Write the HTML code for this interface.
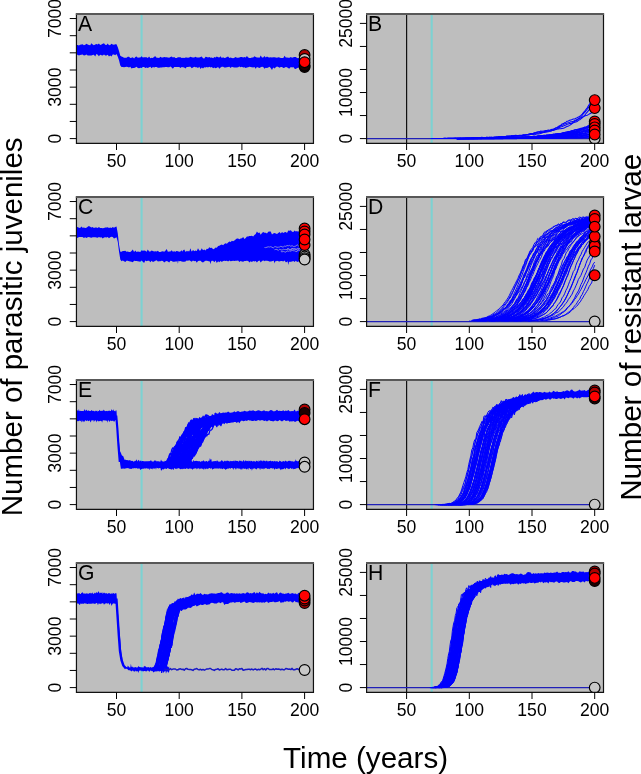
<!DOCTYPE html>
<html><head><meta charset="utf-8"><style>
html,body{margin:0;padding:0;background:#fff;}
svg{display:block;font-family:"Liberation Sans", sans-serif;will-change:transform;filter:blur(0.35px);}
</style></head><body>
<svg width="641" height="774" viewBox="0 0 641 774">
<rect width="641" height="774" fill="#fff"/>
<defs>
<clipPath id="cp00"><rect x="76.45" y="14.0" width="237.00" height="129.40"/></clipPath>
<clipPath id="cp01"><rect x="76.45" y="197.1" width="237.00" height="129.30"/></clipPath>
<clipPath id="cp02"><rect x="76.45" y="380.0" width="237.00" height="129.40"/></clipPath>
<clipPath id="cp03"><rect x="76.45" y="563.1" width="237.00" height="129.30"/></clipPath>
<clipPath id="cp10"><rect x="366.6" y="14.0" width="236.90" height="129.40"/></clipPath>
<clipPath id="cp11"><rect x="366.6" y="197.1" width="236.90" height="129.30"/></clipPath>
<clipPath id="cp12"><rect x="366.6" y="380.0" width="236.90" height="129.40"/></clipPath>
<clipPath id="cp13"><rect x="366.6" y="563.1" width="236.90" height="129.30"/></clipPath>
</defs>
<rect x="76.45" y="14.0" width="237.00" height="129.40" fill="#bebebe"/>
<g clip-path="url(#cp00)">
<line x1="141.58" y1="14.0" x2="141.58" y2="143.4" stroke="#7cd2d2" stroke-width="2.1"/>
<path d="M66.3 44l1.3 .8 1.2-.8 1.3-.3 1.3 1.6 1.2-.8 1.3 .4 1.2-.9 1.3 .9 1.2 .2 1.3 .4 1.2-.7 1.3-.3 1.2-.2 1.3 .9 1.3-.5 1.2-.9 1.3 .8 1.2 .3 1.3 .3 1.2-1.9 1.3 1.2 1.2 .7 1.3-.7 1.2-.4 1.3 .5 1.2-1 1.3 1.5 1.3-.7 1.2-.6 1.3-.6 1.2 1.5 1.3 .3 1.2-1.4 1.3 1.6 1.2-.1 1.3-1.3 1.2 .6 1.3 .3 1.2-.5 1.3 .1 1.3 3 1.2 3.7 1.3 4.8 1.2 .7 1.3 .6 1.2 .7 1.3-.1 1.2 .1 1.3-1 1.2 0 1.3 1.1 1.2-.1 1.3-.5 1.3 1.2 1.2-1.4 1.3-.7 1.2 1.3 1.3-.2 1.2 .1 1.3-1.4 1.2 1.4 1.3-.4 1.2 .1 1.3-.1 1.2 .9 1.3-1.5 1.3 1.6 1.2-.5 1.3 .2 1.2-1.1 1.3-.5 1.2 1.5 1.3 0 1.2 .1 1.3-1.1 1.2 .7 1.3 .1 1.3-.5 1.2 .2 1.3-.1 1.2 .2 1.3 .3 1.2-.6 1.3-.5 1.2 1 1.3-.7 1.2 1 1.3 .1 1.2-.8 1.3 .1 1.3 0 1.2 .7 1.3-.2 1.2 .1 1.3-.3 1.2 0 1.3 .2 1.2-.3 1.3-.8 1.2 .6 1.3 .3 1.2-.2 1.3-.6 1.3 .6 1.2 .1 1.3 0 1.2-.6 1.3-.4 1.2 1.7 1.3 .2 1.2-1.7 1.3 .3 1.2 .5 1.3-.4 1.3 .7 1.2-.4 1.3 .8 1.2-1.3 1.3 .6 1.2-1.1 1.3 .9 1.2 .3 1.3-1.3 1.2 1.7 1.3-.7 1.2 .8 1.3-.3 1.3-.9 1.2-.3 1.3 1.3 1.2-.5 1.3 .6 1.2 .2 1.3-.5 1.2-.8 1.3 .9 1.2-.1 1.3-.3 1.2-.5 1.3 0 1.3 .6 1.2-.6 1.3 .5 1.2-1.3 1.3 1.5 1.2 .4 1.3 .1 1.2-.6 1.3-.1 1.2-1.2 1.3 .9 1.2 .4 1.3-.1 1.3 .3 1.2-2.1 1.3 1.9 1.2-.1 1.3-1.5 1.2 1.7 1.3-1.1 1.2 .8 1.3 .3 1.2-.3 1.3 .3 1.2-.3 1.3 0 1.3 .3 1.2 .2 1.3-.5 1.2 .1 1.3 .6 1.2 .1 1.3 0 1.2-2.3 1.3 1.6 1.2 0 1.3 .4 1.3-.1 1.2-.6 1.3 .6 1.2-.5 1.3-.1 1.2 0 1.3 .8 1.2 .3 1.3-1 1.2 0 1.3-.5 1.2-.7 1.3 2.1 1.3-1 0 10-1.3 .5-1.3 .2-1.2-.3-1.3 0-1.2-.3-1.3 .6-1.2 .3-1.3 .8-1.2-.2-1.3-1.8-1.2 .5-1.3-.4-1.2 1.5-1.3-.2-1.3-1-1.2-.2-1.3 .7-1.2 .2-1.3-1.1-1.2 .1-1.3 .8-1.2-.7-1.3-.5-1.2 .6-1.3 1.3-1.3-.9-1.2 2.3-1.3-2-1.2-1.1-1.3 .7-1.2 .5-1.3-.2-1.2 1-1.3-1.9-1.2-.1-1.3 .4-1.2 .7-1.3-.4-1.3-.5-1.2 1.7-1.3-1.8-1.2 .5-1.3-.1-1.2-.4-1.3-.2-1.2 .6-1.3 .2-1.2 .5-1.3-.8-1.2 .3-1.3-.8-1.3 .6-1.2-.7-1.3 .7-1.2 .3-1.3 0-1.2-.1-1.3-.3-1.2-.4-1.3 1.3-1.2-1.4-1.3 .4-1.2 .1-1.3 .3-1.3-.1-1.2-.6-1.3-.1-1.2 .7-1.3 1.3-1.2-1.7-1.3 .8-1.2 .5-1.3-.8-1.2 .8-1.3-1.3-1.2 .4-1.3-.6-1.3 .8-1.2-.6-1.3 .4-1.2-.1-1.3 1.2-1.2-1.1-1.3 1.7-1.2-2.3-1.3 1.2-1.2-.7-1.3-.1-1.3-.4-1.2 .6-1.3 .8-1.2-1.4-1.3 0-1.2 .1-1.3 0-1.2 1.5-1.3-1-1.2-.2-1.3-.1-1.2 .8-1.3-.9-1.3 .1-1.2-.1-1.3 .1-1.2-.2-1.3 1.8-1.2-1.1-1.3-1.1-1.2 .8-1.3-.1-1.2-.3-1.3 .1-1.2 .2-1.3 0-1.3 .4-1.2-.1-1.3 .2-1.2 0-1.3-.8-1.2 0-1.3 .5-1.2-.3-1.3 1.2-1.2-1.5-1.3 .4-1.3 .9-1.2-.7-1.3 .6-1.2-.9-1.3 0-1.2 1-1.3-.4-1.2 .6-1.3-.4-1.2-1.1-1.3 .7-1.2 .5-1.3-.1-1.3 .7-1.2-1.8-1.3 .6-1.2-.3-1.3-.4-1.2 .4-1.3 .1-1.2-.3-1.3 .1-1.2-1.6-1.3-5.1-1.2-3.6-1.3-2.6-1.3 1.1-1.2-.8-1.3 .2-1.2 1.9-1.3-1.1-1.2 1-1.3-1.6-1.2 .6-1.3 .2-1.2-1.1-1.3 1-1.2-.3-1.3-.4-1.3 1.5-1.2-1.6-1.3-.7-1.2 2.6-1.3-1.9-1.2 .2-1.3 .5-1.2 0-1.3 0-1.2 .2-1.3-1.2-1.2 .8-1.3 .4-1.3-1.1-1.2 .3-1.3 .1-1.2 .5-1.3-.6-1.2 .1-1.3-.4-1.2 .8-1.3-.4-1.2-.1-1.3 .8-1.3-1.3-1.2 2-1.3-1.4z" fill="#0000ff"/>
<circle cx="304.60" cy="55.00" r="5.35" fill="#b00000" stroke="#000" stroke-width="1.15"/>
<circle cx="304.60" cy="59.00" r="5.35" fill="#c8c8c8" stroke="#000" stroke-width="1.15"/>
<circle cx="304.60" cy="67.00" r="5.35" fill="#200000" stroke="#000" stroke-width="1.15"/>
<circle cx="304.60" cy="65.50" r="5.35" fill="#200000" stroke="#000" stroke-width="1.15"/>
<circle cx="304.60" cy="62.20" r="5.35" fill="#ff0000" stroke="#000" stroke-width="1.15"/>
</g>
<path d="M76.45 13.40V143.40H313.45V13.40" fill="none" stroke="#111" stroke-width="1.2"/>
<line x1="75.85" y1="14.00" x2="314.05" y2="14.00" stroke="#585858" stroke-width="2"/>
<line x1="116.50" y1="143.4" x2="116.50" y2="150.00" stroke="#000" stroke-width="1"/>
<text x="116.50" y="166.60" font-size="17.6" text-anchor="middle">50</text>
<line x1="179.20" y1="143.4" x2="179.20" y2="150.00" stroke="#000" stroke-width="1"/>
<text x="179.20" y="166.60" font-size="17.6" text-anchor="middle">100</text>
<line x1="241.90" y1="143.4" x2="241.90" y2="150.00" stroke="#000" stroke-width="1"/>
<text x="241.90" y="166.60" font-size="17.6" text-anchor="middle">150</text>
<line x1="304.60" y1="143.4" x2="304.60" y2="150.00" stroke="#000" stroke-width="1"/>
<text x="304.60" y="166.60" font-size="17.6" text-anchor="middle">200</text>
<line x1="69.75" y1="138.60" x2="76.45" y2="138.60" stroke="#000" stroke-width="1"/>
<text transform="translate(61.00,138.60) rotate(-90)" font-size="17.6" text-anchor="middle">0</text>
<line x1="69.75" y1="121.45" x2="76.45" y2="121.45" stroke="#000" stroke-width="1"/>
<line x1="69.75" y1="104.30" x2="76.45" y2="104.30" stroke="#000" stroke-width="1"/>
<line x1="69.75" y1="87.15" x2="76.45" y2="87.15" stroke="#000" stroke-width="1"/>
<text transform="translate(61.00,87.15) rotate(-90)" font-size="17.6" text-anchor="middle">3000</text>
<line x1="69.75" y1="70.00" x2="76.45" y2="70.00" stroke="#000" stroke-width="1"/>
<line x1="69.75" y1="52.84" x2="76.45" y2="52.84" stroke="#000" stroke-width="1"/>
<line x1="69.75" y1="35.69" x2="76.45" y2="35.69" stroke="#000" stroke-width="1"/>
<line x1="69.75" y1="18.54" x2="76.45" y2="18.54" stroke="#000" stroke-width="1"/>
<text transform="translate(61.00,18.54) rotate(-90)" font-size="17.6" text-anchor="middle">7000</text>
<text x="77.95" y="31.00" font-size="21.2">A</text>
<rect x="366.6" y="14.0" width="236.90" height="129.40" fill="#bebebe"/>
<g clip-path="url(#cp10)">
<line x1="406.60" y1="14.0" x2="406.60" y2="143.4" stroke="#111" stroke-width="1.2"/>
<line x1="431.68" y1="14.0" x2="431.68" y2="143.4" stroke="#7cd2d2" stroke-width="2.1"/>
<path d="M356.4 138.6l239.6 0" fill="none" stroke="#2020b8" stroke-width="1.4" stroke-linejoin="round"/>
<path d="M431.7 138.4l1.2 0 1.3 0 1.2 0 1.3 0 1.3 0 1.2 0 1.3 0 1.2 0 1.3 0 1.2-.1 1.3 0 1.2 .1 1.3-.1 1.2-.1 1.3 .1 1.2 0 1.3-.1 1.3 0 1.2-.1 1.3 .1 1.2 0 1.3-.1 1.2 0 1.3-.1 1.2 0 1.3 .2 1.2-.2 1.3 0 1.2 0 1.3 0 1.3 .1 1.2-.3 1.3 .1 1.2 0 1.3-.2 1.2 0 1.3 .1 1.2-.1 1.3-.1 1.2-.3 1.3 .2 1.2 0 1.3-.1 1.3-.1 1.2 .3 1.3-.3 1.2-.1 1.3 .1 1.2-.1 1.3-.1 1.2 0 1.3 .1 1.2-.2 1.3-.3 1.2 .1 1.3 0 1.3-.3 1.2 .1 1.3-.2 1.2-.4 1.3 .1 1.2 .1 1.3-.2 1.2-.3 1.3 0 1.2-.3 1.3-.2 1.3 .3 1.2-.1 1.3-.1 1.2-.1 1.3-.1 1.2-.2 1.3 0 1.2-.1 1.3-.4 1.2-.1 1.3-.6 1.2-.2 1.3 0 1.3-.2 1.2-.6 1.3-.3 1.2-.5 1.3-.1 1.2-.1 1.3-.6 1.2 .1 1.3-.2 1.2-.2 1.3-.4 1.2 .1 1.3-.5 1.3 .2 1.2-.4 1.3-.6 1.2 0 1.3-.6 1.2-.8 1.3-.2 1.2-1.2 1.3-.6 1.2-.6 1.3-1.3 1.3-.3 1.2-.8 1.3-.7 1.2-.8 1.3-.3 1.2-.7 1.3-.4 1.2-.3 1.3-.5 1.2 0 1.3-.9 1.2-.5 1.3-.6 1.3-.8 1.2-.9 1.3-1.2 1.2-1.5 1.3-1.6 1.2-1.6 1.3-1.7 1.2-1.9 1.3-2 1.2-2.1 1.3-1.1 1.2-1.8 1.3-1.6" fill="none" stroke="#0000ff" stroke-width="1.05" stroke-linejoin="round"/>
<path d="M431.7 138.4l1.2 0 1.3 0 1.2 0 1.3 0 1.3 0 1.2 0 1.3 0 1.2 0 1.3 0 1.2-.1 1.3 0 1.2 0 1.3 0 1.2-.1 1.3 .1 1.2-.1 1.3 0 1.3 0 1.2 0 1.3 0 1.2-.1 1.3 .1 1.2-.1 1.3 .1 1.2-.1 1.3 0 1.2 0 1.3 0 1.2 0 1.3 0 1.3-.1 1.2 0 1.3 0 1.2-.1 1.3-.1 1.2 0 1.3 .1 1.2-.2 1.3-.1 1.2 0 1.3 0 1.2 0 1.3-.2 1.3-.1 1.2 .2 1.3-.2 1.2 .1 1.3 0 1.2 .1 1.3 0 1.2-.2 1.3-.2 1.2-.2 1.3 0 1.2 0 1.3-.4 1.3 .2 1.2-.2 1.3 0 1.2-.2 1.3-.1 1.2-.2 1.3 0 1.2-.3 1.3 .2 1.2 .2 1.3-.3 1.3 0 1.2-.3 1.3 .3 1.2-.4 1.3 .1 1.2-.3 1.3-.3 1.2 .1 1.3-.4 1.2-.2 1.3-.2 1.2-.4 1.3-.3 1.3-.1 1.2-.4 1.3-.2 1.2-.4 1.3-.3 1.2-.1 1.3-.1 1.2-.1 1.3 .1 1.2-.6 1.3 .1 1.2-.5 1.3-.1 1.3-.2 1.2-.6 1.3-.3 1.2-.2 1.3-.5 1.2-.6 1.3-.8 1.2-.2 1.3-1 1.2-.8 1.3-.3 1.3-.7 1.2-.7 1.3-.3 1.2-.6 1.3-.3 1.2-.4 1.3-.6 1.2 0 1.3-.5 1.2-.6 1.3-.5 1.2-.5 1.3-1 1.3-.9 1.2-1 1.3-1.4 1.2-1.6 1.3-1.3 1.2-1.5 1.3-1.7 1.2-1.5 1.3-1.7 1.2-1.4 1.3-1.3 1.2-1.4 1.3-.8" fill="none" stroke="#0000ff" stroke-width="1.05" stroke-linejoin="round"/>
<path d="M431.7 138.5l1.2 0 1.3 0 1.2-.1 1.3 .1 1.3-.1 1.2 0 1.3 0 1.2 0 1.3 0 1.2 0 1.3 0 1.2 0 1.3-.1 1.2 0 1.3 0 1.2 0 1.3 0 1.3 0 1.2 0 1.3 0 1.2-.1 1.3 0 1.2 0 1.3 0 1.2 0 1.3 0 1.2-.1 1.3 0 1.2 0 1.3 0 1.3-.1 1.2 .1 1.3-.1 1.2 0 1.3-.1 1.2 0 1.3-.1 1.2 0 1.3-.2 1.2-.1 1.3 0 1.2 .2 1.3-.2 1.3 .1 1.2 .1 1.3-.2 1.2 .2 1.3 0 1.2-.2 1.3 .2 1.2-.3 1.3-.2 1.2 .1 1.3-.2 1.2-.2 1.3-.1 1.3 .4 1.2-.5 1.3 0 1.2-.2 1.3 0 1.2-.2 1.3-.1 1.2-.2 1.3-.1 1.2 0 1.3 .1 1.3 .3 1.2-.2 1.3 0 1.2-.3 1.3-.1 1.2-.3 1.3 0 1.2-.5 1.3 .1 1.2 .1 1.3-.4 1.2-.2 1.3-.4 1.3-.5 1.2-.1 1.3-.2 1.2 0 1.3-.1 1.2-.6 1.3-.1 1.2-.1 1.3-.2 1.2-.2 1.3 0 1.2-.1 1.3-.2 1.3-.4 1.2-.1 1.3-.6 1.2 0 1.3-.7 1.2-.4 1.3-.6 1.2-.7 1.3-.6 1.2-.8 1.3-.1 1.3-.8 1.2-.5 1.3-.3 1.2-.8 1.3-.3 1.2-.4 1.3-.1 1.2-.5 1.3-.3 1.2-.5 1.3-.3 1.2-.4 1.3-1.2 1.3-.5 1.2-1 1.3-1 1.2-1.5 1.3-1 1.2-1.6 1.3-1.5 1.2-1.5 1.3-1.7 1.2-1.2 1.3-1.6 1.2-1.1 1.3-1" fill="none" stroke="#0000ff" stroke-width="1.05" stroke-linejoin="round"/>
<path d="M431.7 138.5l1.2 0 1.3 0 1.2 0 1.3-.1 1.3 0 1.2 0 1.3 0 1.2 0 1.3 0 1.2 0 1.3 0 1.2 0 1.3 0 1.2 0 1.3 0 1.2 0 1.3 0 1.3-.2 1.2 .1 1.3 0 1.2 0 1.3 0 1.2-.1 1.3 0 1.2 0 1.3-.1 1.2 0 1.3 0 1.2 0 1.3 0 1.3-.1 1.2 .1 1.3-.2 1.2 .1 1.3-.1 1.2 .1 1.3 0 1.2 0 1.3-.1 1.2 0 1.3-.1 1.2-.1 1.3 .1 1.3 0 1.2-.2 1.3 0 1.2-.1 1.3 .1 1.2-.2 1.3-.1 1.2-.1 1.3-.2 1.2 .1 1.3 0 1.2 0 1.3 0 1.3 0 1.2-.1 1.3 0 1.2 0 1.3-.1 1.2-.1 1.3 0 1.2-.5 1.3 .4 1.2-.5 1.3 .1 1.3-.2 1.2 0 1.3-.4 1.2-.3 1.3 .2 1.2-.3 1.3-.1 1.2-.1 1.3 0 1.2-.1 1.3-.2 1.2-.3 1.3 .1 1.3 0 1.2 .1 1.3-.4 1.2-.2 1.3 0 1.2-.4 1.3-.3 1.2-.3 1.3-.6 1.2 0 1.3-.4 1.2-.5 1.3-.5 1.3-.2 1.2-.1 1.3-.6 1.2-.4 1.3 0 1.2-.5 1.3-.3 1.2 .1 1.3-.3 1.2-.1 1.3-.3 1.3-.2 1.2-.5 1.3-.6 1.2-.5 1.3-.5 1.2-.7 1.3-.9 1.2-.9 1.3-1.5 1.2-.6 1.3-.8 1.2-.7 1.3-1.1 1.3-.3 1.2-.8 1.3-.7 1.2-.4 1.3-.6 1.2-.5 1.3-.3 1.2-.7 1.3-.8 1.2-.6 1.3-.9 1.2-1.4 1.3-1" fill="none" stroke="#0000ff" stroke-width="1.05" stroke-linejoin="round"/>
<path d="M456.8 138.5l1.2 0 1.3-.1 1.2 0 1.3 0 1.2 0 1.3 0 1.2 0 1.3 0 1.2-.1 1.3 .1 1.3-.1 1.2 0 1.3 0 1.2 0 1.3 0 1.2 0 1.3-.1 1.2 .1 1.3-.1 1.2 0 1.3 0 1.2 0 1.3 0 1.3 0 1.2-.1 1.3 0 1.2 0 1.3 0 1.2-.1 1.3 0 1.2 0 1.3 0 1.2-.1 1.3 0 1.2-.1 1.3-.1 1.3 .2 1.2-.2 1.3 .1 1.2-.1 1.3 0 1.2-.1 1.3 0 1.2-.1 1.3-.1 1.2 0 1.3 0 1.3 0 1.2 0 1.3-.2 1.2-.1 1.3-.3 1.2 .3 1.3 0 1.2-.3 1.3 .1 1.2 .1 1.3-.3 1.2 .1 1.3-.2 1.3-.4 1.2 .1 1.3-.1 1.2 0 1.3-.3 1.2-.1 1.3-.2 1.2 0 1.3-.2 1.2 0 1.3-.1 1.2-.2 1.3-.2 1.3-.1 1.2-.1 1.3 0 1.2-.7 1.3 .2 1.2-.1 1.3 0 1.2-.5 1.3 0 1.2-.2 1.3-.4 1.3-.5 1.2 0 1.3-.5 1.2 0 1.3-.6 1.2 .1 1.3-.6 1.2-.5 1.3-.2 1.2-.5 1.3-.1 1.2-.1 1.3-.6 1.3-.1 1.2-.6 1.3-.1 1.2-.1 1.3-1 1.2 0 1.3-.5 1.2-1 1.3-.5 1.2-.6 1.3-.4 1.2-1 1.3-.7" fill="none" stroke="#0000ff" stroke-width="1.05" stroke-linejoin="round"/>
<path d="M456.8 138.5l1.2 0 1.3-.1 1.2 .1 1.3-.1 1.2 0 1.3 0 1.2 0 1.3 0 1.2 0 1.3-.1 1.3 .1 1.2-.1 1.3 0 1.2 0 1.3 0 1.2 0 1.3 0 1.2 0 1.3 0 1.2-.1 1.3 0 1.2 0 1.3 0 1.3-.1 1.2 .1 1.3-.1 1.2 0 1.3 0 1.2-.1 1.3 0 1.2 0 1.3 0 1.2-.1 1.3-.1 1.2 0 1.3 .1 1.3-.2 1.2 .1 1.3 0 1.2-.1 1.3-.1 1.2 .2 1.3-.1 1.2-.2 1.3 .1 1.2 0 1.3-.3 1.3 .3 1.2-.4 1.3 0 1.2-.2 1.3 .1 1.2-.2 1.3 .1 1.2 .1 1.3-.2 1.2-.1 1.3 .2 1.2-.4 1.3 .2 1.3-.3 1.2 0 1.3-.1 1.2-.1 1.3-.2 1.2-.2 1.3-.1 1.2 0 1.3-.2 1.2-.3 1.3-.1 1.2-.1 1.3-.1 1.3-.1 1.2-.1 1.3-.2 1.2-.1 1.3-.3 1.2-.4 1.3 .3 1.2-.4 1.3-.1 1.2-.2 1.3 0 1.3-.5 1.2 0 1.3-.4 1.2-.5 1.3-.3 1.2 0 1.3-.4 1.2-.3 1.3-.1 1.2-.6 1.3-.3 1.2-.4 1.3-.2 1.3-.4 1.2-.4 1.3 .1 1.2-.9 1.3-.1 1.2-.3 1.3-.5 1.2-.7 1.3-.4 1.2-.6 1.3-.8 1.2-.5 1.3-.8" fill="none" stroke="#0000ff" stroke-width="1.05" stroke-linejoin="round"/>
<path d="M456.8 138.5l1.2 0 1.3 0 1.2-.1 1.3 .1 1.2-.1 1.3 0 1.2 0 1.3 0 1.2 0 1.3 0 1.3 0 1.2 0 1.3-.1 1.2 0 1.3 0 1.2-.1 1.3 .1 1.2 0 1.3-.1 1.2 0 1.3 .1 1.2-.1 1.3-.1 1.3 .2 1.2-.1 1.3-.1 1.2 .1 1.3-.1 1.2 0 1.3-.1 1.2-.1 1.3 .1 1.2-.1 1.3 .1 1.2-.2 1.3 0 1.3 0 1.2 0 1.3 0 1.2 0 1.3 .1 1.2-.2 1.3 0 1.2 0 1.3-.1 1.2-.1 1.3 0 1.3-.1 1.2-.1 1.3 0 1.2-.2 1.3 .1 1.2-.3 1.3 .4 1.2-.1 1.3-.2 1.2-.2 1.3-.1 1.2 .2 1.3-.3 1.3 0 1.2-.2 1.3 .2 1.2-.4 1.3 .1 1.2-.4 1.3 .1 1.2 .1 1.3-.3 1.2-.1 1.3 0 1.2-.3 1.3 .1 1.3-.7 1.2 .2 1.3-.1 1.2-.5 1.3-.2 1.2 .2 1.3-.5 1.2-.1 1.3 0 1.2-.3 1.3 0 1.3-.4 1.2 0 1.3-.1 1.2-.3 1.3-.6 1.2 .2 1.3-.3 1.2-.5 1.3 0 1.2-.8 1.3 .2 1.2-.8 1.3-.1 1.3-.7 1.2-.6 1.3-.2 1.2-.4 1.3-.4 1.2-.3 1.3-.7 1.2-.2 1.3-.4 1.2-.5 1.3-.5 1.2-.5 1.3-.2" fill="none" stroke="#0000ff" stroke-width="1.05" stroke-linejoin="round"/>
<path d="M456.8 138.5l1.2 0 1.3 0 1.2-.1 1.3 .1 1.2-.1 1.3 0 1.2 0 1.3 0 1.2 0 1.3 0 1.3 0 1.2 0 1.3 0 1.2-.1 1.3 0 1.2 .1 1.3-.1 1.2 0 1.3 0 1.2 0 1.3-.1 1.2 .1 1.3 0 1.3-.1 1.2-.1 1.3 .1 1.2-.1 1.3 0 1.2 .1 1.3 0 1.2-.1 1.3-.1 1.2 0 1.3-.2 1.2 .1 1.3 .1 1.3-.1 1.2-.2 1.3 0 1.2 .1 1.3-.1 1.2 0 1.3 0 1.2-.1 1.3-.1 1.2 .2 1.3-.2 1.3-.1 1.2-.1 1.3 .1 1.2-.1 1.3 .1 1.2-.2 1.3 .1 1.2-.3 1.3-.1 1.2-.2 1.3 0 1.2 .2 1.3 .2 1.3-.7 1.2 0 1.3 .1 1.2 0 1.3-.3 1.2 .1 1.3-.4 1.2 .1 1.3 .1 1.2 0 1.3-.3 1.2-.2 1.3 0 1.3-.1 1.2-.2 1.3-.4 1.2 0 1.3-.1 1.2-.4 1.3-.3 1.2 .1 1.3-.2 1.2-.1 1.3-.3 1.3-.3 1.2-.1 1.3-.3 1.2-.2 1.3-.1 1.2-.2 1.3 0 1.2-.6 1.3-.1 1.2-.3 1.3-.1 1.2-.5 1.3-.5 1.3-.2 1.2-.6 1.3-.5 1.2-.1 1.3-.6 1.2-.3 1.3-.5 1.2-.5 1.3-.5 1.2-.6 1.3-.2 1.2-.5 1.3-.3" fill="none" stroke="#0000ff" stroke-width="1.05" stroke-linejoin="round"/>
<path d="M456.8 138.5l1.2 0 1.3 0 1.2 0 1.3 0 1.2 0 1.3 0 1.2-.1 1.3 0 1.2 0 1.3 0 1.3 0 1.2 0 1.3-.1 1.2 .1 1.3 0 1.2-.1 1.3 0 1.2 0 1.3 0 1.2 0 1.3 0 1.2-.1 1.3 0 1.3 0 1.2 0 1.3 0 1.2 0 1.3 0 1.2-.1 1.3 0 1.2 0 1.3 0 1.2 0 1.3-.1 1.2 0 1.3 0 1.3-.1 1.2 0 1.3 0 1.2 0 1.3-.2 1.2 .1 1.3-.1 1.2 0 1.3 .1 1.2-.1 1.3-.2 1.3 0 1.2 0 1.3-.2 1.2 .2 1.3-.2 1.2 0 1.3 0 1.2 .1 1.3-.3 1.2-.1 1.3 .2 1.2-.4 1.3-.1 1.3-.2 1.2 .3 1.3-.2 1.2 0 1.3-.1 1.2-.1 1.3-.2 1.2-.1 1.3 .1 1.2-.1 1.3 .1 1.2-.5 1.3-.1 1.3-.2 1.2 .2 1.3-.6 1.2 .1 1.3 0 1.2-.4 1.3-.1 1.2-.6 1.3 .1 1.2-.3 1.3 .1 1.3-.2 1.2-.3 1.3 .1 1.2-.2 1.3-.3 1.2-.2 1.3-.4 1.2-.1 1.3 .1 1.2-.7 1.3-.2 1.2-.5 1.3-.2 1.3-.4 1.2-.5 1.3-.7 1.2-.2 1.3-.1 1.2-.6 1.3-.3 1.2-.6 1.3-.5 1.2-.1 1.3-.4 1.2-.5 1.3-.4" fill="none" stroke="#0000ff" stroke-width="1.05" stroke-linejoin="round"/>
<path d="M456.8 138.5l1.2 0 1.3 0 1.2-.1 1.3 .1 1.2 0 1.3-.1 1.2 .1 1.3-.1 1.2 0 1.3 0 1.3 0 1.2 0 1.3 0 1.2 0 1.3 0 1.2-.1 1.3 0 1.2 0 1.3 0 1.2 0 1.3 0 1.2 0 1.3 0 1.3 0 1.2-.1 1.3 0 1.2 0 1.3 0 1.2 0 1.3 0 1.2 0 1.3-.1 1.2 0 1.3-.1 1.2 0 1.3-.1 1.3 0 1.2 0 1.3 .1 1.2-.1 1.3 .1 1.2 0 1.3-.3 1.2 .1 1.3-.1 1.2 0 1.3-.1 1.3 0 1.2 .1 1.3-.1 1.2-.1 1.3-.1 1.2 0 1.3-.1 1.2 0 1.3-.1 1.2 0 1.3-.3 1.2 .2 1.3 0 1.3-.2 1.2-.3 1.3 .3 1.2-.3 1.3-.5 1.2 .4 1.3 0 1.2-.1 1.3 .1 1.2-.2 1.3-.2 1.2-.4 1.3 0 1.3 0 1.2 0 1.3-.4 1.2-.1 1.3 0 1.2-.6 1.3-.1 1.2 0 1.3 0 1.2-.3 1.3-.4 1.3 .2 1.2-.4 1.3 .1 1.2-.2 1.3-.2 1.2-.1 1.3-.4 1.2 0 1.3-.2 1.2-.4 1.3-.1 1.2-.6 1.3-.2 1.3-.4 1.2-.6 1.3-.3 1.2-.4 1.3-.4 1.2-.3 1.3-.3 1.2-.6 1.3-.3 1.2-.6 1.3-.1 1.2-.3 1.3-.4" fill="none" stroke="#0000ff" stroke-width="1.05" stroke-linejoin="round"/>
<path d="M456.8 138.5l1.2 0 1.3 0 1.2 0 1.3 0 1.2 0 1.3-.1 1.2 .1 1.3-.1 1.2 0 1.3 0 1.3 0 1.2 0 1.3 0 1.2 0 1.3 0 1.2 0 1.3 0 1.2-.1 1.3 .1 1.2-.1 1.3 0 1.2 .1 1.3-.2 1.3 0 1.2 0 1.3 0 1.2 0 1.3 .1 1.2-.1 1.3 0 1.2 0 1.3-.1 1.2 0 1.3 .1 1.2-.1 1.3 0 1.3 0 1.2-.2 1.3 0 1.2 .1 1.3-.1 1.2-.1 1.3 0 1.2 0 1.3-.1 1.2 .1 1.3-.1 1.3-.1 1.2-.1 1.3-.1 1.2 .1 1.3-.2 1.2 .1 1.3-.1 1.2-.1 1.3 .2 1.2-.2 1.3-.1 1.2 0 1.3 0 1.3 .3 1.2-.7 1.3 .2 1.2-.1 1.3 0 1.2-.3 1.3-.4 1.2 .5 1.3-.5 1.2 .1 1.3-.3 1.2-.1 1.3 0 1.3 .1 1.2-.1 1.3-.3 1.2 .1 1.3-.3 1.2 0 1.3-.1 1.2-.1 1.3-.3 1.2-.1 1.3-.1 1.3-.2 1.2-.4 1.3 .2 1.2-.6 1.3 0 1.2-.4 1.3-.1 1.2-.7 1.3 .4 1.2-.6 1.3-.4 1.2-.1 1.3 .1 1.3-.5 1.2-.5 1.3-.1 1.2 0 1.3-.7 1.2-.1 1.3-.4 1.2 0 1.3-.8 1.2-.2 1.3-.8 1.2-.5 1.3-.3" fill="none" stroke="#0000ff" stroke-width="1.05" stroke-linejoin="round"/>
<path d="M456.8 138.5l1.2 0 1.3 0 1.2 0 1.3 0 1.2 0 1.3 0 1.2 0 1.3 0 1.2 0 1.3-.1 1.3 0 1.2 0 1.3 0 1.2 0 1.3 0 1.2 0 1.3 0 1.2 0 1.3-.1 1.2 .1 1.3-.1 1.2 0 1.3 0 1.3 0 1.2 0 1.3 0 1.2-.1 1.3 0 1.2 0 1.3 0 1.2 .1 1.3-.2 1.2 .1 1.3-.1 1.2 0 1.3 0 1.3 0 1.2-.1 1.3-.1 1.2 .1 1.3-.1 1.2 0 1.3-.1 1.2 0 1.3 0 1.2-.1 1.3 0 1.3 0 1.2 0 1.3-.1 1.2 .1 1.3-.1 1.2-.1 1.3 0 1.2-.1 1.3 .1 1.2-.1 1.3-.3 1.2 0 1.3 .2 1.3-.2 1.2-.1 1.3 0 1.2 0 1.3-.4 1.2 .2 1.3-.3 1.2 .1 1.3 0 1.2-.4 1.3 .2 1.2-.2 1.3-.1 1.3 0 1.2-.3 1.3-.1 1.2 .1 1.3 0 1.2-.4 1.3-.3 1.2 .4 1.3-.3 1.2-.3 1.3-.4 1.3-.1 1.2-.1 1.3-.4 1.2 .2 1.3-.4 1.2-.1 1.3-.4 1.2-.2 1.3-.1 1.2-.1 1.3-.2 1.2-.2 1.3-.2 1.3-.2 1.2-.1 1.3-.6 1.2-.4 1.3-.2 1.2-.2 1.3-.7 1.2-.3 1.3-.6 1.2-.3 1.3-.5 1.2-.6 1.3-.4" fill="none" stroke="#0000ff" stroke-width="1.05" stroke-linejoin="round"/>
<path d="M456.8 138.5l1.2 0 1.3 0 1.2 0 1.3 0 1.2 0 1.3 0 1.2 0 1.3 0 1.2 0 1.3 0 1.3-.1 1.2 .1 1.3-.1 1.2 0 1.3 0 1.2 0 1.3 0 1.2 0 1.3 0 1.2-.1 1.3 0 1.2 0 1.3 0 1.3 0 1.2 0 1.3 0 1.2 0 1.3 0 1.2-.1 1.3 .1 1.2 0 1.3-.1 1.2 0 1.3-.1 1.2 0 1.3 0 1.3 0 1.2-.1 1.3 0 1.2 0 1.3 0 1.2-.2 1.3 .1 1.2 .1 1.3-.2 1.2 0 1.3-.1 1.3 .1 1.2-.1 1.3-.1 1.2 .1 1.3 .1 1.2-.2 1.3-.1 1.2 .1 1.3-.1 1.2 .1 1.3-.4 1.2-.1 1.3 .1 1.3 0 1.2-.1 1.3 0 1.2-.4 1.3 .1 1.2 0 1.3 .1 1.2-.2 1.3-.2 1.2-.1 1.3 .2 1.2-.1 1.3 .2 1.3-.5 1.2 .2 1.3-.5 1.2 0 1.3-.2 1.2-.1 1.3-.2 1.2-.1 1.3-.1 1.2-.2 1.3 0 1.3-.3 1.2-.2 1.3 .1 1.2-.4 1.3-.2 1.2-.1 1.3-.2 1.2-.1 1.3-.3 1.2 .1 1.3-.1 1.2-.3 1.3-.5 1.3-.4 1.2-.1 1.3-.2 1.2-.2 1.3-.5 1.2-.4 1.3-.1 1.2-.7 1.3-.2 1.2-.4 1.3-.8 1.2-.2 1.3-.5" fill="none" stroke="#0000ff" stroke-width="1.05" stroke-linejoin="round"/>
<path d="M456.8 138.5l1.2 0 1.3 0 1.2 0 1.3 0 1.2 0 1.3 0 1.2 0 1.3 0 1.2 0 1.3 0 1.3 0 1.2-.1 1.3 0 1.2 0 1.3 .1 1.2-.1 1.3 0 1.2 0 1.3 0 1.2 0 1.3-.1 1.2 .1 1.3 0 1.3-.1 1.2 .1 1.3-.1 1.2 0 1.3 0 1.2 0 1.3-.1 1.2 0 1.3 0 1.2 0 1.3 0 1.2 0 1.3 0 1.3-.1 1.2 .1 1.3 0 1.2-.2 1.3 0 1.2-.1 1.3 0 1.2 .1 1.3-.1 1.2 0 1.3 0 1.3 0 1.2-.1 1.3 0 1.2 0 1.3-.1 1.2 0 1.3 0 1.2-.2 1.3 0 1.2-.1 1.3 .1 1.2-.1 1.3-.2 1.3 .2 1.2-.3 1.3 .2 1.2-.2 1.3-.1 1.2-.1 1.3 0 1.2 0 1.3-.2 1.2 .1 1.3-.4 1.2 .1 1.3-.1 1.3-.3 1.2 .2 1.3-.4 1.2-.3 1.3 .2 1.2-.1 1.3 .1 1.2-.4 1.3 .2 1.2-.1 1.3-.1 1.3-.1 1.2-.3 1.3-.2 1.2 0 1.3-.1 1.2-.3 1.3-.2 1.2-.4 1.3 .1 1.2-.3 1.3-.5 1.2 0 1.3-.2 1.3-.4 1.2-.2 1.3-.3 1.2-.6 1.3-.1 1.2-.1 1.3-.2 1.2-.2 1.3-.8 1.2 0 1.3-.1 1.2-.2 1.3-.3" fill="none" stroke="#0000ff" stroke-width="1.05" stroke-linejoin="round"/>
<path d="M456.8 138.5l1.2 0 1.3 0 1.2 0 1.3 0 1.2 0 1.3 0 1.2 0 1.3 0 1.2 0 1.3 0 1.3 0 1.2 0 1.3 0 1.2 0 1.3-.1 1.2 0 1.3 0 1.2 0 1.3 0 1.2 0 1.3 0 1.2 0 1.3 0 1.3 0 1.2 0 1.3-.1 1.2 .1 1.3 0 1.2-.1 1.3 0 1.2 0 1.3-.1 1.2 0 1.3 0 1.2 0 1.3-.1 1.3 0 1.2 0 1.3 .1 1.2-.1 1.3 .1 1.2-.2 1.3 0 1.2 0 1.3-.1 1.2 .1 1.3-.1 1.3 0 1.2 0 1.3-.1 1.2 .1 1.3-.1 1.2-.2 1.3 .1 1.2-.2 1.3 .1 1.2-.2 1.3 0 1.2 .2 1.3-.3 1.3 0 1.2 0 1.3-.1 1.2 .2 1.3-.4 1.2 0 1.3 .2 1.2-.4 1.3 .1 1.2 .1 1.3-.2 1.2-.2 1.3-.1 1.3-.1 1.2-.1 1.3 0 1.2 .1 1.3-.2 1.2-.3 1.3-.2 1.2 .1 1.3-.4 1.2 .1 1.3-.1 1.3-.2 1.2-.1 1.3 .1 1.2-.4 1.3-.1 1.2-.1 1.3 0 1.2-.4 1.3 .1 1.2-.4 1.3-.2 1.2-.3 1.3-.3 1.3-.3 1.2 .1 1.3-.4 1.2-.4 1.3-.1 1.2-.5 1.3 0 1.2-.3 1.3-.4 1.2 0 1.3-.6 1.2 0 1.3-.5" fill="none" stroke="#0000ff" stroke-width="1.05" stroke-linejoin="round"/>
<path d="M456.8 138.6l1.2-.1 1.3 0 1.2 0 1.3 0 1.2 0 1.3 0 1.2 0 1.3 0 1.2 0 1.3 0 1.3 0 1.2 0 1.3 0 1.2 0 1.3-.1 1.2 .1 1.3 0 1.2-.1 1.3 0 1.2 0 1.3 0 1.2 0 1.3 0 1.3-.1 1.2 .1 1.3 0 1.2-.1 1.3 0 1.2 0 1.3 0 1.2 0 1.3 0 1.2 0 1.3-.1 1.2-.1 1.3 .1 1.3 0 1.2-.1 1.3 0 1.2 0 1.3 0 1.2 0 1.3 0 1.2-.1 1.3 0 1.2 0 1.3 0 1.3 0 1.2 0 1.3 0 1.2-.1 1.3 0 1.2-.2 1.3 .1 1.2-.2 1.3 0 1.2 .1 1.3-.1 1.2 0 1.3-.2 1.3 .2 1.2-.2 1.3-.1 1.2 0 1.3 0 1.2 0 1.3-.1 1.2-.3 1.3 .1 1.2 .1 1.3-.1 1.2-.2 1.3 .1 1.3-.2 1.2 0 1.3-.4 1.2 0 1.3 .2 1.2-.3 1.3 0 1.2 .1 1.3-.5 1.2 0 1.3-.3 1.3-.1 1.2-.1 1.3-.3 1.2-.2 1.3 .4 1.2-.3 1.3 0 1.2-.3 1.3-.1 1.2 0 1.3-.2 1.2-.4 1.3 .1 1.3-.5 1.2-.1 1.3 .1 1.2-.6 1.3-.1 1.2-.5 1.3-.2 1.2-.4 1.3-.3 1.2-.5 1.3-.3 1.2-.1 1.3-.6" fill="none" stroke="#0000ff" stroke-width="1.05" stroke-linejoin="round"/>
<path d="M456.8 138.6l1.2-.1 1.3 0 1.2 0 1.3 0 1.2 0 1.3 0 1.2 0 1.3 0 1.2 0 1.3 0 1.3 0 1.2 0 1.3 0 1.2 0 1.3 0 1.2 0 1.3 0 1.2-.1 1.3 .1 1.2-.1 1.3 0 1.2 0 1.3 0 1.3 0 1.2 0 1.3 0 1.2-.1 1.3 .1 1.2-.1 1.3 0 1.2 0 1.3 0 1.2 0 1.3 0 1.2 0 1.3 0 1.3-.1 1.2 0 1.3 .1 1.2-.1 1.3 0 1.2 0 1.3-.1 1.2-.1 1.3 .1 1.2 0 1.3-.1 1.3 0 1.2 0 1.3 0 1.2-.1 1.3 0 1.2 0 1.3-.1 1.2 0 1.3 0 1.2-.1 1.3-.2 1.2 .2 1.3-.3 1.3 .3 1.2-.1 1.3-.1 1.2-.2 1.3-.1 1.2 .1 1.3-.1 1.2-.1 1.3 0 1.2 .1 1.3-.1 1.2-.3 1.3-.2 1.3 .3 1.2-.2 1.3 .1 1.2 .1 1.3-.1 1.2-.3 1.3 .1 1.2-.1 1.3-.3 1.2-.1 1.3 0 1.3-.3 1.2-.2 1.3-.2 1.2 0 1.3-.2 1.2 0 1.3-.2 1.2 .1 1.3-.2 1.2-.5 1.3 .3 1.2-.4 1.3 .1 1.3-.3 1.2-.2 1.3-.1 1.2-.4 1.3-.1 1.2-.2 1.3-.4 1.2-.2 1.3-.5 1.2-.1 1.3-.6 1.2-.1 1.3-.3" fill="none" stroke="#0000ff" stroke-width="1.05" stroke-linejoin="round"/>
<path d="M456.8 138.6l1.2 0 1.3 0 1.2 0 1.3-.1 1.2 .1 1.3-.1 1.2 0 1.3 0 1.2 0 1.3 0 1.3 0 1.2 0 1.3 0 1.2 0 1.3 0 1.2 0 1.3 0 1.2-.1 1.3 .1 1.2 0 1.3-.1 1.2 .1 1.3 0 1.3-.1 1.2 0 1.3 0 1.2 0 1.3 0 1.2 0 1.3-.1 1.2 0 1.3 .1 1.2-.1 1.3 0 1.2 0 1.3 0 1.3 0 1.2-.1 1.3 .1 1.2-.1 1.3 0 1.2 0 1.3 0 1.2 .1 1.3-.1 1.2 0 1.3-.1 1.3 0 1.2-.1 1.3 0 1.2 0 1.3-.1 1.2 .1 1.3 0 1.2-.1 1.3-.1 1.2-.1 1.3 .1 1.2 0 1.3-.1 1.3-.1 1.2 .1 1.3-.2 1.2 .1 1.3-.2 1.2 0 1.3 .1 1.2-.2 1.3 .1 1.2 0 1.3-.3 1.2 .2 1.3-.3 1.3 .1 1.2-.1 1.3-.2 1.2-.1 1.3-.3 1.2 .1 1.3-.1 1.2 .3 1.3-.2 1.2-.4 1.3 .2 1.3-.1 1.2-.2 1.3 0 1.2 0 1.3-.3 1.2-.1 1.3 0 1.2-.3 1.3 0 1.2-.2 1.3-.3 1.2-.2 1.3 0 1.3-.2 1.2-.2 1.3-.4 1.2 0 1.3-.3 1.2-.1 1.3-.1 1.2-.5 1.3-.1 1.2-.2 1.3-.3 1.2 .2 1.3-.3" fill="none" stroke="#0000ff" stroke-width="1.05" stroke-linejoin="round"/>
<path d="M456.8 138.6l1.2 0 1.3 0 1.2 0 1.3 0 1.2 0 1.3 0 1.2-.1 1.3 0 1.2 0 1.3 0 1.3 0 1.2 0 1.3 0 1.2 0 1.3 0 1.2 0 1.3 0 1.2 0 1.3 0 1.2 0 1.3 0 1.2 0 1.3-.1 1.3 .1 1.2-.1 1.3 0 1.2 0 1.3 0 1.2 0 1.3 0 1.2 0 1.3 0 1.2 0 1.3 0 1.2 0 1.3-.1 1.3 0 1.2 0 1.3 0 1.2 0 1.3-.1 1.2 0 1.3 0 1.2 0 1.3 0 1.2-.1 1.3 0 1.3 0 1.2 .1 1.3-.1 1.2-.1 1.3 .1 1.2-.1 1.3 0 1.2 0 1.3-.1 1.2 .1 1.3-.2 1.2 .1 1.3-.1 1.3-.1 1.2-.1 1.3 .3 1.2-.1 1.3-.2 1.2 .1 1.3-.1 1.2-.1 1.3-.1 1.2 0 1.3 .1 1.2-.2 1.3-.3 1.3 .4 1.2-.2 1.3-.3 1.2 0 1.3-.1 1.2 .1 1.3 0 1.2-.1 1.3-.2 1.2-.1 1.3 .2 1.3-.3 1.2 .3 1.3-.6 1.2 .1 1.3-.2 1.2-.2 1.3 .1 1.2-.3 1.3-.3 1.2 0 1.3 0 1.2-.4 1.3 .2 1.3-.2 1.2-.3 1.3 .1 1.2-.1 1.3-.3 1.2-.2 1.3 .1 1.2-.2 1.3-.6 1.2-.1 1.3-.2 1.2-.3 1.3-.5" fill="none" stroke="#0000ff" stroke-width="1.05" stroke-linejoin="round"/>
<path d="M456.8 138.6l1.2 0 1.3 0 1.2 0 1.3 0 1.2 0 1.3 0 1.2 0 1.3 0 1.2 0 1.3 0 1.3-.1 1.2 0 1.3 0 1.2 0 1.3 0 1.2 0 1.3 0 1.2 0 1.3 0 1.2 0 1.3 0 1.2 0 1.3 0 1.3 0 1.2 0 1.3-.1 1.2 0 1.3 0 1.2 .1 1.3-.1 1.2 0 1.3 0 1.2 0 1.3 0 1.2 0 1.3 0 1.3-.1 1.2 0 1.3 0 1.2 .1 1.3-.1 1.2 0 1.3 0 1.2 0 1.3 0 1.2-.1 1.3 0 1.3-.1 1.2 .1 1.3-.1 1.2 .1 1.3-.1 1.2 0 1.3-.1 1.2 .1 1.3-.2 1.2 .1 1.3 0 1.2-.1 1.3 0 1.3 .1 1.2 0 1.3-.2 1.2 0 1.3 .1 1.2-.2 1.3 0 1.2-.2 1.3 .1 1.2-.1 1.3-.1 1.2 0 1.3-.2 1.3 0 1.2 0 1.3 .1 1.2-.2 1.3-.1 1.2 .2 1.3-.1 1.2-.2 1.3-.1 1.2 .1 1.3-.1 1.3-.2 1.2 .1 1.3-.2 1.2 .1 1.3-.4 1.2 .1 1.3-.2 1.2-.3 1.3 .2 1.2-.2 1.3-.4 1.2 .3 1.3-.5 1.3-.1 1.2 0 1.3 0 1.2-.2 1.3-.2 1.2 .1 1.3-.3 1.2 0 1.3 .1 1.2-.6 1.3-.6 1.2 .1 1.3-.4" fill="none" stroke="#0000ff" stroke-width="1.05" stroke-linejoin="round"/>
<path d="M456.8 138.6l1.2 0 1.3 0 1.2 0 1.3 0 1.2 0 1.3 0 1.2 0 1.3 0 1.2 0 1.3 0 1.3 0 1.2 0 1.3 0 1.2 0 1.3-.1 1.2 0 1.3 0 1.2 0 1.3 0 1.2 0 1.3 0 1.2 0 1.3 0 1.3 0 1.2 0 1.3 0 1.2 0 1.3 0 1.2 0 1.3 0 1.2-.1 1.3 0 1.2 0 1.3 .1 1.2-.1 1.3 0 1.3 0 1.2 0 1.3 0 1.2-.1 1.3 0 1.2 .1 1.3-.1 1.2 0 1.3 0 1.2 0 1.3 0 1.3 0 1.2 0 1.3 0 1.2-.1 1.3 0 1.2 0 1.3-.1 1.2 .1 1.3 0 1.2-.1 1.3-.1 1.2 .1 1.3-.1 1.3-.1 1.2-.1 1.3 .2 1.2-.1 1.3 0 1.2-.2 1.3 0 1.2 .1 1.3 0 1.2-.1 1.3 0 1.2 0 1.3-.1 1.3-.1 1.2-.1 1.3 .1 1.2-.1 1.3 .1 1.2-.1 1.3-.3 1.2 .3 1.3-.5 1.2 .2 1.3 0 1.3-.1 1.2-.5 1.3 .4 1.2-.1 1.3 0 1.2-.6 1.3 .1 1.2 .1 1.3-.2 1.2 .2 1.3-.4 1.2 .2 1.3-.2 1.3-.4 1.2-.1 1.3 0 1.2-.1 1.3 0 1.2-.4 1.3 0 1.2-.5 1.3-.4 1.2 .2 1.3-.1 1.2-.3 1.3-.2" fill="none" stroke="#0000ff" stroke-width="1.05" stroke-linejoin="round"/>
<path d="M456.8 138.6l1.2 0 1.3 0 1.2 0 1.3 0 1.2 0 1.3 0 1.2 0 1.3 0 1.2 0 1.3 0 1.3 0 1.2 0 1.3 0 1.2 0 1.3 0 1.2 0 1.3 0 1.2-.1 1.3 0 1.2 0 1.3 0 1.2 0 1.3 0 1.3 0 1.2 0 1.3 0 1.2 0 1.3 0 1.2 0 1.3 0 1.2 0 1.3 0 1.2-.1 1.3 .1 1.2 0 1.3 0 1.3-.1 1.2 0 1.3 0 1.2 0 1.3 0 1.2 0 1.3 0 1.2 0 1.3-.1 1.2 .1 1.3 0 1.3-.1 1.2 0 1.3 0 1.2 0 1.3 0 1.2 0 1.3 0 1.2-.1 1.3-.1 1.2 .1 1.3-.1 1.2 0 1.3 0 1.3-.1 1.2 .1 1.3 0 1.2-.1 1.3 0 1.2 0 1.3 0 1.2-.2 1.3 .1 1.2 0 1.3 0 1.2-.1 1.3 0 1.3-.1 1.2 0 1.3 0 1.2-.1 1.3 0 1.2-.1 1.3 0 1.2-.2 1.3 .1 1.2 0 1.3-.2 1.3 .1 1.2-.1 1.3-.3 1.2 .2 1.3 0 1.2-.3 1.3-.2 1.2 .2 1.3-.2 1.2 .3 1.3-.4 1.2-.1 1.3-.2 1.3 0 1.2-.3 1.3-.1 1.2 0 1.3-.3 1.2 .2 1.3-.5 1.2 .1 1.3-.2 1.2-.2 1.3 .3 1.2-.7 1.3 .4" fill="none" stroke="#0000ff" stroke-width="1.05" stroke-linejoin="round"/>
<path d="M456.8 138.6l1.2 0 1.3 0 1.2 0 1.3 0 1.2 0 1.3 0 1.2 0 1.3 0 1.2 0 1.3 0 1.3 0 1.2 0 1.3 0 1.2 0 1.3 0 1.2 0 1.3 0 1.2 0 1.3 0 1.2 0 1.3-.1 1.2 0 1.3 0 1.3 0 1.2 .1 1.3-.1 1.2 0 1.3 0 1.2 0 1.3 0 1.2 0 1.3 0 1.2 0 1.3 0 1.2 0 1.3 0 1.3 0 1.2 0 1.3-.1 1.2 .1 1.3 0 1.2 0 1.3-.1 1.2 0 1.3 0 1.2 0 1.3 0 1.3 0 1.2 0 1.3-.1 1.2 .1 1.3-.1 1.2 0 1.3 0 1.2 0 1.3 0 1.2-.1 1.3 .1 1.2-.1 1.3 0 1.3 0 1.2-.1 1.3 .1 1.2-.1 1.3 0 1.2 0 1.3 0 1.2-.1 1.3 0 1.2 0 1.3-.1 1.2 .1 1.3-.1 1.3 0 1.2-.1 1.3-.1 1.2 0 1.3 0 1.2 0 1.3-.1 1.2 0 1.3-.1 1.2 .1 1.3-.1 1.3-.1 1.2 .1 1.3-.1 1.2-.1 1.3 0 1.2 .2 1.3-.2 1.2-.1 1.3-.2 1.2 0 1.3 .2 1.2-.3 1.3 0 1.3-.1 1.2-.2 1.3 0 1.2-.3 1.3 0 1.2-.3 1.3 .4 1.2-.5 1.3-.1 1.2 .1 1.3-.4 1.2 0 1.3-.2" fill="none" stroke="#0000ff" stroke-width="1.05" stroke-linejoin="round"/>
<path d="M456.8 138.6l1.2 0 1.3 0 1.2 0 1.3 0 1.2 0 1.3 0 1.2 0 1.3 0 1.2 0 1.3 0 1.3 0 1.2 0 1.3 0 1.2 0 1.3 0 1.2 0 1.3 0 1.2 0 1.3 0 1.2 0 1.3 0 1.2 0 1.3 0 1.3 0 1.2 0 1.3 0 1.2 0 1.3 0 1.2 0 1.3 0 1.2-.1 1.3 0 1.2 0 1.3 0 1.2 0 1.3 0 1.3 0 1.2 0 1.3 0 1.2 0 1.3 0 1.2 0 1.3 0 1.2 0 1.3 0 1.2 0 1.3-.1 1.3 0 1.2 .1 1.3-.1 1.2 0 1.3 0 1.2 0 1.3-.1 1.2 .1 1.3 0 1.2 0 1.3-.1 1.2 0 1.3-.1 1.3 .1 1.2 0 1.3 0 1.2-.1 1.3 0 1.2 0 1.3 0 1.2 0 1.3 0 1.2 0 1.3 0 1.2 0 1.3-.2 1.3 0 1.2 0 1.3-.1 1.2 .1 1.3 0 1.2-.1 1.3 0 1.2 0 1.3-.1 1.2-.1 1.3 .1 1.3-.1 1.2 .1 1.3-.1 1.2 0 1.3-.2 1.2-.1 1.3 .1 1.2-.3 1.3 .2 1.2 0 1.3-.1 1.2-.1 1.3 0 1.3-.2 1.2 .1 1.3 .1 1.2-.3 1.3 0 1.2-.2 1.3-.1 1.2-.1 1.3-.1 1.2 .1 1.3-.5 1.2 .2 1.3 0" fill="none" stroke="#0000ff" stroke-width="1.05" stroke-linejoin="round"/>
<path d="M456.8 138.6l1.2 0 1.3 0 1.2 0 1.3 0 1.2 0 1.3 0 1.2 0 1.3 0 1.2 0 1.3 0 1.3 0 1.2 0 1.3 0 1.2 0 1.3 0 1.2 0 1.3 0 1.2 0 1.3 0 1.2 0 1.3 0 1.2 0 1.3 0 1.3 0 1.2 0 1.3 0 1.2 0 1.3 0 1.2 0 1.3 0 1.2 0 1.3 0 1.2 0 1.3 0 1.2 0 1.3 0 1.3 0 1.2-.1 1.3 0 1.2 0 1.3 0 1.2 0 1.3 0 1.2 0 1.3 0 1.2 0 1.3 0 1.3 0 1.2 0 1.3 0 1.2 0 1.3 0 1.2-.1 1.3 .1 1.2 0 1.3 0 1.2 0 1.3-.1 1.2 0 1.3 0 1.3 0 1.2-.1 1.3 0 1.2 0 1.3 0 1.2 0 1.3 0 1.2 0 1.3 0 1.2-.1 1.3 .1 1.2-.1 1.3 0 1.3-.1 1.2 .2 1.3-.1 1.2 0 1.3-.1 1.2 0 1.3-.1 1.2 .1 1.3-.1 1.2 .1 1.3-.2 1.3 0 1.2 0 1.3 .1 1.2-.2 1.3 0 1.2 0 1.3 0 1.2 0 1.3-.1 1.2 0 1.3 0 1.2-.1 1.3 0 1.3-.2 1.2 0 1.3 0 1.2-.1 1.3 .1 1.2-.1 1.3-.1 1.2 0 1.3-.5 1.2 .3 1.3-.1 1.2-.1 1.3-.3" fill="none" stroke="#0000ff" stroke-width="1.05" stroke-linejoin="round"/>
<path d="M456.8 138.6l1.2 0 1.3 0 1.2 0 1.3 0 1.2 0 1.3 0 1.2 0 1.3 0 1.2 0 1.3 0 1.3 0 1.2 0 1.3 0 1.2 0 1.3 0 1.2 0 1.3 0 1.2 0 1.3 0 1.2 0 1.3 0 1.2 0 1.3 0 1.3 0 1.2 0 1.3 0 1.2 0 1.3 0 1.2 0 1.3 0 1.2 0 1.3 0 1.2 0 1.3 0 1.2 0 1.3 0 1.3 0 1.2 0 1.3 0 1.2 0 1.3 0 1.2 0 1.3 0 1.2 0 1.3 0 1.2 0 1.3 0 1.3 0 1.2-.1 1.3 0 1.2 .1 1.3-.1 1.2 0 1.3 0 1.2 0 1.3 0 1.2 0 1.3 0 1.2 0 1.3 0 1.3 0 1.2 0 1.3 0 1.2-.1 1.3 .1 1.2 0 1.3-.1 1.2 0 1.3 .1 1.2-.1 1.3 0 1.2 0 1.3 0 1.3 0 1.2-.1 1.3 .1 1.2-.1 1.3 0 1.2 0 1.3 0 1.2-.1 1.3 0 1.2 .1 1.3-.1 1.3 .1 1.2 0 1.3-.1 1.2 0 1.3-.1 1.2 0 1.3 0 1.2 0 1.3-.1 1.2 0 1.3 0 1.2 0 1.3 0 1.3-.1 1.2 0 1.3 0 1.2-.1 1.3 0 1.2-.2 1.3 .2 1.2 0 1.3-.1 1.2 0 1.3-.1 1.2 .1 1.3-.2" fill="none" stroke="#0000ff" stroke-width="1.05" stroke-linejoin="round"/>
<circle cx="594.70" cy="138.60" r="5.35" fill="#c8c8c8" stroke="#000" stroke-width="1.15"/>
<circle cx="594.70" cy="121.50" r="5.35" fill="#ff0000" stroke="#000" stroke-width="1.15"/>
<circle cx="594.70" cy="124.00" r="5.35" fill="#ff0000" stroke="#000" stroke-width="1.15"/>
<circle cx="594.70" cy="127.30" r="5.35" fill="#ff0000" stroke="#000" stroke-width="1.15"/>
<circle cx="594.70" cy="130.50" r="5.35" fill="#ff0000" stroke="#000" stroke-width="1.15"/>
<circle cx="594.70" cy="134.50" r="5.35" fill="#ff0000" stroke="#000" stroke-width="1.15"/>
<circle cx="594.70" cy="108.10" r="5.35" fill="#ff0000" stroke="#000" stroke-width="1.15"/>
<circle cx="594.70" cy="100.10" r="5.35" fill="#ff0000" stroke="#000" stroke-width="1.15"/>
</g>
<path d="M366.6 13.40V143.40H603.5V13.40" fill="none" stroke="#111" stroke-width="1.2"/>
<line x1="366.00" y1="14.00" x2="604.10" y2="14.00" stroke="#585858" stroke-width="2"/>
<line x1="406.60" y1="143.4" x2="406.60" y2="150.00" stroke="#000" stroke-width="1"/>
<text x="406.60" y="166.60" font-size="17.6" text-anchor="middle">50</text>
<line x1="469.30" y1="143.4" x2="469.30" y2="150.00" stroke="#000" stroke-width="1"/>
<text x="469.30" y="166.60" font-size="17.6" text-anchor="middle">100</text>
<line x1="532.00" y1="143.4" x2="532.00" y2="150.00" stroke="#000" stroke-width="1"/>
<text x="532.00" y="166.60" font-size="17.6" text-anchor="middle">150</text>
<line x1="594.70" y1="143.4" x2="594.70" y2="150.00" stroke="#000" stroke-width="1"/>
<text x="594.70" y="166.60" font-size="17.6" text-anchor="middle">200</text>
<line x1="359.90" y1="138.60" x2="366.6" y2="138.60" stroke="#000" stroke-width="1"/>
<text transform="translate(351.80,138.60) rotate(-90)" font-size="17.6" text-anchor="middle">0</text>
<line x1="359.90" y1="115.56" x2="366.6" y2="115.56" stroke="#000" stroke-width="1"/>
<line x1="359.90" y1="92.52" x2="366.6" y2="92.52" stroke="#000" stroke-width="1"/>
<text transform="translate(351.80,92.52) rotate(-90)" font-size="17.6" text-anchor="middle">10000</text>
<line x1="359.90" y1="69.48" x2="366.6" y2="69.48" stroke="#000" stroke-width="1"/>
<line x1="359.90" y1="46.44" x2="366.6" y2="46.44" stroke="#000" stroke-width="1"/>
<line x1="359.90" y1="23.40" x2="366.6" y2="23.40" stroke="#000" stroke-width="1"/>
<text transform="translate(351.80,23.40) rotate(-90)" font-size="17.6" text-anchor="middle">25000</text>
<text x="368.10" y="31.00" font-size="21.2">B</text>
<rect x="76.45" y="197.1" width="237.00" height="129.30" fill="#bebebe"/>
<g clip-path="url(#cp01)">
<line x1="141.58" y1="197.1" x2="141.58" y2="326.4" stroke="#7cd2d2" stroke-width="2.1"/>
<path d="M66.3 227.1l1.3-.1 1.2 .3 1.3 .4 1.3 .3 1.2-3 1.3 1.7 1.2 .7 1.3 .1 1.2-.4 1.3 .6 1.2 .4 1.3-1.7 1.2 1.3 1.3-.3 1.3 .5 1.2-.1 1.3-1 1.2-.9 1.3 .9 1.2 .6 1.3-.5 1.2 1.2 1.3-.5 1.2-.1 1.3 .5 1.2-1 1.3 1.1 1.3-.2 1.2 .3 1.3-.2 1.2-.6 1.3 .2 1.2-.4 1.3 .7 1.2-.5 1.3 .6 1.2-.9 1.3 .6 1.2-.7 1.3-.5 1.3 7 1.2 10.9 1.3 7.4 1.2-.1 1.3-.6 1.2-.2 1.3-.1 1.2 1 1.3-.3 1.2 .6 1.3-.2 1.2-1 1.3-1.4 1.3 2.4 1.2-1.4 1.3 1.4 1.2-.3 1.3 .2 1.2 .1 1.3-1.6 1.2 .4 1.3-.2 1.2 .3 1.3 1 1.2-2.3 1.3 2.1 1.3 0 1.2-1 1.3 .5 1.2 .4 1.3-.2 1.2 .3 1.3-.9 1.2 1.4 1.3-.2 1.2-.4 1.3-.2 1.3 .4 1.2-1 1.3-1.6 1.2 2.6 1.3-.2 1.2 0 1.3-1.2 1.2 1.5 1.3-.5 1.2 .4 1.3-.8 1.2 .3 1.3 .5 1.3-.1 1.2 .8 1.3-1.9 1.2-.9 1.3 2.1 1.2 .3 1.3-1.2 1.2 1 1.3-.7 1.2 .3 1.3-.2 1.2 .4 1.3 .5 1.3 0 1.2 .4 1.3-.4 1.2 0 1.3-.3 1.2 0 1.3-.4 1.2-.1 1.3 .8 1.2-.4 1.3-.8 1.3 1.1 1.2-.4 1.3-.5 1.2 .8 1.3-.4 1.2-.3 1.3-.2 1.2-.2 1.3 .1 1.2 1.4 1.3-.6 1.2-1.1 1.3 1.3 1.3-.3 1.2 .4 1.3-.8 1.2 .4 1.3 .6 1.2-.3 1.3 .1 1.2 .5 1.3-.5 1.2-1.6 1.3 1.5 1.2 0 1.3-.3 1.3 0 1.2-.2 1.3 .5 1.2 .2 1.3 .1 1.2-1 1.3 .5 1.2-2.8 1.3 3.4 1.2-.2 1.3-.6 1.2 0 1.3 .1 1.3-.2 1.2 .8 1.3-.7 1.2 0 1.3-.2 1.2 .1 1.3-.6 1.2 1.2 1.3-.7 1.2-.4 1.3 .7 1.2 0 1.3-.5 1.3 1 1.2-1.6 1.3 1.4 1.2 .3 1.3-.3 1.2-.5 1.3-.6 1.2 .8 1.3 .3 1.2-.1 1.3-.4 1.3-.2 1.2 1 1.3-.5 1.2 .5 1.3-.2 1.2-.6 1.3-.1 1.2 .8 1.3-.4 1.2-.9 1.3 1 1.2 .4 1.3-.4 1.3 .3 0 9.3-1.3 .1-1.3-.3-1.2-.3-1.3 .3-1.2 .5-1.3-.1-1.2 .4-1.3-1.3-1.2 1.3-1.3-1.1-1.2 .7-1.3 .1-1.2 .3-1.3-1.5-1.3 1.4-1.2 .4-1.3-1.8-1.2 1-1.3-.6-1.2 .1-1.3 .6-1.2-.4-1.3-.4-1.2 .6-1.3-.6-1.3-.1-1.2 .5-1.3 .3-1.2-.1-1.3-.3-1.2-.4-1.3 0-1.2 0-1.3-.3-1.2 .7-1.3 1.5-1.2-2-1.3 .4-1.3 1.6-1.2-1.5-1.3 .4-1.2-.6-1.3 1-1.2-.7-1.3 1.2-1.2-1.3-1.3-.4-1.2 .4-1.3 0-1.2 .7-1.3-.3-1.3-.6-1.2 1.2-1.3-1.7-1.2 .4-1.3 0-1.2 .2-1.3-.2-1.2 .1-1.3 .4-1.2-.9-1.3 1.1-1.2-.7-1.3 .2-1.3-.3-1.2 .3-1.3 .9-1.2-1.1-1.3 1.5-1.2-1.1-1.3 1.8-1.2-2.4-1.3 1.6-1.2-1.5-1.3 .1-1.2 .5-1.3 .1-1.3-.5-1.2-.2-1.3 .1-1.2 .7-1.3 1-1.2-.6-1.3-1.2-1.2 .1-1.3 .2-1.2 1.7-1.3-2-1.3 .6-1.2-.7-1.3 1.1-1.2-.8-1.3-.6-1.2 .5-1.3-.3-1.2 1.1-1.3 .1-1.2 .1-1.3-.4-1.2-.3-1.3 .1-1.3-.8-1.2 1.1-1.3-.1-1.2 .4-1.3-.1-1.2-.7-1.3-.2-1.2 1.7-1.3-1.1-1.2-.4-1.3 .6-1.2 .8-1.3-1.3-1.3-.4-1.2 .6-1.3 0-1.2 .2-1.3-1.2-1.2 .5-1.3 .8-1.2 .3-1.3-1.1-1.2 1.4-1.3-1.5-1.3 .1-1.2 .5-1.3-.7-1.2 2.5-1.3-1.4-1.2-1.1-1.3 1.1-1.2-.1-1.3-.4-1.2-.2-1.3-.1-1.2-.2-1.3 1.5-1.3-.5-1.2-.2-1.3-.3-1.2-.4-1.3-.1-1.2 1.3-1.3-.8-1.2-.6-1.3 .7-1.2-1.8-1.3-8.1-1.2-9.4-1.3-4.7-1.3 .7-1.2 .5-1.3-1.5-1.2-.2-1.3 .4-1.2 1.1-1.3-1.4-1.2 .7-1.3-.3-1.2 .2-1.3 .9-1.2-1.2-1.3 .3-1.3-.6-1.2 .9-1.3-.4-1.2-.2-1.3 0-1.2 0-1.3 .6-1.2-.4-1.3-.5-1.2 .3-1.3 .8-1.2-.7-1.3 .7-1.3-1-1.2-.1-1.3 .1-1.2-.1-1.3 1.1-1.2-1.1-1.3 .7-1.2 .3-1.3-.4-1.2-.5-1.3 1.3-1.3-.4-1.2 .2-1.3-1.2z" fill="#0000ff"/>
<path d="M174.2 254l1.2-.3 1.3-2.9 1.2 2.1 1.3 .6 1.3-1.9 1.2-1.4 1.3 2.6 1.2-.9 1.3 .5 1.2-1.7 1.3 2.2 1.2-1.1 1.3-3.6 1.2 4.1 1.3-2.5 1.2 1.4 1.3-.6 1.3 .3 1.2-2.7 1.3 2.2 1.2 0 1.3-2.2 1.2 2 1.3-.6 1.2 1 1.3-1.9 1.2 .2 1.3-1.6 1.3 .8 1.2-.3 1.3 1.4 1.2-.5 1.3-1.2 1.2 .2 1.3-1.8 1.2-.1 1.3-.9 1.2-.3 1.3 .7 1.2-1.2 1.3-.9 1.3 .6 1.2-1.3 1.3-.9 1.2 .4 1.3-1.2 1.2 .5 1.3-.7 1.2-1.1 1.3-.9 1.2-.2 1.3 .8 1.2-.8 1.3-.1 1.3-1.2 1.2 1.8 1.3-1 1.2-1.5 1.3 .1 1.2-.4 1.3-.2 1.2-.1 1.3 .6 1.2-1.5 1.3-.9 1.2-2.6 1.3 1.7 1.3-.5 1.2 2.2 1.3-1.8 1.2-1 1.3 .8 1.2 0 1.3 .7 1.2-1.7 1.3-.3 1.2 .1 1.3 2.8 1.2-1 1.3-.3 1.3 .3 1.2 .7 1.3-1 1.2-1 1.3 1.4 1.2-1.5 1.3 1.1 1.2-.8 1.3-.4 1.2 1.2 1.3-2.7 1.3 .4 1.2-.6 1.3 1.5 1.2 .3 1.3-1.5 1.2 1 1.3-.4 1.2 1 1.3-2 1.2 0 1.3 .1 1.2 .8 1.3-1.8 1.3-.9 0 30.2-1.3-.5-1.3-1-1.2 1.2-1.3-.2-1.2 2.3-1.3-2.6-1.2 .3-1.3 .5-1.2 .2-1.3-.7-1.2 .2-1.3 1.1-1.2-.3-1.3 5.9-1.3-6.9-1.2 1.2-1.3-.7-1.2 1.4-1.3-1.4-1.2 .5-1.3-.5-1.2 1.9-1.3-3.5-1.2 2.1-1.3 4.5-1.3-5.1-1.2 2.1-1.3-2.3-1.2 3.2-1.3-3.7-1.2 1.8-1.3-1.9-1.2 4-1.3-2.6-1.2-.2-1.3-.7-1.2 .1-1.3 2.8-1.3-2.8-1.2-.9-1.3 1.3-1.2 .4-1.3 .3-1.2 .3-1.3 .4-1.2-2.2-1.3 1.4-1.2 .1-1.3-1-1.2 0-1.3 .4-1.3-1.5-1.2 1.9-1.3 .8-1.2-1.7-1.3 .7-1.2 0-1.3 .5-1.2-1-1.3-.2-1.2-.1-1.3-.4-1.2 1.1-1.3-1.7-1.3 2.1-1.2 1.5-1.3-2.7-1.2 3.4-1.3-2.5-1.2-.5-1.3 1.6-1.2-.1-1.3-2.2-1.2 3.4-1.3-2-1.2 5.1-1.3-5.5-1.3-.3-1.2 1.1-1.3-1.7-1.2-.2-1.3 .6-1.2 .3-1.3 .4-1.2 0-1.3-1.5-1.2 1.9-1.3 1.8-1.3-2.4-1.2 0-1.3 1.7-1.2-1.8-1.3-1.6-1.2 1.7-1.3-.6-1.2 .7-1.3 1.6-1.2-1.3-1.3-.1-1.2-1-1.3-.8-1.3 6.6-1.2-6.3-1.3 2.1-1.2-1.7z" fill="#0000ff"/>
<path d="M264.5 247.5l1.2 .1 1.3-.4 1.2-.4 1.3 .2 1.2-.3 1.3 .5 1.2 .8 1.3-1.2 1.3-.1 1.2 .6 1.3-.1 1.2-.2 1.3-.7 1.2 .5 1.3 .4 1.2-1.3 1.3 .5 1.2-.9 1.3 .3 1.3-.4 1.2 .9 1.3-.7 1.2 .9 1.3-.1 1.2-.3 1.3-1.4 1.2 1.1 1.3 .3 1.2 0 1.3-1" fill="none" stroke="#9a9ad8" stroke-width="0.8" stroke-linejoin="round"/>
<path d="M274.5 249.7l1.3-.3 1.2 0 1.3 1.1 1.2-1.2 1.3 .4 1.2 .5 1.3-.9 1.2 .2 1.3 .1 1.2-.1 1.3-.8 1.3 .7 1.2 .8 1.3-1.8 1.2 1.4 1.3-.5 1.2-.5 1.3 1.5 1.2-.8 1.3-1.2 1.2 .7 1.3 .2" fill="none" stroke="#9a9ad8" stroke-width="0.8" stroke-linejoin="round"/>
<path d="M280.8 251.4l1.2 .5 1.3-.5 1.2 .4 1.3 .4 1.2-1.4 1.3 .5 1.3-.4 1.2 .3 1.3-.9 1.2 .4 1.3 .1 1.2 .6 1.3 .1 1.2-1.5 1.3 .3 1.2 .8 1.3-1.6" fill="none" stroke="#9a9ad8" stroke-width="0.8" stroke-linejoin="round"/>
<path d="M287 248.7l1.3 .2 1.3 .8 1.2-.4 1.3-.7 1.2-.1 1.3 0 1.2 1.1 1.3-1.3 1.2 .1 1.3 .3 1.2-.3 1.3-.1" fill="none" stroke="#9a9ad8" stroke-width="0.8" stroke-linejoin="round"/>
<circle cx="304.60" cy="254.50" r="5.35" fill="#c8c8c8" stroke="#000" stroke-width="1.15"/>
<circle cx="304.60" cy="256.50" r="5.35" fill="#c8c8c8" stroke="#000" stroke-width="1.15"/>
<circle cx="304.60" cy="258.20" r="5.35" fill="#c8c8c8" stroke="#000" stroke-width="1.15"/>
<circle cx="304.60" cy="259.50" r="5.35" fill="#c8c8c8" stroke="#000" stroke-width="1.15"/>
<circle cx="304.60" cy="228.50" r="5.35" fill="#ff0000" stroke="#000" stroke-width="1.15"/>
<circle cx="304.60" cy="231.50" r="5.35" fill="#ff0000" stroke="#000" stroke-width="1.15"/>
<circle cx="304.60" cy="234.50" r="5.35" fill="#ff0000" stroke="#000" stroke-width="1.15"/>
<circle cx="304.60" cy="245.00" r="5.35" fill="#ff0000" stroke="#000" stroke-width="1.15"/>
<circle cx="304.60" cy="239.50" r="5.35" fill="#ff0000" stroke="#000" stroke-width="1.15"/>
</g>
<path d="M76.45 196.50V326.40H313.45V196.50" fill="none" stroke="#111" stroke-width="1.2"/>
<line x1="75.85" y1="197.10" x2="314.05" y2="197.10" stroke="#585858" stroke-width="2"/>
<line x1="116.50" y1="326.4" x2="116.50" y2="333.00" stroke="#000" stroke-width="1"/>
<text x="116.50" y="349.60" font-size="17.6" text-anchor="middle">50</text>
<line x1="179.20" y1="326.4" x2="179.20" y2="333.00" stroke="#000" stroke-width="1"/>
<text x="179.20" y="349.60" font-size="17.6" text-anchor="middle">100</text>
<line x1="241.90" y1="326.4" x2="241.90" y2="333.00" stroke="#000" stroke-width="1"/>
<text x="241.90" y="349.60" font-size="17.6" text-anchor="middle">150</text>
<line x1="304.60" y1="326.4" x2="304.60" y2="333.00" stroke="#000" stroke-width="1"/>
<text x="304.60" y="349.60" font-size="17.6" text-anchor="middle">200</text>
<line x1="69.75" y1="321.60" x2="76.45" y2="321.60" stroke="#000" stroke-width="1"/>
<text transform="translate(61.00,321.60) rotate(-90)" font-size="17.6" text-anchor="middle">0</text>
<line x1="69.75" y1="304.45" x2="76.45" y2="304.45" stroke="#000" stroke-width="1"/>
<line x1="69.75" y1="287.30" x2="76.45" y2="287.30" stroke="#000" stroke-width="1"/>
<line x1="69.75" y1="270.15" x2="76.45" y2="270.15" stroke="#000" stroke-width="1"/>
<text transform="translate(61.00,270.15) rotate(-90)" font-size="17.6" text-anchor="middle">3000</text>
<line x1="69.75" y1="253.00" x2="76.45" y2="253.00" stroke="#000" stroke-width="1"/>
<line x1="69.75" y1="235.85" x2="76.45" y2="235.85" stroke="#000" stroke-width="1"/>
<line x1="69.75" y1="218.69" x2="76.45" y2="218.69" stroke="#000" stroke-width="1"/>
<line x1="69.75" y1="201.54" x2="76.45" y2="201.54" stroke="#000" stroke-width="1"/>
<text transform="translate(61.00,201.54) rotate(-90)" font-size="17.6" text-anchor="middle">7000</text>
<text x="77.95" y="214.10" font-size="21.2">C</text>
<rect x="366.6" y="197.1" width="236.90" height="129.30" fill="#bebebe"/>
<g clip-path="url(#cp11)">
<line x1="406.60" y1="197.1" x2="406.60" y2="326.4" stroke="#111" stroke-width="1.2"/>
<line x1="431.68" y1="197.1" x2="431.68" y2="326.4" stroke="#7cd2d2" stroke-width="2.1"/>
<path d="M356.4 321.6l239.6 0" fill="none" stroke="#2020b8" stroke-width="1.4" stroke-linejoin="round"/>
<path d="M474.3 320.9l1.3-.1 1.2 .2 1.3-.3 1.3-.2 1.2 0 1.3-.1 1.2-.3 1.3-.5 1.2-.1 1.3-.3 1.2-.3 1.3-.5 1.2-.3 1.3-.6 1.2-.2 1.3-.7 1.3-.9 1.2-.7 1.3-.6 1.2-.7 1.3-1 1.2-1.2 1.3-2 1.2-.7 1.3-1.5 1.2-1.5 1.3-2 1.2-1.7 1.3-2.2 1.3-1.1 1.2-3.1 1.3-2.9 1.2-2.7 1.3-2.9 1.2-2.8 1.3-3.4 1.2-3.1 1.3-2.8 1.2-3.4 1.3-3.6 1.2-2.8 1.3-3.7 1.3-3.6 1.2-3.1 1.3-2.1 1.2-2.1 1.3-2 1.2-1.8 1.3-2.9 1.2-2 1.3-.8 1.2-1.4 1.3-2.4 1.3-1 1.2-.6 1.3-1.9 1.2-1.3 1.3-2.3 1.2 1 1.3-1.3 1.2-1.2 1.3-1.2 1.2-1.2 1.3 0 1.2-.7 1.3 .1 1.3-2 1.2 1 1.3-1.4 1.2 .2 1.3-1.8 1.2 .4 1.3 .1 1.2-1.1 1.3-1.3 1.2 .3 1.3 .2 1.2-1.5 1.3-.3 1.3 .8 1.2-1.1 1.3 .8 1.2-1.4 1.3-.6 1.2 .4 1.3 1.3 1.2-1.7 1.3 .3 1.2 0 1.3-.9 1.2 1.2 1.3-.8 1.3 .1 1.2-1.5 1.3-.2 1.2-.8" fill="none" stroke="#0000ff" stroke-width="1.0" stroke-linejoin="round"/>
<path d="M503.6 321.1l1.3 0 1.2-.3 1.3-.1 1.2-.1 1.3 0 1.2-.4 1.3 0 1.2-.4 1.3-.2 1.3-.1 1.2-.5 1.3-.4 1.2-.2 1.3-.5 1.2-.5 1.3-.5 1.2-.5 1.3-.9 1.2-.5 1.3-1 1.2-.7 1.3-1.1 1.3-1.2 1.2-1.6 1.3-1.4 1.2-1.7 1.3-.8 1.2-2.8 1.3-1.8 1.2-1.9 1.3-3.3 1.2-2.4 1.3-2.5 1.3-3.1 1.2-3.1 1.3-2.8 1.2-2.4 1.3-3.5 1.2-3.6 1.3-3.4 1.2-4 1.3-2 1.2-3.1 1.3-3.5 1.2-1.9 1.3-2.6 1.3-2.5 1.2-2.3 1.3-1.8 1.2-2 1.3-.9 1.2-1.6 1.3-1.5 1.2-1.7 1.3-1.4 1.2 .3 1.3-3.4 1.2 .7 1.3-1.4 1.3-1.1 1.2-1.2 1.3-.6 1.2-1.4 1.3-.8 1.2 .1 1.3-1.6 1.2 1 1.3-.4 1.2-3.3 1.3 .7 1.2 .6 1.3-.4 1.3-.5" fill="none" stroke="#0000ff" stroke-width="1.0" stroke-linejoin="round"/>
<path d="M489.2 320.4l1.3 0 1.2-.4 1.3 0 1.2-.6 1.3 0 1.3-.4 1.2 .1 1.3-.2 1.2-.6 1.3-.7 1.2-.2 1.3-.5 1.2-.4 1.3-.4 1.2-.7 1.3-1.4 1.2 0 1.3-1.2 1.3-.9 1.2-.6 1.3-1.5 1.2-1.5 1.3-1.3 1.2-1 1.3-1.3 1.2-1.4 1.3-2.3 1.2-2 1.3-1.3 1.3-2.8 1.2-1.6 1.3-2.8 1.2-2.5 1.3-2.8 1.2-2.4 1.3-3.1 1.2-2.9 1.3-2.6 1.2-3.2 1.3-2.4 1.2-3 1.3-2.9 1.3-2.6 1.2-2.5 1.3-1.3 1.2-3.1 1.3-2.4 1.2-1.8 1.3-1.4 1.2-2.2 1.3-1.6 1.2-1.7 1.3-1.2 1.2-1.3 1.3-1.2 1.3-2.5 1.2-.8 1.3-2 1.2 .9 1.3-.7 1.2-.9 1.3-1.5 1.2-.2 1.3-1.5 1.2-.8 1.3-1.6 1.2-.2 1.3-.5 1.3 .3 1.2-.1 1.3-1.8 1.2 0 1.3-.5 1.2-1.1 1.3-1 1.2 .2 1.3-.9 1.2 .4 1.3-.3 1.3-.3 1.2-.3 1.3 .1 1.2-1.2 1.3 .9 1.2-1.8" fill="none" stroke="#0000ff" stroke-width="1.0" stroke-linejoin="round"/>
<path d="M524.5 320.9l1.2-.1 1.3 .1 1.3-.3 1.2 .1 1.3-.2 1.2-.2 1.3-.2 1.2-.1 1.3-.3 1.2-.5 1.3-.1 1.2-.3 1.3-.4 1.2-.5 1.3-.5 1.3-.5 1.2-.8 1.3-.8 1.2-.3 1.3-1.2 1.2-.8 1.3-1.4 1.2-.8 1.3-1.6 1.2-.5 1.3-2.6 1.2-1.7 1.3-1.4 1.3-2 1.2-3.2 1.3-1.6 1.2-2.4 1.3-3.4 1.2-2.2 1.3-3.4 1.2-3.3 1.3-3 1.2-3.3 1.3-3.8 1.3-1.6 1.2-4.6 1.3-3.3 1.2-2.1 1.3-3.2 1.2-1.9 1.3-3.3 1.2-1.9 1.3-2.2 1.2-2 1.3-2 1.2-1.6 1.3-.6 1.3-2.8 1.2-1.3 1.3-1.2 1.2-.7" fill="none" stroke="#0000ff" stroke-width="1.0" stroke-linejoin="round"/>
<path d="M504 320.3l1.3 0 1.2-.2 1.3-.2 1.2-.1 1.3-.6 1.3 .1 1.2-.3 1.3-.5 1.2-.2 1.3-.1 1.2-.7 1.3-.3 1.2-.6 1.3-.7 1.2-.7 1.3-.6 1.2-.4 1.3-.9 1.3-1.2 1.2-.6 1.3-1.4 1.2-1.3 1.3-1 1.2-1.8 1.3-1.7 1.2-.8 1.3-2.7 1.2-1.2 1.3-2.7 1.2-1.6 1.3-2.4 1.3-2.4 1.2-3.2 1.3-1.8 1.2-2.7 1.3-3.1 1.2-2.5 1.3-2.4 1.2-3.7 1.3-2.5 1.2-3.6 1.3-2 1.3-2.5 1.2-1.6 1.3-3.1 1.2-2.5 1.3-1.6 1.2-3.3 1.3-.7 1.2-2.7 1.3-1.7 1.2-.6 1.3-1.9 1.2-.8 1.3-2.9 1.3-.2 1.2-1.7 1.3-.9 1.2-2 1.3 .7 1.2-1.4 1.3-1.5 1.2-1.1 1.3-.5 1.2 .7 1.3-1.6 1.2-.8 1.3-.1 1.3-.9 1.2-.4 1.3-.2 1.2-.8 1.3-.1" fill="none" stroke="#0000ff" stroke-width="1.0" stroke-linejoin="round"/>
<path d="M489.1 319.7l1.3-.1 1.2-.2 1.3-.3 1.2-.2 1.3-.1 1.2-.6 1.3-.4 1.3-.1 1.2-.3 1.3-.7 1.2-.4 1.3-.7 1.2-.5 1.3-.4 1.2-.7 1.3-.9 1.2-.9 1.3-1.2 1.3-.6 1.2-1 1.3-1 1.2-.9 1.3-1.7 1.2-1.3 1.3-2.1 1.2-.9 1.3-1.8 1.2-1.6 1.3-2.1 1.2-2.1 1.3-1.7 1.3-3 1.2-1.7 1.3-2.2 1.2-3.2 1.3-2.6 1.2-1.9 1.3-2.6 1.2-2.4 1.3-2.6 1.2-3.2 1.3-1.9 1.2-2 1.3-3 1.3-2.1 1.2-2.4 1.3-1 1.2-1.2 1.3-3.5 1.2-.6 1.3-1.5 1.2-2.2 1.3-1.4 1.2-1.7 1.3-1.1 1.2-.7 1.3-.9 1.3-1.4 1.2-.6 1.3-1.4 1.2-1.7 1.3 .6 1.2-1 1.3-1.9 1.2 .7 1.3-1.4 1.2-.9 1.3 .4 1.3-3.2 1.2-.1 1.3 .8 1.2-1.1 1.3-.9 1.2 1 1.3-1.1 1.2-1.5 1.3 0 1.2 .5 1.3 .2 1.2-2.6 1.3 1 1.3-.7 1.2-1.1 1.3 .7 1.2-1.2" fill="none" stroke="#0000ff" stroke-width="1.0" stroke-linejoin="round"/>
<path d="M492.3 320.5l1.3-.1 1.2-.2 1.3-.2 1.2-.1 1.3-.5 1.2-.2 1.3-.1 1.3-.5 1.2-.3 1.3-.1 1.2-.4 1.3-.8 1.2-.5 1.3-.3 1.2-.7 1.3-.9 1.2-.5 1.3-.8 1.2-1 1.3-.3 1.3-1.4 1.2-1.3 1.3-1.3 1.2-.8 1.3-2 1.2-2.1 1.3-1.5 1.2-1.9 1.3-2.2 1.2-1.8 1.3-2.3 1.2-2.4 1.3-2.6 1.3-2.1 1.2-3.6 1.3-1.8 1.2-3.1 1.3-2.7 1.2-4.1 1.3-1.1 1.2-4.4 1.3-2.3 1.2-1.9 1.3-3 1.3-2.3 1.2-3.1 1.3-1.1 1.2-1.7 1.3-1.6 1.2-2.2 1.3-1.4 1.2-1.4 1.3-2.1 1.2-1.4 1.3 .2 1.2-2.8 1.3 .1 1.3-1.8 1.2-.2 1.3-2.2 1.2-.2 1.3-1 1.2-1.1 1.3-.4 1.2-1.4 1.3-.3 1.2-.8 1.3 .1 1.2-1.1 1.3-1.4 1.3 .1 1.2-.3 1.3-.9 1.2 .9 1.3-1 1.2-.1 1.3-1.4 1.2-.1 1.3 .5 1.2-1.8 1.3 .8 1.2-.5" fill="none" stroke="#0000ff" stroke-width="1.0" stroke-linejoin="round"/>
<path d="M510.6 319.7l1.3-.1 1.2-.4 1.3-.2 1.2 .1 1.3-.6 1.2-.5 1.3 .1 1.2-.6 1.3-.9 1.3 .1 1.2-.3 1.3-.6 1.2-.3 1.3-1 1.2-.6 1.3-1.1 1.2-.6 1.3-.6 1.2-1.2 1.3-1.1 1.3-1.7 1.2-.8 1.3-1.6 1.2-.9 1.3-1.9 1.2-1.3 1.3-2.1 1.2-.9 1.3-3 1.2-1.5 1.3-1.3 1.2-3 1.3-2.8 1.3-1.8 1.2-2.2 1.3-2.6 1.2-3.8 1.3-1.6 1.2-3.7 1.3-.8 1.2-3.4 1.3-2.8 1.2-1.8 1.3-2.4 1.2-3 1.3-.6 1.3-2.9 1.2-2.7 1.3-.1 1.2-1.6 1.3-1.7 1.2-1.9 1.3-2.3 1.2-.3 1.3-.8 1.2-1.8 1.3-.7 1.2-2.5 1.3 0 1.3-1 1.2-2.4 1.3-1 1.2-.3 1.3-.3 1.2-.6 1.3-1.1 1.2-.6 1.3-.7" fill="none" stroke="#0000ff" stroke-width="1.0" stroke-linejoin="round"/>
<path d="M485.2 320.4l1.3-.2 1.2-.2 1.3-.2 1.2-.1 1.3-.4 1.2 .1 1.3-.6 1.2-.2 1.3-.5 1.2-.4 1.3-.3 1.2-.5 1.3-.6 1.3-.7 1.2-.4 1.3-.7 1.2-.7 1.3-.7 1.2-1.2 1.3-1.4 1.2-.7 1.3-1.6 1.2-1.2 1.3-.8 1.2-1.6 1.3-2 1.3-1.8 1.2-1.7 1.3-2.5 1.2-1.4 1.3-2.5 1.2-1.6 1.3-3.5 1.2-1.8 1.3-3.3 1.2-2 1.3-3.7 1.2-2 1.3-3.4 1.3-3.1 1.2-2.5 1.3-2.4 1.2-2.7 1.3-1.8 1.2-2.7 1.3-4 1.2-.9 1.3-2.8 1.2-1 1.3-1.2 1.3-2.8 1.2-1.4 1.3-.8 1.2-1.6 1.3-.2 1.2-2 1.3-1 1.2-.4 1.3-2.4 1.2-.6 1.3-1.5 1.2-.2 1.3-.3 1.3-.6 1.2-1.6 1.3-1.1 1.2-.7 1.3-1 1.2 .3 1.3 .2 1.2-2.8 1.3-.4 1.2 1.8 1.3-2.4 1.2 .8 1.3-1.4 1.3 .9 1.2-.4 1.3-.7 1.2 .1 1.3-.8 1.2 0 1.3 .6 1.2-.8 1.3-1.3 1.2-.3 1.3 .1 1.2-.2" fill="none" stroke="#0000ff" stroke-width="1.0" stroke-linejoin="round"/>
<path d="M481.8 321.1l1.2-.1 1.3-.1 1.2-.1 1.3-.1 1.2-.3 1.3 .1 1.2-.3 1.3-.2 1.2-.2 1.3-.2 1.3-.3 1.2-.4 1.3-.4 1.2-.7 1.3-.2 1.2-.6 1.3-.6 1.2-.2 1.3-1.5 1.2-.5 1.3-.7 1.2-1.1 1.3-1.1 1.3-1.9 1.2-1.4 1.3-1.1 1.2-2 1.3-1.3 1.2-2.5 1.3-2.3 1.2-2.3 1.3-2.8 1.2-2.6 1.3-3.1 1.2-2.8 1.3-3.3 1.3-3 1.2-4.1 1.3-3.4 1.2-2.5 1.3-3.4 1.2-3.8 1.3-2.6 1.2-3.2 1.3-1 1.2-4.4 1.3-.5 1.3-3.5 1.2-1.3 1.3-2.2 1.2-1.8 1.3-.8 1.2-1.6 1.3-2 1.2-1.6 1.3 .5 1.2-1.5 1.3-1.8 1.2-1.2 1.3-.6 1.3-.9 1.2-.1 1.3-2.1 1.2-.1 1.3-1.2 1.2 .7 1.3-.3 1.2-1.7 1.3-.1 1.2 .1 1.3-1.5 1.2-.9 1.3 .9 1.3-.8 1.2-.8 1.3 .7 1.2-1 1.3-1.6 1.2 1 1.3-.5 1.2 1 1.3-1.4 1.2-.4 1.3 .2 1.2-.3 1.3-1.3 1.3 .8 1.2-.4 1.3 .9 1.2 .5 1.3-2.4" fill="none" stroke="#0000ff" stroke-width="1.0" stroke-linejoin="round"/>
<path d="M490.7 320.3l1.2-.1 1.3-.1 1.2 0 1.3-.5 1.2-.3 1.3-.3 1.3 .2 1.2-.3 1.3-.8 1.2-.4 1.3-.1 1.2-.3 1.3-.5 1.2-.7 1.3-.5 1.2-.7 1.3-1 1.3-.3 1.2-1.3 1.3-1.2 1.2-.9 1.3-1.5 1.2-.9 1.3-1 1.2-2.2 1.3-.9 1.2-1.4 1.3-2.4 1.2-2.5 1.3-2 1.3-2 1.2-2.7 1.3-2.5 1.2-2.1 1.3-2.6 1.2-2.4 1.3-3.5 1.2-1.5 1.3-3.2 1.2-3 1.3-3.5 1.2-1.6 1.3-3.5 1.3-1.4 1.2-2.7 1.3-3.2 1.2-1.8 1.3-.7 1.2-2.3 1.3-2.4 1.2-1.4 1.3-1.5 1.2-2 1.3-1.1 1.2-1.5 1.3-1.1 1.3-.6 1.2-1.9 1.3 0 1.2-1.4 1.3-.5 1.2-.7 1.3-.6 1.2-1.2 1.3-.6 1.2-1.3 1.3-.1 1.3-1.5 1.2-.2 1.3 0 1.2-1 1.3-.2 1.2-1.3 1.3 1 1.2-1.6 1.3 .2 1.2-.6 1.3 .2 1.2-1.1 1.3-.7 1.3-.9 1.2 .7 1.3-.8" fill="none" stroke="#0000ff" stroke-width="1.0" stroke-linejoin="round"/>
<path d="M513.6 320.7l1.3 0 1.2 .1 1.3 0 1.3-.3 1.2-.1 1.3-.1 1.2-.2 1.3-.1 1.2-.4 1.3-.5 1.2-.2 1.3-.3 1.2-.5 1.3-.4 1.3-.5 1.2-.6 1.3-.4 1.2-.9 1.3-1 1.2-.8 1.3-.8 1.2-.6 1.3-1.6 1.2-1.1 1.3-1.7 1.2-2.3 1.3-1.1 1.3-2.2 1.2-2.3 1.3-2.1 1.2-1.5 1.3-3.7 1.2-2.4 1.3-2.1 1.2-3.2 1.3-4.1 1.2-2.5 1.3-3.5 1.2-3.2 1.3-2.9 1.3-3.9 1.2-3 1.3-2 1.2-4.5 1.3-1.8 1.2-2 1.3-3.2 1.2-1.7 1.3-2.4 1.2-1 1.3-2.2 1.2-.8 1.3-1.3 1.3-2 1.2-1.5 1.3-.8 1.2-1.3 1.3-1.8 1.2 .4 1.3-1.5 1.2-.5 1.3-2.1 1.2 .6 1.3 0 1.3-1.6" fill="none" stroke="#0000ff" stroke-width="1.0" stroke-linejoin="round"/>
<path d="M511.8 320.1l1.3-.2 1.2-.2 1.3-.1 1.3-.4 1.2-.2 1.3-.4 1.2-.2 1.3-.2 1.2-.6 1.3-.2 1.2-.7 1.3-.4 1.2-.6 1.3-.3 1.2-1.1 1.3-.3 1.3-1.3 1.2-.6 1.3-.7 1.2-1.1 1.3-1.5 1.2-1.3 1.3-.7 1.2-2 1.3-.9 1.2-2 1.3-1.5 1.2-1.1 1.3-2.1 1.3-2.3 1.2-2.9 1.3-1.6 1.2-2.4 1.3-2.5 1.2-1.9 1.3-3.8 1.2-1.8 1.3-2.7 1.2-3.1 1.3-1.5 1.2-4 1.3-2 1.3-2.3 1.2-3.5 1.3-1.8 1.2-1.9 1.3-1 1.2-1.8 1.3-2 1.2-1.8 1.3-3 1.2-.1 1.3-1.9 1.3-.4 1.2-1.1 1.3-.7 1.2-2.1 1.3-1 1.2-2.1 1.3-.3 1.2-1.7 1.3 .4 1.2-2.1 1.3-.2 1.2-1.1 1.3-.5 1.3-.1" fill="none" stroke="#0000ff" stroke-width="1.0" stroke-linejoin="round"/>
<path d="M501.4 320.3l1.3 .2 1.3-.4 1.2 0 1.3 0 1.2-.8 1.3-.1 1.2-.1 1.3-.1 1.2-.6 1.3-.2 1.2-.6 1.3-.3 1.3-.8 1.2-.1 1.3-1.4 1.2-.5 1.3 .1 1.2-1.2 1.3-1.1 1.2-.3 1.3-1.3 1.2-1.2 1.3-1.6 1.2-1.1 1.3-1.6 1.3-2.2 1.2-1.1 1.3-2.1 1.2-1.5 1.3-2.1 1.2-2.9 1.3-2.4 1.2-2.1 1.3-2.4 1.2-3.1 1.3-2.6 1.2-2.5 1.3-3 1.3-2.6 1.2-3.3 1.3-3.4 1.2-3.2 1.3-1.3 1.2-3.1 1.3-2.3 1.2-2.2 1.3-2.8 1.2-1.3 1.3-3.1 1.2-.5 1.3-1.9 1.3 0 1.2-2.3 1.3-1.7 1.2-1.1 1.3-.9 1.2-2 1.3-.8 1.2-1.1 1.3 .8 1.2-2.4 1.3-2.1 1.3 .9 1.2 .4 1.3-2.9 1.2 2 1.3-2.8 1.2 0 1.3-1.5 1.2-.4 1.3-1.1 1.2-.4 1.3-1.1 1.2 1.6 1.3-1.9" fill="none" stroke="#0000ff" stroke-width="1.0" stroke-linejoin="round"/>
<path d="M491.4 320.8l1.2 0 1.3-.1 1.2-.2 1.3-.1 1.3-.1 1.2-.3 1.3-.3 1.2-.2 1.3-.1 1.2-.1 1.3-.3 1.2-.5 1.3-.4 1.2-.6 1.3-.3 1.2-.7 1.3-.6 1.3-.9 1.2-.8 1.3-.4 1.2-1.7 1.3-.9 1.2-1.3 1.3-1 1.2-1.2 1.3-2.2 1.2-2.5 1.3-.9 1.2-2 1.3-3 1.3-1.9 1.2-2.5 1.3-3.5 1.2-1.6 1.3-3.1 1.2-3.1 1.3-3.7 1.2-3.1 1.3-3.2 1.2-2.7 1.3-4 1.2-1.8 1.3-3.4 1.3-4.1 1.2-.5 1.3-3.2 1.2-2.6 1.3-1.8 1.2-3 1.3-.7 1.2-3.2 1.3-.8 1.2-.1 1.3-1.4 1.3-2.3 1.2-1.6 1.3 .1 1.2-1.7 1.3-.8 1.2-.7 1.3-1.9 1.2 .3 1.3-2.6 1.2 1.5 1.3-2.6 1.2 0 1.3-.6 1.3 .3 1.2-.5 1.3-.8 1.2-.3 1.3-.5 1.2-.8 1.3-1.6 1.2-.6 1.3-.4 1.2 1.1 1.3-.4 1.2-.3 1.3 0 1.3-.6 1.2-.7 1.3-.6" fill="none" stroke="#0000ff" stroke-width="1.0" stroke-linejoin="round"/>
<path d="M490.9 320.6l1.2-.5 1.3 0 1.2-.1 1.3 0 1.2-.5 1.3-.1 1.2-.2 1.3-.7 1.2-.2 1.3-.2 1.3-.5 1.2 0 1.3-.7 1.2-.7 1.3-.8 1.2-.3 1.3-.8 1.2-1 1.3-.9 1.2-1.2 1.3-.7 1.3-.9 1.2-1.2 1.3-1.5 1.2-1.4 1.3-2 1.2-1.7 1.3-1.2 1.2-2.2 1.3-2.5 1.2-1.7 1.3-2.2 1.2-2.4 1.3-2.8 1.3-2.8 1.2-2.3 1.3-2.2 1.2-3.4 1.3-3.2 1.2-2.4 1.3-3.6 1.2-1.9 1.3-2.8 1.2-1.7 1.3-2.8 1.2-1.6 1.3-1.3 1.3-3.3 1.2-2.2 1.3-1 1.2-1.9 1.3-1.3 1.2-1.9 1.3-.7 1.2-1.5 1.3-2.5 1.2 0 1.3-.7 1.2-.5 1.3-2 1.3-1 1.2 .3 1.3-1.9 1.2-.3 1.3-.4 1.2-.5 1.3-1.1 1.2-1.3 1.3 .7 1.2-1.4 1.3-.6 1.3 1.1 1.2-1.1 1.3-1.7 1.2 0 1.3-.3 1.2-.7 1.3-1 1.2 1.4 1.3-.4 1.2-.6 1.3-.7 1.2 .1" fill="none" stroke="#0000ff" stroke-width="1.0" stroke-linejoin="round"/>
<path d="M483.2 320.1l1.3-.2 1.2-.1 1.3-.2 1.2-.5 1.3-.2 1.2 .1 1.3-.7 1.2-.2 1.3-.5 1.3-.1 1.2-.7 1.3-.5 1.2-.8 1.3-.4 1.2-.4 1.3-.8 1.2-1.3 1.3-.2 1.2-1.4 1.3-1.2 1.3-.8 1.2-1.5 1.3-1.3 1.2-1.4 1.3-1.4 1.2-1.8 1.3-2.2 1.2-1.1 1.3-2.4 1.2-1.4 1.3-2.5 1.2-2.3 1.3-2.6 1.3-2 1.2-3.3 1.3-2.9 1.2-2.2 1.3-4.1 1.2-1.8 1.3-2.5 1.2-3.1 1.3-1.8 1.2-2.8 1.3-2.7 1.2-2.5 1.3-1.4 1.3-3 1.2-1.8 1.3-1.2 1.2-1.8 1.3-.8 1.2-2.9 1.3-2.4 1.2 .1 1.3-1 1.2-2.1 1.3-.1 1.2-1 1.3-2.5 1.3-.9 1.2-1.5 1.3 .3 1.2-.8 1.3-.9 1.2-1.9 1.3-.4 1.2-1.1 1.3-.8 1.2-.4 1.3-.7 1.3 .3 1.2-.1 1.3-.4 1.2-.9 1.3-.8 1.2 0 1.3-.1 1.2-.9 1.3-.1 1.2-.6 1.3-.5 1.2 .1 1.3-1.1 1.3 1.2 1.2-2 1.3 1.1 1.2-1.5 1.3 1.7 1.2-.6" fill="none" stroke="#0000ff" stroke-width="1.0" stroke-linejoin="round"/>
<path d="M519.5 320.8l1.2 0 1.3 0 1.2 .1 1.3-.6 1.3 .2 1.2-.4 1.3-.1 1.2-.1 1.3-.3 1.2-.3 1.3-.4 1.2-.3 1.3-.4 1.2-.3 1.3-.9 1.2-.4 1.3-.8 1.3-.6 1.2-.8 1.3-.5 1.2-.7 1.3-1.2 1.2-1.8 1.3-1 1.2-1.8 1.3-1.1 1.2-1.5 1.3-2.1 1.2-1.9 1.3-2.5 1.3-3 1.2-2.5 1.3-1.9 1.2-2.6 1.3-2.6 1.2-3.6 1.3-3 1.2-3.1 1.3-2.8 1.2-3.8 1.3-3.7 1.3-1.9 1.2-3.2 1.3-2.7 1.2-3.4 1.3-1.7 1.2-3.2 1.3-2.2 1.2-.9 1.3-1.9 1.2-1.1 1.3-1.1 1.2-2.3 1.3-.3 1.3-2.7 1.2-.3 1.3-2.4 1.2-.2 1.3-1.2 1.2-.8" fill="none" stroke="#0000ff" stroke-width="1.0" stroke-linejoin="round"/>
<path d="M491.6 321.1l1.3-.2 1.2 0 1.3-.1 1.2-.2 1.3-.1 1.2-.3 1.3 0 1.2-.3 1.3-.1 1.3-.5 1.2 .1 1.3-.7 1.2 0 1.3-.7 1.2-.3 1.3-.7 1.2-.4 1.3-.8 1.2-.5 1.3-1 1.2-.9 1.3-.9 1.3-1.7 1.2-.8 1.3-1.8 1.2-2 1.3-1.2 1.2-2.1 1.3-1.5 1.2-2.9 1.3-2.2 1.2-2.6 1.3-3.5 1.2-2 1.3-3.7 1.3-2.1 1.2-3.2 1.3-4.1 1.2-4.1 1.3-2.6 1.2-3.4 1.3-2.9 1.2-3.6 1.3-3.3 1.2-2 1.3-2.9 1.2-.9 1.3-3.5 1.3-1.9 1.2-1.6 1.3-2.4 1.2-1.1 1.3-1.3 1.2-1.6 1.3-1.2 1.2-.3 1.3-1.6 1.2-2.1 1.3-.4 1.3-.2 1.2-1.7 1.3-.4 1.2-.8 1.3-.4 1.2-1.1 1.3-.5 1.2-1.1 1.3 .2 1.2-1.3 1.3 1.2 1.2-1.6 1.3-.5 1.3 .2 1.2-.9 1.3-.3 1.2-.4 1.3-.7 1.2-.5 1.3-.1 1.2 .9 1.3-1.4 1.2-.1 1.3-.3" fill="none" stroke="#0000ff" stroke-width="1.0" stroke-linejoin="round"/>
<path d="M472.5 320.8l1.3 0 1.2-.1 1.3-.2 1.2-.1 1.3-.4 1.2 .1 1.3-.3 1.2-.4 1.3 .1 1.2-.4 1.3-.3 1.3-.7 1.2-.3 1.3-.5 1.2-.3 1.3-.5 1.2-1.3 1.3-.3 1.2-.9 1.3-.6 1.2-1.3 1.3-1.4 1.2-1 1.3-1.5 1.3-1.5 1.2-1.4 1.3-1.9 1.2-1.7 1.3-2.6 1.2-1 1.3-2.7 1.2-2.7 1.3-3.4 1.2-3.2 1.3-2.4 1.2-2.8 1.3-2 1.3-3.6 1.2-4.1 1.3-2.4 1.2-3.2 1.3-3.7 1.2-2.2 1.3-3.2 1.2-3 1.3-2.7 1.2-1.7 1.3-1.5 1.3-3.2 1.2-2 1.3-.5 1.2-3.5 1.3 1.2 1.2-2.7 1.3-.6 1.2-.6 1.3-3.1 1.2-.9 1.3 1.1 1.2-2.5 1.3-.8 1.3-.6 1.2-.3 1.3-.5 1.2-1.5 1.3-.9 1.2-.4 1.3-.4 1.2 .1 1.3-1.3 1.2 .6 1.3-2.1 1.2 .4 1.3 .4 1.3-.7 1.2-1 1.3-1.1 1.2-.2 1.3 .1 1.2 0 1.3-.7 1.2-1 1.3 .2 1.2 .6 1.3 0 1.2-1.7 1.3 .5 1.3-1.1 1.2 .6 1.3 2.5 1.2-2.4 1.3-.4 1.2-.3 1.3-.6 1.2-.5 1.3 1 1.2-.2 1.3 1" fill="none" stroke="#0000ff" stroke-width="1.0" stroke-linejoin="round"/>
<path d="M487.9 320.5l1.3-.6 1.2 .2 1.3-.5 1.2 .1 1.3-.1 1.2-.5 1.3-.2 1.2-.5 1.3-.2 1.2-.2 1.3-.7 1.3-.4 1.2-.5 1.3-.4 1.2-1.2 1.3-.3 1.2-.9 1.3-.6 1.2-.8 1.3-1.1 1.2-.8 1.3-1.8 1.3-1.1 1.2-1.6 1.3-1.2 1.2-1.5 1.3-1.8 1.2-2.2 1.3-1.5 1.2-2.2 1.3-1.8 1.2-2.6 1.3-1.8 1.2-2.9 1.3-3.4 1.3-1.9 1.2-3.2 1.3-1.7 1.2-2.6 1.3-3.4 1.2-2.5 1.3-3.5 1.2-3 1.3-1.5 1.2-2.1 1.3-2.8 1.2-1.1 1.3-1.8 1.3-1.6 1.2-1.2 1.3-2 1.2-2.2 1.3-1.1 1.2-1.1 1.3-2.2 1.2 .2 1.3-1.4 1.2-1.7 1.3-1.3 1.2 1.7 1.3-2.7 1.3-.7 1.2-.3 1.3-1.3 1.2-1.2 1.3-.4 1.2-1.6 1.3 .4 1.2-2 1.3 .7 1.2-.4 1.3-1.9 1.3 1.7 1.2-2.3 1.3 .9 1.2-1.3 1.3 .1 1.2-1 1.3 1.7 1.2-1.3 1.3 .2 1.2-.9 1.3-.3 1.2-.6 1.3-.5 1.3 .3" fill="none" stroke="#0000ff" stroke-width="1.0" stroke-linejoin="round"/>
<path d="M489 320.3l1.3 0 1.3-.4 1.2 0 1.3-.1 1.2-.3 1.3-.2 1.2-.3 1.3-.5 1.2-.3 1.3-.3 1.2-.4 1.3-.4 1.3-.3 1.2-1 1.3-.8 1.2-.1 1.3-1 1.2-.8 1.3-.3 1.2-1.2 1.3-1.3 1.2-1.1 1.3-1.5 1.2-1.1 1.3-2 1.3-1.7 1.2-1.7 1.3-1.2 1.2-2 1.3-2.9 1.2-1.6 1.3-2.8 1.2-2 1.3-3.2 1.2-2.1 1.3-3.2 1.2-3 1.3-2.7 1.3-2.9 1.2-3.3 1.3-3.2 1.2-1.3 1.3-3.6 1.2-3.3 1.3-2.6 1.2-2.5 1.3-.9 1.2-.9 1.3-3.6 1.2-1 1.3-2.5 1.3 .1 1.2-1.9 1.3-1.4 1.2-.7 1.3-1 1.2-1.5 1.3-2.1 1.2-1.5 1.3-.8 1.2-1.3 1.3 1.3 1.3-2.1 1.2-.5 1.3-.7 1.2 .4 1.3-2.2 1.2 .4 1.3-1.1 1.2-.8 1.3-1.7 1.2 1.3 1.3-1.5 1.2-.3 1.3 0 1.3-.4 1.2 .2 1.3-1.5 1.2 .2 1.3-.2 1.2-.5 1.3 .1 1.2-.8 1.3 .7 1.2-1.5" fill="none" stroke="#0000ff" stroke-width="1.0" stroke-linejoin="round"/>
<path d="M495.5 320.6l1.2-.3 1.3-.2 1.2-.1 1.3-.2 1.2-.2 1.3-.2 1.2-.6 1.3 .2 1.3-.4 1.2-.6 1.3-.1 1.2-.6 1.3-.3 1.2-1 1.3-.1 1.2-.9 1.3-1.2 1.2-.2 1.3-1.1 1.3-1.2 1.2-.8 1.3-1.6 1.2-.6 1.3-1.6 1.2-1.5 1.3-1.1 1.2-2.1 1.3-2.1 1.2-2.1 1.3-1.8 1.2-1.7 1.3-3 1.3-2.6 1.2-1.7 1.3-3 1.2-2.8 1.3-1.8 1.2-4.3 1.3-2.2 1.2-3.8 1.3-2.1 1.2-2.3 1.3-2.3 1.2-3.6 1.3-1.2 1.3-2.2 1.2-2.5 1.3-.6 1.2-3.1 1.3-2.3 1.2-.8 1.3-2.9 1.2 .6 1.3-1.7 1.2-2.1 1.3-.6 1.2-1.2 1.3-.2 1.3-2.5 1.2-1.4 1.3-1.3 1.2 .2 1.3-1.6 1.2 .1 1.3-.3 1.2-1.2 1.3-1 1.2 .7 1.3-1.4 1.3-.3 1.2 0 1.3-1.9 1.2-.2 1.3 1.7 1.2-2.1 1.3-.9 1.2 .1 1.3-.6 1.2-.7 1.3 .2" fill="none" stroke="#0000ff" stroke-width="1.0" stroke-linejoin="round"/>
<path d="M499.6 320.9l1.2-.3 1.3-.1 1.2 .1 1.3-.3 1.2 .1 1.3-.3 1.3-.4 1.2 0 1.3-.5 1.2-.1 1.3-.2 1.2-.2 1.3-.8 1.2-.3 1.3-.6 1.2-.5 1.3-1.3 1.2-.3 1.3-.6 1.3-.9 1.2-1.3 1.3-.7 1.2-1.1 1.3-1.6 1.2-1.6 1.3-1.6 1.2-1.6 1.3-1.6 1.2-1.9 1.3-2.9 1.2-2.5 1.3-2.4 1.3-2 1.2-3.1 1.3-2.9 1.2-2.9 1.3-3.1 1.2-3.4 1.3-3.7 1.2-3 1.3-2.9 1.2-2.8 1.3-3.3 1.3-2.7 1.2-1.6 1.3-3.3 1.2-1.9 1.3-2.3 1.2-2.3 1.3-2.2 1.2-1.1 1.3-1.8 1.2-.5 1.3-2.5 1.2-.9 1.3-.5 1.3-1.6 1.2-.7 1.3-.8 1.2-2.4 1.3-.2 1.2-1.1 1.3 .7 1.2-1.7 1.3-.3 1.2 .1 1.3-1.8 1.2-.3 1.3-.4 1.3-.9 1.2 .5 1.3-.7 1.2-.3 1.3-1.1 1.2-.6 1.3-.3" fill="none" stroke="#0000ff" stroke-width="1.0" stroke-linejoin="round"/>
<path d="M516.1 320.3l1.3-.1 1.2-.3 1.3-.3 1.2-.1 1.3-.2 1.2-.3 1.3 0 1.3-.8 1.2-.1 1.3-.4 1.2-.5 1.3-.6 1.2-.6 1.3-.5 1.2-.4 1.3-.6 1.2-1.2 1.3-.6 1.2-.9 1.3-.9 1.3-1.3 1.2-1.1 1.3-1.2 1.2-2 1.3-1.2 1.2-2.1 1.3-1.9 1.2-1.5 1.3-2.2 1.2-1.4 1.3-2 1.2-2.8 1.3-2.3 1.3-2.6 1.2-2.6 1.3-2.5 1.2-2.6 1.3-3.1 1.2-3 1.3-2.7 1.2-2.1 1.3-3.3 1.2-1.6 1.3-3.2 1.2-1.5 1.3-3.5 1.3-1.8 1.2-1.3 1.3-1.8 1.2-2.1 1.3-.4 1.2-2.6 1.3-1.3 1.2-1.9 1.3 0 1.2-1.7 1.3-1.4 1.3-2.3 1.2 .1 1.3-1.4 1.2-.4 1.3-.6 1.2-1.8" fill="none" stroke="#0000ff" stroke-width="1.0" stroke-linejoin="round"/>
<path d="M520.1 321l1.2-.2 1.3-.2 1.2-.1 1.3-.2 1.2 .1 1.3-.2 1.3-.4 1.2-.1 1.3-.4 1.2-.6 1.3 .4 1.2-.4 1.3-.8 1.2-.3 1.3-.4 1.2-.7 1.3-.7 1.2-.6 1.3-.8 1.3-.9 1.2-.8 1.3-1.2 1.2-1.4 1.3-1.1 1.2-1.9 1.3-.8 1.2-2.6 1.3-1.4 1.2-2 1.3-2.2 1.3-2.4 1.2-2.2 1.3-3.5 1.2-2.4 1.3-2.9 1.2-3.3 1.3-3.3 1.2-2.4 1.3-4.2 1.2-3.2 1.3-3.1 1.2-3.1 1.3-2.7 1.3-2.9 1.2-2.3 1.3-2.5 1.2-2.1 1.3-1.6 1.2-3.1 1.3-.5 1.2-2.8 1.3-1 1.2-1.8 1.3-1.6 1.2-2.3 1.3 .9 1.3-2.5 1.2-1.1 1.3 .1 1.2-1.5" fill="none" stroke="#0000ff" stroke-width="1.0" stroke-linejoin="round"/>
<path d="M492.5 320.4l1.2-.2 1.3-.1 1.2-.5 1.3 0 1.3-.3 1.2-.3 1.3-.2 1.2-.6 1.3 0 1.2-.3 1.3-.9 1.2-.2 1.3-.3 1.2-.8 1.3-.9 1.2-.7 1.3-.4 1.3-.7 1.2-1.6 1.3-.7 1.2-1.4 1.3-1.1 1.2-1.2 1.3-1.5 1.2-1.8 1.3-.8 1.2-2.5 1.3-1.9 1.2-1.6 1.3-2.6 1.3-2.4 1.2-2 1.3-3.2 1.2-2 1.3-2.6 1.2-2.9 1.3-3.2 1.2-2.9 1.3-3.7 1.2-2.3 1.3-2.7 1.2-2.5 1.3-3 1.3-2.8 1.2-2.6 1.3-1.8 1.2-2.1 1.3-1.4 1.2-2.6 1.3-2 1.2-1.5 1.3-1.8 1.2-1.4 1.3-2.6 1.3-.9 1.2-1.1 1.3-.2 1.2-1.5 1.3-.9 1.2-.4 1.3-2.2 1.2 .4 1.3-1.3 1.2-1.5 1.3 .6 1.2-2.5 1.3-.5 1.3-.1 1.2-.2 1.3-1 1.2-1.7 1.3 .6 1.2-.3 1.3 1.1 1.2-1.1 1.3-1.2 1.2-1.2 1.3 .5 1.2-1.3 1.3 .6 1.3-.3 1.2-.7" fill="none" stroke="#0000ff" stroke-width="1.0" stroke-linejoin="round"/>
<path d="M518 320.4l1.3 .1 1.2-.3 1.3-.2 1.2-.3 1.3-.1 1.2-.2 1.3-.2 1.3-.2 1.2-.5 1.3-.6 1.2 .1 1.3-.6 1.2-.5 1.3-.5 1.2-1.1 1.3-.5 1.2-.8 1.3-.4 1.2-1.4 1.3-.8 1.3-.7 1.2-1.4 1.3-1.5 1.2-.8 1.3-2.4 1.2-1.1 1.3-2 1.2-1.7 1.3-2.2 1.2-2.4 1.3-1.9 1.2-2.9 1.3-1.8 1.3-3 1.2-2.2 1.3-3.3 1.2-3 1.3-2.5 1.2-2.5 1.3-4.5 1.2-1.9 1.3-2.5 1.2-3.7 1.3-2.2 1.2-1.6 1.3-3 1.3-2.1 1.2-.7 1.3-3.3 1.2-1.7 1.3-2.5 1.2-.9 1.3-1.6 1.2 .3 1.3-1.6 1.2-2.6 1.3 .7 1.3-1.8 1.2-1.6 1.3-.4 1.2-1.1 1.3-1.6" fill="none" stroke="#0000ff" stroke-width="1.0" stroke-linejoin="round"/>
<path d="M516.7 320.4l1.3-.2 1.2-.2 1.3 .1 1.2-.5 1.3 .1 1.2-.5 1.3-.2 1.3-.4 1.2-.2 1.3-.5 1.2-.6 1.3-.1 1.2-.5 1.3-.4 1.2-.7 1.3-1 1.2-.6 1.3-1.2 1.3-.6 1.2-.5 1.3-1 1.2-1.3 1.3-1.3 1.2-1.3 1.3-1.5 1.2-2.3 1.3-1.4 1.2-1.2 1.3-1.9 1.2-2.4 1.3-2.4 1.3-2.3 1.2-2.5 1.3-2.7 1.2-3 1.3-1.8 1.2-3 1.3-2.7 1.2-1.9 1.3-3.4 1.2-3.4 1.3-2 1.2-3.6 1.3-1.1 1.3-2.7 1.2-2.4 1.3-1.6 1.2-1.4 1.3-2.9 1.2-2 1.3 .1 1.2-2.6 1.3-.6 1.2-2.6 1.3-.7 1.2-1.7 1.3-.4 1.3-1.6 1.2-1.2 1.3 .3 1.2-1.6 1.3-2.2 1.2 .2" fill="none" stroke="#0000ff" stroke-width="1.0" stroke-linejoin="round"/>
<path d="M488.7 320.8l1.3-.1 1.3 0 1.2-.3 1.3-.2 1.2-.1 1.3 0 1.2-.5 1.3 .1 1.2-.3 1.3-.4 1.2-.3 1.3-.5 1.2-.3 1.3-.6 1.3-.3 1.2-.4 1.3-1 1.2-.4 1.3-1.5 1.2-.6 1.3-1 1.2-.5 1.3-1.7 1.2-1 1.3-2.2 1.2-1 1.3-1.6 1.3-2.1 1.2-2.8 1.3-1.3 1.2-2.1 1.3-2.2 1.2-3 1.3-3.5 1.2-2.3 1.3-2.5 1.2-3.7 1.3-2.5 1.3-3.7 1.2-2.9 1.3-2.8 1.2-3.6 1.3-1 1.2-4 1.3-2.4 1.2-2.9 1.3-1.8 1.2-2.2 1.3-2.5 1.2-1.9 1.3-.6 1.3-1.8 1.2-2.9 1.3-1.1 1.2-.2 1.3-1.1 1.2-.7 1.3-2.1 1.2 .1 1.3-1.5 1.2-.9 1.3-.6 1.2-.1 1.3-1 1.3-.5 1.2-1.5 1.3-.4 1.2-1.1 1.3-.2 1.2-.4 1.3-.5 1.2 .3 1.3-.6 1.2-.2 1.3-.7 1.2 .2 1.3-.9 1.3 .2 1.2-.6 1.3-.2 1.2-.7 1.3-1 1.2-.4 1.3 1.9 1.2-1.2" fill="none" stroke="#0000ff" stroke-width="1.0" stroke-linejoin="round"/>
<path d="M490.9 320.4l1.2 .2 1.3-.6 1.3 0 1.2-.2 1.3-.4 1.2-.2 1.3-.2 1.2-.3 1.3-.3 1.2-.2 1.3-.7 1.2-.2 1.3-.3 1.2-.7 1.3-1 1.3-1 1.2 0 1.3-.9 1.2-1.2 1.3-.5 1.2-1.5 1.3-1.1 1.2-1.6 1.3-1 1.2-1.7 1.3-1.7 1.3-1.3 1.2-2.1 1.3-2.6 1.2-1.4 1.3-2.3 1.2-3 1.3-2.3 1.2-2.5 1.3-2.8 1.2-2.6 1.3-2.7 1.2-3.4 1.3-1.8 1.3-4.2 1.2-2.9 1.3-1.5 1.2-2.5 1.3-3.6 1.2-2.5 1.3-2.7 1.2-1 1.3-2.5 1.2-2.4 1.3-1.1 1.2-1.2 1.3-1.9 1.3-.6 1.2-2 1.3-1.7 1.2-1.5 1.3-.8 1.2-.7 1.3-1.3 1.2-.8 1.3-1.4 1.2-.6 1.3-.5 1.2-1.6 1.3-1.4 1.3 1.1 1.2-1.3 1.3-1.3 1.2-.2 1.3-.8 1.2-1.4 1.3 .4 1.2-1.2 1.3 .6 1.2-.7 1.3 .4 1.3-1.1 1.2-.1 1.3-.8 1.2-.3 1.3-1 1.2 1.2 1.3-.7" fill="none" stroke="#0000ff" stroke-width="1.0" stroke-linejoin="round"/>
<path d="M477.1 320.7l1.3-.1 1.2 0 1.3 0 1.2-.4 1.3-.3 1.2-.1 1.3 .1 1.2-.6 1.3 0 1.2-.5 1.3-.2 1.3-.5 1.2-.7 1.3-.3 1.2-.1 1.3-1 1.2-.5 1.3-.9 1.2-.8 1.3-.8 1.2-1 1.3-.7 1.2-1.8 1.3-1.4 1.3-1.6 1.2-1.7 1.3-1.9 1.2-1.2 1.3-2.8 1.2-1.1 1.3-2.5 1.2-2.8 1.3-2.9 1.2-2.3 1.3-2.8 1.3-2.5 1.2-3.8 1.3-2.9 1.2-3 1.3-3.2 1.2-3.2 1.3-3.5 1.2-2.7 1.3-2.2 1.2-2.2 1.3-1.7 1.2-1.4 1.3-2.4 1.3-2.6 1.2-.9 1.3-2.8 1.2-1.8 1.3 .2 1.2-3.3 1.3-1 1.2-1.1 1.3-.1 1.2-2.2 1.3-.2 1.2-1.7 1.3-1.3 1.3 0 1.2-.8 1.3-1.5 1.2-.5 1.3-.6 1.2 .4 1.3-.8 1.2-.7 1.3-.4 1.2-1.1 1.3 .2 1.2-1.1 1.3-.9 1.3 0 1.2 .2 1.3-.4 1.2 .3 1.3-2 1.2 .6 1.3 .1 1.2-1.1 1.3 .5 1.2-.7 1.3-.6 1.3 1.2 1.2-1.8 1.3 1.3 1.2-1.1 1.3-.5 1.2-.1 1.3 0 1.2-.3 1.3 .6" fill="none" stroke="#0000ff" stroke-width="1.0" stroke-linejoin="round"/>
<path d="M492 320.3l1.3-.1 1.2-.5 1.3-.4 1.2 0 1.3-.2 1.3-.2 1.2-.4 1.3-.2 1.2-.4 1.3-.6 1.2 .1 1.3-1 1.2-.3 1.3-.4 1.2-1 1.3-.6 1.3-.4 1.2-1.3 1.3-.6 1.2-1.1 1.3-1.1 1.2-1.1 1.3-1.5 1.2-1.4 1.3-1.1 1.2-1.8 1.3-1.6 1.2-2.4 1.3-1.5 1.3-1.6 1.2-2.3 1.3-2.4 1.2-2.6 1.3-2.5 1.2-2.1 1.3-2.1 1.2-3.2 1.3-2.2 1.2-3.4 1.3-2 1.2-3.7 1.3-2 1.3-3 1.2-1.5 1.3-2.2 1.2-2.9 1.3-1.9 1.2-1.7 1.3-2.3 1.2-1.4 1.3-1.6 1.2-.6 1.3-1 1.2-2.4 1.3-1.2 1.3-.9 1.2-1.5 1.3-1 1.2-.3 1.3-1.3 1.2-1.1 1.3-1.2 1.2 .4 1.3-2 1.2-.3 1.3-1.4 1.3-.3 1.2-.3 1.3-.8 1.2 0 1.3-.8 1.2-1.4 1.3-1.1 1.2 1.6 1.3-1.4 1.2 .9 1.3-1.3 1.2-.9 1.3 .5 1.3-.8 1.2-.2 1.3-.8" fill="none" stroke="#0000ff" stroke-width="1.0" stroke-linejoin="round"/>
<path d="M499.5 319.9l1.3 .1 1.2-.5 1.3-.1 1.2-.5 1.3-.3 1.2 .3 1.3-.5 1.2-.4 1.3-.8 1.2-.1 1.3-.5 1.3-.6 1.2-.5 1.3-.9 1.2-.5 1.3-1 1.2-.6 1.3-.8 1.2-1.2 1.3-1 1.2-1.2 1.3-1.1 1.2-1.1 1.3-1.6 1.3-1.5 1.2-2.2 1.3-1.4 1.2-1.5 1.3-2.5 1.2-2 1.3-2.4 1.2-1.4 1.3-3.1 1.2-2.5 1.3-2 1.2-2.4 1.3-3 1.3-2.4 1.2-3.1 1.3-2.9 1.2-2.9 1.3-2.6 1.2-2.5 1.3-1.9 1.2-2.5 1.3-2 1.2-1.8 1.3-2.3 1.2-2.5 1.3-1.4 1.3-1.9 1.2-1.9 1.3-.4 1.2-2.1 1.3-1.4 1.2-1.1 1.3-.1 1.2-1.8 1.3-.3 1.2-1.6 1.3-1.2 1.3-.3 1.2-.8 1.3-1.1 1.2-1.5 1.3-.4 1.2-1.1 1.3-.1 1.2-.4 1.3 .3 1.2-.6 1.3-1 1.2-.4 1.3-.9 1.3 1.1 1.2-1.2" fill="none" stroke="#0000ff" stroke-width="1.0" stroke-linejoin="round"/>
<path d="M496.4 320.9l1.2 0 1.3-.2 1.2-.1 1.3-.3 1.2 .1 1.3-.3 1.2-.1 1.3-.4 1.2-.5 1.3 0 1.2-.2 1.3-.7 1.3-.4 1.2-.4 1.3-.5 1.2-.9 1.3 0 1.2-.9 1.3-1.1 1.2-1.2 1.3-.6 1.2-.7 1.3-1.5 1.2-1.3 1.3-2.1 1.3-1.3 1.2-2.4 1.3-.9 1.2-2.5 1.3-3.2 1.2-2.4 1.3-1.8 1.2-2.9 1.3-3.1 1.2-2.7 1.3-2.5 1.3-4 1.2-4.3 1.3-2.7 1.2-3.9 1.3-3.1 1.2-2.6 1.3-3.3 1.2-3.3 1.3-2.1 1.2-2.9 1.3-1.6 1.2-2.6 1.3-1.6 1.3-2.3 1.2-1.2 1.3-2.1 1.2-1.5 1.3-1.8 1.2-.9 1.3-2.4 1.2 1.5 1.3-3.1 1.2-.5 1.3-1.4 1.2-.9 1.3-.3 1.3-1.3 1.2-.7 1.3-1.3 1.2-.4 1.3-.8 1.2 1.3 1.3-2.5 1.2-.4 1.3 .3 1.2 .4 1.3-2.4 1.2-.4 1.3 .7 1.3-.2 1.2-1.5 1.3-.6 1.2 .3" fill="none" stroke="#0000ff" stroke-width="1.0" stroke-linejoin="round"/>
<path d="M489.6 319.8l1.2-.3 1.3-.2 1.2-.1 1.3-.4 1.2-.2 1.3-.5 1.2-.3 1.3-.2 1.2-.6 1.3-.5 1.2-.3 1.3-.6 1.3-.7 1.2-.8 1.3-.3 1.2-.5 1.3-1.6 1.2-1.1 1.3-.8 1.2-1.1 1.3-1.3 1.2-1.2 1.3-.8 1.2-1.4 1.3-1.4 1.3-1.8 1.2-2.2 1.3-1.3 1.2-2.5 1.3-2 1.2-2.5 1.3-1.3 1.2-2.4 1.3-3 1.2-2.5 1.3-2.4 1.3-2.5 1.2-2.3 1.3-3 1.2-2.6 1.3-3.5 1.2-2 1.3-3.1 1.2-.5 1.3-2.4 1.2-2.5 1.3-1.8 1.2-1.4 1.3-2.3 1.3-3.1 1.2-.9 1.3-2.8 1.2-.6 1.3-1.6 1.2-.6 1.3-1 1.2-2 1.3-.7 1.2-.8 1.3-1.3 1.2-.9 1.3-2.3 1.3 .3 1.2-.1 1.3-1.1 1.2-1.8 1.3 .1 1.2-.4 1.3-1.4 1.2 .4 1.3-1.4 1.2-.3 1.3-.4 1.2 1 1.3-2.1 1.3-.6 1.2 .4 1.3-1.1 1.2 0 1.3-1.9 1.2 1.3 1.3-.5 1.2-1.1 1.3 1.3" fill="none" stroke="#0000ff" stroke-width="1.0" stroke-linejoin="round"/>
<path d="M499.3 319.9l1.3-.2 1.3-.1 1.2-.3 1.3 0 1.2-.2 1.3-.5 1.2-.4 1.3-.2 1.2-.5 1.3-.2 1.2-.5 1.3-.6 1.2-.4 1.3-.5 1.3-.5 1.2-1.2 1.3-.5 1.2-1.1 1.3-1.1 1.2-.5 1.3-1.3 1.2-1.3 1.3-1.3 1.2-1.5 1.3-1.8 1.2-.8 1.3-2 1.3-2 1.2-1.7 1.3-2 1.2-2.7 1.3-2 1.2-2.7 1.3-2.1 1.2-2.9 1.3-1.4 1.2-3.9 1.3-2.3 1.2-2.8 1.3-3.1 1.3-2.1 1.2-3.1 1.3-2.6 1.2-2.2 1.3-2.6 1.2-1.1 1.3-2.3 1.2-1.7 1.3-3.1 1.2-.8 1.3-2.2 1.3-1.1 1.2-.8 1.3-1.9 1.2-1.6 1.3-.5 1.2-1.2 1.3-.6 1.2-3.2 1.3 .3 1.2-1.4 1.3-1.1 1.2-.3 1.3-1.5 1.3-1.4 1.2 .1 1.3-.3 1.2 .6 1.3-2.2 1.2-.8 1.3-1 1.2 .4 1.3-.4 1.2-.2 1.3-1.4 1.2 0 1.3-1.4" fill="none" stroke="#0000ff" stroke-width="1.0" stroke-linejoin="round"/>
<path d="M477.1 320.8l1.2 .3 1.3-.2 1.3-.1 1.2-.1 1.3-.3 1.2 .1 1.3-.5 1.2 .2 1.3-.5 1.2-.5 1.3 .1 1.2-.2 1.3-.7 1.3-.2 1.2-.7 1.3-.6 1.2-1 1.3 .1 1.2-1.1 1.3-.7 1.2-1.3 1.3-1 1.2-.7 1.3-1.7 1.2-1.4 1.3-1.8 1.3-1.4 1.2-1.7 1.3-2.4 1.2-2.2 1.3-2.7 1.2-1.7 1.3-3.4 1.2-2.7 1.3-2.3 1.2-3.9 1.3-3.8 1.2-3.1 1.3-3.1 1.3-2.4 1.2-4.1 1.3-3.4 1.2-2.4 1.3-2.5 1.2-3.7 1.3-1.3 1.2-2.6 1.3-2.3 1.2-3.6 1.3-.4 1.2-1 1.3-2.5 1.3 0 1.2-2.7 1.3-1.9 1.2-.3 1.3-1.3 1.2-.7 1.3-1.6 1.2 0 1.3-1.9 1.2-.4 1.3-1.6 1.3-.4 1.2-.1 1.3-1.1 1.2-.5 1.3-.4 1.2-.2 1.3-.2 1.2-.4 1.3-.3 1.2-.9 1.3-.8 1.2-1.1 1.3 .5 1.3-.6 1.2-1 1.3 1.9 1.2-2.5 1.3 1.2 1.2-.1 1.3-.8 1.2 1.6 1.3-1.8 1.2-.7 1.3 1.4 1.2-1.8 1.3-.6 1.3 .2 1.2 0 1.3 .3 1.2 .1 1.3-1.3" fill="none" stroke="#0000ff" stroke-width="1.0" stroke-linejoin="round"/>
<path d="M478.4 319.8l1.2-.1 1.3-.1 1.2-.1 1.3-.5 1.2-.4 1.3-.3 1.3 0 1.2-.4 1.3-.9 1.2-.4 1.3-.4 1.2-.6 1.3-.2 1.2-.6 1.3-.4 1.2-1 1.3-.9 1.2-.7 1.3-1.5 1.3-1.2 1.2-.7 1.3-1 1.2-2.1 1.3-.7 1.2-1.5 1.3-2.1 1.2-1.5 1.3-2 1.2-1.9 1.3-1.8 1.3-2.7 1.2-1.6 1.3-2.4 1.2-2.4 1.3-3.7 1.2-2.6 1.3-1.5 1.2-3.3 1.3-2.7 1.2-2.8 1.3-3 1.2-2 1.3-2.7 1.3-2.3 1.2-1.6 1.3-3 1.2-.8 1.3-3.7 1.2 .8 1.3-3.9 1.2-.5 1.3-1.4 1.2-2 1.3-.9 1.2-1.8 1.3-2.2 1.3 0 1.2-.6 1.3-2.1 1.2-1.7 1.3-.3 1.2-.3 1.3-.9 1.2-.3 1.3-1.1 1.2-.8 1.3-2.2 1.2 2 1.3-2 1.3-.1 1.2-1.3 1.3-.4 1.2-.4 1.3 .5 1.2-.5 1.3-1 1.2 .5 1.3-1.9 1.2 .2 1.3-1 1.3 .8 1.2-1.1 1.3 .3 1.2 .2 1.3-2.7 1.2 2.4 1.3-1.4 1.2-.6 1.3-1.3 1.2 .9 1.3-1.5 1.2 1.3 1.3-.3" fill="none" stroke="#0000ff" stroke-width="1.0" stroke-linejoin="round"/>
<path d="M484.1 321l1.3-.1 1.2 0 1.3-.4 1.2 0 1.3-.4 1.2-.2 1.3-.1 1.2-.2 1.3-.4 1.2-.2 1.3-.2 1.2-.5 1.3-.4 1.3-.6 1.2-.1 1.3-.5 1.2-.9 1.3-.8 1.2-.5 1.3-1.2 1.2-1.2 1.3-1.3 1.2-1.1 1.3-.6 1.2-2.3 1.3-.6 1.3-2.6 1.2-2.1 1.3-1.6 1.2-2.8 1.3-2.2 1.2-3.1 1.3-2.8 1.2-2.7 1.3-2.6 1.2-3.5 1.3-3.8 1.2-2.2 1.3-3.7 1.3-3.4 1.2-3.4 1.3-4 1.2-1 1.3-3.9 1.2-2 1.3-2 1.2-2.4 1.3-2.7 1.2-2.1 1.3-1.7 1.3-1.4 1.2-1.8 1.3-2.1 1.2-.9 1.3-1.4 1.2-1 1.3-1.5 1.2-.3 1.3-1.8 1.2-.5 1.3-1.4 1.2-1.2 1.3-1 1.3-.3 1.2-.2 1.3-.2 1.2-1.5 1.3-.8 1.2-.6 1.3 .7 1.2-1.3 1.3-.8 1.2 .3 1.3-1.7 1.2 .5 1.3-.4 1.3-.4 1.2-1 1.3 1.1 1.2 .1 1.3-2.2 1.2 .7 1.3 .1 1.2 .8 1.3-2 1.2-.5 1.3 .4 1.2 1.1 1.3-1.4" fill="none" stroke="#0000ff" stroke-width="1.0" stroke-linejoin="round"/>
<path d="M496.8 320.1l1.2-.1 1.3 .2 1.2-.2 1.3-.5 1.2 0 1.3-.3 1.2-.2 1.3-.5 1.2-.3 1.3-.4 1.3-.3 1.2-.5 1.3-.2 1.2-.7 1.3-1.1 1.2-.3 1.3-.5 1.2-1.1 1.3-.7 1.2-1.3 1.3-.9 1.2-1.6 1.3-.8 1.3-2 1.2-.8 1.3-2.5 1.2-1.9 1.3-1.1 1.2-2.2 1.3-2 1.2-2.2 1.3-2.5 1.2-2.8 1.3-2.2 1.2-2.6 1.3-2.7 1.3-2.2 1.2-4.1 1.3-2.5 1.2-2.7 1.3-3.4 1.2-3.1 1.3-2.3 1.2-1.6 1.3-3.1 1.2-1.7 1.3-2.8 1.3-1.4 1.2-2.5 1.3-1.8 1.2-1.1 1.3-1.6 1.2-.7 1.3-3.2 1.2 0 1.3-.6 1.2-1.3 1.3-2.2 1.2-1.2 1.3-.8 1.3-.5 1.2-.9 1.3-.7 1.2-.6 1.3-1.8 1.2-.7 1.3-.8 1.2-.7 1.3 .2 1.2-.3 1.3 .9 1.2-1.7 1.3-.8 1.3 .4 1.2-1.8 1.3 .3 1.2 0 1.3-.5 1.2-.6" fill="none" stroke="#0000ff" stroke-width="1.0" stroke-linejoin="round"/>
<path d="M471.6 320.4l1.3-.2 1.2 0 1.3-.3 1.2-.1 1.3-.5 1.2 .1 1.3-.5 1.2-.5 1.3-.3 1.2-.2 1.3-.2 1.3-.5 1.2-.8 1.3-.4 1.2-.6 1.3-1 1.2-.6 1.3-1.1 1.2-.7 1.3-1.4 1.2-.6 1.3-1.2 1.2-1.3 1.3-1.4 1.3-.9 1.2-2.1 1.3-1.6 1.2-1.7 1.3-1.9 1.2-2.2 1.3-2.7 1.2-2.5 1.3-2.4 1.2-2.4 1.3-2.5 1.3-2.7 1.2-2.3 1.3-3.4 1.2-2 1.3-3.3 1.2-3.5 1.3-2.1 1.2-4.5 1.3-.3 1.2-2.8 1.3-2.2 1.2-3.2 1.3 .3 1.3-3.3 1.2-1.7 1.3-.9 1.2-2.3 1.3-1.9 1.2-.5 1.3-2.2 1.2-.2 1.3-1.5 1.2-.5 1.3-2.4 1.2 .5 1.3-1.5 1.3 .1 1.2-2.4 1.3 .8 1.2-1.4 1.3-.7 1.2-1.6 1.3 .2 1.2-.5 1.3-1.5 1.2-.7 1.3-.2 1.2 .9 1.3-1.3 1.3 .1 1.2-.8 1.3-.5 1.2-.3 1.3-.7 1.2 .7 1.3-1 1.2-.2 1.3-1.3 1.2 .8 1.3-.9 1.3-.1 1.2 .8 1.3-1.6 1.2 .4 1.3 .3 1.2 .2 1.3-1.3 1.2 .4 1.3-.2 1.2-1 1.3-.8 1.2 0 1.3 1.5 1.3-.4" fill="none" stroke="#0000ff" stroke-width="1.0" stroke-linejoin="round"/>
<path d="M488.7 320.6l1.2-.1 1.3-.1 1.3 .1 1.2-.5 1.3-.1 1.2-.3 1.3-.2 1.2-.3 1.3-.2 1.2-.4 1.3-.2 1.2-.4 1.3-.7 1.3 0 1.2-1.1 1.3-.3 1.2-.4 1.3-1.3 1.2-.4 1.3-.9 1.2-1.3 1.3-1.6 1.2-.4 1.3-1.7 1.2-1.7 1.3-1 1.3-2.3 1.2-1.3 1.3-2.5 1.2-1.8 1.3-2.8 1.2-2.2 1.3-2.7 1.2-2.5 1.3-2.4 1.2-3 1.3-2.7 1.2-2.5 1.3-3.6 1.3-3.8 1.2-2.2 1.3-2.7 1.2-2.1 1.3-2.6 1.2-2.4 1.3-2.8 1.2-1.7 1.3-3.1 1.2-.3 1.3-2.3 1.2-1.5 1.3-2.1 1.3-1.2 1.2-1.8 1.3-.5 1.2-2.3 1.3 .2 1.2-1.3 1.3-.1 1.2-2.1 1.3-.9 1.2-.7 1.3-.9 1.3-.8 1.2-1.3 1.3-.6 1.2-.3 1.3-.4 1.2-1.1 1.3-.5 1.2 0 1.3 .2 1.2-1 1.3 .1 1.2-.2 1.3-.5 1.3-1.1 1.2-.3 1.3-1.3 1.2 .5 1.3 .4 1.2-1.2 1.3 1.3 1.2-.2 1.3-1.4" fill="none" stroke="#0000ff" stroke-width="1.0" stroke-linejoin="round"/>
<path d="M506 320.9l1.2 0 1.3 0 1.2-.2 1.3-.2 1.3 .2 1.2-.3 1.3-.2 1.2-.2 1.3-.3 1.2-.3 1.3-.3 1.2-.5 1.3 .1 1.2-.8 1.3-.7 1.2-.4 1.3-.7 1.3 0 1.2-1.1 1.3-.6 1.2-1 1.3-1.2 1.2-1.2 1.3-1.7 1.2-1.3 1.3-1.7 1.2-1.6 1.3-2.1 1.2-1.5 1.3-2.4 1.3-2.7 1.2-3.2 1.3-1.9 1.2-2.8 1.3-3.4 1.2-3.7 1.3-2.6 1.2-3.1 1.3-4.8 1.2-2.2 1.3-4.6 1.3-2.2 1.2-2.2 1.3-3.7 1.2-2.4 1.3-2.9 1.2-2.1 1.3-.9 1.2-2.5 1.3-2.8 1.2-1.8 1.3-1.4 1.2-.2 1.3-2.6 1.3-.7 1.2-2.1 1.3-1.7 1.2 .5 1.3-1.8 1.2-1.4 1.3-.8 1.2-.8 1.3-.7 1.2-1.3 1.3 1.1 1.2-1.2 1.3-.2 1.3-1.3 1.2-.1 1.3-.6 1.2 .1" fill="none" stroke="#0000ff" stroke-width="1.0" stroke-linejoin="round"/>
<path d="M482.6 320.5l1.3-.1 1.2-.1 1.3-.2 1.2-.1 1.3-.3 1.2 .1 1.3-.4 1.2-.6 1.3-.2 1.2-.4 1.3-.1 1.3-.3 1.2-.8 1.3-.3 1.2-.7 1.3-.4 1.2-.6 1.3-1.1 1.2-.7 1.3-1.2 1.2-1.1 1.3-1.4 1.2-.9 1.3-1.5 1.3-1.6 1.2-1.6 1.3-1.8 1.2-2.2 1.3-1.8 1.2-1.7 1.3-2.8 1.2-1.8 1.3-3.6 1.2-2.8 1.3-2.2 1.2-2.6 1.3-3.6 1.3-2.5 1.2-2.9 1.3-3 1.2-3.6 1.3-2.9 1.2-3.5 1.3-1.8 1.2-2.3 1.3-1.7 1.2-3.6 1.3-1.8 1.3-2 1.2-.8 1.3-3.6 1.2-.8 1.3 .3 1.2-2.2 1.3-2.4 1.2-.5 1.3-.6 1.2-1.3 1.3-1.5 1.2-1.3 1.3 .1 1.3-1.4 1.2-.3 1.3-1 1.2-1.3 1.3 .5 1.2-1.8 1.3 0 1.2-1.3 1.3-.2 1.2-.6 1.3-.7 1.2 .1 1.3 .2 1.3 0 1.2-.7 1.3-1.3 1.2 .6 1.3-.9 1.2 .5 1.3-2.2 1.2 1.5 1.3-1.6 1.2 .8 1.3-1.2 1.2 .6 1.3-1 1.3-1.2 1.2 .4 1.3 .3" fill="none" stroke="#0000ff" stroke-width="1.0" stroke-linejoin="round"/>
<path d="M476.4 320.5l1.3-.1 1.2-.1 1.3-.1 1.2-.3 1.3-.3 1.2 0 1.3-.3 1.2-.1 1.3-.6 1.3-.1 1.2-.7 1.3-.2 1.2-.5 1.3-.5 1.2-.8 1.3-.5 1.2-.9 1.3-.6 1.2-.7 1.3-.5 1.2-1.7 1.3-1 1.3-1.4 1.2-1.1 1.3-1.7 1.2-1.4 1.3-2 1.2-1.2 1.3-2.3 1.2-3.2 1.3-1.6 1.2-2.5 1.3-3.4 1.2-2.2 1.3-2.6 1.3-2.9 1.2-2.6 1.3-3.8 1.2-1.9 1.3-3 1.2-3.2 1.3-3.1 1.2-2.6 1.3-2.7 1.2-1.6 1.3-2.6 1.2-1.3 1.3-3.3 1.3-.9 1.2-2.9 1.3-1.4 1.2-2.1 1.3-.6 1.2-1.7 1.3-.9 1.2-.7 1.3-2.1 1.2-.8 1.3-.7 1.3-1.5 1.2-1.2 1.3-.3 1.2-.7 1.3-.6 1.2-.7 1.3-1.6 1.2 .1 1.3-.1 1.2-1.7 1.3 0 1.2-1.1 1.3 0 1.3 .5 1.2-1.4 1.3-1.1 1.2 .4 1.3-.4 1.2 .2 1.3-1.9 1.2 0 1.3 .2 1.2-1.2 1.3 1.5 1.2-2.3 1.3 .5 1.3-.6 1.2 .3 1.3 .7 1.2-.3 1.3 0 1.2-.3 1.3-1.9 1.2 1.4 1.3-1.6 1.2 .8" fill="none" stroke="#0000ff" stroke-width="1.0" stroke-linejoin="round"/>
<path d="M505 320l1.3-.4 1.2 .1 1.3-.3 1.2-.2 1.3-.3 1.3-.3 1.2-.5 1.3 0 1.2-.9 1.3-.2 1.2-.6 1.3-.5 1.2-.5 1.3-.8 1.2-.4 1.3-.8 1.3-.9 1.2-.8 1.3-1.4 1.2-1.2 1.3-.9 1.2-1.1 1.3-.6 1.2-2.1 1.3-1.2 1.2-1.7 1.3-1.3 1.2-2.4 1.3-1.8 1.3-2.3 1.2-2.4 1.3-2.3 1.2-2.2 1.3-1.6 1.2-2.9 1.3-2.7 1.2-2.6 1.3-2.8 1.2-2.5 1.3-2.7 1.2-2.2 1.3-2.4 1.3-3.7 1.2-1.4 1.3-1.6 1.2-3.3 1.3-1.6 1.2-1.7 1.3-1.2 1.2-2 1.3-2.1 1.2-1.1 1.3-1.1 1.2-1.7 1.3-.5 1.3-2.1 1.2-2 1.3-.9 1.2-.7 1.3-1 1.2-.5 1.3-1 1.2-.1 1.3-1.3 1.2-.4 1.3-2 1.3-.5 1.2 0 1.3-1 1.2-.2 1.3-.8 1.2-1.1" fill="none" stroke="#0000ff" stroke-width="1.0" stroke-linejoin="round"/>
<path d="M483.9 320.1l1.2 0 1.3-.1 1.2-.1 1.3-.3 1.3-.5 1.2 .1 1.3-.4 1.2-.2 1.3-.4 1.2-.3 1.3-.5 1.2-.5 1.3-.7 1.2-.3 1.3-.8 1.2-1 1.3-.7 1.3-.8 1.2-.8 1.3-.9 1.2-1.6 1.3-.8 1.2-1.5 1.3-1.7 1.2-1 1.3-2.2 1.2-1.9 1.3-1.3 1.2-2 1.3-2.7 1.3-1.7 1.2-2.4 1.3-3.1 1.2-1.6 1.3-3.6 1.2-2.7 1.3-4 1.2-1.5 1.3-3.5 1.2-2.5 1.3-4 1.3-1.3 1.2-2.5 1.3-2.3 1.2-4.9 1.3-.4 1.2-2.2 1.3-3.9 1.2-.6 1.3-1.5 1.2-.8 1.3-2.9 1.2-.9 1.3-1.6 1.3-1.1 1.2-1.7 1.3-.4 1.2-1.1 1.3-2.4 1.2 .5 1.3-2.1 1.2-.6 1.3 0 1.2-1.4 1.3-.5 1.2-.6 1.3-.7 1.3-1.4 1.2-.8 1.3 .4 1.2-.5 1.3-.8 1.2-.8 1.3 .2 1.2-1 1.3-1.2 1.2 .6 1.3-.2 1.2-.2 1.3-1.4 1.3-.2 1.2 .4 1.3-.8 1.2-.1 1.3 .4 1.2-.6 1.3 .7 1.2-1.2 1.3 .7" fill="none" stroke="#0000ff" stroke-width="1.0" stroke-linejoin="round"/>
<path d="M478 320l1.3-.2 1.2 0 1.3-.5 1.2-.2 1.3-.2 1.2-.3 1.3-.6 1.3-.1 1.2-.5 1.3-.3 1.2-.5 1.3-.6 1.2-.3 1.3-.8 1.2-.8 1.3-.7 1.2-.6 1.3-.9 1.2-.9 1.3-1.4 1.3-1.1 1.2-.7 1.3-1.9 1.2-1 1.3-1.7 1.2-2.1 1.3-2.1 1.2-1.2 1.3-2.4 1.2-2.2 1.3-2.5 1.3-1.3 1.2-2.8 1.3-2.5 1.2-2.4 1.3-2.7 1.2-2.8 1.3-2.5 1.2-3.1 1.3-3.9 1.2-1.2 1.3-2.7 1.2-2.7 1.3-1.6 1.3-3.8 1.2-3 1.3 .3 1.2-2.5 1.3-3 1.2-1.1 1.3-1.1 1.2-2.5 1.3-.5 1.2-.5 1.3-1.8 1.2-2 1.3-1 1.3-1.9 1.2-.4 1.3-1.3 1.2-1.4 1.3-1.1 1.2 1.1 1.3-1.9 1.2-1.4 1.3-.4 1.2 .5 1.3-.6 1.2-2 1.3-.1 1.3-.1 1.2-1.3 1.3-1 1.2-.4 1.3 .2 1.2-1 1.3-.7 1.2 .3 1.3 .3 1.2-.5 1.3-.9 1.3 1 1.2-1.9 1.3 .1 1.2-1.1 1.3 1.1 1.2-.8 1.3-1.2 1.2 .3 1.3 1.5 1.2-.9 1.3-.6 1.2 .3 1.3-1.7" fill="none" stroke="#0000ff" stroke-width="1.0" stroke-linejoin="round"/>
<path d="M488.6 320.9l1.2-.1 1.3 0 1.2 0 1.3-.2 1.2 .1 1.3-.6 1.2-.1 1.3-.2 1.2-.4 1.3-.2 1.2-.2 1.3-.5 1.3-.2 1.2-.3 1.3-.9 1.2-.8 1.3-.2 1.2-.9 1.3-.6 1.2-1 1.3-.8 1.2-.9 1.3-1.2 1.2-1.6 1.3-1.7 1.3-1.9 1.2-1.7 1.3-1.5 1.2-1.7 1.3-2.5 1.2-2.3 1.3-2.8 1.2-2.7 1.3-2.9 1.2-2 1.3-4 1.3-2.1 1.2-3.8 1.3-2.6 1.2-3.4 1.3-3 1.2-2.8 1.3-3.8 1.2-2.8 1.3-2.3 1.2-2.5 1.3-1.5 1.2-2.5 1.3-1.8 1.3-1.6 1.2-2.2 1.3-.7 1.2-3.1 1.3-.2 1.2-1.1 1.3-1.9 1.2-1.1 1.3-.1 1.2-1.7 1.3-1.8 1.2-.5 1.3 .6 1.3-1.9 1.2 .6 1.3-.6 1.2-1.6 1.3-.1 1.2-1.4 1.3-.3 1.2-.7 1.3 .4 1.2-1.6 1.3 .3 1.2-.3 1.3-.1 1.3-2 1.2-.1 1.3 .3 1.2 .1 1.3-.1 1.2-.2 1.3 .9 1.2-1.1 1.3-.3 1.2-.8" fill="none" stroke="#0000ff" stroke-width="1.0" stroke-linejoin="round"/>
<path d="M516.7 321.1l1.3-.2 1.2 0 1.3 0 1.2-.4 1.3-.3 1.2 .2 1.3-.2 1.2-.4 1.3-.2 1.2 .1 1.3-.7 1.3-.5 1.2-.3 1.3-.2 1.2-.7 1.3-.5 1.2-.5 1.3-.9 1.2-.6 1.3-.9 1.2-1.2 1.3-.8 1.2-1.5 1.3-.9 1.3-1.9 1.2-1.4 1.3-2.2 1.2-1.6 1.3-2.3 1.2-1.4 1.3-2.9 1.2-2.4 1.3-3.5 1.2-2.7 1.3-2.7 1.3-3.6 1.2-2.2 1.3-4 1.2-3.1 1.3-3.3 1.2-3.6 1.3-2.7 1.2-3.7 1.3-2.3 1.2-2.1 1.3-3 1.2-2.3 1.3-2.4 1.3-1.8 1.2-1.5 1.3-2.2 1.2-2.5 1.3-.4 1.2-1.6 1.3-.9 1.2-1.5 1.3-.2 1.2-2.7 1.3-.8 1.2 0 1.3-1.9 1.3 0 1.2-.9" fill="none" stroke="#0000ff" stroke-width="1.0" stroke-linejoin="round"/>
<path d="M493.7 321l1.2-.2 1.3-.3 1.3 .1 1.2-.4 1.3 0 1.2-.2 1.3-.3 1.2-.4 1.3 0 1.2-.3 1.3-.5 1.2-.4 1.3-.1 1.3-.6 1.2-.6 1.3-.6 1.2-.5 1.3-.8 1.2-.8 1.3-1.2 1.2-.7 1.3-1.2 1.2-1 1.3-1.1 1.2-1.4 1.3-1.7 1.3-1.8 1.2-2 1.3-1.8 1.2-2.3 1.3-2.3 1.2-2.5 1.3-2.3 1.2-2.7 1.3-2 1.2-3.4 1.3-3.3 1.2-2.6 1.3-3.6 1.3-2.4 1.2-3.1 1.3-1.9 1.2-4.6 1.3-2.1 1.2-2.5 1.3-2 1.2-1.9 1.3-2.9 1.2-1.7 1.3-1.3 1.2-1.2 1.3-2.7 1.3-1.7 1.2 .2 1.3-1.4 1.2-1.1 1.3-2.2 1.2-.6 1.3-.7 1.2-.8 1.3-1.2 1.2-.7 1.3-.2 1.3-1.5 1.2-.8 1.3-.5 1.2-.7 1.3-.2 1.2-.7 1.3-.6 1.2 .6 1.3-1.1 1.2-.8 1.3 .6 1.2-1.5 1.3 0 1.3-.4 1.2-.6 1.3-.2 1.2 0 1.3-1.2" fill="none" stroke="#0000ff" stroke-width="1.0" stroke-linejoin="round"/>
<path d="M489.1 320.9l1.3-.1 1.2 .1 1.3-.3 1.3-.2 1.2-.2 1.3-.1 1.2-.2 1.3-.3 1.2 0 1.3-.7 1.2 0 1.3-.4 1.2-.7 1.3-.2 1.2-.5 1.3-.8 1.3-.1 1.2-1 1.3-1 1.2-.9 1.3-1.1 1.2-.8 1.3-1.3 1.2-1.7 1.3-1.3 1.2-1.6 1.3-1.6 1.2-1.9 1.3-2.1 1.3-1.8 1.2-2.2 1.3-2.8 1.2-3.5 1.3-2 1.2-2.6 1.3-3.3 1.2-2.9 1.3-3.2 1.2-3.9 1.3-3.8 1.3-1.7 1.2-3.5 1.3-2.4 1.2-3.1 1.3-2.4 1.2-1.6 1.3-3.5 1.2-1.5 1.3-2.5 1.2-1.2 1.3-1.4 1.2-1.5 1.3-1.7 1.3-2.2 1.2-.4 1.3-.9 1.2-1 1.3-.4 1.2-1.9 1.3-1.8 1.2-.6 1.3-.5 1.2-.2 1.3-1.9 1.2 .5 1.3-.8 1.3-1.5 1.2 .3 1.3-1.3 1.2-.1 1.3-.6 1.2-.2 1.3-1.2 1.2 .6 1.3-2 1.2 .7 1.3-.4 1.2 .9 1.3-.9 1.3-.9 1.2-.5 1.3 .3 1.2-.6 1.3 1.5 1.2-3.2" fill="none" stroke="#0000ff" stroke-width="1.0" stroke-linejoin="round"/>
<path d="M501.9 320.7l1.2-.3 1.3 .1 1.3-.4 1.2 0 1.3-.3 1.2-.1 1.3-.4 1.2-.7 1.3 0 1.2-.5 1.3 0 1.2-.5 1.3-.5 1.2-.5 1.3-.6 1.3-.8 1.2-.2 1.3-1.2 1.2-.9 1.3-1.3 1.2-.8 1.3-1.1 1.2-1.3 1.3-1.4 1.2-1.4 1.3-2 1.2-1.4 1.3-2.4 1.3-1.8 1.2-2.1 1.3-1.8 1.2-2.5 1.3-2.7 1.2-3.1 1.3-2.5 1.2-2.3 1.3-2.8 1.2-4.1 1.3-2.5 1.3-2.8 1.2-2.9 1.3-3 1.2-2.4 1.3-3.5 1.2-1 1.3-3.6 1.2-1.5 1.3-1.8 1.2-1.5 1.3-1.9 1.2-1.7 1.3-1.3 1.3-2.3 1.2-.9 1.3-.8 1.2-2.5 1.3-1.5 1.2-.9 1.3 .4 1.2-1.1 1.3-1.8 1.2-.5 1.3-.7 1.2-.4 1.3-2.4 1.3 .1 1.2-.5 1.3-.2 1.2-.7 1.3-.8 1.2-.2 1.3-2.1 1.2 2.8 1.3-1.7 1.2-.4" fill="none" stroke="#0000ff" stroke-width="1.0" stroke-linejoin="round"/>
<path d="M472.8 320.7l1.2-.2 1.3-.3 1.3-.3 1.2-.1 1.3-.2 1.2-.1 1.3-.6 1.2-.1 1.3-.3 1.2-.4 1.3-.2 1.2-.8 1.3-.5 1.2-.4 1.3-.4 1.3-.9 1.2-.8 1.3-.5 1.2-1 1.3-1.1 1.2-1 1.3-1.2 1.2-1.1 1.3-1.5 1.2-1.7 1.3-1.6 1.3-1.7 1.2-1.6 1.3-2 1.2-2.5 1.3-2 1.2-2.2 1.3-2.2 1.2-2.9 1.3-2 1.2-3.5 1.3-2.5 1.2-3.3 1.3-3.2 1.3-2.5 1.2-2.7 1.3-2.8 1.2-2.7 1.3-2.7 1.2-2.6 1.3-1.9 1.2-1.7 1.3-1.7 1.2-4.1 1.3 .3 1.2-1.4 1.3-1.4 1.3-1.9 1.2-1.3 1.3-1.9 1.2-1 1.3-.8 1.2-2 1.3-.8 1.2-.4 1.3-1.8 1.2 0 1.3-1.7 1.2 .2 1.3-.8 1.3-1 1.2-.9 1.3-.4 1.2-1.5 1.3 .5 1.2-.2 1.3 .1 1.2-1.4 1.3-.3 1.2 .5 1.3-.1 1.3-1.7 1.2 .5 1.3-.2 1.2-.7 1.3-1.2 1.2-.3 1.3 .7 1.2 .8 1.3-1.8 1.2 .8 1.3 0 1.2-2.1 1.3 .2 1.3 1.1 1.2-.5 1.3-.4 1.2-.5 1.3 .2 1.2-.9 1.3 1.8 1.2-2.3 1.3-.6" fill="none" stroke="#0000ff" stroke-width="1.0" stroke-linejoin="round"/>
<path d="M497 320.9l1.3-.1 1.2-.2 1.3 0 1.2-.3 1.3-.1 1.2-.2 1.3-.1 1.3 0 1.2-.5 1.3-.2 1.2 0 1.3-.8 1.2-.5 1.3-.2 1.2-.8 1.3-.3 1.2-.5 1.3-1.1 1.2-.7 1.3-.4 1.3-1.6 1.2-1 1.3-1 1.2-1.5 1.3-1.6 1.2-.9 1.3-2.4 1.2-1.6 1.3-2.3 1.2-2.2 1.3-2.7 1.3-1.8 1.2-3.1 1.3-2.2 1.2-3.8 1.3-2.8 1.2-2.8 1.3-3.4 1.2-3.6 1.3-3 1.2-3.8 1.3-2.4 1.2-4.2 1.3-1.3 1.3-2 1.2-2.6 1.3-2.3 1.2-2.7 1.3-1.5 1.2-2.3 1.3-1.5 1.2-1.6 1.3-3.3 1.2 1 1.3-1.5 1.2-1 1.3-2.2 1.3-.1 1.2-1.1 1.3-2.5 1.2-.6 1.3 .3 1.2-1.2 1.3-.4 1.2-1 1.3 .6 1.2-2.6 1.3-.2 1.2-.3 1.3-.8 1.3 0 1.2-.1 1.3-1.2 1.2 .6 1.3 .2 1.2-.5 1.3 .3 1.2-.9" fill="none" stroke="#0000ff" stroke-width="1.0" stroke-linejoin="round"/>
<path d="M493.2 321l1.3 0 1.2-.3 1.3-.3 1.2-.1 1.3 0 1.2-.1 1.3-.3 1.3-.1 1.2-.5 1.3-.2 1.2-.1 1.3-.5 1.2-.4 1.3-.3 1.2-.5 1.3-.9 1.2-.5 1.3-1 1.2-.5 1.3-.8 1.3-1.5 1.2-.3 1.3-1.1 1.2-1.7 1.3-1.3 1.2-1.5 1.3-2.2 1.2-1.5 1.3-2.2 1.2-2.8 1.3-2.2 1.3-2.4 1.2-2.1 1.3-3.2 1.2-2.5 1.3-3.6 1.2-3.5 1.3-1.8 1.2-2.9 1.3-4.3 1.2-3.5 1.3-2.4 1.2-4 1.3-2.2 1.3-3.2 1.2-1.4 1.3-2.4 1.2-2.4 1.3-2.1 1.2-2.2 1.3-1.4 1.2-.4 1.3-2.4 1.2-.5 1.3-2.4 1.2-.8 1.3-1.3 1.3-1 1.2-.4 1.3-2.5 1.2 .7 1.3-.8 1.2-1.2 1.3-.6 1.2-.9 1.3-.1 1.2-.9 1.3-1.1 1.2 0 1.3 0 1.3-.8 1.2-.7 1.3-.3 1.2-.8 1.3-.3 1.2-1.3 1.3 .7 1.2 .4 1.3-1.1 1.2-.6 1.3 .8" fill="none" stroke="#0000ff" stroke-width="1.0" stroke-linejoin="round"/>
<path d="M528.1 321l1.3 0 1.3-.2 1.2-.2 1.3 .1 1.2-.3 1.3-.3 1.2 0 1.3-.1 1.2-.6 1.3 .1 1.2-.5 1.3-.1 1.2-.5 1.3-.6 1.3-.3 1.2-.5 1.3-.9 1.2-.6 1.3-.9 1.2-.6 1.3-1.4 1.2-.9 1.3-1.6 1.2-.7 1.3-2.1 1.3-1.4 1.2-1.3 1.3-2.1 1.2-2.1 1.3-2.4 1.2-2.2 1.3-3 1.2-2 1.3-2.7 1.2-3 1.3-3.4 1.2-2.6 1.3-3.6 1.3-3.1 1.2-3.6 1.3-3.4 1.2-3.5 1.3-3.9 1.2-1.1 1.3-3 1.2-1.3 1.3-4.3 1.2-.7 1.3-2.9 1.2-1.3 1.3-2.2 1.3-.9 1.2-1.7 1.3-.9" fill="none" stroke="#0000ff" stroke-width="1.0" stroke-linejoin="round"/>
<path d="M513.8 320.8l1.3-.2 1.2-.3 1.3 0 1.2-.3 1.3-.1 1.2-.3 1.3-.3 1.3-.6 1.2 .2 1.3-.6 1.2-.1 1.3-.3 1.2-.9 1.3-.2 1.2-.7 1.3-.6 1.2-1 1.3-.6 1.2-.8 1.3-.7 1.3-.9 1.2-1.5 1.3-1.4 1.2-.8 1.3-2.1 1.2-1.6 1.3-1.7 1.2-1.8 1.3-1.9 1.2-2.6 1.3-2.1 1.2-1.8 1.3-2.6 1.3-3.1 1.2-2.8 1.3-3.1 1.2-2.4 1.3-3.7 1.2-2.7 1.3-3.4 1.2-3 1.3-2.6 1.2-2.7 1.3-2.9 1.3-2.2 1.2-2.2 1.3-2.4 1.2-2.1 1.3-1.6 1.2-1.4 1.3-1.4 1.2-2.1 1.3-1.7 1.2-1.3 1.3-.2 1.2-1.8 1.3-2.2 1.3-.5 1.2-1.3 1.3-.9 1.2-1.6 1.3 .1 1.2-1.6 1.3-.3 1.2 .5" fill="none" stroke="#0000ff" stroke-width="1.0" stroke-linejoin="round"/>
<path d="M501.7 320.9l1.2-.1 1.3-.2 1.3 0 1.2-.1 1.3-.2 1.2 0 1.3-.2 1.2-.3 1.3 0 1.2-.4 1.3-.3 1.2-.1 1.3-.5 1.2-.7 1.3-.4 1.3-.6 1.2-.9 1.3 0 1.2-.9 1.3-1.4 1.2-.6 1.3-1.6 1.2-.6 1.3-1.5 1.2-1.6 1.3-1.2 1.2-2.1 1.3-2 1.3-1.7 1.2-2.6 1.3-2.1 1.2-2.8 1.3-2.5 1.2-2.9 1.3-3 1.2-3.8 1.3-2.1 1.2-4.2 1.3-2.5 1.3-4.5 1.2-3.2 1.3-3.1 1.2-2.3 1.3-3.6 1.2-2.2 1.3-3.5 1.2-1.7 1.3-1.8 1.2-2.2 1.3-2.8 1.2-.4 1.3-2.4 1.3 .1 1.2-2.6 1.3 .1 1.2-2.1 1.3-1.3 1.2-1.6 1.3-.8 1.2-.6 1.3-2.2 1.2 .9 1.3-2 1.2-.2 1.3-2.2 1.3 1.3 1.2-.4 1.3-.9 1.2-.5 1.3-.9 1.2-.1 1.3 .2 1.2-1.4 1.3 .2 1.2-.3" fill="none" stroke="#0000ff" stroke-width="1.0" stroke-linejoin="round"/>
<path d="M491.9 320.3l1.2-.2 1.3 .2 1.2-.6 1.3 .1 1.3-.3 1.2-.7 1.3 0 1.2-.2 1.3-.3 1.2-.7 1.3-.2 1.2-.8 1.3-.5 1.2-.4 1.3-.5 1.2-.5 1.3-1 1.3-.7 1.2-1.4 1.3-1 1.2-.9 1.3-.7 1.2-2.1 1.3-1.4 1.2-1.1 1.3-1.3 1.2-2.6 1.3-1.4 1.2-2.4 1.3-1.2 1.3-2.4 1.2-2.5 1.3-2.6 1.2-2.6 1.3-2.4 1.2-3.1 1.3-2.8 1.2-2.9 1.3-2.4 1.2-3.2 1.3-2.1 1.2-4.1 1.3-1.2 1.3-2.5 1.2-1.9 1.3-3 1.2-2.7 1.3-1.6 1.2-.8 1.3-2.5 1.2-1.7 1.3-1.6 1.2-1.2 1.3-1.5 1.3-2 1.2-.7 1.3-.3 1.2-.8 1.3-1.9 1.2-1.2 1.3 .1 1.2-1.7 1.3-1.4 1.2-.2 1.3-.2 1.2-.2 1.3-1.9 1.3 0 1.2-1.1 1.3 .3 1.2-1 1.3-.5 1.2-1.3 1.3 0 1.2-.5 1.3-2.3 1.2 2.3 1.3-.9 1.2-.5 1.3-.4 1.3-.1 1.2-.1" fill="none" stroke="#0000ff" stroke-width="1.0" stroke-linejoin="round"/>
<path d="M500.9 321l1.2-.1 1.3-.2 1.2 0 1.3-.2 1.2 0 1.3 0 1.2-.3 1.3-.3 1.3-.3 1.2-.3 1.3-.1 1.2-.5 1.3-.4 1.2-.7 1.3-.2 1.2-.5 1.3-.6 1.2-.4 1.3-1.2 1.2-.9 1.3-.5 1.3-1.4 1.2-1 1.3-1.2 1.2-1.4 1.3-1.8 1.2-1.2 1.3-1.7 1.2-2.8 1.3-1.9 1.2-2 1.3-2.8 1.3-3 1.2-2.6 1.3-2.4 1.2-3.8 1.3-2.6 1.2-3.2 1.3-3.7 1.2-2.8 1.3-3.1 1.2-2.9 1.3-2.9 1.2-3.9 1.3-1.4 1.3-2.5 1.2-2 1.3-3 1.2-1 1.3-2.1 1.2-2.5 1.3-.2 1.2-2.6 1.3-1.5 1.2-.5 1.3-1.7 1.2-.6 1.3-1.3 1.3-.7 1.2-.6 1.3-1.3 1.2-.2 1.3-.8 1.2-1.7 1.3 .4 1.2-.8 1.3-.8 1.2 0 1.3-.2 1.2-1 1.3-1.8 1.3 .8 1.2-.8 1.3-.4 1.2 0" fill="none" stroke="#0000ff" stroke-width="1.0" stroke-linejoin="round"/>
<path d="M511.3 320.4l1.2-.2 1.3 0 1.2-.2 1.3-.1 1.2-.3 1.3-.4 1.2-.2 1.3-.7 1.3-.2 1.2 0 1.3-.6 1.2-.1 1.3-.5 1.2-1.1 1.3-.4 1.2-.1 1.3-1.5 1.2-.6 1.3-1 1.2-1 1.3-1.1 1.3-1.2 1.2-1 1.3-1.8 1.2-1.2 1.3-2 1.2-1.3 1.3-2 1.2-2.3 1.3-1.8 1.2-2.6 1.3-2.4 1.2-1.7 1.3-3.7 1.3-1.7 1.2-2.7 1.3-3.3 1.2-2.1 1.3-3 1.2-3.9 1.3-2 1.2-2.7 1.3-3.2 1.2-1.8 1.3-2.2 1.3-3 1.2-2.7 1.3-.8 1.2-2.4 1.3-2.3 1.2-.9 1.3-2.6 1.2-.4 1.3-.3 1.2-3.8 1.3 .7 1.2-2 1.3-.8 1.3-1.3 1.2-.1 1.3-1.2 1.2-1.3 1.3-1.2 1.2-.2 1.3 .2 1.2-2.1 1.3 .3" fill="none" stroke="#0000ff" stroke-width="1.0" stroke-linejoin="round"/>
<path d="M505 320.9l1.2-.2 1.3 .2 1.2-.2 1.3-.4 1.2-.2 1.3-.2 1.2-.3 1.3 0 1.2-.4 1.3-.3 1.3-.3 1.2-.3 1.3-.3 1.2-.7 1.3-.5 1.2-.6 1.3-.3 1.2-1.5 1.3-.7 1.2-.5 1.3-1.1 1.2-.9 1.3-1.2 1.3-1.1 1.2-2.2 1.3-1.3 1.2-2 1.3-1.5 1.2-2.3 1.3-2 1.2-2.9 1.3-2.2 1.2-2.8 1.3-2.7 1.2-3 1.3-3.3 1.3-2.2 1.2-3.5 1.3-2.8 1.2-4.2 1.3-3.6 1.2-2.4 1.3-2.6 1.2-2.2 1.3-2.4 1.2-2.3 1.3-2 1.3-2.5 1.2-2.3 1.3-2.3 1.2-.8 1.3-2.3 1.2-1.6 1.3-.6 1.2-1.6 1.3-.8 1.2-2 1.3 0 1.2-1.5 1.3-1.2 1.3-1.3 1.2-1 1.3-.9 1.2 .9 1.3-2.4 1.2 .6 1.3-1.1 1.2-.8 1.3-.5 1.2-.3 1.3 .2 1.2-.7" fill="none" stroke="#0000ff" stroke-width="1.0" stroke-linejoin="round"/>
<path d="M494.4 319.7l1.3 .3 1.3-.6 1.2-.3 1.3 .2 1.2-.7 1.3 .1 1.2-.3 1.3-.5 1.2-.3 1.3-.8 1.2-.4 1.3-.4 1.2-.5 1.3-.7 1.3-.5 1.2-1 1.3-1.2 1.2-.3 1.3-1.1 1.2-.8 1.3-.8 1.2-1.8 1.3-1.1 1.2-1.9 1.3-1 1.3-1.8 1.2-1.8 1.3-1.6 1.2-2.6 1.3-1.5 1.2-2.2 1.3-1.8 1.2-3.7 1.3-1.7 1.2-1.6 1.3-3.7 1.2-2.6 1.3-1.7 1.3-2.4 1.2-3.8 1.3-3.1 1.2-2.5 1.3-2.3 1.2-2.6 1.3-2.2 1.2-1.6 1.3-2.1 1.2-1.7 1.3-2 1.2-2.4 1.3-.6 1.3-1.8 1.2-1.9 1.3-1.2 1.2-1 1.3-1.3 1.2-1.3 1.3-.6 1.2-.9 1.3-1.8 1.2-.8 1.3-1.5 1.2-.3 1.3-.4 1.3-.5 1.2-1.2 1.3-.8 1.2-1 1.3-.1 1.2-1.4 1.3 .2 1.2-.6 1.3-1 1.2 .2 1.3-.7 1.3 0 1.2-1 1.3 .2 1.2 .3 1.3-1.2" fill="none" stroke="#0000ff" stroke-width="1.0" stroke-linejoin="round"/>
<path d="M504.7 320.1l1.3-.4 1.2 0 1.3-.3 1.2-.1 1.3-.5 1.2-.1 1.3-.2 1.2-.3 1.3-.7 1.3-.2 1.2 0 1.3-.8 1.2-.7 1.3-1.1 1.2-.3 1.3-.5 1.2-.9 1.3-.8 1.2-.8 1.3-1.3 1.3-.9 1.2-1.9 1.3-.2 1.2-2.2 1.3-1.6 1.2-1.1 1.3-2 1.2-1.7 1.3-2.6 1.2-1.8 1.3-2 1.2-3 1.3-2.1 1.3-2.6 1.2-2.6 1.3-2.8 1.2-3 1.3-2.1 1.2-2.8 1.3-2.5 1.2-3.3 1.3-2.9 1.2-3 1.3-1.6 1.2-2.5 1.3-1 1.3-1.9 1.2-2.3 1.3-3.2 1.2-2 1.3-1 1.2-1.9 1.3-.2 1.2-2.2 1.3-1.6 1.2-1 1.3-.5 1.2-2.3 1.3-.3 1.3-2 1.2-.3 1.3-1.2 1.2-.2 1.3-.9 1.2-.2 1.3-1 1.2-1.4 1.3-1.1 1.2-.3 1.3-.4 1.3-.4 1.2-.9" fill="none" stroke="#0000ff" stroke-width="1.0" stroke-linejoin="round"/>
<path d="M513.6 320.8l1.2-.2 1.3-.1 1.2-.1 1.3-.2 1.2-.3 1.3-.1 1.2-.4 1.3 0 1.2-.2 1.3-.5 1.2-.2 1.3-.5 1.3-.5 1.2 0 1.3-.8 1.2-.7 1.3-.8 1.2-.6 1.3-1 1.2-.8 1.3-1.3 1.2-.9 1.3-1.4 1.2-1.6 1.3-.7 1.3-1.9 1.2-2.2 1.3-2.2 1.2-1.8 1.3-2.3 1.2-2.3 1.3-2.8 1.2-2.4 1.3-2.5 1.2-2.8 1.3-3.9 1.3-2.3 1.2-3.6 1.3-3.3 1.2-2.9 1.3-3.3 1.2-2.3 1.3-2.9 1.2-3.1 1.3-2.8 1.2-1.1 1.3-2.1 1.2-2.9 1.3-2.2 1.3-1.2 1.2-1.5 1.3-2.7 1.2-.2 1.3-2.5 1.2-.6 1.3-2.1 1.2-.9 1.3-1.3 1.2-.8 1.3-.3 1.2-2.1 1.3-.5 1.3-.2 1.2-1.4 1.3 .8" fill="none" stroke="#0000ff" stroke-width="1.0" stroke-linejoin="round"/>
<path d="M483.4 320.8l1.3 .1 1.2-.1 1.3-.2 1.2-.4 1.3 0 1.2-.2 1.3-.1 1.2-.2 1.3-.2 1.2-.2 1.3-.7 1.3-.1 1.2-.8 1.3-.2 1.2-.7 1.3-.7 1.2-.2 1.3-.9 1.2-.6 1.3-1.4 1.2-.9 1.3-.8 1.2-1.4 1.3-1.1 1.3-1.6 1.2-1.5 1.3-2 1.2-1.1 1.3-2.5 1.2-2.4 1.3-1.7 1.2-2.5 1.3-2.7 1.2-2.7 1.3-3 1.2-2.9 1.3-3.9 1.3-2.8 1.2-3 1.3-2.5 1.2-2.6 1.3-3.6 1.2-2.8 1.3-1.9 1.2-3.2 1.3-1.8 1.2-2.3 1.3-2.9 1.3-1 1.2-1.9 1.3-2.4 1.2-1.4 1.3-1.6 1.2 .1 1.3-.8 1.2-2 1.3-.6 1.2-2.7 1.3 .6 1.2-.6 1.3-1 1.3-2.3 1.2 .4 1.3-1.4 1.2 0 1.3-1.6 1.2-.2 1.3-.9 1.2 .1 1.3-.9 1.2 .3 1.3-.6 1.2-.7 1.3-.7 1.3-.5 1.2-.2 1.3 .2 1.2-.7 1.3-.2 1.2-.5 1.3-.3 1.2-.6 1.3-1 1.2 1.3 1.3-.2 1.2-1.2 1.3 1.6 1.3-2.1 1.2 1.2" fill="none" stroke="#0000ff" stroke-width="1.0" stroke-linejoin="round"/>
<path d="M527.9 321.1l1.3-.1 1.3-.2 1.2-.2 1.3-.2 1.2 0 1.3 0 1.2-.2 1.3-.4 1.2-.1 1.3-.3 1.2-.1 1.3-.7 1.2-.2 1.3-.5 1.3-.6 1.2-.6 1.3-.3 1.2-.8 1.3-.9 1.2-.8 1.3-.8 1.2-1.2 1.3-.9 1.2-1.7 1.3-1.6 1.2-1.4 1.3-2 1.3-1.8 1.2-1.5 1.3-2.1 1.2-2.7 1.3-2.7 1.2-3.1 1.3-2.9 1.2-2.5 1.3-3.2 1.2-3.5 1.3-3.2 1.2-2.5 1.3-3.6 1.3-3.7 1.2-3 1.3-2.5 1.2-3.2 1.3-2.6 1.2-3.4 1.3-2.4 1.2-2.2 1.3-2.2 1.2-.6 1.3-1.5 1.3-2.3 1.2-.7 1.3-1.4" fill="none" stroke="#0000ff" stroke-width="1.0" stroke-linejoin="round"/>
<path d="M479.6 321.2l1.2-.1 1.3-.3 1.2 .2 1.3-.3 1.3-.3 1.2-.1 1.3-.3 1.2-.1 1.3-.3 1.2 .1 1.3-.4 1.2-.6 1.3-.1 1.2-.8 1.3-.1 1.3-.5 1.2-.7 1.3-.9 1.2-.5 1.3-.9 1.2-.9 1.3-.7 1.2-1.1 1.3-1.3 1.2-2 1.3-1.6 1.2-1.5 1.3-1.8 1.3-2.8 1.2-1.8 1.3-1.6 1.2-3.6 1.3-2.6 1.2-2.8 1.3-2.6 1.2-3.3 1.3-3.4 1.2-3.9 1.3-2.4 1.2-3.7 1.3-3.6 1.3-2.9 1.2-2.6 1.3-3.9 1.2-2.7 1.3-2.2 1.2-2.2 1.3-3.3 1.2-.6 1.3-.9 1.2-2.5 1.3-.8 1.2-3.7 1.3 .2 1.3-.4 1.2-1.1 1.3-2.3 1.2-1.3 1.3-.2 1.2-1.9 1.3-.3 1.2-1.6 1.3 .3 1.2-.7 1.3 .3 1.3-1.4 1.2-1.2 1.3-.1 1.2-1.3 1.3 .3 1.2-.6 1.3 0 1.2-.1 1.3-2.2 1.2 1.1 1.3-.1 1.2-1.5 1.3 1.6 1.3-1.9 1.2 1.8 1.3-1.4 1.2-.1 1.3-.6 1.2 .2 1.3-1.5 1.2 0 1.3-1 1.2 1.5 1.3-1 1.2 .8 1.3-.3 1.3-1.3" fill="none" stroke="#0000ff" stroke-width="1.0" stroke-linejoin="round"/>
<path d="M509.9 321l1.3 0 1.3-.2 1.2-.1 1.3 0 1.2-.4 1.3-.2 1.2-.1 1.3 0 1.2-.4 1.3 0 1.2-1 1.3 0 1.2-.4 1.3-.3 1.3-.3 1.2-.8 1.3-.8 1.2-.3 1.3-.7 1.2-1.7 1.3-.3 1.2-1.1 1.3-1.5 1.2-1.2 1.3-1.3 1.2-1.7 1.3-1.8 1.3-2.2 1.2-1.6 1.3-2.6 1.2-2.1 1.3-2.9 1.2-2.4 1.3-2.7 1.2-3.2 1.3-2.9 1.2-4.1 1.3-2.5 1.2-3.5 1.3-3.8 1.3-3.1 1.2-4.5 1.3-1.5 1.2-3.1 1.3-3.6 1.2-.9 1.3-2.9 1.2-1.7 1.3-2.2 1.2-1.5 1.3-1.9 1.3-1.8 1.2-1.1 1.3-1.2 1.2-3.1 1.3 .2 1.2-1.5 1.3-1.4 1.2 .5 1.3-1.2 1.2-2 1.3-.9 1.2 .4 1.3-1.6 1.3-.5 1.2-1.6 1.3 .5 1.2 .3" fill="none" stroke="#0000ff" stroke-width="1.0" stroke-linejoin="round"/>
<path d="M513.8 321l1.2-.2 1.3-.1 1.2-.2 1.3-.1 1.2-.5 1.3-.1 1.2-.4 1.3 .3 1.3-.5 1.2-.4 1.3-.4 1.2-.5 1.3-.7 1.2 .3 1.3-.9 1.2-.6 1.3-.9 1.2-.5 1.3-.8 1.3-1 1.2-.8 1.3-1.5 1.2-.9 1.3-1.2 1.2-1.6 1.3-1.6 1.2-1.9 1.3-2.2 1.2-1.5 1.3-2.5 1.2-2.5 1.3-1.8 1.3-3.5 1.2-2.3 1.3-2.3 1.2-2.9 1.3-3.5 1.2-2.9 1.3-2.9 1.2-3.4 1.3-3.4 1.2-2.3 1.3-2.9 1.2-2.7 1.3-1.9 1.3-2.8 1.2-2.5 1.3-1.7 1.2-1 1.3-3.2 1.2-1.4 1.3-1.9 1.2-.8 1.3-2.3 1.2-.3 1.3-1 1.2-2 1.3-1.1 1.3-1.4 1.2 0 1.3-1.6 1.2-.5 1.3-.7 1.2-.9 1.3 .3" fill="none" stroke="#0000ff" stroke-width="1.0" stroke-linejoin="round"/>
<path d="M504.1 320.3l1.2 0 1.3-.4 1.3-.1 1.2-.1 1.3 0 1.2-.3 1.3-.5 1.2-.2 1.3-.5 1.2-.3 1.3-.6 1.2-.6 1.3-.3 1.2-.3 1.3-.7 1.3-1.2 1.2-.4 1.3-1 1.2-.7 1.3-1.3 1.2-.6 1.3-1.5 1.2-1.2 1.3-1.3 1.2-2.3 1.3-1.2 1.2-1.3 1.3-2.4 1.3-1.7 1.2-2.4 1.3-2.6 1.2-2.1 1.3-2.3 1.2-2.5 1.3-2.7 1.2-3.9 1.3-2 1.2-4 1.3-2.4 1.2-3 1.3-2.6 1.3-2.9 1.2-2.2 1.3-3.5 1.2-1.7 1.3-2.5 1.2-2.3 1.3-2.7 1.2-1 1.3-1.9 1.2-1.4 1.3-2.1 1.3-1.6 1.2-1 1.3-1.3 1.2-1.1 1.3-.5 1.2-2.6 1.3 .5 1.2-4 1.3 1.4 1.2-1.9 1.3 .9 1.2-2.6 1.3 .5 1.3-2 1.2-.7 1.3 .5 1.2-.5 1.3-1.6 1.2 1.4 1.3-2.2 1.2 .7" fill="none" stroke="#0000ff" stroke-width="1.0" stroke-linejoin="round"/>
<path d="M515.2 320.9l1.3-.2 1.2 .1 1.3-.4 1.2 .1 1.3-.2 1.2-.3 1.3 0 1.2-.3 1.3-.3 1.3-.1 1.2-.4 1.3-.3 1.2-.2 1.3-.7 1.2-.4 1.3-.7 1.2-.5 1.3-.7 1.2-1 1.3-1.1 1.3-.9 1.2-1 1.3-.8 1.2-1.5 1.3-1.5 1.2-1.4 1.3-1.6 1.2-1.6 1.3-2.7 1.2-1.8 1.3-2.2 1.2-3.1 1.3-2.2 1.3-3.2 1.2-2.6 1.3-2.8 1.2-3.9 1.3-2.9 1.2-3.2 1.3-2.8 1.2-3.5 1.3-2.5 1.2-3.5 1.3-2.5 1.2-1.9 1.3-2.5 1.3-2.3 1.2-2.1 1.3-1.4 1.2-1.6 1.3-2.6 1.2-1.8 1.3-1.6 1.2 .2 1.3-2.7 1.2-1.5 1.3-.2 1.2-.5 1.3-2.3 1.3-.3 1.2-1.6 1.3-.4 1.2 .7 1.3-1.6" fill="none" stroke="#0000ff" stroke-width="1.0" stroke-linejoin="round"/>
<path d="M516.8 320.1l1.2-.3 1.3-.3 1.2-.2 1.3 .2 1.2-.7 1.3 0 1.2-.6 1.3 0 1.2-.5 1.3-.6 1.2 0 1.3-1.1 1.3-.4 1.2-.7 1.3-.7 1.2-.7 1.3-.9 1.2-.7 1.3-.6 1.2-1.8 1.3-1 1.2-1.2 1.3-1.2 1.2-1 1.3-1.6 1.3-1.6 1.2-1.9 1.3-1.1 1.2-3.1 1.3-2.1 1.2-1.8 1.3-2.1 1.2-2.6 1.3-2.7 1.2-2.7 1.3-2.2 1.3-2.8 1.2-2.6 1.3-3 1.2-1.6 1.3-3.1 1.2-1.9 1.3-3.6 1.2-2.1 1.3-2.4 1.2-1.9 1.3-2.2 1.2-1.8 1.3-2.8 1.3-.8 1.2-1.1 1.3-3 1.2-.6 1.3-.8 1.2-.9 1.3-2 1.2-.9 1.3-.3 1.2-1.3 1.3-2 1.2-1.1 1.3 .1 1.3-1.3" fill="none" stroke="#0000ff" stroke-width="1.0" stroke-linejoin="round"/>
<path d="M513.8 320.1l1.3-.2 1.2-.2 1.3-.2 1.2-.4 1.3 .2 1.3-.3 1.2-.3 1.3-.6 1.2-.3 1.3-.4 1.2-.4 1.3-.9 1.2-.2 1.3-.9 1.2-.5 1.3-.8 1.2-.3 1.3-1.1 1.3-1.1 1.2-.7 1.3-1.4 1.2-1.4 1.3-1.2 1.2-1.4 1.3-1.4 1.2-1.4 1.3-2 1.2-1.9 1.3-1.5 1.2-2.3 1.3-2 1.3-2.5 1.2-3 1.3-2.4 1.2-2.7 1.3-1.5 1.2-2.9 1.3-3.1 1.2-3 1.3-2.1 1.2-3 1.3-2.3 1.3-3.1 1.2-2.5 1.3-.9 1.2-3.4 1.3-1.5 1.2-1.2 1.3-3.5 1.2-.3 1.3-2 1.2-1.6 1.3-1.3 1.2-2.1 1.3-1.9 1.3 1.1 1.2-2.4 1.3-.4 1.2-.9 1.3-1.5 1.2-.8 1.3-.7 1.2-.4 1.3-1.4 1.2-.3" fill="none" stroke="#0000ff" stroke-width="1.0" stroke-linejoin="round"/>
<path d="M533.3 320.5l1.2-.1 1.3-.2 1.2 0 1.3-.3 1.2-.3 1.3 0 1.2-.5 1.3-.2 1.2-.3 1.3-.5 1.2-.6 1.3-.2 1.3-.6 1.2-.6 1.3-.5 1.2-.7 1.3-.8 1.2-1.1 1.3-.5 1.2-.6 1.3-1.2 1.2-1.1 1.3-1.6 1.3-1.1 1.2-2 1.3-1.5 1.2-1.5 1.3-2.5 1.2-1.5 1.3-2 1.2-1.8 1.3-3.2 1.2-2.1 1.3-3 1.2-2.7 1.3-3.6 1.3-2.1 1.2-2 1.3-3.2 1.2-3.1 1.3-1.8 1.2-3.7 1.3-3.5 1.2-2 1.3-2.2 1.2-1.4 1.3-3.4 1.2-1.3 1.3-1.6" fill="none" stroke="#0000ff" stroke-width="1.0" stroke-linejoin="round"/>
<path d="M537 320.7l1.3 .1 1.2-.4 1.3 .1 1.2 .1 1.3-.3 1.2-.2 1.3-.2 1.2 0 1.3-.5 1.3-.2 1.2-.5 1.3-.4 1.2-.5 1.3-.3 1.2-.6 1.3-.3 1.2-.7 1.3-.9 1.2-.8 1.3-1.4 1.3-.5 1.2-.9 1.3-1.1 1.2-2.3 1.3-1.3 1.2-.9 1.3-2.1 1.2-1.6 1.3-2.1 1.2-1.9 1.3-3.1 1.2-2 1.3-2.1 1.3-3 1.2-3.3 1.3-2.4 1.2-3.2 1.3-3.6 1.2-2.5 1.3-3.2 1.2-3.5 1.3-2.5 1.2-3.8 1.3-1.7 1.2-3 1.3-2.7" fill="none" stroke="#0000ff" stroke-width="1.0" stroke-linejoin="round"/>
<path d="M540.8 319.8l1.2-.2 1.3-.2 1.2-.3 1.3 0 1.2 0 1.3-.5 1.3-.4 1.2-.4 1.3-.5 1.2-.5 1.3-.6 1.2-.1 1.3-.9 1.2-.7 1.3-.7 1.2-.6 1.3-.9 1.3-.8 1.2-.9 1.3-.8 1.2-1.8 1.3-.8 1.2-1.6 1.3-1.3 1.2-1 1.3-1.9 1.2-2 1.3-1.5 1.2-2.1 1.3-1.7 1.3-2.6 1.2-1.9 1.3-2.6 1.2-2.3 1.3-2.5 1.2-2.7 1.3-2.3 1.2-2.2 1.3-3.4 1.2-2.6 1.3-2.2 1.2-3 1.3-1.7" fill="none" stroke="#0000ff" stroke-width="1.0" stroke-linejoin="round"/>
<path d="M543.3 320.6l1.2-.1 1.3 0 1.2-.1 1.3-.4 1.3-.1 1.2-.2 1.3-.2 1.2-.1 1.3-.3 1.2-.4 1.3-.3 1.2-.4 1.3-.6 1.2-.6 1.3-.6 1.3-.3 1.2-.7 1.3-.8 1.2-1.1 1.3-1 1.2-.9 1.3-.9 1.2-1.4 1.3-1.5 1.2-1.7 1.3-1.3 1.2-1.8 1.3-2.3 1.3-1.2 1.2-3.1 1.3-1.7 1.2-2.9 1.3-2.5 1.2-3 1.3-2.8 1.2-2.4 1.3-3.4 1.2-3.2 1.3-2.6 1.2-3.2 1.3-3.3" fill="none" stroke="#0000ff" stroke-width="1.0" stroke-linejoin="round"/>
<path d="M547.7 320l1.2-.2 1.3-.1 1.2-.5 1.3-.3 1.2 0 1.3-.2 1.3-.4 1.2-.5 1.3-.4 1.2-.2 1.3-.7 1.2-.7 1.3-.2 1.2-.7 1.3-.6 1.2-.6 1.3-.8 1.2-1 1.3-1.2 1.3-1.5 1.2-.5 1.3-1.4 1.2-.9 1.3-1.4 1.2-1.8 1.3-1.4 1.2-2.1 1.3-1.9 1.2-2.2 1.3-1.9 1.2-2 1.3-2 1.3-3 1.2-1.9 1.3-1.9 1.2-4.1 1.3-2.2 1.2-2.6" fill="none" stroke="#0000ff" stroke-width="1.0" stroke-linejoin="round"/>
<path d="M469.3 320.9l1.3 .3 1.2-.5 1.3-.6 1.2-.4 1.3 .1 1.2-.1 1.3-.1 1.2-.7 1.3 .8 1.2-1.2 1.3 .3 1.2-.4 1.3-.8 1.3 .1 1.2-.4 1.3-.5 1.2 0 1.3-1 1.2 .7 1.3-1.1 1.2-1.4 1.3-1.2 1.2 .8 1.3-1.2 1.2-.8 1.3-1.3 1.3-1.1 1.2-1.2 1.3 .7 1.2-1.5 1.3-2 1.2-.4 1.3-2.8 1.2-.4 1.3-1.5 1.2-2.3 1.3-1.5 1.3-2 1.2-1.4 1.3-1.4 1.2-2.2 1.3-2.3 1.2-1.8 1.3-3.4 1.2-.7 1.3-3.1 1.2-2.9 1.3-2 1.2-2.4 1.3-2.1 1.3-2.3 1.2-3.3 1.3-.7 1.2-1.9 1.3-3.1 1.2-.9 1.3-1.9 1.2-1.9 1.3-1.4 1.2-2.8 1.3-.6 1.2-2.2 1.3 0 1.3-2.6 1.2-1.4 1.3-.3 1.2-1.3 1.3-1.4 1.2-1 1.3-.8 1.2-.5 1.3-1.9 1.2-.8 1.3-.8 1.3-.6 1.2-.7 1.3-1.3 1.2 0 1.3-1.3 1.2-.3 1.3-.6 1.2-.6 1.3 .2 1.2-.5 1.3-.7 1.2-.3 1.3-1.2 1.3 .2 1.2-1 1.3-.3 1.2-.3 1.3-1.1 1.2 0 1.3-.2 1.2-.1 1.3-.5 1.2-.6 1.3-.4 1.2 .2 1.3-.7" fill="none" stroke="#0000ff" stroke-width="1.0" stroke-linejoin="round"/>
<circle cx="594.70" cy="321.50" r="5.35" fill="#c8c8c8" stroke="#000" stroke-width="1.15"/>
<circle cx="594.70" cy="275.30" r="5.35" fill="#ff0000" stroke="#000" stroke-width="1.15"/>
<circle cx="594.70" cy="243.50" r="5.35" fill="#ff0000" stroke="#000" stroke-width="1.15"/>
<circle cx="594.70" cy="248.50" r="5.35" fill="#ff0000" stroke="#000" stroke-width="1.15"/>
<circle cx="594.70" cy="245.80" r="5.35" fill="#ff0000" stroke="#000" stroke-width="1.15"/>
<circle cx="594.70" cy="251.50" r="5.35" fill="#ff0000" stroke="#000" stroke-width="1.15"/>
<circle cx="594.70" cy="236.50" r="5.35" fill="#ff0000" stroke="#000" stroke-width="1.15"/>
<circle cx="594.70" cy="215.50" r="5.35" fill="#ff0000" stroke="#000" stroke-width="1.15"/>
<circle cx="594.70" cy="219.00" r="5.35" fill="#ff0000" stroke="#000" stroke-width="1.15"/>
<circle cx="594.70" cy="226.70" r="5.35" fill="#ff0000" stroke="#000" stroke-width="1.15"/>
</g>
<path d="M366.6 196.50V326.40H603.5V196.50" fill="none" stroke="#111" stroke-width="1.2"/>
<line x1="366.00" y1="197.10" x2="604.10" y2="197.10" stroke="#585858" stroke-width="2"/>
<line x1="406.60" y1="326.4" x2="406.60" y2="333.00" stroke="#000" stroke-width="1"/>
<text x="406.60" y="349.60" font-size="17.6" text-anchor="middle">50</text>
<line x1="469.30" y1="326.4" x2="469.30" y2="333.00" stroke="#000" stroke-width="1"/>
<text x="469.30" y="349.60" font-size="17.6" text-anchor="middle">100</text>
<line x1="532.00" y1="326.4" x2="532.00" y2="333.00" stroke="#000" stroke-width="1"/>
<text x="532.00" y="349.60" font-size="17.6" text-anchor="middle">150</text>
<line x1="594.70" y1="326.4" x2="594.70" y2="333.00" stroke="#000" stroke-width="1"/>
<text x="594.70" y="349.60" font-size="17.6" text-anchor="middle">200</text>
<line x1="359.90" y1="321.60" x2="366.6" y2="321.60" stroke="#000" stroke-width="1"/>
<text transform="translate(351.80,321.60) rotate(-90)" font-size="17.6" text-anchor="middle">0</text>
<line x1="359.90" y1="298.56" x2="366.6" y2="298.56" stroke="#000" stroke-width="1"/>
<line x1="359.90" y1="275.52" x2="366.6" y2="275.52" stroke="#000" stroke-width="1"/>
<text transform="translate(351.80,275.52) rotate(-90)" font-size="17.6" text-anchor="middle">10000</text>
<line x1="359.90" y1="252.48" x2="366.6" y2="252.48" stroke="#000" stroke-width="1"/>
<line x1="359.90" y1="229.44" x2="366.6" y2="229.44" stroke="#000" stroke-width="1"/>
<line x1="359.90" y1="206.40" x2="366.6" y2="206.40" stroke="#000" stroke-width="1"/>
<text transform="translate(351.80,206.40) rotate(-90)" font-size="17.6" text-anchor="middle">25000</text>
<text x="368.10" y="214.10" font-size="21.2">D</text>
<rect x="76.45" y="380.0" width="237.00" height="129.40" fill="#bebebe"/>
<g clip-path="url(#cp02)">
<line x1="141.58" y1="380.0" x2="141.58" y2="509.4" stroke="#7cd2d2" stroke-width="2.1"/>
<path d="M66.3 411l.7 0 .6-.1 .6-.3 .6 .8 .7-1.2 .6 1.4 .6-.4 .7-1 .6 1.2 .6-.8 .6 0 .7-.3 .6 .7 .6-.4 .6 .5 .7-.1 .6-.2 .6-.6 .7 .7 .6-2 .6 2.4 .6-.5 .7 .3 .6-.2 .6 0 .6 .1 .7-.2 .6 .5 .6-2.4 .7 1.6 .6 .3 .6-1.3 .6 1 .7 .5 .6-.6 .6 .2 .6 .4 .7 .1 .6 0 .6-1.1 .6 .4 .7 .5 .6-.1 .6 .3 .7 .4 .6-1.1 .6 .9 .6-.3 .7-.6 .6 1.3 .6-.7 .6 0 .7-1.3 .6 1.1 .6 .1 .7-.1 .6 .2 .6-.2 .6-1.2 .7 1.3 .6-.7 .6 1 .6-.3 .7 .1 .6-.3 .6 .6 .6-.4 .7-.4 .6 .3 .6 .3 .7-.2 .6-1.8 .6 1.5 .6-.1 .7-1.3 .6 2.1 .6-.5 .6 .6 .7-1.2 .6 .2 .6 10.5 .7 9.8 .6 8.8 .6 2.3 .6 6.3 .7 4 .6 .7 .6 1.6 .6 1.3 .7 .1 .6 .6 .6 1.9 .7 1.6 .6-.5 .6 .5 .6 .1 .7 .2 .6-.1 .6 .4 .6-.2 .7-.1 .6-.3 .6 1.3 .6-.5 .7 .4 .6-.4 .6 1.3 .7-1.3 .6 .9 .6-.8 .6 0 .7-1.6 .6 1.5 .6 .8 .6-1.7 .7 .4 .6 1.4 .6-.7 .7-.7 .6 1.2 .6-.3 .6 0 .7-.2 .6 .8 .6-.6 .6 0 .7 .7 .6-.9 .6 .4 .6-.1 .7 0 .6-.3 .6 .3 .7-.4 .6-.8 .6 1.2 .6 .1 .7 .4 .6-.1 .6-.6 .6-.8 .7 .6 .6-.3 .6 1 .7-.5 .6 .4 .6-.2 .6 .1 .7 .5 .6-.4 .6-1.8 .6 1.1 .7 .5 .6 .4 .6-.2 .7 .3 .6-.9 .6 .5 .6 0 .7-.4 .6-.2 .6 .7 .6-.7 .7 0 .6 .7 .6-.1 .6 .2 .7 .1 .6-1 .6 .3 .7-.5 .6 .4 .6 .6 .6-.1 .7-.3 .6 .6 .6-.8 .6 0 .7-.6 .6 .1 .6-.1 .7 1.5 .6-.2 .6 0 .6-.4 .7-.9 .6 1.4 .6-.4 .6 .1 .7-.1 .6-1.2 .6 1 .7 .1 .6 .7 .6-.7 .6 .3 .7 .3 .6-.9 .6-.4 .6 .8 .7 .6 .6-.2 .6-1.9 .6 1.5 .7-.3 .6 .1 .6-.3 .7 .4 .6-.2 .6 .3 .6 0 .7-.2 .6 .4 .6 .5 .6-.9 .7 .4 .6-.2 .6-.5 .7-.4 .6 1.1 .6-.2 .6 .3 .7-.5 .6-.1 .6 .9 .6-.3 .7-1 .6 .6 .6-3.2 .7 2.1 .6-1.3 .6 3.1 .6-.4 .7-.2 .6 0 .6 .1 .6-.2 .7-.2 .6 .5 .6-1 .6 .2 .7 .8 .6 .1 .6 .5 .7-.9 .6 .6 .6-1.3 .6-.1 .7 .4 .6 .7 .6 .4 .6-.9 .7-.5 .6 .8 .6 0 .7-.7 .6 .3 .6-.1 .6 .4 .7 .7 .6-1.2 .6 .6 .6-.3 .7 .3 .6-.3 .6 .3 .6-.6 .7 .9 .6-1.6 .6 1.2 .7-.4 .6 .4 .6-.1 .6-.2 .7 1.1 .6-1.7 .6 .9 .6-.3 .7-.1 .6 .9 .6-.2 .7-.6 .6-1 .6 1.6 .6-.2 .7-.9 .6 .5 .6 .4 .6-.1 .7-.5 .6 1 .6-.7 .7-.3 .6 .8 .6-.5 .6-.2 .7 1 .6-1 .6 .8 .6-.4 .7 .7 .6-.3 .6-.8 .6 0 .7 .8 .6-1.2 .6 1.6 .7-1.3 .6 .7 .6-1.2 .6 1 .7-.8 .6 1.2 .6-.4 .6-.9 .7 .9 .6-.3 .6 .6 .7-.7 .6-.1 .6 .8 .6-.2 .7 0 .6-.2 .6-.1 .6-.4 .7 1 .6-.4 .6 0 .6 .5 .7-.4 .6-.4 .6 .9 .7-.6 .6 .3 .6-.7 .6 .7 .7 .6 .6-.2 .6-1.2 .6 .7 .7-.4 .6 1 .6-.4 .7-.1 .6-.3 .6 .2 .6 .4 .7-1.1 .6 .5 .6 .2 .6 .1 .7 .2 .6-.7 .6-.2 .7 0 .6 .6 .6-.5 .6 .6 .7-.3 .6 .4 .6 0 .6 .2 .7-.5 .6-.3 .6-1.7 .6 1.9 .7-.2 .6 .5 .6-.6 .7 .6 .6-1.5 .6-.2 .6 1.6 .7 .2 .6-1.6 .6 1.4 .6 .3 .7-.1 .6-.8 .6-1.7 .7 1.1 0 8.7-.7-.4-.6 .4-.6-.4-.7-.3-.6 .6-.6 .4-.6-.9-.7 .6-.6 .4-.6-.6-.6-.2-.7-.4-.6 .3-.6-.5-.7 .6-.6 .1-.6 .4-.6 0-.7-.1-.6 .7-.6-1.5-.6 1.3-.7-.5-.6-.8-.6 .2-.6 .8-.7-.5-.6 .8-.6-.8-.7-.2-.6-.5-.6 .9-.6 .8-.7-1.8-.6 1.6-.6-.6-.6 .9-.7-.9-.6 .7-.6 .9-.7-1.4-.6-.6-.6 .8-.6-1-.7 .6-.6 .3-.6 .1-.6-.5-.7 .2-.6 1.2-.6-1.7-.7 .2-.6 0-.6 .1-.6-.6-.7 .3-.6-.1-.6 1.1-.6-.7-.7 .4-.6-.1-.6-.3-.6-.3-.7-.2-.6 .5-.6-.2-.7 1-.6-1.1-.6 .5-.6 .3-.7-.7-.6-.1-.6 1.9-.6-1.7-.7-.5-.6 .4-.6-.5-.7 1.1-.6 .4-.6-.4-.6-.6-.7-.2-.6 .5-.6-.1-.6 .2-.7 1.9-.6-2.3-.6 .9-.6-.2-.7-1-.6 0-.6 1.8-.7-1.6-.6 1.5-.6-.8-.6-.3-.7-.3-.6 .5-.6-.3-.6 0-.7-.2-.6 1.8-.6-1.7-.7 1.2-.6-1.4-.6 .7-.6-.9-.7 1.2-.6-1-.6-.6-.6 1.5-.7 .4-.6-1.5-.6 0-.7 1.8-.6-1.7-.6 .2-.6-.4-.7-.1-.6 .9-.6-.2-.6-.6-.7 .8-.6-.4-.6 0-.6 .8-.7-.1-.6 1.2-.6-1.5-.7 .1-.6-.6-.6 .5-.6 .4-.7-.6-.6 .1-.6-.2-.6 .4-.7-.8-.6 .6-.6-.3-.7 0-.6 0-.6 0-.6 .2-.7 0-.6 0-.6 .3-.6-.1-.7 .9-.6-1-.6-.9-.6 1.1-.7-.9-.6 0-.6 .7-.7-.5-.6 1-.6-.5-.6-.2-.7 .9-.6-1.4-.6 1.2-.6 .6-.7-1.3-.6 .4-.6-.3-.7 0-.6 0-.6 .9-.6-1.1-.7 0-.6-.3-.6 .9-.6-.7-.7 1.1-.6-1.5-.6 .3-.7 .5-.6 0-.6 0-.6 1.2-.7-1.5-.6 .6-.6-.6-.6 .1-.7-.1-.6 .8-.6-.8-.6 .4-.7-.3-.6-.6-.6 .4-.7-.3-.6 0-.6 .9-.6-.2-.7-.6-.6 .7-.6 .2-.6 .3-.7-.4-.6-.6-.6-.2-.7 .7-.6-.6-.6 1-.6-1-.7 .8-.6-.4-.6-.6-.6 .5-.7 .7-.6-.9-.6 1.4-.7-.5-.6-.2-.6-.1-.6-.1-.7-.3-.6-.2-.6-.4-.6 .7-.7 .6-.6-1.1-.6 .7-.6-.1-.7 .9-.6-.2-.6-.4-.7 1.6-.6-.2-.6-2.5-.6 .1-.7 .2-.6 .3-.6-.3-.6-.2-.7-.3-.6 2.1-.6-1.7-.7 .4-.6 .3-.6-.3-.6-.3-.7 1.4-.6-.8-.6-.1-.6-.5-.7 2-.6-2-.6 .7-.7-.8-.6 1.1-.6-1.3-.6 .7-.7-.1-.6 .2-.6-.8-.6 1-.7-.4-.6 .4-.6 .1-.6 .6-.7 .3-.6-1.1-.6-.6-.7 .6-.6-.7-.6 1.1-.6-1.2-.7-.1-.6 .6-.6-.3-.6-.1-.7 .4-.6 0-.6-.3-.7 .7-.6 0-.6-.2-.6-.3-.7 .5-.6-.8-.6 0-.6 .2-.7-.4-.6 1-.6-.8-.6 1-.7-.9-.6 .5-.6-.1-.7 .1-.6 0-.6 0-.6-3.7-.7-5.4-.6-6.6-.6-8.9-.6-9.6-.7-8.4-.6-5.6-.6-.5-.7 .3-.6 .9-.6 .9-.6-1.3-.7 .2-.6-.4-.6 .6-.6-.8-.7 .3-.6 1.4-.6-1-.7-1-.6 2.6-.6-2.2-.6 .3-.7 .1-.6-.8-.6 .7-.6-.8-.7 .4-.6 .2-.6 2.2-.6-1.9-.7 0-.6-.2-.6 .6-.7-.4-.6 .6-.6-.5-.6-.7-.7 2.3-.6-2.2-.6-.2-.6 .6-.7 1.3-.6-2-.6 .4-.7-.2-.6 .2-.6 1.9-.6-.9-.7-1.3-.6 .9-.6 .2-.6-.7-.7-.1-.6 .8-.6-.8-.6-.3-.7 1.4-.6 .7-.6-1.3-.7 .7-.6-1.7-.6 2.5-.6-1.4-.7-.3-.6-.4-.6 .8-.6-.2-.7 .3-.6-.4-.6-.2-.7 .5-.6 0-.6-.6-.6 .1-.7 3.5-.6-3.7-.6 .4-.6 .4-.7-.8-.6 .7-.6-.7-.7 0-.6 1-.6-1.6-.6 1.7-.7-1z" fill="#0000ff"/>
<path d="M161.6 466.7l1-.9 1-1 1 .3 1-3.1 1 .6 1-3.2 1-.7 1-4.6 1 1 1-5 1-2.2 1 1.1 1-2.6 1 0 1 1.6 1-6.6 1-1.4 1-.4 1-1.2 1-2.7 1-1.7 1-.2 1-2 1-4.1 1.1 0 1-1.4 1-3.3 1 .5 1-1.9 1 1.9 1-1.3 1-.4 1-1.1 1 .3 1-2.5 1 .8 1 1.6 1-3.2 1 3.4 1-3.2 1 2.8 1-2.1 1 1.8 1-.9 1-2.1 1 3.2 1 .2 1-2 1-.3 1 0 1-1 1 2.4 1-2 1 .5 1-1 1.1 .2" fill="none" stroke="#0000ff" stroke-width="1.25" stroke-linejoin="round"/>
<path d="M161.8 466.3l1-1.5 1-1.1 1-.2 1.1-1.9 1-.6 1-2.2 1-1.5 1-3.3 1-.7 1 2.3 1-5.4 1-2.3 1 .6 1 0 1-6.3 1 .4 1-2.4 1-3.5 1 2.3 1-2.8 1-1.5 1-3 1 .3 1-3.2 1-.9 1-3.1 1-1.8 1 2.6 1-3.2 1 .6 1-.6 1-.8 1-.4 1 1.2 1.1-1.4 1 0 1 0 1 1.2 1-.8 1-.5 1-1.3 1-1.1 1 2.7 1-.1 1-1.5 1 .7 1 .2 1 0 1 0 1-1.7 1 2.3 1-3.4 1 2.4 1-.5 1 .4 1 1.2" fill="none" stroke="#0000ff" stroke-width="1.25" stroke-linejoin="round"/>
<path d="M163.9 466.1l1-2.9 1 1.6 1 .6 1.1-5.6 1-2.4 1 2.1 1-2 1-2.2 1-1.3 1-3.1 1-2.8 1 .3 1-3 1-2.9 1 1.7 1-2.7 1-1 1-4.1 1-1.2 1-2.3 1-1.6 1 0 1-3.3 1 .2 1-1.7 1 1 1-7.1 1 2 1-1.9 1-.1 1-2 1 1 1 1.3 1-1.2 1.1 0 1-.6 1 1.6 1-1.5 1-2.8 1 1.7 1-1.6 1-1.7 1 3.2 1 2.2 1-1.7 1-1.5 1 .2 1 2.4 1-1.2 1-.2 1-.2 1 .1 1 .8" fill="none" stroke="#0000ff" stroke-width="1.25" stroke-linejoin="round"/>
<path d="M163.7 465.6l1-1.9 1 2.9 1-4.6 1 .3 1-1.4 1-3.7 1 3.2 1-2.1 1.1-4.7 1 .3 1-2.4 1-6.5 1 2.9 1-2.2 1-1.5 1-3.6 1-.4 1-1.6 1 .5 1-3.1 1-2.2 1 .7 1-5 1-1.3 1-3.9 1 3.8 1-2.6 1-1.6 1-1.2 1-1 1-.1 1-.9 1-.2 1 .1 1 1.5 1-1.4 1-.9 1-.9 1-.2 1.1 2.5 1-1.5 1-.6 1-.7 1-1 1 1.1 1 1 1-1.6 1 .1 1-.1 1 .3 1-2.1 1 1.6 1-.9 1 2.1" fill="none" stroke="#0000ff" stroke-width="1.25" stroke-linejoin="round"/>
<path d="M163.3 467.2l1-2.9 1-.5 1 .5 1-1.9 1-3.2 1 .7 1 .8 1-5.3 1-1.6 1-3.1 1 .4 1-4.2 1-1.5 1 2 1-5.2 1 1.4 1-1.1 1-3.8 1-1.3 1 .5 1-5.1 1-2.4 1-2.9 1 .6 1 .6 1-2.5 1-4.6 1.1-1.5 1 .3 1 .6 1-.9 1 .2 1-.2 1-1 1 0 1 .1 1-.6 1 .5 1 1.5 1-1.7 1-.8 1-2.3 1 2.3 1-2.9 1 .5 1 2.6 1-.3 1-1.1 1-2 1 1.5 1-.4 1 1.5 1 1.9 1-2.6" fill="none" stroke="#0000ff" stroke-width="1.25" stroke-linejoin="round"/>
<path d="M163.6 464.5l1-1.5 1 2 1-2.8 1 2.1 1-1.6 1-1.5 1-4.1 1 0 1.1-2.7 1-2 1-1.6 1-3.2 1-1.9 1 1.9 1-3.2 1-1 1-.5 1-6 1-.2 1-.1 1-1.3 1-2.8 1 .6 1-2.9 1-3.9 1-1.1 1 1.3 1-2 1-3.4 1 3.7 1-1.1 1 .7 1-2.2 1-.1 1-1.1 1 4.2 1-3.3 1 2 1-2.8 1.1 .8 1-2.2 1 1.4 1 1.6 1-2.8 1 2.7 1-.9 1-1.7 1 .5 1 0 1 .5 1-.7 1-.3 1 .5 1-.9" fill="none" stroke="#0000ff" stroke-width="1.25" stroke-linejoin="round"/>
<path d="M163.7 462.4l1 2.4 1-1 1-1.3 1 1.6 1-3.7 1 1.8 1-5.1 1 .3 1-2.5 1-2.3 1 .6 1-2.8 1-.3 1-2.6 1-3.2 1 0 1-1.4 1-.1 1-4.5 1-.2 1-4.2 1 2.3 1-4.3 1-2.6 1.1 1.3 1 .4 1-5.7 1-.7 1 .2 1-1.1 1 1.2 1-1.9 1-.4 1 1.1 1-2.1 1 1 1-2 1-.7 1-1.1 1 4.2 1-2.9 1 .4 1-.6 1 0 1-.4 1 2 1-3.7 1-.8 1 .5 1-.6 1 2.4 1-.1 1-2.3 1-.6" fill="none" stroke="#0000ff" stroke-width="1.25" stroke-linejoin="round"/>
<path d="M164.6 465.6l1-2.5 1 3.4 1-4.2 1-.2 1-3.5 1-.7 1 2.2 1.1-2.5 1-3.6 1-2.4 1-3.3 1 .7 1-1 1-1.8 1-1.7 1-3.3 1 0 1-1.6 1 .4 1-.7 1-4.8 1-2.7 1-.5 1-2.4 1-1.8 1-.5 1-3.1 1 1.1 1-1.6 1 0 1-.8 1-1 1-.6 1 .6 1-.7 1 .7 1-.5 1-1.9 1.1 1.5 1-1.8 1 .6 1 .3 1-2.3 1 2.4 1-.1 1-.5 1-.4 1-.1 1-.8 1 .8 1-.5 1 .7 1-1.6" fill="none" stroke="#0000ff" stroke-width="1.25" stroke-linejoin="round"/>
<path d="M165.4 464.6l1-.5 1 1.6 1-4.3 1 1.9 1-1.9 1-1.5 1-1.4 1-3.3 1-1 1-.2 1-2 1-2 1-4.4 1 1.6 1-.7 1-1.9 1-2.9 1-4.6 1 2.4 1-3.4 1-5.5 1 3 1-4.6 1-1.2 1-.6 1 1.5 1.1-4.1 1-.5 1 1.1 1-.7 1-2.5 1-.5 1-1.6 1 .3 1 1 1-.3 1-.6 1 .8 1-2.4 1 .6 1 .7 1-.3 1 .3 1-.9 1-1.1 1 .7 1-1.8 1-.9 1 2.5 1-.8 1 .3 1-2.5" fill="none" stroke="#0000ff" stroke-width="1.25" stroke-linejoin="round"/>
<path d="M165.4 461.2l1 3.1 1 1.9 1-1.5 1-3 1-.5 1-.3 1-7.1 1 2.7 1-.5 1-1.3 1 .1 1-2.5 1-2.9 1-1.6 1-.8 1-3.7 1-.8 1-.1 1 .1 1-4.9 1-1.4 1-1.1 1 .3 1-3.7 1 .9 1-5.4 1-.2 1-1.4 1 .7 1.1-.1 1-3.5 1 .4 1 1.2 1-1.5 1-1.3 1 2.8 1-.9 1-.3 1-1.4 1 1.6 1-1.7 1 1.4 1-2.5 1-.1 1 1.1 1-1.2 1 1.5 1-.6 1-1.6 1 1.1 1-.6 1 1.5" fill="none" stroke="#0000ff" stroke-width="1.25" stroke-linejoin="round"/>
<path d="M165.6 468.4l1-.4 1-3.1 1-.5 1 .5 1-4.3 1-3.1 1 .1 1-1.2 1-3.7 1-3.1 1-1.4 1 1.6 1-4 1-.8 1-1.2 1-1.2 1-3.3 1-.4 1-4 1-.9 1-2.8 1 1.7 1-3.6 1-2.8 1-1.1 1-1.4 1-.2 1-5.2 1 1 1.1 .6 1 3.4 1-2.1 1-1.4 1 .9 1 1.5 1-2.8 1-.3 1 1.8 1-.9 1 .1 1-1.4 1 2.8 1-.3 1-1.4 1 .1 1-3.3 1 3.1 1-1 1 .7 1 .2 1-1.2 1-1.7" fill="none" stroke="#0000ff" stroke-width="1.25" stroke-linejoin="round"/>
<path d="M166.6 463.8l1 .5 1-3.2 1 4.9 1-3.2 1-.3 1-.2 1-4.8 1-4.7 1-.2 1-2.3 1-.6 1-.8 1-5.1 1 2 1-4.8 1 1.1 1-2.4 1-2.1 1-1.4 1-2.5 1-1.8 1-3.5 1 .9 1 1.3 1-1.4 1-2.7 1-2.6 1-3.8 1 2.3 1-2.1 1.1-.3 1-.5 1 .2 1-.9 1 .2 1-1.4 1 .7 1 3 1-3 1-.3 1 .8 1 0 1-2.3 1 1 1 1.2 1-.9 1-.2 1 1.6 1-2.8 1 .9 1-.8" fill="none" stroke="#0000ff" stroke-width="1.25" stroke-linejoin="round"/>
<path d="M167.6 464l1 1.9 1-.1 1 .4 1-6.3 1 2.1 1-3.3 1-2.3 1 .2 1.1-4 1-3.6 1 1 1-3.6 1-.4 1-.1 1-1.9 1 .3 1-4.7 1-3.9 1-.5 1-2 1-2.2 1 .9 1-3.4 1-3.8 1 2.6 1-3 1-.8 1-2 1 .1 1-.9 1 1.2 1-1.2 1-.3 1-.1 1-2.5 1 1.4 1-.2 1 .4 1-2 1.1 3.4 1-1.9 1-1.7 1-.7 1 1.6 1 .1 1-.8 1 .9 1-1 1 1.4 1-1.6" fill="none" stroke="#0000ff" stroke-width="1.25" stroke-linejoin="round"/>
<path d="M167 463.2l1 .9 1-.6 1 1.8 1-4.6 1-.5 1.1-.9 1-3.1 1-1.6 1-.9 1-4.3 1-.6 1 0 1-.8 1-2.3 1-4.2 1 .4 1 .3 1-2.1 1-2.7 1-3 1 .8 1-3.6 1-2.6 1-1.1 1 2 1-3.5 1-.1 1-4.1 1 1.5 1-2.1 1 .3 1 2.9 1-2.3 1-1.7 1 .4 1 .3 1.1 .9 1-2.2 1-1.6 1 1.6 1 .2 1 0 1 1.4 1-1.3 1 .5 1-2.4 1 2.3 1 1.4 1-1.7 1-.7" fill="none" stroke="#0000ff" stroke-width="1.25" stroke-linejoin="round"/>
<path d="M167.5 464.6l1 .9 1 .5 1-2.6 1-.3 1-2.4 1-.9 1-2 1-3.2 1.1 .2 1-.1 1-4.6 1-.4 1-.2 1-4.4 1 .4 1-3.7 1 1.9 1 .3 1-2.1 1-5.2 1-.1 1-2.6 1-1.6 1 .8 1-6.1 1 2.2 1-3.2 1 .9 1-2.8 1-1.5 1 .6 1 .1 1-1.3 1 .1 1-1.6 1-2.3 1 3.3 1-.5 1-1 1.1-.4 1 .9 1-2 1-.5 1 .4 1 1.4 1-3.3 1 3 1-2.4 1-.7 1 2.7" fill="none" stroke="#0000ff" stroke-width="1.25" stroke-linejoin="round"/>
<path d="M167.7 466.3l1 .4 1-2.6 1 .6 1-.9 1-3.7 1.1 .1 1-2.1 1-2.4 1-1.5 1-.7 1-1.6 1-2.6 1-1.3 1 .8 1-3 1-.6 1-1.1 1-2.6 1 1.1 1-6.5 1 1 1-3.4 1 2 1-1.8 1-7.4 1 .1 1 1.1 1-1.2 1-1.1 1-1.5 1 .1 1-.2 1-1.3 1 .9 1-4.3 1 3.1 1.1-2.4 1 2.1 1-1.7 1-1.1 1 1.3 1-1.8 1-.2 1-1 1 1.6 1 .5 1 .4 1-1.5 1 1.2 1-1.3" fill="none" stroke="#0000ff" stroke-width="1.25" stroke-linejoin="round"/>
<path d="M168.1 464.3l1 .1 1 .1 1-.3 1-3 1 1.7 1-3.8 1-.1 1-3.6 1 .3 1-1.4 1-2.9 1 2.3 1-4.2 1 .7 1.1-2.9 1-4.2 1-1.1 1-.3 1-2.2 1-1.6 1-2.1 1-3.9 1 1 1-4.7 1 2.6 1-3.2 1-1.4 1-.7 1 .2 1-2.3 1-.7 1 .6 1-1.5 1 1.1 1 2.8 1-3.4 1 1.9 1-2.6 1 1.8 1-.9 1 .2 1 .6 1 1.3 1-2 1-.2 1.1-1.5 1 1.8 1-1.1 1 1.2" fill="none" stroke="#0000ff" stroke-width="1.25" stroke-linejoin="round"/>
<path d="M168.5 464.3l1 1.9 1-2 1-1.4 1-.5 1-3.2 1 1 1 2.2 1-3.5 1-5.1 1-1.1 1-.8 1 .8 1-4.5 1-1.3 1.1 1 1-1.6 1-3.5 1-2.7 1-2.3 1-.1 1-4 1 3.3 1-3.7 1 .3 1 .8 1-2.5 1-5.1 1 1.8 1-.6 1-2.7 1-.7 1 .6 1-2.2 1 3.3 1-4.9 1 1.2 1 .7 1-.2 1 .2 1-.1 1-.8 1 1.4 1-4.1 1 2.4 1-1.1 1.1 .9 1 0 1-1.5 1 .1" fill="none" stroke="#0000ff" stroke-width="1.25" stroke-linejoin="round"/>
<path d="M169.4 468.1l1 .4 1-6 1 2.1 1 2.1 1-4.2 1-2.4 1-2.1 1-2.1 1-1 1-2.1 1 .6 1-3.4 1-1.6 1-2.8 1 .2 1-2.9 1.1-.4 1 .4 1-2.7 1-1.3 1-1.8 1-2 1-1.8 1-1.8 1 .3 1-4.5 1 2.5 1-3.5 1-1.7 1-.4 1-.8 1 .4 1-1.6 1 1.8 1-2.8 1-2.2 1 1.4 1-1.9 1 2 1 1 1-.8 1-2.7 1 .4 1 2.8 1-2 1-.6 1 1.1 1 1.4" fill="none" stroke="#0000ff" stroke-width="1.25" stroke-linejoin="round"/>
<path d="M170.1 465.8l1-2 1-.7 1 1 1-3.1 1-.1 1-1.3 1 2.1 1-6.7 1-.5 1-1.7 1-.7 1-.6 1-4.1 1-2.2 1-3 1-.5 1 .7 1-2.5 1-3.3 1-.7 1-.9 1.1-.9 1-3.4 1-1 1-4.1 1-.4 1 2.9 1-7.6 1 2.4 1 .2 1-1.2 1-.9 1 .4 1-.3 1-.4 1-2.5 1 1.7 1-1.1 1 .1 1 .6 1 .3 1 .1 1-1.9 1 1.5 1 .1 1-.2 1 .1" fill="none" stroke="#0000ff" stroke-width="1.25" stroke-linejoin="round"/>
<path d="M169.5 462.6l1 2.5 1.1-1.1 1-.5 1-3.8 1-.2 1-.2 1-.1 1-1.5 1-3.3 1-1.9 1-2.6 1 .2 1-2.7 1-.3 1 .1 1-4.5 1-4.1 1-.6 1-2.7 1-1.2 1 2.3 1-3.4 1-4.4 1 1.9 1-.7 1-4.1 1-2.1 1-1 1 .6 1 .3 1 .6 1-.1 1.1-.1 1 .1 1-1 1-2.7 1 1.6 1 .5 1-.9 1 1.5 1-1.6 1-.7 1 2.8 1-1 1-.6 1 .8 1 .1 1-.9" fill="none" stroke="#0000ff" stroke-width="1.25" stroke-linejoin="round"/>
<path d="M168.5 463.2l1 1.9 1 1.6 1-3.4 1-2.6 1 3.6 1-5.6 1-2.8 1 .8 1-1.3 1-3.5 1 .8 1-3.7 1-2.4 1 .1 1-.7 1-3.9 1-.1 1-2.4 1 3 1-7.3 1 1.8 1-4 1-1.7 1-.2 1-1.3 1-1 1-3 1.1-3 1-.2 1 .8 1-.3 1 .6 1-1.5 1 .4 1 .2 1-1.9 1-2.2 1 .1 1-.5 1 3.4 1-3.2 1 2.3 1-.9 1 1.2 1-1 1-1.5 1-.3 1 .3 1-.1" fill="none" stroke="#0000ff" stroke-width="1.25" stroke-linejoin="round"/>
<path d="M170 462.1l1 3.1 1-1.9 1 1 1.1-.4 1-3 1-.3 1-5.4 1 2.7 1-4.4 1 .3 1-2.3 1-6.1 1 1.2 1-.1 1 .4 1-3.7 1-1.8 1-4.3 1 2.8 1-1 1-4.6 1-2 1-3.9 1 2.4 1 1.3 1-4.7 1-.7 1-2.7 1-2.6 1 2.5 1-3.5 1 .9 1 .3 1 .5 1.1-.9 1-.2 1-1.6 1-.9 1 1.4 1-1.1 1-.9 1-.1 1 .8 1-1.8 1 .5 1-.5 1 2.1" fill="none" stroke="#0000ff" stroke-width="1.25" stroke-linejoin="round"/>
<path d="M171 463.7l1 2.6 1-1.8 1-1 1 1.7 1-4.8 1-2.9 1-1.8 1 1 1-1.7 1-4.4 1-1 1 .7 1-1.6 1-3.6 1 .3 1-1.8 1.1-5.5 1 .7 1-.5 1-3.3 1-4.2 1 1.4 1 0 1-.3 1-7.7 1 6.2 1-7.6 1 1.8 1-.4 1-.6 1-1.2 1-1.8 1 1.9 1-1.8 1-2.4 1 6.3 1-2.7 1 1.2 1-3.4 1 2.7 1 0 1-.1 1-2 1-1.6 1 1.2 1-2.5" fill="none" stroke="#0000ff" stroke-width="1.25" stroke-linejoin="round"/>
<path d="M170 464.5l1 .1 1 3.3 1.1-1.7 1-3.6 1 .5 1-4.7 1-.8 1 .5 1-5 1 0 1-3.2 1 .7 1 .8 1-5.4 1 0 1-3.4 1-2 1-1.8 1 2.8 1-.2 1-4.5 1-3.5 1 .7 1-3.2 1 .4 1-2.3 1-1.5 1-.9 1-2.2 1-.1 1-1.9 1 1.3 1-1.4 1.1 1.3 1-1.2 1 1 1 .2 1-2.4 1 .6 1-.4 1 1.9 1 1 1-1.1 1-1.6 1 2 1-3.6 1 3.5" fill="none" stroke="#0000ff" stroke-width="1.25" stroke-linejoin="round"/>
<path d="M171.1 467.3l1-4.2 1 2 1-1.4 1-1.1 1-4.1 1-.3 1 .2 1-2.1 1-.1 1-3.5 1 2 1-6.7 1-.1 1-5.2 1-.7 1 2.4 1-5.4 1 .7 1-2.7 1-3.3 1-.6 1-1.9 1-1.7 1 .4 1-1.8 1-3.6 1.1-2.1 1 .4 1-.9 1 1.3 1 1.9 1-2.3 1-1.1 1-.2 1-.9 1-.1 1-.2 1 .7 1-.1 1 1.4 1-1.4 1 .2 1-1.3 1 3.4 1-1.4 1 1.5" fill="none" stroke="#0000ff" stroke-width="1.25" stroke-linejoin="round"/>
<path d="M172.3 465.9l1 3.2 1.1-6.3 1 3.2 1-.6 1-3.6 1-.9 1-.7 1-4.7 1 .2 1-3.6 1-1.3 1-1.5 1-.8 1-1.2 1-1.1 1-4.6 1 3.9 1-2.9 1-2.3 1-3.4 1-1.1 1-.6 1-1.7 1-5 1 2.5 1 2 1-9.2 1 3.2 1-1.8 1-1 1 1.4 1-3.5 1.1 1.3 1 1.3 1-2.3 1-.6 1 .4 1-.9 1 2.2 1-3.3 1 2 1-2.8 1 2.2 1-1.1 1-3.2" fill="none" stroke="#0000ff" stroke-width="1.25" stroke-linejoin="round"/>
<path d="M172.2 467.3l1-4.3 1 .1 1 3.4 1-3.6 1 .9 1-3.5 1-3.5 1-.2 1 .6 1-2 1-3.1 1-1.4 1.1-1.9 1-2.3 1 2.5 1-4.7 1-3.5 1-.5 1 .5 1-1.7 1-2.9 1-2.4 1-.4 1-4.3 1-.8 1 2 1-3.6 1 0 1 .2 1-1.3 1-1.3 1 2.1 1-2.2 1-1.7 1 .9 1-.8 1-1.9 1 .8 1-.6 1-2.5 1 2 1-.4 1-.5 1.1-1.7 1 1.4" fill="none" stroke="#0000ff" stroke-width="1.25" stroke-linejoin="round"/>
<path d="M172.6 465.8l1-3 1 1.6 1 1.8 1-4.7 1-1.2 1 1.1 1-4 1-1.4 1-.7 1-.2 1-7 1 .7 1-2 1-1.7 1-1.3 1-1.6 1 .3 1-3.6 1 0 1-1.1 1-3.5 1-.1 1 .9 1-3.7 1-3.1 1-.6 1-2.9 1 .5 1 .2 1.1-2.4 1 .5 1 1.4 1-2.2 1 .6 1-1.7 1 .1 1 .2 1 3 1-3.2 1-.3 1-.2 1 .4 1 .8 1-.6 1 2.1" fill="none" stroke="#0000ff" stroke-width="1.25" stroke-linejoin="round"/>
<path d="M173.1 465.8l1-3.3 1 2.1 1-.6 1-1.8 1-4.5 1 3.4 1-3.6 1-1.6 1-1.3 1-1.5 1-.6 1-4.3 1-1 1 .3 1-1.8 1-2.5 1-1.9 1-2 1-.4 1 .4 1.1-5.2 1 2.6 1-2.6 1-3.7 1 .5 1-5.1 1-1.9 1-.7 1 .9 1-.3 1-.7 1 .3 1-3 1 2.8 1-2.7 1 .6 1 0 1-1.2 1-.5 1 .2 1 1 1 .5 1-.2 1-2.1" fill="none" stroke="#0000ff" stroke-width="1.25" stroke-linejoin="round"/>
<path d="M172.8 461.5l1 5.3 1-2.8 1-1.2 1 .3 1-.4 1-2.7 1-.5 1-3 1.1 .1 1-1.6 1-3.8 1 .8 1-3.7 1-1.8 1-3.3 1-.7 1 0 1-5 1 1.5 1-2.2 1-1.7 1-5.6 1 1.7 1-.4 1-3.8 1-.2 1-5.5 1 3.4 1-2.4 1 1.5 1-3.6 1 2.7 1-1.4 1 1 1-2.4 1 .2 1 3.2 1-3.9 1-.1 1 .4 1.1-1.1 1 2.5 1 .5 1-3.1 1-1.3" fill="none" stroke="#0000ff" stroke-width="1.25" stroke-linejoin="round"/>
<path d="M174.4 466.7l1-3.3 1 1.1 1-2.7 1-1.6 1 2.3 1-4.3 1 3.1 1-5.1 1.1-2.8 1 .6 1-.1 1-3.8 1-4.4 1 .8 1-.1 1-4.7 1-2.2 1 1.2 1-3.1 1-3.7 1-.5 1-2.3 1 0 1-1.9 1 0 1-2.3 1-5.2 1 1.6 1 .2 1-.7 1 .6 1-2 1-.6 1 2.2 1-2.5 1-1.4 1 3.7 1-2.1 1 .4 1-1.4 1.1 .1 1 .1 1 .9" fill="none" stroke="#0000ff" stroke-width="1.25" stroke-linejoin="round"/>
<path d="M174.3 462.9l1 .2 1 2.8 1-2 1-3.9 1 3.8 1-5.9 1 .1 1-1.8 1 .3 1-4.7 1 .6 1-4.5 1 1.3 1-4.8 1-1.1 1 1.9 1-4.3 1-2.1 1 1.7 1.1-4.7 1-3.6 1 .8 1-4.7 1 2 1-1.5 1-4.5 1-1.7 1-.2 1-.9 1-1.5 1 1.5 1-3.5 1 1.6 1-.3 1-.1 1 .5 1-2.1 1 1.9 1-1.1 1-.8 1-1 1 0 1 1.7" fill="none" stroke="#0000ff" stroke-width="1.25" stroke-linejoin="round"/>
<path d="M173.8 466.5l1 .8 1-3 1-2 1 1.7 1-2.8 1-.3 1-3.5 1 .2 1-2.3 1.1-2 1-2.1 1-2 1-2 1-1.8 1-.6 1-4.2 1 1.8 1-4.7 1-.1 1-3.5 1-2 1 1.9 1-5.4 1-3.3 1-.8 1-1 1 2.3 1-4.7 1 .3 1-2.6 1 1.4 1 .2 1 1.1 1-3.1 1 1.3 1-.5 1-1.7 1 1 1-.4 1-2.6 1 3.4 1.1-.2 1-1.3 1-1.2" fill="none" stroke="#0000ff" stroke-width="1.25" stroke-linejoin="round"/>
<path d="M175.7 467.1l1-3.1 1 2.1 1-2.5 1-1.2 1-1.6 1-1.5 1 .1 1-3.2 1-2.1 1.1-1.9 1-.7 1-3.7 1-1.1 1-1 1-2.5 1-1 1-2.6 1 2.5 1-2.8 1-3.1 1-2.5 1 1.9 1-4.6 1-2.3 1-1 1-1.6 1 .1 1-3.8 1 2.2 1-3.7 1 1.8 1-2.2 1 3.3 1-2.7 1 .2 1 1.1 1 .3 1-2.9 1 .8 1-1.3 1.1 1.8 1-.4" fill="none" stroke="#0000ff" stroke-width="1.25" stroke-linejoin="round"/>
<path d="M174.9 463.6l1 2 1 1.6 1.1-6.2 1 1.4 1-2.1 1-.1 1-3.9 1-.3 1-3.1 1 1.2 1-2.6 1-2.1 1-.8 1-2.7 1-3.8 1 1.8 1-2.2 1-2.4 1 .2 1-1.3 1-5.3 1-1.2 1 2.1 1-1.8 1-5 1-2.3 1-.6 1-1.3 1-1.5 1 1.7 1-1.8 1-.1 1 2.4 1-2.1 1.1 .6 1 .7 1 .1 1-1.5 1 .3 1-1.2 1 3 1-1.4" fill="none" stroke="#0000ff" stroke-width="1.25" stroke-linejoin="round"/>
<path d="M174.8 465.6l1 2.1 1-.7 1-3.8 1-.7 1.1-3.4 1 .9 1-1.7 1 2.5 1-5.7 1-5.1 1 .6 1-.3 1-3.9 1-1 1-.8 1-.5 1-2.4 1-2.8 1 1 1-3.7 1-1.5 1-3 1-.7 1 .8 1-5.2 1 1 1-.2 1-3.3 1 .4 1-1.9 1 2.6 1-.6 1-1.3 1-2.6 1 .6 1.1 2.2 1 .7 1-1.9 1 .9 1-2.4 1 .4 1 0 1 .4" fill="none" stroke="#0000ff" stroke-width="1.25" stroke-linejoin="round"/>
<path d="M174.9 463l1-.4 1 2.8 1-2.4 1.1-4.2 1 3.6 1-2.6 1-2.5 1 2.5 1-4.7 1-3 1-.3 1-3.4 1-1.2 1 .2 1-3.2 1-1.4 1 1.7 1-2.9 1-1.7 1-2.1 1-1.6 1-.1 1-3.9 1 1.4 1-6 1-.4 1-3.3 1 .2 1 .5 1 .6 1-3 1 .4 1-.9 1-.8 1-.9 1.1 1.1 1-2.4 1 1.9 1-.4 1-1.1 1-.6 1-.7" fill="none" stroke="#0000ff" stroke-width="1.25" stroke-linejoin="round"/>
<path d="M177.4 465.8l1-1.6 1-1.3 1 2.9 1.1-.4 1-5.7 1-.4 1 .6 1-2.6 1 1.1 1-5.6 1 .2 1-4.4 1 3.8 1-6.1 1-4 1 1.8 1-1.6 1 1.7 1-5.2 1-1 1-.6 1 .1 1-4.2 1 .3 1-2.4 1-2.7 1-.9 1-1.5 1-1.7 1 2.1 1-3.5 1 2.6 1-.6 1-1.6 1-1.1 1.1 .3 1 .6 1 0 1-.8 1 .6" fill="none" stroke="#0000ff" stroke-width="1.25" stroke-linejoin="round"/>
<path d="M176.3 466l1-1 1-.9 1 1.8 1-2.4 1-7.2 1 2.9 1-4 1 2.3 1 .6 1-6.5 1-.8 1-2.3 1-.8 1-1.2 1-.8 1-5.4 1 2.4 1-5.8 1 .2 1-.3 1-2.5 1.1-4.3 1-1.4 1-1.2 1-1 1 .2 1-5.5 1 1.3 1-.5 1-.4 1-.4 1 1 1-1.5 1 .2 1-.5 1 1.2 1-4.6 1 3.7 1-2.1 1-.1 1-1" fill="none" stroke="#0000ff" stroke-width="1.25" stroke-linejoin="round"/>
<path d="M175.8 465.6l1-3.2 1 4.7 1-2.7 1-2.4 1-2.4 1-1.8 1.1-2.2 1-.8 1-.8 1-2.1 1-3.7 1 .1 1-2.8 1-.1 1 1 1-3.8 1-3.3 1-3.9 1-1.4 1-2.2 1 2.1 1-4.1 1-.4 1-2.8 1-.6 1 .5 1-5 1-1 1-.9 1 1.8 1-2.5 1-.4 1-.5 1-.2 1 2.1 1 2.3 1-4.4 1.1 2.2 1-1 1-1.7 1 .9 1-.1" fill="none" stroke="#0000ff" stroke-width="1.25" stroke-linejoin="round"/>
<path d="M176.9 465.4l1-.1 1-1.4 1 .5 1-.3 1.1-2.5 1-1.1 1-1 1-5.8 1 4.1 1-.2 1-3.6 1-1.5 1-5.4 1 .6 1-2.7 1-1.2 1 1 1-4.4 1-.4 1-4.4 1 1.3 1-1.1 1-2.8 1-1.4 1 2.7 1-6.4 1-1.1 1-1 1 1.9 1 .4 1-2.8 1-1.8 1-.3 1 1.3 1-2.8 1.1 2.3 1-.4 1-2.1 1 .4 1-.3 1 .7" fill="none" stroke="#0000ff" stroke-width="1.25" stroke-linejoin="round"/>
<path d="M177.1 463.6l1 1.4 1-.5 1-2 1-2.4 1-.4 1 2.3 1-.7 1-3.6 1-.7 1-4.3 1-.9 1-1 1-3.8 1-1.4 1 .1 1-2.3 1-2.8 1 .8 1-2.7 1 .5 1-3.2 1-2.1 1.1-.8 1-2 1-2.3 1-1.1 1 .4 1-1.6 1-.2 1-4.1 1 1.1 1-.5 1 .3 1-1.1 1-.5 1 1.2 1-1 1-1.9 1 2.7 1-.7" fill="none" stroke="#0000ff" stroke-width="1.25" stroke-linejoin="round"/>
<path d="M177.7 466.6l1-2.1 1.1-1 1 0 1-2 1 0 1-1.5 1-1.7 1-2.4 1-6.5 1 4.4 1-4.7 1 1.9 1-.2 1-2.9 1-2.7 1-1.2 1-1.5 1-2.2 1-1.7 1-2.1 1 1.9 1-3.5 1 0 1-3.4 1-1 1-1.8 1-.4 1-.9 1-1.6 1-1.5 1-.6 1 2.6 1.1-2.7 1-.4 1 1.8 1-.7 1-1 1-1.3 1 3 1-2.6" fill="none" stroke="#0000ff" stroke-width="1.25" stroke-linejoin="round"/>
<path d="M178.8 462.7l1 2.8 1-.1 1-1.7 1-3.1 1-1.9 1 .2 1-3.5 1 2.2 1-1.2 1 1 1.1-4.8 1-4 1-2.2 1-5.8 1 2.9 1-1 1 .1 1-2.3 1-1.7 1-2.2 1-1 1-.4 1-5.6 1-.7 1-3.1 1 3.3 1-2.1 1-2.4 1-3.1 1 1.3 1-.8 1 .1 1-.5 1 .6 1-1.4 1 1.3 1-.9 1-.8 1 0" fill="none" stroke="#0000ff" stroke-width="1.25" stroke-linejoin="round"/>
<path d="M178.6 465.3l1-1.1 1-1.8 1 3.1 1-4.6 1 1.3 1-2 1-4.9 1-.4 1-.9 1-2.1 1-2.2 1 1.4 1-3.2 1-.6 1-3 1-.5 1-3.3 1-.5 1-.7 1-2.4 1-2.5 1-2.6 1 .4 1-1.2 1-2.6 1-2.3 1.1 .6 1 1.6 1-4.8 1 .4 1-.3 1-3.9 1 3 1-1.3 1 2.3 1-2.2 1-.9 1 .5 1 .2" fill="none" stroke="#0000ff" stroke-width="1.25" stroke-linejoin="round"/>
<path d="M178.9 464.4l1 1.6 1 2 1-2.8 1-2.1 1 0 1-1.7 1-.4 1-2.5 1-3.4 1-.9 1-1.7 1-1.3 1-1.8 1-3.1 1-3.7 1 .8 1-3.8 1 1.8 1-1.6 1-4.3 1 2.3 1-1.3 1-2.7 1 1 1-1.1 1-6.4 1 2.2 1-2.4 1.1-.7 1 .3 1-2.3 1-.2 1-.5 1-.2 1 .5 1-1.8 1 .3 1 1.7 1-1" fill="none" stroke="#0000ff" stroke-width="1.25" stroke-linejoin="round"/>
<path d="M179.8 463.9l1 1 1-1 1 1.6 1-3.2 1-1.5 1-1.6 1-.6 1-3.6 1 .9 1.1-2.8 1-2.2 1-2 1-1 1-.9 1-1.9 1-2.7 1-1 1-2.9 1 0 1-3.8 1-5 1 3.8 1-3.7 1-3.7 1-.2 1-2.7 1 3.2 1-4.2 1-3 1 2.5 1-1.3 1 2.7 1-3.7 1-1.5 1 2.7 1-.6 1-.1 1-2.2" fill="none" stroke="#0000ff" stroke-width="1.25" stroke-linejoin="round"/>
<path d="M180.2 466.7l1-2.8 1 4.7 1-3.8 1-2.5 1 .6 1-2.4 1-3.3 1 .6 1-3.5 1-3.7 1 4.6 1.1-5.4 1-2 1-.1 1-4.7 1-1.2 1-.3 1-1.6 1-.6 1 .1 1-4.2 1 0 1-1.4 1-4.2 1 .6 1-3.4 1 1.8 1-2.4 1-1.1 1-1.9 1 1.5 1-1.3 1 1.5 1-1.2 1-1 1 1.9 1-.4" fill="none" stroke="#0000ff" stroke-width="1.25" stroke-linejoin="round"/>
<path d="M179.9 464.3l1 .7 1-1.4 1.1-.3 1-1.2 1 1.1 1-1.7 1-4.5 1 1.3 1-4.4 1-1 1-1 1-2.7 1 1.6 1-5.2 1-4.1 1 2.2 1-4.5 1-1.6 1-6.1 1 4.6 1-2 1-1.8 1-1.4 1-.6 1-4.4 1-.1 1-4.3 1-1 1 1.6 1-.8 1-2.1 1 2 1-.7 1.1-.8 1 1.5 1-1 1-1.4 1 .5" fill="none" stroke="#0000ff" stroke-width="1.25" stroke-linejoin="round"/>
<path d="M181.8 465.8l1 0 1-3 1 .7 1-.8 1-.5 1-3.9 1-2.4 1 1.8 1-1.4 1-2.9 1-3.2 1-.1 1-2.1 1-.6 1-5 1 .5 1-2.2 1-3.2 1.1 .4 1-1.9 1-2.4 1-.4 1-4.5 1 .6 1-.9 1-1.8 1-.3 1-5.1 1-.4 1 1.8 1 0 1 1.8 1-2.1 1-2 1 1.8 1-2.2 1-.9" fill="none" stroke="#0000ff" stroke-width="1.25" stroke-linejoin="round"/>
<path d="M182.7 465.7l1 2 1-2.4 1 .7 1-5 1-2.1 1 3 1-1.5 1-3.1 1-2 1-1.7 1-2.9 1 1.9 1-3 1-1.9 1-1.8 1-.6 1-2.4 1-1.3 1-4.7 1.1 1.1 1 1.1 1-5.9 1-.9 1 0 1-1.4 1-2 1-5.1 1 1.9 1-2.7 1 .1 1 1.3 1-1.3 1 1 1 2.6 1-3.1 1-.3 1-2.2" fill="none" stroke="#0000ff" stroke-width="1.25" stroke-linejoin="round"/>
<path d="M181 463.1l1 .6 1 .8 1-2.1 1-2.2 1-1.4 1 1.3 1-2.3 1-.1 1-1.6 1-3.9 1.1 0 1-5.1 1 4.2 1-3.4 1-4 1-3.2 1 .8 1-5.3 1 0 1 .8 1-2.8 1-2.5 1 .6 1-4.8 1 .5 1-2.8 1-2.1 1 .5 1-2.4 1 3.1 1-3.4 1 2.8 1-4 1 1.8 1-2.5 1-.4 1 1.6" fill="none" stroke="#0000ff" stroke-width="1.25" stroke-linejoin="round"/>
<path d="M182.2 463.5l1 1.5 1 .4 1-.3 1-5.3 1 4.1 1-3.2 1-3 1-2.4 1-2.6 1-1 1 1.5 1.1-2.9 1-2.8 1-.6 1 1.8 1-4.6 1-2 1 1.6 1-3 1-2.2 1-2.5 1-3 1-.9 1-.4 1-1 1-.6 1-1.1 1-1.9 1-.7 1-2 1-1.8 1 1.5 1-.9 1 0 1 .1 1-1.5 1-.2" fill="none" stroke="#0000ff" stroke-width="1.25" stroke-linejoin="round"/>
<path d="M182.1 465.6l1-1.2 1-1.2 1 .9 1 1.4 1-5.6 1 1.3 1-1.2 1-1.5 1-5.3 1 2.9 1-4.7 1-2.3 1-1.6 1-.4 1-2.6 1-2 1 .6 1.1-4.9 1-2.2 1 1.3 1-1.8 1-1.1 1-5.1 1 1.9 1-2.6 1 .5 1-6.4 1 .8 1-1.1 1-1.8 1 .8 1 2 1-2.1 1-.5 1 1.8 1-.1 1-.1" fill="none" stroke="#0000ff" stroke-width="1.25" stroke-linejoin="round"/>
<path d="M182 463.8l1-.2 1 2.5 1 .4 1-5.8 1-3.9 1 .3 1.1-1 1-.2 1-.4 1-2.9 1-2.5 1-.4 1-3.4 1-.3 1-2.6 1 3.6 1-4.7 1-4.3 1-1.9 1-.8 1-3.6 1-.2 1-1.7 1 1 1-3.7 1-2.1 1-2.5 1-1.2 1 1.4 1-.4 1 1.5 1-2.3 1 1.9 1-1.1 1-.5 1-2.5 1 .7" fill="none" stroke="#0000ff" stroke-width="1.25" stroke-linejoin="round"/>
<path d="M183.4 466l1-1.9 1 .1 1-1.2 1 1.1 1-2.6 1-2.5 1-1.8 1-.2 1-2 1-3.5 1 2.4 1-4 1-2.1 1 .6 1-2.4 1-3.5 1-.7 1-4.2 1-1 1-4.3 1 3.9 1-6.7 1 2.5 1-4 1-1.9 1-.3 1-.8 1-1 1.1 .8 1-1.9 1 .5 1-2 1 1.4 1-.8 1-.9 1 .3 1-.1" fill="none" stroke="#0000ff" stroke-width="1.25" stroke-linejoin="round"/>
<path d="M183.4 463.6l1 2.4 1-3.9 1 .9 1 2 1-8.4 1 1.6 1 .6 1-5.4 1 5.1 1-10 1 4.8 1-1.5 1-2.7 1-3.6 1-.8 1-3.7 1 1 1-4.8 1-.3 1 .3 1-5.1 1.1-.4 1-.9 1-4 1 2.4 1-2.9 1-4.6 1 .8 1-1.3 1-.1 1 .5 1-1.2 1 1.8 1-2.2 1 1.8 1-1.5 1 .9" fill="none" stroke="#0000ff" stroke-width="1.25" stroke-linejoin="round"/>
<path d="M183.3 465.7l1 .6 1 1.9 1-2.1 1-3.2 1-2.3 1-.6 1-2.3 1 .8 1-2.5 1-4.5 1-1.4 1 1.6 1-3.4 1-2.6 1 .6 1-4.2 1-1.6 1-2 1.1-4 1 2.8 1-5 1-.6 1-1.9 1 .7 1-2.9 1-1.4 1-4.3 1 1 1-2.2 1 1.7 1-.3 1-.9 1 2.1 1-2.1 1-.2 1-.9 1-.7" fill="none" stroke="#0000ff" stroke-width="1.25" stroke-linejoin="round"/>
<path d="M184.6 466.5l1-.9 1 .7 1-1.5 1-4.2 1-1.5 1 3.3 1-4.1 1-4.3 1 1.2 1-2.8 1-4 1-2.4 1-.5 1 1.3 1.1-2.2 1-2 1-.8 1-1.1 1-6 1 1.2 1-2.5 1-2.3 1-.5 1-.9 1-1.8 1-3.5 1 .1 1 2.5 1-5 1-1.2 1 2 1 .1 1-.5 1-2.1 1 2.2 1-2.3 1-.7" fill="none" stroke="#0000ff" stroke-width="1.25" stroke-linejoin="round"/>
<path d="M184 465.8l1-1 1 1.5 1-2.2 1-.2 1-5.3 1-2 1 2.1 1-5.1 1 0 1-1.4 1-2.3 1-1.7 1 1.2 1-8 1 3.7 1 .5 1-5.4 1-1.9 1-.5 1 0 1.1-6.6 1 .4 1-2.2 1-.4 1-2.3 1-.9 1-3.3 1-.8 1-1.2 1 0 1 .6 1-.1 1-1.3 1 3.3 1-2.1 1-1.5 1 2.9" fill="none" stroke="#0000ff" stroke-width="1.25" stroke-linejoin="round"/>
<path d="M184.3 465.2l1-.1 1-1.2 1 .2 1 1.6 1-8.4 1 2.1 1-1 1-4 1-2.2 1 4 1-5.8 1 2.2 1-4.1 1-2.5 1-1.1 1-1.4 1-.9 1-2.9 1-2.1 1-1.7 1 .2 1-2.5 1-4.6 1-1 1-.1 1-3.1 1.1-1.2 1-2.4 1 .6 1 .3 1 .3 1-1.6 1 2.1 1-2.9 1 3.6 1-3 1-.9" fill="none" stroke="#0000ff" stroke-width="1.25" stroke-linejoin="round"/>
<path d="M184.8 465.1l1 2.8 1-5.3 1 4.5 1-5 1-.1 1-6.8 1 2.6 1-2.4 1 0 1-2.7 1-3.6 1 1.6 1-2.1 1-1.9 1-1.1 1-1.6 1-3.5 1-3.9 1-1.7 1.1 2.6 1-2.7 1-2.7 1-2.5 1-.9 1-1.6 1-2.2 1-2.2 1 3 1-3.7 1-1.3 1-1.1 1 .4 1 1.4 1-.2 1-1.4 1 .1 1-.7" fill="none" stroke="#0000ff" stroke-width="1.25" stroke-linejoin="round"/>
<path d="M184.8 468.8l1-5.2 1 1 1 .9 1-3.2 1-3.3 1-.8 1 .2 1-1.1 1-2.3 1 .2 1-1.5 1-2.7 1-2 1-2.1 1-.3 1-.9 1-3 1-1 1-2.8 1-3.3 1-.9 1 1.3 1-2 1.1 .3 1-4 1-.1 1-.7 1-2 1-2.8 1 .1 1 .1 1-1.7 1 1.5 1 .4 1-2.1 1 2.7 1-3" fill="none" stroke="#0000ff" stroke-width="1.25" stroke-linejoin="round"/>
<path d="M214.3 413.4l1.3-.8 1.2 .8 1.3 .4 1.2-1.7 1.3 1.1 1.2-.2 1.3-.6 1.2 .3 1.3-.2 1.3-.1 1.2-1 1.3 1.2 1.2 .1 1.3-.2 1.2-.3 1.3-1 1.2 1.1 1.3-.7 1.2-.5 1.3 .6 1.2 .4 1.3-.5 1.3-.2 1.2-.7 1.3 .6 1.2 .2 1.3-.2 1.2-.7 1.3 .2 1.2-.1 1.3-.5 1.2 .7 1.3 .3 1.2-.4 1.3-.6 1.3 .3 1.2 .5 1.3 .2 1.2-.6 1.3 0 1.2 .6 1.3-.1 1.2 .5 1.3-.8 1.2-.7 1.3 .1 1.2 1.1 1.3-.1 1.3-.5 1.2-1 1.3 1.3 1.2-.2 1.3 .2 1.2-.1 1.3-.7 1.2 1.1 1.3-.7 1.2 .3 1.3-1 1.3 1.4 1.2 0 1.3-.3 1.2 .3 1.3-1.7 1.2 1.8 1.3-.3 1.2-.6 1.3 .5 1.2 .5 1.3 .1 1.2-.6 1.3 .6 1.3-.9 0 10.2-1.3-.8-1.3 1.4-1.2-.2-1.3 .7-1.2-.3-1.3-.7-1.2-.2-1.3 .9-1.2 0-1.3-.8-1.2 .6-1.3-.3-1.2 .6-1.3-1.2-1.3 .2-1.2 .3-1.3-1.1-1.2 .6-1.3 .8-1.2-.7-1.3-.8-1.2 1.1-1.3 .3-1.2-.9-1.3 .3-1.3 .8-1.2-.4-1.3 0-1.2-.9-1.3 .4-1.2 .9-1.3-1.1-1.2 .6-1.3-.5-1.2-.4-1.3 .3-1.2 .1-1.3-.6-1.3 .8-1.2 .3-1.3-.5-1.2 .4-1.3 .2-1.2-.5-1.3-.1-1.2-.4-1.3 .8-1.2-.5-1.3 .5-1.2 .4-1.3-.7-1.3 .7-1.2 1.9-1.3-1.4-1.2 1.1-1.3-1-1.2 .1-1.3 .5-1.2 0-1.3 .2-1.2 .3-1.3 0-1.2 .7-1.3-1-1.3 1.5-1.2-1-1.3 .7-1.2 1.1-1.3-1.1-1.2-.2-1.3-.3-1.2 .8-1.3 .8z" fill="#0000ff"/>
<path d="M116.2 415.5l1.1 12.5 1.2 18 1.3 16" fill="none" stroke="#0000ff" stroke-width="2.2" stroke-linejoin="round"/>
<circle cx="304.60" cy="462.50" r="5.35" fill="#c8c8c8" stroke="#000" stroke-width="1.15"/>
<circle cx="304.60" cy="466.80" r="5.35" fill="#c8c8c8" stroke="#000" stroke-width="1.15"/>
<circle cx="304.60" cy="409.50" r="5.35" fill="#b00000" stroke="#000" stroke-width="1.15"/>
<circle cx="304.60" cy="413.00" r="5.35" fill="#200000" stroke="#000" stroke-width="1.15"/>
<circle cx="304.60" cy="419.20" r="5.35" fill="#ff0000" stroke="#000" stroke-width="1.15"/>
</g>
<path d="M76.45 379.40V509.40H313.45V379.40" fill="none" stroke="#111" stroke-width="1.2"/>
<line x1="75.85" y1="380.00" x2="314.05" y2="380.00" stroke="#585858" stroke-width="2"/>
<line x1="116.50" y1="509.4" x2="116.50" y2="516.00" stroke="#000" stroke-width="1"/>
<text x="116.50" y="532.60" font-size="17.6" text-anchor="middle">50</text>
<line x1="179.20" y1="509.4" x2="179.20" y2="516.00" stroke="#000" stroke-width="1"/>
<text x="179.20" y="532.60" font-size="17.6" text-anchor="middle">100</text>
<line x1="241.90" y1="509.4" x2="241.90" y2="516.00" stroke="#000" stroke-width="1"/>
<text x="241.90" y="532.60" font-size="17.6" text-anchor="middle">150</text>
<line x1="304.60" y1="509.4" x2="304.60" y2="516.00" stroke="#000" stroke-width="1"/>
<text x="304.60" y="532.60" font-size="17.6" text-anchor="middle">200</text>
<line x1="69.75" y1="504.60" x2="76.45" y2="504.60" stroke="#000" stroke-width="1"/>
<text transform="translate(61.00,504.60) rotate(-90)" font-size="17.6" text-anchor="middle">0</text>
<line x1="69.75" y1="487.45" x2="76.45" y2="487.45" stroke="#000" stroke-width="1"/>
<line x1="69.75" y1="470.30" x2="76.45" y2="470.30" stroke="#000" stroke-width="1"/>
<line x1="69.75" y1="453.15" x2="76.45" y2="453.15" stroke="#000" stroke-width="1"/>
<text transform="translate(61.00,453.15) rotate(-90)" font-size="17.6" text-anchor="middle">3000</text>
<line x1="69.75" y1="436.00" x2="76.45" y2="436.00" stroke="#000" stroke-width="1"/>
<line x1="69.75" y1="418.85" x2="76.45" y2="418.85" stroke="#000" stroke-width="1"/>
<line x1="69.75" y1="401.69" x2="76.45" y2="401.69" stroke="#000" stroke-width="1"/>
<line x1="69.75" y1="384.54" x2="76.45" y2="384.54" stroke="#000" stroke-width="1"/>
<text transform="translate(61.00,384.54) rotate(-90)" font-size="17.6" text-anchor="middle">7000</text>
<text x="77.95" y="397.00" font-size="21.2">E</text>
<rect x="366.6" y="380.0" width="236.90" height="129.40" fill="#bebebe"/>
<g clip-path="url(#cp12)">
<line x1="406.60" y1="380.0" x2="406.60" y2="509.4" stroke="#111" stroke-width="1.2"/>
<line x1="431.68" y1="380.0" x2="431.68" y2="509.4" stroke="#7cd2d2" stroke-width="2.1"/>
<path d="M356.4 504.6l239.6 0" fill="none" stroke="#2020b8" stroke-width="1.4" stroke-linejoin="round"/>
<path d="M434.7 504.6l1 0 1 0 1 0 1 0 1 0 1 0 1-.1 1-.1 1 .1 1-.2 1 0 1-.2 1-.1 1.1-.2 1-.5 1 .4 1-1.1 1-.2 1-.8 1-.7 1-.5 1-2 1-.9 1-1.3 1-2.1 1-2 1-3 1-3.3 1-3 1-3 1-2.9 1-4.4 1-2.9 1-5.4 1-4.2 1-4.2 1-6 1-1.9 1-5.5 1-2.8 1-.5 1-6.7 1-1.4 1-2.3 1-2.5 1.1-2.3 1-2.5 1 1.1 1-6.2 1-.4 1 1.5 1-2.4 1-2.7 1-1.3 1-.3 1 2.6 1-3.5 1-2.7 1 .8 1-1.8 1 1.9 1-2.1 1 .6 1-1.9 1 1.8 1-2.6 1-.6 1-2.1 1 .3 1 .6 1-1.4 1 3.3 1-3.4 1-1.3 1 1.9 1-2.2 1.1 .9 1-.9 1-1.1 1 2.5 1-1.9 1 1.1 1-2.1 1-1.5 1 0 1 .8 1 .2 1 .2 1 .4 1-2.4 1 1.8 1-2 1 .5 1 4.1 1-1.8 1-2.2 1 2.7 1-.6 1-.7 1 .6 1-2.3 1 .1 1-1 1 1.8 1-2.5 1 .9" fill="none" stroke="#0000ff" stroke-width="1.0" stroke-linejoin="round"/>
<path d="M436.1 504.6l1 0 1 .1 1-.1 1 0 1 0 1-.1 1.1 0 1 0 1-.1 1-.1 1 0 1-.2 1-.1 1-.3 1-.2 1-.2 1-.5 1-.2 1-1 1-.8 1-.2 1-1.2 1-1.8 1-1.3 1-2.1 1-2.5 1-1.9 1-3 1-2.6 1-5.2 1-2.1 1-4.3 1-4.7 1-4.1 1-4.3 1-5 1-3.6 1-2.9 1.1-6 1-2.4 1-5.3 1-1.2 1-1.8 1-3 1-2.2 1-3.4 1-.1 1-3.4 1 .4 1-2.3 1-2.1 1 .9 1-3.4 1 .6 1-2.1 1-1.1 1 .3 1-1.5 1-1.3 1-.9 1-.3 1-.8 1-1.1 1-1.4 1-2.5 1 2.6 1-.7 1 1.4 1-1.4 1.1 .5 1 .4 1-2.7 1-1.3 1 1.8 1-2.1 1 .1 1 1.9 1-1.4 1 .5 1-3.4 1 1.5 1 1.2 1-3.3 1 1.7 1 .1 1-3.6 1 4.8 1-3.1 1 .6 1 2.2 1-4.6 1 2.7 1-1.2 1 .5 1-1.3 1 2.8 1-3.3 1 1.8 1 .1 1-.9 1.1-.3 1-.1 1 1.6 1-.8 1-.7" fill="none" stroke="#0000ff" stroke-width="1.0" stroke-linejoin="round"/>
<path d="M435.6 504.6l1 0 1 0 1 0 1 0 1 .1 1-.1 1-.1 1-.1 1 .1 1-.1 1-.1 1-.1 1-.2 1-.2 1-.1 1-.3 1-.6 1-.7 1-.1 1-1.1 1-1.1 1-.5 1-1.6 1-2.5 1-1.8 1-1.6 1-3 1-2.2 1-1.6 1.1-3.1 1-5.5 1-3.4 1-4 1-4.9 1-5.4 1-2.2 1-5.3 1-3.5 1-3.5 1-5 1-.8 1-4.6 1-2.6 1-3.3 1-1 1-1.8 1-3.7 1-.5 1-2.8 1-2.5 1-.3 1-.2 1-1.3 1-.4 1-3.1 1-.6 1-.4 1-.2 1-1.6 1-1.8 1.1-1.4 1 2.7 1-.7 1-2.7 1 2.1 1-2.4 1 .1 1 .6 1-2.6 1-.8 1-1.6 1 2.2 1-.1 1 .2 1-.7 1-.9 1 1 1-3 1 1.6 1-.1 1-1 1 2.1 1-1.8 1 .9 1-.7 1-1.6 1 2.6 1-1.3 1-1.5 1-.3 1-1.3 1.1 1 1-.3 1 .5 1-.9 1 1.2 1-1 1-2 1 1.3 1-.6 1-.6 1 1.3 1 1.4 1-2.7 1-1.2 1 2.3" fill="none" stroke="#0000ff" stroke-width="1.0" stroke-linejoin="round"/>
<path d="M438.5 504.6l1 0 1 0 1 0 1 0 1 0 1 0 1.1-.1 1 0 1-.1 1 0 1-.2 1 0 1-.3 1 0 1-.3 1-.4 1-.5 1-.6 1-.4 1-.6 1-1.1 1-1 1-1 1-2.1 1-1.7 1-1.9 1-2.6 1-2.9 1-3.2 1-2.3 1-4.9 1-4.2 1-3.4 1-3.3 1-4.4 1-5.5 1-3.4 1-4.4 1.1-4.2 1-3 1-3.3 1-3.5 1-1 1-4.8 1-.4 1-1.3 1-1.9 1-3.9 1-2.1 1-3.2 1 .4 1 1.7 1-5.9 1-1.1 1 1.8 1-1.2 1-3.9 1 1.3 1-.3 1-3 1 2.4 1-3.5 1 2.5 1-1.8 1-1.6 1-1.7 1 1.1 1-.1 1-.5 1.1-1 1 .1 1 1 1-2.5 1 .5 1 .6 1-.9 1 .8 1 .6 1-2.7 1 .5 1-4.2 1 3.1 1 1.1 1-2.5 1 2.9 1-4.3 1 4 1-2.5 1-.8 1 .5 1 .2 1-1.1 1-.6 1 1 1 1.7 1-.8 1 1.2 1-2.7 1 .3 1-.1 1.1 .6 1 .3 1 1.6" fill="none" stroke="#0000ff" stroke-width="1.0" stroke-linejoin="round"/>
<path d="M437.5 504.6l1 .1 1-.1 1 0 1 0 1 0 1 0 1 0 1-.1 1-.1 1 0 1-.1 1 0 1-.3 1-.1 1-.6 1 .1 1-.8 1-.2 1-.1 1.1-1.4 1-1.3 1-.2 1-2 1-1.5 1-1.9 1-1.7 1-2.5 1-3.2 1-2.5 1-4.6 1-2.7 1-4.8 1-3.1 1-5.3 1-4.1 1-2.6 1-6.5 1-4.2 1-2.1 1-4.4 1-3.5 1-2.7 1-.3 1-5.9 1-1.5 1-1.7 1-3.2 1-.7 1-1.1 1-3.1 1.1 1 1-4 1 0 1-.5 1 2.4 1-6.9 1 1.5 1 1.9 1-4.5 1 1.3 1-1.8 1-2.6 1 1.6 1-2.1 1 .6 1-2.4 1 2.3 1-4.4 1 2.4 1 1.4 1-1.4 1-1.4 1-.2 1-.6 1 3.7 1-3.8 1-.2 1-1.2 1 .1 1 1.1 1-1.8 1.1-.4 1 .1 1 0 1 .5 1-1 1 .2 1-.9 1 2.4 1-1.6 1-.6 1 .6 1-.5 1-2.1 1 1.7 1 2.2 1-1.6 1 .8 1-2.5 1-1.1 1 .9 1 2.6 1-3.1 1 .2" fill="none" stroke="#0000ff" stroke-width="1.0" stroke-linejoin="round"/>
<path d="M438.1 504.6l1 0 1 0 1 0 1 0 1 0 1-.1 1 0 1.1 0 1-.1 1 0 1-.2 1 0 1-.1 1-.2 1-.2 1-.3 1-.4 1-.8 1-.3 1-1.1 1-.1 1-1.7 1-1.2 1-2.3 1-1 1-2.1 1-3.7 1-2.4 1-3.1 1-3.5 1-2.4 1-3.3 1-6.4 1-2.6 1-5.3 1-2.9 1-7.6 1-2.3 1.1-2.2 1-5.5 1-1.3 1-4.8 1-1 1-3.1 1-3.4 1-2.5 1-1.3 1-.3 1-2.9 1-2.3 1 3.2 1-7 1 .4 1-.2 1-2.9 1 .3 1-1.4 1-2.1 1 1.5 1-2.6 1-.3 1 1.8 1-3.5 1 1.6 1 .2 1-.8 1-1.1 1-1.3 1-1.9 1 1.5 1.1 0 1-1.5 1-1 1 2 1-2.7 1 1.6 1-1.4 1-1.8 1 3.9 1-1.5 1-.3 1-2.7 1 1.4 1 .3 1-1.5 1 2.9 1-4.8 1 3.3 1-3.5 1 .3 1 .2 1 2.3 1-1.8 1-.1 1-.4 1-.9 1 .7 1-.2 1 .7 1-.1 1-2.7 1.1 2.2 1 2.3" fill="none" stroke="#0000ff" stroke-width="1.0" stroke-linejoin="round"/>
<path d="M437.5 504.6l1 0 1 0 1 0 1 0 1 0 1-.1 1 0 1-.1 1 .1 1-.1 1-.2 1 0 1-.2 1-.1 1.1-.4 1-.3 1-.4 1-.2 1-1.3 1-.2 1-1 1-1.3 1-1.3 1-1.2 1-1.9 1-1.8 1-3.5 1-3.5 1-2.5 1-3.2 1-3.9 1-2.7 1-3.3 1-5.6 1-6.1 1-1.9 1-5.7 1-3.4 1-3.1 1-4 1-3.7 1-2.6 1-2.3 1-2.7 1-.7 1.1-7.7 1 .5 1-1.6 1 0 1-2.2 1-.7 1-3.9 1 .2 1-.1 1-1.8 1-1.4 1-.1 1 .8 1-5.3 1 3.8 1-2.3 1-2.1 1 1.3 1-1.3 1 .9 1-3 1 1.7 1-2.8 1 1.1 1 .1 1-1.4 1 .6 1-1.9 1 1.8 1-2.3 1-.6 1.1 .5 1-.2 1-1.2 1 1.8 1-1.4 1 .7 1-2.9 1 .1 1 1.1 1-1.1 1 1 1 .7 1 .5 1 .4 1-1.1 1-2 1 1.5 1-1.5 1 1.3 1-2.2 1 3 1-1.3 1-1 1-1.5 1 2.1 1-1.1 1 .9 1-1.3" fill="none" stroke="#0000ff" stroke-width="1.0" stroke-linejoin="round"/>
<path d="M437.8 504.6l1 .1 1-.1 1 0 1 0 1 0 1-.1 1 .1 1-.1 1.1 0 1-.2 1 0 1-.3 1 .1 1-.3 1-.4 1 .1 1-.7 1-.6 1-.7 1-.3 1-1.2 1-1.2 1-1.7 1-1.5 1-1.4 1-2.3 1-3.5 1-2.3 1-2.5 1-1.9 1-5.9 1-5 1-1.9 1-5.2 1-5 1-2.7 1-4.9 1-4.8 1-4.2 1.1-2.4 1-3 1-5 1 .1 1-4.9 1 .6 1-3.3 1-2.5 1-1.2 1-2.7 1-.9 1 .6 1-3.9 1 .4 1-3.1 1 0 1 .2 1-3.5 1 1.1 1-3.8 1 .4 1 .2 1 1 1-.8 1-2.6 1 .4 1-.1 1-2.6 1 2 1 .7 1-.5 1.1-2.7 1-.1 1-1 1 .2 1 0 1 .9 1-1.1 1-1.5 1 2 1-.2 1-2.1 1 .2 1 0 1-2.1 1 2 1 .6 1 1.4 1-2.4 1-.7 1 0 1 .8 1 .1 1-2.2 1 1.2 1 .5 1-3.5 1 4.2 1-2.1 1 1.3 1-1.3 1-.3 1 .1 1.1 .4" fill="none" stroke="#0000ff" stroke-width="1.0" stroke-linejoin="round"/>
<path d="M439.1 504.6l1 0 1 0 1 0 1 0 1 0 1 0 1-.1 1 0 1 0 1-.2 1 0 1-.1 1.1-.1 1-.4 1 .2 1-.6 1-.7 1-.3 1-.4 1-.9 1-.7 1-.7 1-1.7 1-1.2 1-2.4 1-2.7 1-1.5 1-3.9 1-2.2 1-3.6 1-4.6 1-3.9 1-3.7 1-3.8 1-3.5 1-5.3 1-2.6 1-4.9 1-5.3 1-3.5 1-2.6 1-3.6 1-2.3 1.1-1.6 1-2.9 1-1.3 1-3.8 1-2 1-2.3 1-2 1 .2 1-.7 1-1.5 1-.9 1 1.4 1-4.7 1 .1 1-1.1 1-1.3 1 2.1 1-2.4 1 .9 1-3.5 1 3.1 1 0 1-4.4 1 .6 1-.6 1 .4 1-2.7 1 1.8 1 0 1-2 1-2.4 1.1 1.6 1 .1 1 1.2 1-2 1-.9 1 2 1-.6 1 .3 1-1.1 1 1.1 1-.9 1-3.1 1 2.4 1 .6 1-1.1 1 1.7 1-2.6 1 1.3 1-2.6 1 1.5 1-.8 1-.7 1-.5 1 1.9 1 .1 1-1.4 1-.9 1 .4" fill="none" stroke="#0000ff" stroke-width="1.0" stroke-linejoin="round"/>
<path d="M439.5 504.6l1 .1 1-.1 1 0 1 0 1 0 1 0 1-.1 1-.1 1 .1 1-.1 1-.1 1-.2 1-.1 1-.2 1-.1 1-.8 1 .1 1-.7 1.1-.6 1-.8 1-.9 1-.9 1-1.5 1-2.2 1-1.3 1-2.2 1-2.3 1-3 1-3.1 1-2.8 1-5 1-1.7 1-6.1 1-4.6 1-2.8 1-4 1-4 1-3.8 1-4.8 1-3.9 1-2.9 1-3.4 1-3.4 1-.2 1-2.1 1-4.1 1-2.2 1-2.1 1-3 1.1-.3 1-1.2 1-.8 1-2.3 1-2.2 1 2 1 .4 1-5.6 1 1.6 1 .4 1-3.2 1-1 1 1.2 1-1 1-1 1 2.3 1-.7 1-1.5 1-1.4 1-.7 1 1.1 1-1.8 1 1.8 1-.6 1-2.7 1 1.4 1 .8 1-1.5 1-2.3 1 .6 1-.3 1 .4 1.1-.3 1-.7 1 1.3 1 .5 1-2.7 1-1.3 1 2.2 1-.6 1 .4 1-1.5 1 1.1 1-1.7 1 2.5 1 .6 1-3.4 1-2.3 1 2.6 1-.1 1 .8 1-.3 1 .6" fill="none" stroke="#0000ff" stroke-width="1.0" stroke-linejoin="round"/>
<path d="M441.2 504.6l1 0 1 0 1 0 1 0 1 0 1-.1 1 0 1 0 1 0 1 0 1-.2 1-.2 1 0 1-.3 1 .1 1-.9 1 .1 1-.6 1-.6 1-.9 1-1.1 1-1.2 1-1.6 1-.3 1-2.3 1-2.2 1-2.6 1.1-4 1-2.3 1-3.2 1-3 1-5.4 1-3.2 1-4.6 1-4 1-5 1-3.2 1-4.3 1-5.7 1-.5 1-2.3 1-6.1 1-.7 1-4.8 1-1.8 1 .4 1-3.7 1-.2 1-3.1 1-.6 1-2.8 1 .6 1-.8 1-2.4 1-2.5 1-.7 1-1.6 1 1 1.1-.8 1-2.2 1 1.3 1-2.5 1 2.3 1-1.8 1 .5 1-3.4 1-.8 1-1.5 1 2.6 1-2.6 1 2.7 1-1.8 1 .4 1-2.9 1 .6 1 .7 1 .4 1-2.9 1 1.9 1-1.8 1 1.9 1-1.5 1-.3 1 .7 1 .8 1-2 1 1.7 1-3 1 1.5 1.1-1.9 1 1.5 1-1.5 1 1 1 .7 1-2.2 1-1.1 1 1.9 1 .8 1-.4 1-1.6" fill="none" stroke="#0000ff" stroke-width="1.0" stroke-linejoin="round"/>
<path d="M440.4 504.6l1 0 1 0 1 0 1 0 1 0 1 0 1.1 0 1-.1 1 0 1-.1 1-.2 1 0 1-.3 1-.1 1-.5 1 .2 1-.3 1-.7 1-.9 1-.7 1-.6 1-1.1 1-1.8 1-.9 1-2.1 1-2.2 1-2.9 1-2.6 1-3.5 1-2.9 1-4.3 1-2.6 1-4.9 1-4.1 1-4.2 1-4.2 1-5.8 1.1-1.6 1-4.9 1-4.2 1-3.7 1-2.7 1-2.7 1-1.9 1-3.2 1-1.1 1-1.9 1-2.7 1 1.6 1-4.1 1-.9 1-1.6 1-1.5 1-.1 1-.2 1-2.7 1-1.8 1 .9 1-4.1 1 2.1 1-1.1 1 0 1-2.9 1 .8 1-1.3 1 .1 1 .9 1-1.4 1-1 1.1 1.8 1-1.8 1-2.9 1 .9 1 1.5 1-.3 1-.6 1-.2 1-1.7 1 .7 1-1.6 1 .2 1-.3 1-.1 1 .4 1 0 1-.9 1 2.2 1-2.1 1 2.4 1-.9 1-2.9 1 2.5 1-3 1 3.5 1-1.5 1-1.8 1-1.6 1 2.1 1-1.3 1 3 1.1-3" fill="none" stroke="#0000ff" stroke-width="1.0" stroke-linejoin="round"/>
<path d="M440.1 504.6l1 0 1 0 1 0 1 0 1 0 1 0 1-.1 1 0 1-.1 1 0 1-.1 1 0 1-.5 1-.1 1-.2 1-.1 1-.7 1-.2 1-.9 1.1-1 1-.5 1-1.5 1-.8 1-1.5 1-1.7 1-3.1 1-1.3 1-3.1 1-4.6 1-1.1 1-3.9 1-5.8 1-3.1 1-5.5 1-3.3 1-4.1 1-3.8 1-5.4 1-3 1-4.5 1-2 1-2.7 1-3.3 1-1.4 1-2.7 1-2.6 1-1 1-4.5 1-.3 1-3.5 1.1 .6 1-1.8 1 .3 1-2.6 1-1.2 1-.3 1-1 1 0 1-2.5 1-1.5 1-.8 1 2.7 1-3.5 1 .4 1-1.3 1 1.9 1-2.3 1 1.8 1-2.8 1 .8 1 .2 1-.1 1-3 1 .7 1 0 1-2.5 1 3 1-.7 1-.1 1-2.6 1 1.7 1.1 .1 1 .6 1-2.2 1 1.3 1 1.5 1-3.2 1-.1 1-.1 1-1.6 1 1.3 1 2.4 1-3.4 1 .9 1 1.6 1-.9 1-.5 1-.8 1 .2 1 0 1 .8" fill="none" stroke="#0000ff" stroke-width="1.0" stroke-linejoin="round"/>
<path d="M440.7 504.7l1-.1 1 0 1 0 1 0 1 0 1 0 1-.1 1 0 1-.1 1 0 1 0 1-.1 1-.3 1-.2 1-.3 1-.3 1-.3 1-.3 1-.7 1-.6 1-.8 1-1.9 1-.9 1-1.9 1-2.3 1-2 1.1-2.3 1-1.7 1-3.9 1-3.6 1-3.6 1-4.4 1-3.5 1-4.4 1-5.6 1-3.4 1-.7 1-6.5 1-4.5 1-2.8 1-4.9 1-1.9 1-2 1-5.1 1-1.4 1-1.8 1-1.8 1-2.1 1-.7 1-.7 1-2.1 1-.5 1-1.2 1-3 1 0 1-1.7 1 .3 1-2 1.1-.6 1 1.5 1-2.9 1-2.3 1 1.4 1-.4 1-1.5 1 .2 1 .7 1-2.3 1-.1 1-1 1 .9 1-.9 1-1.4 1 .7 1 2.1 1-4.6 1 .1 1 1.8 1-2.3 1 3.9 1-4.5 1 0 1 .8 1 1.7 1-.5 1-.4 1-.6 1 1.1 1-4 1.1 2.5 1 1.3 1-3.3 1 1.6 1 1.1 1-.1 1-1.9 1 2.5 1-1.8 1 .6 1-2.8 1 .3" fill="none" stroke="#0000ff" stroke-width="1.0" stroke-linejoin="round"/>
<path d="M440.6 504.7l1-.1 1 0 1 0 1 0 1-.1 1 .1 1-.1 1 .1 1-.3 1 0 1 .1 1-.2 1-.3 1-.1 1-.4 1 .1 1-.7 1-.2 1-.7 1-1.1 1-.8 1-.9 1-1.4 1-1.2 1-2 1-2.4 1-2.3 1-3.5 1.1-3.1 1-2.7 1-3.9 1-4.9 1-3.4 1-4.7 1-4.2 1-2.7 1-6.1 1-3.9 1-2.7 1-4 1-3.1 1-4.7 1-1.3 1-2.9 1-2.8 1-1.8 1-1.7 1-.5 1-.5 1-3.5 1 .2 1-2.9 1-3 1 .7 1 .4 1-.8 1-3.6 1 2.8 1-4.2 1.1-.8 1-.4 1 1.7 1-1.8 1 0 1-4.3 1 2.1 1-.5 1 .5 1-1.9 1 1.7 1-2.7 1-1.2 1-.7 1 3.2 1-.9 1-2.2 1 2.1 1-1.8 1-.2 1-1.9 1 .9 1 .6 1-.1 1-1.2 1 1.8 1 .4 1-3 1 1.4 1-2.6 1 2.3 1.1-1.9 1 .9 1 .3 1-.6 1 1.5 1-2.4 1 .3 1 .9 1-.6 1 .3 1-.7" fill="none" stroke="#0000ff" stroke-width="1.0" stroke-linejoin="round"/>
<path d="M441 504.6l1 0 1 0 1 0 1 0 1 0 1 0 1-.1 1-.1 1 .1 1-.1 1 .1 1-.4 1 0 1-.2 1-.3 1-.2 1-.5 1-.5 1-.6 1-1.3 1-.6 1-1.2 1-.6 1-1.9 1-1.8 1-2.2 1-2.8 1-1.9 1-4.1 1.1-4.1 1-2.5 1-3.5 1-4.8 1-4 1-3.8 1-3.8 1-5 1-3 1-5.1 1-1.8 1-6.6 1-.7 1-3.4 1-2.7 1-3.8 1 .4 1-3.3 1-2.7 1-1.3 1-1 1-1.1 1-2.4 1-1.2 1 .4 1-1.6 1 1.4 1-3.6 1 .5 1 .4 1-3 1.1 .7 1-1.4 1-.9 1 1.2 1-3.6 1 0 1-1.9 1 1.5 1 .9 1-1.9 1 .9 1-2.2 1 1.9 1-1.8 1-.8 1 2.3 1-2.3 1 .5 1-.8 1 .5 1-1 1-1.8 1 1.6 1 0 1-.2 1-1 1 2.4 1-3.3 1 .9 1-.1 1-1.7 1.1-.2 1 2.1 1-.1 1-.8 1-2.2 1 1.5 1 .6 1 .4 1 .6" fill="none" stroke="#0000ff" stroke-width="1.0" stroke-linejoin="round"/>
<path d="M442.1 504.7l1 0 1-.1 1 0 1 0 1 0 1 0 1-.1 1 0 1.1 0 1-.1 1-.1 1-.2 1 .1 1-.4 1 0 1-.6 1-.2 1-.4 1-1.1 1-.7 1-.6 1-.9 1-1.3 1-1.8 1-1.7 1-3 1-2.2 1-1.9 1-4.2 1-3.2 1-4.7 1-2.9 1-5.1 1-2.8 1-3.4 1-5.2 1-4.3 1-4.6 1-3 1.1-5.1 1-2.6 1-.4 1-6.3 1-1.8 1-3.1 1 .6 1-3.5 1-2.9 1-1.7 1 1.1 1-1.8 1-1.2 1-2.1 1-.1 1-.5 1-1.7 1-3.5 1-1.3 1-.2 1 1.3 1-2.7 1-.2 1 .7 1-1.6 1-1.1 1 2.2 1-1 1-.1 1-.3 1 .2 1.1-2.1 1-.6 1-2.2 1 1.5 1-.8 1 1.7 1-.7 1 .7 1-.7 1-.1 1-1 1-.7 1-.9 1 .3 1-1.4 1 1.5 1-.7 1-2.6 1-1 1 2.3 1 .2 1 .1 1 1.8 1-2.5 1-.9 1 2 1 .6 1 .7 1-3.3" fill="none" stroke="#0000ff" stroke-width="1.0" stroke-linejoin="round"/>
<path d="M442.1 504.6l1 .1 1-.1 1 0 1 0 1 0 1 0 1-.1 1 0 1-.1 1 0 1-.1 1 0 1-.2 1-.3 1-.5 1-.2 1-.3 1-.5 1-.8 1-.6 1-.8 1-1.4 1-1.2 1-1.6 1-2.1 1-2.2 1-2.2 1-2.6 1-3.9 1.1-4 1-3.1 1-3 1-5.6 1-2.4 1-5.4 1-3.7 1-5 1-2.9 1-4.3 1-3.2 1-5.5 1-.4 1-5.2 1-1.2 1-1.4 1-2.9 1-1.2 1-2.1 1-1.8 1-2.5 1 .6 1-1.1 1-3.1 1-1.5 1 .2 1-2 1 .1 1 0 1-1 1 .2 1.1-1.8 1-2.4 1-.4 1 1 1 1.1 1-3.1 1-1.2 1 2.3 1-2.2 1 .5 1 .1 1-2.8 1 .4 1-.6 1 1 1-.1 1-1.7 1 1 1-3 1 2.3 1-.2 1-.7 1-1.9 1 1.4 1-1.3 1 2.8 1-2.2 1-.1 1 0 1 .6 1-.7 1.1 .4 1-1.8 1 2.3 1-2 1 1.4 1-.8 1 .9 1-1.4" fill="none" stroke="#0000ff" stroke-width="1.0" stroke-linejoin="round"/>
<path d="M441.7 504.6l1 0 1 .1 1-.1 1 0 1 0 1-.1 1 0 1 0 1-.1 1 0 1 0 1.1-.1 1-.3 1 .1 1-.5 1-.4 1-.5 1-.5 1-.3 1-1.6 1-.3 1-1.5 1-1 1-1.5 1-2.4 1-2.1 1-1.5 1-3.7 1-2.8 1-3.6 1-3 1-3.7 1-4.2 1-4.5 1-4.2 1-5.7 1-2.1 1-5.7 1-4.2 1-3 1-3.7 1-1.9 1.1-2.4 1-2 1-3.7 1-2.6 1-1.6 1-2.8 1-1.2 1 1.5 1-4.4 1-1 1 0 1-1.5 1-.4 1-2.8 1-1.2 1 1.9 1-3 1-.1 1-.3 1-3 1 1.3 1-1.1 1 .8 1-1.5 1-2.7 1 3.1 1-4.4 1 2.1 1-.7 1-.3 1 .4 1.1 .8 1-2.4 1 0 1 1.3 1-.5 1 0 1-.7 1-.9 1-.6 1-.1 1 1.4 1 .5 1 .5 1-3.8 1 .8 1 .1 1-.3 1-1.3 1 3.8 1-.9 1-2.1 1-.5 1 .4 1-1.5 1 .9 1 1.3" fill="none" stroke="#0000ff" stroke-width="1.0" stroke-linejoin="round"/>
<path d="M444 504.6l1 .1 1-.1 1 0 1 0 1 0 1 0 1 0 1-.1 1-.1 1-.1 1 .1 1-.2 1-.3 1 .1 1-.4 1-.3 1-.6 1 0 1-.9 1-.5 1-1.5 1-.7 1-1.5 1-1.7 1-2.1 1-2.2 1-2.7 1-2.6 1.1-2.8 1-3.1 1-5 1-3.6 1-3.9 1-5 1-3.3 1-4.3 1-4.1 1-3.6 1-3.3 1-3.6 1-3.8 1-2.7 1-4.1 1-2.7 1-.7 1-2.2 1-.2 1-4.4 1-2.5 1-.1 1-2.2 1-1.8 1 1.4 1-.5 1-2.8 1-2.1 1 .1 1-1.1 1-2.4 1.1 1.9 1-1.3 1 .5 1-2.8 1 .1 1-.7 1-2.4 1 4.6 1-5.9 1 .7 1 .5 1-1.8 1 2 1-1.4 1 .3 1-.1 1-.5 1-.2 1-.6 1 .4 1 .3 1-1.6 1-.4 1-.1 1 .6 1-1 1-.2 1-1.5 1 4 1-4 1 3.4 1.1-1.2 1 .2 1-1.1 1 .2 1-.4 1 .3 1 .2" fill="none" stroke="#0000ff" stroke-width="1.0" stroke-linejoin="round"/>
<path d="M444.3 504.6l1 0 1 .1 1-.1 1 0 1 0 1 0 1-.1 1-.1 1 .1 1-.2 1 .1 1-.2 1.1-.2 1-.1 1-.3 1-.4 1-.4 1-.4 1-.8 1-.5 1-.8 1-1.1 1-1.2 1-1.6 1-2 1-1.9 1-3 1-2.7 1-2.5 1-3.1 1-5 1-4.7 1-1.6 1-4.9 1-3.7 1-4.9 1-4.8 1-4.8 1-4.2 1-1.2 1-3.7 1-3.7 1-4.2 1.1-1.9 1-2.5 1-1.8 1-4.7 1 1.6 1-.2 1-3.8 1-.8 1-1 1-2.6 1 .5 1-2.5 1-.5 1-.1 1-1.2 1-.6 1-1.9 1 1.3 1-2.8 1 1.7 1-2.2 1-1.4 1 .8 1-1.6 1 .2 1 0 1 .7 1-.3 1-.8 1-1.2 1-1.9 1.1 1.3 1-.4 1-.1 1-.7 1-.3 1 1.4 1-2.8 1 1.4 1 1.4 1-2.7 1-.5 1 .8 1-.3 1 .6 1 1.2 1-2 1 .7 1-1.6 1 0 1 .9 1-1.3 1 2.2 1-2.1" fill="none" stroke="#0000ff" stroke-width="1.0" stroke-linejoin="round"/>
<path d="M443.7 504.6l1 0 1 0 1 0 1 0 1 0 1 0 1-.1 1 .1 1-.2 1 0 1.1-.2 1 .1 1-.4 1-.1 1 0 1-.7 1-.6 1-.1 1-.8 1-.8 1-1 1-1.3 1-.5 1-1.6 1-2.8 1-1.7 1-2.7 1-2 1-4.2 1-1.9 1-4.7 1-4.5 1-3.6 1-4.6 1-2 1-6 1-4.7 1-3.6 1-2.5 1-5.9 1-4 1 0 1.1-3.4 1-3.7 1-1.9 1-.8 1-6.2 1 2.6 1-3.2 1-.6 1-2.2 1 2.4 1-5.5 1 .9 1-5.4 1 2.1 1 .1 1-3.7 1-1.4 1 1.9 1 .4 1-.4 1-2.9 1 .7 1-2.7 1 3.4 1-3.4 1 1.9 1-2.4 1-.4 1 2 1-3.5 1 2.4 1.1-2.4 1-1 1-.2 1 2.2 1-1.8 1-.6 1-1.7 1 3.2 1-.4 1-1.1 1 .4 1-5.3 1 3.2 1 .8 1-.3 1-1 1 .9 1-1.4 1 0 1-.9 1 1.7 1-1.2 1 .1 1 2.4 1-2" fill="none" stroke="#0000ff" stroke-width="1.0" stroke-linejoin="round"/>
<path d="M444.2 504.6l1 0 1 0 1 0 1 0 1 0 1 0 1 0 1-.1 1-.2 1 .2 1-.1 1-.2 1 0 1-.5 1 0 1-.4 1-.3 1-.7 1-.5 1-.7 1-.8 1-1.2 1.1-1.4 1-1.9 1-1 1-2.8 1-2.7 1-2.8 1-3.7 1-3.2 1-4.2 1-2.8 1-4.3 1-4 1-5.5 1-3.6 1-4.4 1-2.6 1-6.2 1-3.6 1-.4 1-4 1-4.8 1 .6 1-2.1 1-2.5 1-5.5 1 .6 1-2.7 1-.9 1-2.9 1 2.6 1-4 1.1 0 1-.4 1-1.2 1-1.1 1-1.8 1 0 1-1.3 1-3.2 1 3.4 1-2.6 1-.5 1-.4 1-1.7 1-.3 1-1.2 1 2.4 1 .5 1-1.7 1-1.9 1 2.7 1-2.4 1-1.9 1-.6 1 2.3 1 1.3 1-2.5 1-.6 1 .2 1-.9 1 .2 1 .8 1-1.4 1.1 1.9 1-2.6 1 2 1-.6 1-1.1 1 0 1-.2 1 2.5 1-3.3 1 2.4 1-.3 1-1.9" fill="none" stroke="#0000ff" stroke-width="1.0" stroke-linejoin="round"/>
<path d="M445.6 504.6l1 0 1 0 1 0 1 0 1 0 1 0 1 0 1-.1 1-.1 1 0 1-.1 1-.2 1.1 0 1-.4 1-.2 1-.3 1-.4 1-.4 1-.9 1-.1 1-1.2 1-1.2 1-1.3 1-2.6 1-.6 1-3 1-1.8 1-3.7 1-1.9 1-4.3 1-3.6 1-2.7 1-4.4 1-6 1-3.8 1-3.5 1-4.6 1-3.1 1-5.3 1-4.7 1-2.4 1-2.2 1-2 1-2.3 1.1-1.8 1-3.2 1-2.4 1-.8 1-2.6 1-1.9 1-1.4 1 .4 1-.6 1-1.3 1-4.5 1 2.3 1-3.6 1 .1 1 .4 1-3.1 1-.5 1-.1 1 2.4 1-1.3 1-3 1 .8 1-.5 1-.2 1-1.7 1 2.3 1-2.7 1 1.1 1-3.5 1 2.3 1-.6 1.1 1.3 1-5.3 1 3.7 1 .1 1-1.6 1 1.8 1 .8 1-1.8 1-.3 1 .5 1-1.3 1 .8 1-.9 1-1.8 1-.6 1 2.7 1-.9 1-1.7 1 .7 1 1.8 1-4.2" fill="none" stroke="#0000ff" stroke-width="1.0" stroke-linejoin="round"/>
<path d="M444.4 504.6l1 0 1 0 1 0 1 0 1 0 1 0 1.1-.2 1 .1 1-.1 1-.1 1-.1 1 .1 1-.3 1-.1 1-.3 1-.3 1-.3 1-.3 1-1.2 1-.5 1-1.1 1-.5 1-1.9 1-2.1 1-1.3 1-2.5 1-2.5 1-2.7 1-3.6 1-3.9 1-1.2 1-5.3 1-4.7 1-3.1 1-3.6 1-6.9 1-3.1 1-3.4 1.1-4.9 1-2.3 1-5 1-2.4 1-2.2 1-2 1-2.7 1-2.9 1-1.6 1-3.8 1 3.2 1-4.4 1-1.3 1-.6 1-.9 1-1.3 1-2.3 1-2.1 1 .9 1-1.6 1-.5 1-.1 1-.3 1 .6 1-2.4 1-2.5 1 2.3 1 0 1-3.7 1 2.3 1-.9 1.1-1.3 1 .5 1-.1 1-.1 1 .4 1-1.8 1-.3 1 2.8 1-4.7 1 .8 1-.3 1 1.2 1 .2 1-3.3 1 3 1-3.2 1 4.7 1-4.4 1 2.1 1-1.9 1 1.1 1-2 1 1 1-.3 1 0 1 .8 1-1.7 1 .1" fill="none" stroke="#0000ff" stroke-width="1.0" stroke-linejoin="round"/>
<path d="M444.6 504.6l1 0 1 0 1 0 1 0 1 0 1 0 1-.1 1-.1 1 .2 1-.2 1-.1 1 .1 1-.5 1 0 1-.6 1 0 1-.4 1-.7 1-.6 1-.7 1-.9 1-.6 1-1.9 1-1.6 1-1.9 1-2.8 1-2 1.1-3.3 1-2.3 1-4.9 1-3.1 1-3 1-5.8 1-3.9 1-2.2 1-6.3 1-3 1-3.8 1-5.1 1-4.2 1-.1 1-5.1 1-1.7 1-3.8 1-1.1 1-4 1-2.1 1-1.4 1-1.2 1-1.5 1-1 1-.4 1-2.4 1 .7 1-3 1 .7 1-.1 1-.3 1.1-5.3 1 3.8 1-5 1 3.3 1-2.4 1-.1 1-2.2 1 1.9 1-.8 1-2 1-.5 1 1.4 1-.1 1-.7 1-1.8 1 .1 1 .9 1-.4 1 .1 1-1.5 1-1.3 1 1 1 0 1-1.5 1 1 1-1.8 1 1.2 1-1.3 1 3.4 1-1.4 1-1.3 1.1-2.2 1 0 1 2.3 1-1.2 1 .5 1-2.5 1-.1 1 2" fill="none" stroke="#0000ff" stroke-width="1.0" stroke-linejoin="round"/>
<path d="M445.7 504.6l1 0 1 0 1 0 1 0 1 0 1 0 1-.1 1 0 1 0 1-.2 1-.1 1 0 1-.3 1 0 1-.4 1-.2 1-.5 1-.5 1-.6 1-1.2 1-.7 1-1 1-.5 1-2 1-1.9 1-2.9 1-1.6 1-2.6 1.1-3.4 1-2.2 1-6.2 1-3.8 1-3.5 1-4.8 1-3.5 1-3.9 1-4.6 1-4 1-3.5 1-3.2 1-4.7 1-3 1-.8 1-4.2 1-2.9 1-.9 1-2.6 1-1.3 1-1.8 1-.7 1-1.1 1-3.3 1-1.7 1 2.3 1-3.8 1-2 1-1.3 1 1.4 1-1.5 1-2.2 1.1 .4 1-.8 1 1.9 1-1.5 1-.8 1-2.1 1 .9 1 .6 1-1.1 1 .8 1-1.6 1 .4 1-.7 1-1.6 1 2.1 1-1.5 1 .3 1-2.7 1-.2 1 .9 1-1.1 1 1.7 1-.5 1 .8 1-1 1-2.3 1 2.5 1-2.3 1-.2 1 .9 1-.3 1.1 1.3 1 2.1 1-3.2 1 1.2 1-2.2" fill="none" stroke="#0000ff" stroke-width="1.0" stroke-linejoin="round"/>
<path d="M446.4 504.6l1 0 1 .1 1-.1 1 0 1 0 1 0 1-.1 1 0 1-.1 1 0 1-.1 1 0 1-.4 1-.1 1 0 1-.2 1-.8 1-.5 1.1-.9 1-.6 1-1 1-.9 1-1.7 1-.9 1-2.2 1-2.3 1-1.9 1-3.4 1-3.7 1-2.7 1-2.3 1-5.3 1-3.7 1-4.8 1-4.3 1-3.7 1-7 1-2.9 1-3.2 1-3.2 1-1.6 1-1.9 1-4.6 1-2.8 1-2 1-1.2 1-4.7 1-1.3 1-.9 1.1-1.3 1-4 1 1.5 1-3.6 1 1.7 1-1 1-4.6 1 2.4 1-1.2 1-1.8 1 1.2 1 .6 1-2.5 1-2.5 1-1 1-.2 1-.4 1 2.2 1-1.5 1-.8 1 .7 1-1.4 1-.4 1-1.4 1-.1 1 .6 1-1.8 1 3.3 1-2.3 1-1.1 1 1.7 1.1-2.8 1 2.5 1-1.4 1 2.1 1-3.3 1 0 1-.7 1-.7 1 1.8 1-1.9 1 1.7 1-1.4 1 2.1 1-4.8 1 3.7" fill="none" stroke="#0000ff" stroke-width="1.0" stroke-linejoin="round"/>
<path d="M446.6 504.6l1 0 1 .1 1-.1 1 0 1 0 1 0 1-.1 1 0 1-.1 1-.1 1-.1 1 0 1-.3 1.1-.2 1 0 1-.4 1-.4 1-.6 1-.5 1-.8 1-1.2 1-.8 1-1.5 1-1.6 1-1.7 1-2.5 1-2.8 1-1.7 1-2.7 1-4.6 1-2.8 1-4.4 1-4.8 1-4.4 1-3.9 1-4.4 1-4.1 1-3.9 1-4.8 1-1.6 1-5.3 1-3 1-.6 1-2.7 1.1-1.6 1-3.5 1-2.8 1 .2 1-3.1 1-1.5 1-2.2 1 .1 1-4.4 1 2.3 1-4.1 1 2.5 1-3.8 1 1.9 1 1.4 1-4.1 1-1.8 1 3.2 1-3.5 1-1.4 1 2.4 1-5.6 1 1.2 1-.3 1 .4 1-2.1 1 3.2 1-.1 1-1.7 1-.8 1-1.8 1.1 2.3 1-1.7 1 1.4 1 .2 1-1.4 1-3 1 1.3 1 2.7 1-1.6 1 1.3 1-4.9 1 2.6 1-.2 1-2.1 1 1.2 1 1.9 1-.7 1-1.5 1 1 1 1" fill="none" stroke="#0000ff" stroke-width="1.0" stroke-linejoin="round"/>
<path d="M446.3 504.6l1 0 1 0 1 0 1 0 1 0 1 0 1-.1 1 0 1-.1 1 0 1-.1 1 0 1-.3 1-.1 1-.1 1-.5 1.1-.4 1-.2 1-.9 1-.7 1-.8 1-1.4 1-1.7 1-1.8 1-1.4 1-1.6 1-2.5 1-2.4 1-3.5 1-4.3 1-4.3 1-3.3 1-3.9 1-4.6 1-3 1-5.7 1-3 1-3.9 1-6.2 1-2.3 1-1.6 1-3.4 1-3.5 1-3.8 1-1.9 1-1.3 1-.6 1.1-2.7 1-2.3 1-1.1 1-.8 1-4.2 1-.3 1 .1 1 .4 1-1.1 1-3.2 1 .2 1-1.7 1-.3 1-.1 1-1.2 1-.9 1-1.3 1-1.1 1 1.3 1 0 1 0 1-2.2 1-.3 1 2.1 1-1.4 1 .3 1-2.2 1-.5 1-.8 1 2.4 1-3 1.1-1 1 1 1 2.4 1-1.8 1 .1 1-.4 1-.4 1-.3 1-1.8 1 3.8 1-2.5 1 1.6 1-3.7 1 2.6 1-2.3 1-.3 1 1.9" fill="none" stroke="#0000ff" stroke-width="1.0" stroke-linejoin="round"/>
<path d="M448 504.7l1 0 1-.1 1 0 1 0 1 0 1 0 1-.1 1 0 1-.2 1 .1 1.1-.2 1 .1 1-.2 1-.4 1-.1 1-.2 1-.7 1-.5 1-.5 1-.5 1-.9 1-1.5 1-1 1-1.3 1-2 1-2.9 1-2.6 1-2.2 1-2.8 1-3.7 1-4.2 1-4.3 1-2.5 1-5.3 1-2.6 1-6.8 1-3.5 1-4.4 1-1.5 1-4 1-5 1.1-4.5 1 .4 1-3.6 1-3.7 1-2.5 1 .1 1-2.4 1-1.3 1-1.2 1-2.3 1-1.2 1-.1 1-2 1-1.2 1 .1 1-4 1 3.1 1-1.8 1-2.2 1 .1 1 1 1-1.4 1-3.4 1 .4 1 .9 1 1.5 1-1.7 1-1.6 1 .6 1-1.1 1-.8 1.1 .5 1-3.4 1 3.6 1-.9 1-1.5 1-.8 1-.7 1 1.7 1-.4 1-.2 1 1.7 1-5.1 1 1.7 1-.3 1 2.1 1-1.7 1-1 1 1.3 1 .1 1 1.4 1-1.9" fill="none" stroke="#0000ff" stroke-width="1.0" stroke-linejoin="round"/>
<path d="M447.5 504.6l1 0 1 0 1 0 1 0 1 0 1 0 1-.1 1 0 1-.1 1-.1 1-.2 1 0 1.1 0 1-.1 1-.5 1-.4 1-.2 1-.3 1-.9 1-.5 1-1.2 1-1.4 1-1.3 1-1.4 1-.9 1-2.8 1-2.9 1-2.5 1-3.2 1-3.8 1-3.5 1-4 1-3.4 1-3.5 1-4.4 1-5.7 1-3.4 1-5.3 1-4.2 1-2.4 1-2.7 1-3.7 1-1.8 1.1-2.5 1-2.4 1-3.1 1-3.3 1 1.7 1-4.2 1-.1 1-1.7 1-2.2 1 1.3 1-2.4 1-1.9 1-1.4 1-1.6 1-1.1 1 1.4 1-2 1-.7 1 .6 1-1.7 1 .7 1-2.2 1-.3 1 1.3 1-2.4 1 1.1 1-.5 1-1 1-2.4 1 0 1 0 1-.6 1.1 2.4 1-2.4 1-.7 1 .6 1 .3 1-2.2 1 2.6 1 0 1-1.9 1 1.6 1-3.1 1 1.1 1 .3 1 .1 1 1.3 1-2 1-1 1 1.4 1-.2" fill="none" stroke="#0000ff" stroke-width="1.0" stroke-linejoin="round"/>
<path d="M448.5 504.6l1 0 1 0 1 0 1 0 1 0 1 0 1-.1 1 0 1 0 1-.1 1 0 1-.3 1 0 1-.4 1-.3 1-.1 1-.2 1-.4 1-1.1 1-.6 1-1.1 1-1.6 1-.5 1-2 1-1.2 1-2.6 1-2.8 1-2.9 1.1-2.9 1-3 1-4.3 1-1.7 1-5.9 1-5.2 1-3.4 1-3.3 1-4.8 1-4.8 1-4.1 1-3.7 1-3.7 1-2.4 1-1.9 1-3.4 1 0 1-3.5 1-2.8 1-1.3 1 0 1-5.1 1 .8 1 1.6 1-3.2 1-3.3 1 .2 1-1.4 1 2.7 1-4.9 1-.3 1-.8 1.1-2 1-3 1 3.1 1 .4 1-1.7 1 .6 1-.1 1-.6 1-3.3 1 3.5 1-1.2 1-.4 1-1.3 1-.4 1-.9 1 .9 1 .3 1-2.1 1 1.5 1-1.9 1 1.1 1-1.1 1 1.1 1 1.1 1-2.3 1-1.1 1-.1 1 1.2 1-1.6 1 1.7 1-1 1.1 .7 1-2" fill="none" stroke="#0000ff" stroke-width="1.0" stroke-linejoin="round"/>
<path d="M448 504.6l1 0 1 0 1 0 1 0 1 0 1 0 1-.1 1 0 1-.1 1 0 1-.1 1-.1 1-.3 1-.3 1-.1 1-.2 1-.4 1-.5 1-.4 1.1-1.1 1-.9 1-1.3 1-1.3 1-1 1-2.2 1-3.4 1-.8 1-4.4 1-2.3 1-2.6 1-4.2 1-3.6 1-3.9 1-4.6 1-5.5 1-3 1-5.1 1-5.7 1-1.9 1-2.7 1-3.7 1-3.1 1-1 1-4 1-1.6 1-2.8 1-.5 1-4 1 .1 1-.8 1.1-3.9 1 .4 1-4 1 .9 1-.6 1-2.8 1-2 1 1.3 1-1.2 1-.1 1-.6 1 .1 1 .2 1-1.9 1-2.9 1 2.2 1-.9 1-.7 1 1.3 1-2 1-1.1 1 .6 1-2.9 1 2.9 1-1.5 1 1.8 1-1.5 1-.7 1-.5 1-1.9 1 1.1 1.1 .3 1 .6 1-.8 1 .1 1-.2 1-1.7 1 .9 1-.8 1-1.4 1-.5 1 2.8 1 .7" fill="none" stroke="#0000ff" stroke-width="1.0" stroke-linejoin="round"/>
<path d="M449.9 504.6l1 .1 1 0 1-.1 1 0 1 0 1 0 1 0 1-.1 1-.1 1 0 1-.1 1-.1 1-.2 1-.3 1 .1 1-.6 1-.4 1-.5 1-.5 1-1 1-.5 1-1.5 1-1 1.1-2.1 1-2 1-2.2 1-1.9 1-3.6 1-2 1-4.1 1-2.9 1-4.8 1-3.2 1-5.6 1-4.4 1-2.9 1-5.2 1-2.6 1-5.4 1-2.4 1-4.6 1-4 1 .5 1-4.2 1-1.1 1-2.9 1-4.1 1 .6 1-.9 1-1.2 1-1 1-2.7 1-1.8 1-.9 1.1-2.5 1 1.3 1-.9 1-1.3 1-2.1 1 1 1-2.2 1 1.6 1-2.9 1-.5 1-.2 1-1.4 1-.3 1 .3 1-3.1 1 5.1 1-2.4 1-.5 1-1.8 1 1 1-.5 1-.2 1-2.3 1 1.5 1-2.5 1 1.9 1-1.1 1 .1 1 .2 1 1.3 1 .3 1.1-1.7 1-1.6 1 3.1 1-3.8 1 .9 1 .3" fill="none" stroke="#0000ff" stroke-width="1.0" stroke-linejoin="round"/>
<path d="M448.9 504.7l1-.1 1 0 1 0 1 0 1 0 1 0 1 0 1.1-.1 1 0 1-.1 1-.2 1-.1 1-.3 1 0 1-.3 1-.1 1-1 1 .3 1-1 1-1.1 1-.4 1-1.1 1-1.4 1-.9 1-3 1-1.7 1-2.6 1-3.2 1-2.6 1-2.9 1-5 1-3 1-3.7 1-4.4 1-6.1 1-2.8 1-4.8 1-2.6 1.1-5 1-1.5 1-6.5 1-1.2 1-4.2 1 .3 1-2.5 1-4.9 1-.1 1-2.6 1-3.5 1-.8 1-.1 1-.8 1-2.3 1-.3 1-1 1-1 1-2.6 1 .7 1-.3 1-3.1 1 2.9 1-.7 1-2.2 1 1.8 1-4.1 1-.6 1-.1 1-.6 1 2.8 1-2.7 1.1-.5 1 .2 1 1.2 1-2.1 1-1 1 .5 1 1 1-2.1 1 1.7 1-1.6 1-.8 1 .6 1 1.7 1-3 1 1.8 1-1.2 1-.6 1-.3 1 .8 1-.4 1-.4 1 .2" fill="none" stroke="#0000ff" stroke-width="1.0" stroke-linejoin="round"/>
<path d="M449.2 504.6l1 0 1 0 1.1 0 1 0 1 0 1-.1 1 0 1 0 1 0 1-.1 1 0 1-.1 1-.4 1 0 1-.5 1-.2 1-.3 1-.8 1-.2 1-.9 1-1 1-.9 1-1.8 1-1.9 1-1.3 1-2.5 1-2.3 1-3.2 1-3.1 1-3.5 1-3.9 1-3.7 1-4.1 1.1-3.6 1-1.8 1-7.3 1-5.1 1-2.2 1-5.5 1-3.2 1-2.8 1-2.6 1-2.7 1-2.4 1-2.7 1-.8 1-2.2 1-3.3 1-1.3 1-2.8 1 .9 1-2.3 1 1.3 1-4.1 1 1.5 1-3.8 1-1.8 1 .1 1 .7 1 .1 1-3 1 1.6 1-2.4 1-.6 1.1-.3 1 1.9 1-2.3 1-.3 1-2.6 1 1.6 1-.2 1 1.3 1-3.4 1-.1 1-.6 1 0 1 1.4 1-2.1 1 2.3 1-1.8 1-1.4 1 .1 1-1.1 1-.3 1 3.1 1-.5 1-2.5 1 .5 1 2.4 1-3 1 1 1 .3" fill="none" stroke="#0000ff" stroke-width="1.0" stroke-linejoin="round"/>
<path d="M450 504.6l1 0 1 0 1 0 1 0 1 0 1.1-.1 1 .1 1-.1 1-.2 1 0 1 0 1-.1 1-.2 1-.3 1-.1 1-.2 1-.5 1-.8 1-.3 1-.9 1-.9 1-1.1 1-1.2 1-1.8 1-2.2 1-1.8 1-2.4 1-2.3 1-4.4 1-2.8 1-4.2 1-3.2 1-4.7 1-6.1 1-1.2 1-5.6 1.1-4.6 1-4.5 1-3.5 1-3.8 1-2.1 1-2.7 1-3 1-2.1 1-3.6 1-.6 1-2.7 1-1.1 1-1.5 1-2.6 1 .4 1-1.8 1-2.5 1 1.4 1-1.2 1-4.7 1-1.7 1 1.1 1 .5 1-.2 1-1 1-1.4 1 .5 1-.8 1-2 1 .3 1 .6 1.1-2.5 1-.4 1-.7 1 2.4 1-1.3 1-.1 1-1.8 1 .1 1 1.2 1-2.1 1 1.5 1-1.7 1-.2 1 .4 1 .2 1 .9 1-2.8 1 2.4 1-3.3 1-.2 1-1.9 1 3.7 1 .6 1-3.5" fill="none" stroke="#0000ff" stroke-width="1.0" stroke-linejoin="round"/>
<path d="M450.4 504.6l1 0 1 0 1 0 1 0 1 0 1 0 1 0 1-.2 1 0 1 0 1-.3 1 .1 1 0 1-.5 1 0 1-.5 1-.2 1-.7 1-.8 1-.9 1 .1 1-2.2 1-1 1-1 1-2.3 1-2.2 1-3.5 1-2.2 1-3.5 1.1-3.8 1-2.4 1-3.6 1-5.2 1-4.2 1-3.4 1-3.9 1-5.9 1-2 1-4 1-4.5 1-4.3 1-1.4 1-2.6 1-1.4 1-4.8 1 .2 1-4 1-.8 1-2.4 1-1.3 1 .2 1-3.7 1 .5 1-2.4 1-.7 1-1.8 1 .2 1-3.4 1 1.3 1 .8 1.1-.9 1-3.6 1 0 1 .2 1 2.3 1-3.3 1 0 1-.7 1 .2 1-1.9 1 1.1 1-.1 1 .4 1-2.8 1 1.9 1 1 1-1.7 1-.3 1-4.2 1 4.5 1 .5 1-1.1 1-1.1 1 .2 1 2.6 1-4.9 1 .2 1 1.8 1-1.2 1-3.2 1 2.9" fill="none" stroke="#0000ff" stroke-width="1.0" stroke-linejoin="round"/>
<path d="M451.2 504.6l1 0 1 0 1 0 1 0 1 .1 1-.1 1-.1 1-.1 1 0 1 0 1-.2 1-.1 1 .1 1-.3 1-.2 1-.4 1-.3 1-.7 1-.7 1-.8 1-1.2 1-.8 1.1-1.7 1-1.3 1-1.6 1-2.2 1-2.4 1-3.2 1-2.9 1-2.7 1-4.5 1-3.8 1-5.9 1-3.3 1-2.5 1-6 1-4.4 1-2.2 1-5.9 1-1.4 1-4.3 1-3.6 1-4.3 1 1.1 1-5.7 1-1.5 1 .3 1-4.1 1 .3 1-2.1 1-1.7 1-2.2 1-.7 1.1 0 1-2.5 1 .9 1-1.3 1-.5 1-1.2 1-.3 1-.9 1-.1 1-1.1 1-.7 1-2 1-1.5 1 1.7 1 .7 1-2.8 1-1.2 1 .9 1 .7 1 .3 1-1.8 1-1.4 1 1.1 1 .7 1-1.2 1 1.1 1-2.1 1 1.5 1 .7 1-3.5 1 0 1.1 1.7 1 3 1-3.5 1-.9 1 1.6 1-2" fill="none" stroke="#0000ff" stroke-width="1.0" stroke-linejoin="round"/>
<path d="M450.3 504.6l1 .1 1-.1 1.1 0 1 0 1 0 1 0 1-.1 1 0 1-.1 1-.1 1 0 1-.1 1-.1 1-.3 1-.3 1-.2 1-.3 1-.4 1-.8 1-.9 1-1 1-1.4 1-.9 1-1.6 1-1.3 1-2.7 1-2.2 1-2.5 1-4.9 1-2.7 1-3.5 1-3.7 1-5 1.1-2.7 1-4.2 1-4.6 1-4 1-5.7 1-1.7 1-5.3 1-4.6 1-.9 1-2.5 1-3.7 1-3.4 1-1.6 1-.8 1-4.5 1 2.4 1-1.5 1-2.8 1 .2 1-2.6 1-2.3 1 1.1 1-1.1 1-2.6 1-1.5 1-.2 1 1.9 1-2.5 1 3.2 1-4.9 1 1 1.1-.9 1-1.2 1 .9 1-2.6 1 .6 1-1.8 1-1.7 1 2.5 1-1.9 1-.5 1 2 1-1.2 1 .4 1 1.5 1-2.2 1 .1 1-2.3 1 2.3 1-.2 1-2.6 1 2 1-.6 1-.8 1 .2 1 2.8 1-4 1 .2" fill="none" stroke="#0000ff" stroke-width="1.0" stroke-linejoin="round"/>
<path d="M451.8 504.6l1 0 1 0 1 0 1 .1 1-.1 1-.1 1 .1 1-.2 1 0 1 0 1.1-.1 1-.2 1 0 1-.4 1 .2 1-.5 1-.6 1-.6 1-.5 1-.8 1-1.1 1-.5 1-1.4 1-2.3 1-1.3 1-2.4 1-2.1 1-3.5 1-1.6 1-4.6 1-2.4 1-5.6 1-2.7 1-5.3 1-2.9 1-5.8 1-5 1-4.1 1-3.4 1-2.4 1-3.5 1-3.2 1.1-1.8 1-1.9 1-5.1 1 0 1-.4 1-5.1 1-1.6 1-.4 1-1.6 1-2.2 1-.6 1 .9 1-1.9 1-3 1-2 1-.1 1 .8 1-1.9 1-.8 1 1.3 1-1.8 1-.7 1 .2 1 1 1-1.9 1 0 1-1.1 1 1.4 1-3.9 1-.2 1 .4 1.1 2.9 1-.9 1-3.6 1 .5 1 1 1-.9 1 .8 1-1.9 1-1.7 1 2.7 1 .6 1-3.8 1-.6 1 1.7 1-2 1 2.8" fill="none" stroke="#0000ff" stroke-width="1.0" stroke-linejoin="round"/>
<path d="M451.4 504.6l1 0 1 0 1 0 1 0 1.1 0 1 0 1-.1 1 .1 1-.2 1-.1 1 0 1-.1 1-.1 1-.4 1-.2 1-.2 1-.4 1-.6 1-.3 1-1.1 1-.6 1-1.1 1-1.5 1-1.8 1-1.5 1-2.3 1-2.4 1-3.5 1-2.4 1-2.7 1-4.9 1-3.6 1-4.4 1-3.4 1-6.6 1.1-1.2 1-5.1 1-4.8 1-3.3 1-2.7 1-4 1-2.7 1-2.2 1-3.6 1-1.7 1-1.3 1-3 1-3.1 1 0 1-.1 1-4.1 1-.4 1-1.2 1-.6 1-2.5 1-.5 1 1.5 1-2.4 1-2.3 1 .9 1-1.5 1 1.1 1-4.4 1 1.5 1 .6 1-3.3 1 .1 1.1 1.1 1-1 1-.8 1 .4 1-2.5 1 .3 1 2.9 1-3.2 1 1 1-.9 1 .9 1-.9 1-.1 1 .7 1-1.3 1-2.8 1 1.2 1 2.4 1-.6 1-1.8 1-1.9 1 1 1 3.4" fill="none" stroke="#0000ff" stroke-width="1.0" stroke-linejoin="round"/>
<path d="M453.3 504.7l1-.1 1 0 1 0 1 0 1 0 1-.1 1 .1 1-.1 1-.1 1 0 1.1-.1 1-.1 1-.2 1-.2 1-.5 1-.3 1-.2 1-.4 1-.3 1-1 1-1.3 1-1 1-1.6 1-1.2 1-1.9 1-2.2 1-2.3 1-2.4 1-3.3 1-4.5 1-2.5 1-5.1 1-3.1 1-4.5 1-2.9 1-5.8 1-4.2 1-4.2 1-2.8 1-4 1-3.9 1.1-1.9 1-1.4 1-3 1-2.4 1-4.3 1-1.5 1-1.5 1-3.7 1 2.3 1-5 1 .9 1-3.1 1 .4 1-.2 1-1.3 1-2.5 1-.6 1 1.1 1-1.9 1-.5 1 .4 1-4.8 1 2.8 1 .7 1 .1 1-1.8 1-2.2 1 1.7 1 .7 1-3.5 1-.4 1 .3 1.1-.6 1-2.4 1-.7 1 1.1 1 .6 1 1 1-1.4 1 .6 1 1.3 1 1.9 1-2.9 1-2.5 1 2.3 1-1.4 1 .3" fill="none" stroke="#0000ff" stroke-width="1.0" stroke-linejoin="round"/>
<path d="M453.6 504.6l1 0 1 0 1 0 1 0 1 .1 1-.1 1-.1 1 0 1-.1 1-.1 1-.1 1-.1 1-.1 1-.3 1-.1 1-.4 1-.4 1-.5 1-.5 1-.8 1-1.6 1-.4 1-1.4 1-1.8 1-1.6 1.1-2.6 1-2.1 1-3.3 1-2.3 1-3.6 1-4.8 1-3.5 1-3.1 1-4.4 1-4.5 1-5.3 1-3.9 1-3.3 1-3.7 1-3.9 1-4 1-2.5 1-3 1-3.2 1-2.3 1-1.8 1-2.7 1 .3 1-1.3 1-1.3 1-3.3 1-1.3 1 0 1-2 1-.8 1-1 1-2.4 1.1 2.6 1-4 1-.9 1 2.1 1-2.9 1 2 1-1.4 1-.5 1-1.4 1-1.8 1-.2 1 1.2 1-.7 1-1.7 1-.3 1 0 1 .7 1 .3 1 .3 1-1.9 1 2 1-1.2 1 .8 1-3.2 1 1.6 1 .4 1-3.7 1 3.2 1-.9 1 .5 1-1.1" fill="none" stroke="#0000ff" stroke-width="1.0" stroke-linejoin="round"/>
<path d="M454.1 504.6l1 0 1 0 1 0 1 0 1 0 1 0 1 0 1-.1 1 0 1-.1 1 0 1-.2 1-.2 1-.3 1-.2 1-.1 1-.7 1-.4 1-.5 1-.9 1-1.4 1-.8 1-1.2 1-1 1-2.1 1-2.9 1-2.6 1-2.5 1-2.8 1.1-4 1-2.9 1-5.2 1-2.9 1-3.5 1-7.4 1-2.1 1-4 1-3.9 1-4.1 1-3.7 1-2.9 1-3.2 1-2.8 1-1 1-2.9 1-2.2 1-3.6 1-1.6 1 0 1-3.8 1 .9 1-4 1 2.8 1-2.1 1-3.1 1-.8 1-2.8 1 1.5 1 .7 1-1.4 1.1-1.7 1 2.1 1-2.4 1-.7 1-1.4 1 .5 1 2 1-3.1 1-3 1 1.9 1 1.7 1-1.2 1-2.5 1 .8 1-2.6 1 2.3 1-2.1 1 .2 1-.3 1-.5 1 2.8 1-.5 1-2.4 1 .3 1 1.8 1-2.6 1-.4" fill="none" stroke="#0000ff" stroke-width="1.0" stroke-linejoin="round"/>
<path d="M453.2 504.7l1-.1 1 0 1 0 1.1 0 1 0 1-.1 1 0 1-.1 1 0 1-.1 1 0 1-.3 1 0 1-.2 1-.5 1 0 1-.5 1-.7 1-.4 1-.6 1-1 1-1.2 1-1.3 1-1.4 1-2.6 1-1.9 1-2.1 1-3 1-3.7 1-3 1-4 1-3.4 1-5.3 1-4.3 1.1-4.2 1-3.2 1-2 1-5.3 1-3.6 1-4.7 1-1.7 1-4.2 1-3 1-1.5 1-4.7 1-3.2 1-.9 1 1 1-2.2 1-2.3 1-1.8 1-1.2 1-.6 1-2.5 1 .8 1-3 1 1.8 1-2.8 1-1.4 1 0 1-1.5 1 .3 1-2.6 1 1 1 .2 1.1-.1 1-1.5 1 1.5 1-3.9 1 1.4 1-.7 1 .2 1-.7 1 1.7 1-2 1-1.4 1 3.9 1-3.3 1-.5 1 1.1 1-2.1 1 .3 1 1.1 1-2.7 1 .7 1 1.6 1 .9 1-2.5" fill="none" stroke="#0000ff" stroke-width="1.0" stroke-linejoin="round"/>
<path d="M454.1 504.7l1-.1 1 0 1 0 1 0 1-.1 1 .1 1 0 1-.1 1 0 1-.3 1 .1 1 0 1-.4 1-.2 1-.1 1-.3 1-.3 1-.6 1-.4 1-.9 1-1 1-1.3 1-1 1-2.1 1.1-1.2 1-2.1 1-2.5 1-3.9 1-2.3 1-3.4 1-3.4 1-5.5 1-3.5 1-3.8 1-3.1 1-5.9 1-2.9 1-4.8 1-2.1 1-5.1 1-5.1 1-1.7 1-2.2 1-1.5 1-2.9 1-3.2 1-3 1-.4 1-1.8 1 .1 1-1.8 1-4 1-2.2 1 1.1 1-.3 1.1-2.4 1-.3 1 1.2 1-1.4 1-3.6 1 1.8 1-.9 1-1 1 .3 1-.5 1 1.8 1-3.2 1-1.6 1-.2 1 1.1 1 1.1 1-2 1-.4 1-.6 1-1.2 1 .3 1-1.8 1 2.1 1-.6 1-.6 1-1.5 1 .5 1-.6 1 1 1-1 1 .7 1.1 .5" fill="none" stroke="#0000ff" stroke-width="1.0" stroke-linejoin="round"/>
<path d="M455.3 504.6l1 0 1 0 1 0 1 0 1 0 1-.1 1 .1 1.1-.1 1-.1 1 0 1-.1 1-.1 1-.1 1-.1 1-.3 1-.5 1-.6 1-.2 1-1.2 1-.1 1-.9 1-1.6 1-.8 1-2.1 1-1.1 1-3 1-2.6 1-2.7 1-2.7 1-4.1 1-1.7 1-5.6 1-2.6 1-5.7 1-4.3 1-4.6 1-4.3 1-3 1-3.1 1.1-4.6 1-4.2 1-1.9 1-3.8 1-4.6 1 .7 1-4.2 1-.7 1-1 1-2.2 1-1.3 1 .6 1-1.9 1-.6 1-2.6 1-1 1 .9 1-3.7 1 .3 1-1.1 1-.5 1-.3 1-1.2 1 .2 1-2.6 1 1.1 1-2.4 1 2.1 1-.5 1-1.9 1-.8 1.1 .2 1 .4 1-2.9 1 .3 1 2.1 1-1.7 1-1.6 1-1.5 1 2 1-1.9 1 2.1 1-.4 1 2.1 1-4 1 2.2 1-2.5" fill="none" stroke="#0000ff" stroke-width="1.0" stroke-linejoin="round"/>
<path d="M454.3 504.6l1 0 1 .1 1-.1 1 0 1 .1 1-.2 1 0 1 0 1-.1 1 0 1 0 1-.3 1-.1 1-.2 1.1-.4 1-.3 1-.3 1-.6 1-.4 1-.6 1-1.1 1-1.1 1-1.7 1-1.6 1-1.5 1-2.1 1-2.7 1-2.5 1-3.6 1-3.9 1-2.8 1-4.5 1-5 1-2.4 1-4.6 1-3.9 1-5.3 1-2.3 1-4.7 1-3.1 1-4.8 1-2.7 1-1.1 1-3.9 1-2.3 1.1-.5 1-2.3 1-2.8 1 .2 1-5.3 1 .2 1-1.8 1 1.1 1-1 1-3.4 1-.2 1 0 1-1.3 1-1.1 1 .2 1 .4 1-2.8 1-2 1 .6 1-.5 1-.9 1 .8 1-.4 1-.2 1-.9 1-.7 1-1.9 1 .5 1-.9 1 1.1 1-.8 1.1-.2 1 .4 1-1.2 1 1.4 1-.3 1-2.6 1 2.5 1-2.2 1-.6 1 .3 1-1.3" fill="none" stroke="#0000ff" stroke-width="1.0" stroke-linejoin="round"/>
<path d="M455.5 504.7l1-.1 1 0 1 0 1 0 1 0 1 0 1-.1 1.1 0 1 0 1-.1 1-.1 1-.2 1-.1 1-.1 1-.2 1-.7 1-.3 1-.6 1-.5 1-.8 1-.7 1-1.3 1-.8 1-2.2 1-2 1-2.2 1-2.3 1-2.6 1-3.5 1-3.7 1-4 1-2.9 1-4.6 1-4.6 1-3.8 1-3.8 1-2.7 1-4.4 1.1-6.1 1-3.1 1-4.8 1-3 1-2.7 1 .3 1-3.4 1-3.6 1-1.1 1-1.6 1-1.8 1 .8 1-5.1 1 .3 1-.4 1-.8 1-4.1 1 1.7 1-2.5 1-.1 1-1.9 1 2 1 2 1-3 1-2.2 1-2.3 1 2.6 1-.1 1-3.2 1 1.9 1-3.6 1.1 .2 1 1.3 1-2.2 1 2.2 1 .5 1-1.9 1 .2 1 1 1-1.5 1 .7 1-.1 1-3.2 1 3.7 1-1.4 1-1.5 1 .7 1-.8" fill="none" stroke="#0000ff" stroke-width="1.0" stroke-linejoin="round"/>
<path d="M455.9 504.6l1 0 1 0 1 0 1 0 1 0 1 0 1 0 1-.2 1 0 1 0 1-.1 1-.1 1 0 1-.3 1-.5 1-.2 1-.5 1-.3 1-.4 1-1.1 1-.7 1-1.3 1-.7 1-2.2 1-1.8 1.1-2 1-2.3 1-2.9 1-3.5 1-3.4 1-3.4 1-3.8 1-4.8 1-4.4 1-4 1-3.7 1-5 1-4.6 1-3.2 1-3.7 1-2.2 1-4.1 1-2.7 1-.2 1-3.8 1-3.5 1 .3 1-3.5 1-2.1 1 .1 1-3.7 1 .2 1-.5 1-.9 1-2.4 1-1 1.1-.4 1 .7 1-4.3 1 2.3 1-1.3 1 .6 1-3.5 1 2.1 1-2.9 1 .9 1-1.3 1-2.9 1 2.4 1 .1 1 .2 1-2.1 1-1 1 1.9 1-1.6 1 1.4 1 .2 1-2.3 1-.1 1-.9 1-1.8 1 2.2 1 .7 1 .2 1-1.5" fill="none" stroke="#0000ff" stroke-width="1.0" stroke-linejoin="round"/>
<path d="M457.2 504.6l1.1 0 1 0 1 0 1 0 1 0 1 0 1-.1 1 0 1-.1 1 0 1-.2 1 0 1-.2 1-.4 1-.1 1-.1 1-.6 1-.5 1-.6 1-.7 1-.8 1-1.3 1-.8 1-2.3 1-1.9 1-2 1-2.4 1-2.1 1-2.6 1-4.9 1-3.6 1.1-3.4 1-4.6 1-3.5 1-5.7 1-2.8 1-6.8 1-1.7 1-3.7 1-1.8 1-6.5 1-1.4 1-2.8 1-4.2 1-1.1 1-3.2 1-2.3 1-2.2 1-.3 1-2.4 1-2.5 1 1.3 1-3.4 1 1.6 1-1.6 1-2.1 1-1.8 1-.1 1-1.3 1 .4 1-.7 1 2.8 1.1-6 1 1.2 1 .8 1 .1 1-.1 1-3.3 1 1.7 1-4.8 1 2.8 1 1 1-.6 1-2.9 1 .4 1-1.9 1 1.5 1-1.1 1 1.8 1-1.5 1 1.4 1-1.1 1-.4 1 2.4" fill="none" stroke="#0000ff" stroke-width="1.0" stroke-linejoin="round"/>
<path d="M457.2 504.6l1.1 .1 1-.1 1 0 1 0 1-.1 1 .1 1-.2 1 0 1 0 1 .1 1-.2 1-.1 1-.1 1-.4 1 0 1-.4 1-.6 1-.4 1-.6 1-.6 1-.7 1-1.6 1-1.3 1-.9 1-1.3 1-2.6 1-3.2 1-3.1 1-2.5 1-3.6 1-4.4 1.1-2.5 1-3.2 1-6.7 1-4.3 1-4 1-4.9 1-2.3 1-5.9 1-1.5 1-3.5 1-2.7 1-5 1-.9 1-2.1 1-1.5 1-2.5 1-2.8 1 .2 1-1.2 1-1.4 1-3.7 1 .3 1-2.8 1-.2 1 .2 1-3.5 1 4.2 1-2.7 1-3.1 1-.4 1-.1 1.1-.6 1-1.9 1 .8 1-2.3 1 .7 1 2.5 1-2.7 1-.8 1 2 1-1.9 1 0 1-1.8 1 1.8 1-2.1 1 1.3 1-.6 1 1.1 1-1.1 1-1.5 1-1.6 1 .8 1-.7" fill="none" stroke="#0000ff" stroke-width="1.0" stroke-linejoin="round"/>
<path d="M457.9 504.6l1 0 1 0 1 0 1 0 1 0 1-.1 1 0 1 0 1 0 1-.1 1-.2 1 0 1-.2 1-.2 1 0 1-.7 1-.2 1-.2 1-.7 1-1.2 1.1-.9 1-.8 1-1.7 1-1.4 1-2.4 1-1.4 1-3.5 1-2 1-2.8 1-4.2 1-4.3 1-3.8 1-4.6 1-1.5 1-7.2 1-3.8 1-2.8 1-4.3 1-2.9 1-3.3 1-4.1 1-3.5 1-3.3 1-2.1 1-1.1 1-2.5 1-1.9 1-4.4 1-.6 1-1.4 1-1.3 1-1.9 1.1 .9 1-.7 1-.1 1-3.7 1-.4 1-.6 1-.9 1-1.8 1 1.3 1-4.1 1 1.3 1-2.3 1 2.6 1-3 1-.2 1 1 1-1.7 1 1.2 1-1.2 1 2.6 1-4.4 1 .2 1 1.5 1-.9 1 .1 1-1.2 1 1.4 1-1 1 1 1-3.7 1 1.9" fill="none" stroke="#0000ff" stroke-width="1.0" stroke-linejoin="round"/>
<path d="M457.2 504.6l1 0 1 0 1 0 1 0 1 0 1-.1 1 .1 1-.2 1 .1 1-.2 1 0 1-.2 1-.2 1-.3 1 0 1-.4 1-.2 1.1-.6 1-.1 1-1.3 1-.5 1-1.5 1-1.4 1-1.4 1-2.4 1-2.2 1-1.4 1-3.7 1-3.6 1-2.5 1-4.6 1-3.3 1-3.3 1-4 1-3.8 1-4.8 1-4.6 1-4.2 1-4 1-3.9 1-.9 1-5.4 1-.9 1-4.4 1-.9 1-6.6 1 1.4 1-2.7 1.1 .9 1-1.6 1-3.8 1-.7 1 0 1-1.8 1-1.3 1 .1 1-3.6 1 2.7 1-2.2 1-4.8 1 1.7 1 .4 1 2.3 1-3.4 1-2.4 1 3.1 1-1.7 1-.9 1 .9 1-2.2 1 0 1 1 1-1 1 .3 1-2 1 2.3 1-4.2 1-.2 1 2.1 1.1-1.2 1 .4 1-.4 1-.5 1-1.3" fill="none" stroke="#0000ff" stroke-width="1.0" stroke-linejoin="round"/>
<path d="M458 504.7l1-.1 1 .1 1 0 1-.1 1 0 1-.1 1 0 1 0 1-.1 1-.1 1 0 1-.2 1-.2 1-.3 1 0 1.1 0 1-.8 1-.4 1-.9 1-.6 1-1 1-1.4 1-1.2 1-1.5 1-1.5 1-2.5 1-2.2 1-2.2 1-3.3 1-4.2 1-4.6 1-2.9 1-3.9 1-3.5 1-4.9 1-2 1-6.9 1-3.2 1-5.3 1-3.6 1-2.6 1-2.5 1-2.3 1-6.6 1 2.3 1-1.7 1.1-2.1 1-2.3 1-2.8 1-.7 1-.5 1-4 1 .8 1-1.3 1-1.8 1 1.4 1-3.9 1-1.2 1 .3 1-1.4 1 1.7 1-4.3 1-.2 1 1.4 1 .1 1-3 1 2.7 1-4.5 1 3.2 1-2.8 1 .2 1 2.5 1-2.7 1-1.1 1 .8 1 1.8 1-2.6 1.1-1.3 1 1 1-2.1 1 .5 1-.1 1 1.4" fill="none" stroke="#0000ff" stroke-width="1.0" stroke-linejoin="round"/>
<path d="M457.9 504.6l1 .1 1 0 1-.1 1 0 1 0 1 0 1 0 1-.1 1-.1 1-.1 1-.1 1 .1 1-.3 1-.2 1-.2 1-.2 1-.2 1-.9 1-.4 1-1.3 1-.6 1-1.3 1-1.3 1-1 1-2.2 1-2.2 1.1-2.5 1-3 1-3.1 1-3.7 1-3.6 1-3.9 1-3.9 1-5.6 1-2.7 1-4.4 1-3.8 1-5.5 1-3.7 1-1.8 1-4.8 1-1.8 1-4 1-3.1 1-2.6 1-1.2 1-1.8 1-2.6 1 1.3 1-3.1 1-2.4 1 1.5 1-2 1-3 1-1.3 1 0 1 .2 1.1-3.4 1 2.3 1-2.5 1 .8 1-1.9 1 .2 1-.4 1 .3 1-3 1 2.7 1-4.3 1 1.5 1 .1 1-1.2 1 .7 1-3.5 1 1.7 1 1 1-1.6 1-1.6 1 1.3 1-.2 1-1.7 1 2.6 1-2.5 1-.8" fill="none" stroke="#0000ff" stroke-width="1.0" stroke-linejoin="round"/>
<path d="M458.6 504.6l1 0 1 0 1 0 1 0 1.1 0 1 0 1-.1 1 0 1 0 1-.1 1-.3 1 0 1 0 1-.2 1-.3 1-.3 1-.2 1-.8 1-.7 1-.2 1-1.2 1-1.3 1-1.5 1-.8 1-2.6 1-2.4 1-1.5 1-4.2 1-2.4 1-3 1-4.2 1-4.1 1-3.5 1-5.4 1-3.5 1.1-3.5 1-5.8 1-1.8 1-5.3 1-3.5 1-3.6 1-2 1-3.8 1-1.8 1-1.2 1-2.1 1-5 1 1.4 1-3.7 1-.6 1-1.6 1-1.1 1-2.2 1 .2 1-.5 1-2.8 1-.2 1 .1 1-.4 1-1.7 1-.7 1-.4 1-1.6 1 .3 1-1.3 1-.6 1.1-3 1 .3 1 2.2 1 .1 1-.8 1-.8 1-.8 1 .7 1-1.5 1 .2 1 1.6 1-3.8 1 .7 1 .2 1-2.3 1 .7 1 2.6" fill="none" stroke="#0000ff" stroke-width="1.0" stroke-linejoin="round"/>
<path d="M459.3 504.6l1 .1 1-.1 1 .1 1-.1 1 0 1 0 1 0 1-.1 1-.1 1-.1 1-.2 1 .1 1-.1 1-.4 1-.1 1-.6 1-.4 1-.2 1-.5 1-.7 1-.8 1.1-1.7 1-1.2 1-1.2 1-2.6 1-1.9 1-2.3 1-2.9 1-2.6 1-3.6 1-4.3 1-5.2 1-1.9 1-4.1 1-4.6 1-4.4 1-4.1 1-3.3 1-5.5 1-3.1 1-4.2 1-2.2 1-3.4 1-2.6 1-3.5 1-.1 1-.8 1-6.2 1 3.1 1-3 1-2.1 1-.2 1.1-1.8 1-.9 1 .7 1-2.4 1-.6 1-1.6 1-.7 1-1.6 1 .2 1-1.4 1 1.7 1-2.2 1 .6 1 .2 1-.8 1-2.5 1 2.4 1-4.8 1 3.8 1-5.3 1 1.7 1 .7 1-1.1 1-2.1 1 .5 1 1.9 1-2.7 1 2.7 1 .4 1 .1" fill="none" stroke="#0000ff" stroke-width="1.0" stroke-linejoin="round"/>
<path d="M459.5 504.6l1 0 1 .1 1-.1 1 0 1 0 1 0 1-.1 1 0 1-.1 1-.2 1 .2 1-.3 1 0 1-.4 1-.2 1 0 1-.6 1-.5 1-1 1-.2 1.1-1.3 1-.8 1-1.8 1-1.2 1-1.8 1-3 1-1.7 1-3.4 1-2 1-3.9 1-3.9 1-1.8 1-5.6 1-5.1 1-3.3 1-4.8 1-3.2 1-6.2 1-1 1-5.9 1-3.2 1-3.4 1-2.3 1-.2 1-4.1 1-3.5 1-1 1-1.3 1-.8 1-3 1-.8 1.1 1.9 1-4.8 1-.8 1-2.5 1 1.5 1-2.5 1 1.9 1-1.5 1-1.2 1-2.3 1-.5 1-.6 1 0 1-1.1 1-.7 1 .3 1-.6 1-.9 1 1.2 1-.2 1-2.4 1 3.1 1-2.6 1 .8 1 .5 1-4.4 1 2.2 1 .2 1 .2 1-.8 1 .1" fill="none" stroke="#0000ff" stroke-width="1.0" stroke-linejoin="round"/>
<path d="M458.8 504.6l1 0 1 0 1 0 1 0 1 0 1 0 1-.1 1 0 1-.1 1 0 1-.1 1-.1 1-.2 1-.2 1.1-.4 1-.1 1-.3 1-.8 1-.4 1-.6 1-.5 1-1.8 1-1.4 1-2 1-1.8 1-2.5 1-2.6 1-1.6 1-3.5 1-3.2 1-4.9 1-4.3 1-4 1-1.7 1-4.6 1-6.3 1-3 1-4 1-4.9 1-3.3 1-1.6 1-3.3 1-2.5 1-3.1 1-2.6 1.1-1.7 1-2.6 1 .2 1-3.2 1-1.2 1-2.1 1-2 1-.4 1-1.5 1-1.6 1 1 1 .5 1-2.8 1-1.3 1-1.5 1-1.6 1 1.9 1-.6 1-2.3 1 .6 1-1.7 1 2.3 1-2 1 0 1 1.1 1-5.2 1 2.9 1-.5 1-1.1 1 .1 1 1.3 1.1-2.7 1-.2 1 2.7 1-1.1 1-.9 1 .2" fill="none" stroke="#0000ff" stroke-width="1.0" stroke-linejoin="round"/>
<path d="M460.2 504.6l1 0 1 0 1 0 1 0 1 0 1 0 1-.1 1 0 1 0 1-.1 1.1-.1 1-.1 1-.1 1-.2 1-.4 1-.4 1 0 1-.8 1-.5 1-.9 1-.8 1-.7 1-1.3 1-2.6 1-1.9 1-3.1 1-.7 1-2.3 1-3.8 1-3.7 1-3 1-5.1 1-3 1-3.7 1-4.3 1-4.6 1-5.3 1-3.9 1-4.4 1-.9 1-3.8 1.1-4.3 1-2.8 1-2.2 1-3.3 1-.8 1-2 1-1.8 1-2.1 1-4.4 1 1.2 1-2.7 1-1.5 1 3.5 1-4.3 1-.6 1-1 1-1.5 1 2.2 1-4.9 1 2.1 1-1.9 1 1.6 1-1 1-1.5 1-2.4 1 2.3 1-.3 1-.8 1-1.5 1 .7 1-2.1 1 .9 1.1-.1 1-1.1 1-1.2 1 .6 1-1 1-.7 1 2.6 1-1.7" fill="none" stroke="#0000ff" stroke-width="1.0" stroke-linejoin="round"/>
<path d="M460.2 504.6l1 0 1 0 1 0 1 0 1 0 1-.1 1.1 0 1 .1 1-.2 1 .1 1-.2 1-.1 1-.2 1 0 1-.5 1-.3 1-.5 1-.4 1-.7 1-.6 1-1.3 1-.6 1-1.4 1-1.6 1-2.2 1-1.4 1-2.1 1-3.8 1-3.5 1-2.6 1-4.2 1-3.7 1-3.7 1-5.8 1-2.6 1-5.8 1-4.4 1.1-3.3 1-2.1 1-5.5 1-2.2 1-4.5 1-1.1 1-2.9 1-1.4 1-3.1 1-2.2 1-3.9 1 .9 1-1 1-2.1 1-1.3 1-.7 1-.8 1-3.1 1 0 1-.3 1-1 1-2.2 1-2 1 2.1 1-.2 1 .6 1-2.1 1-2.1 1 1.1 1-1.2 1-1.1 1-1.4 1.1-.9 1 1 1 0 1 .3 1-.4 1 0 1 1.8 1-2.8 1 1.5 1-2.9 1-.2 1 .1" fill="none" stroke="#0000ff" stroke-width="1.0" stroke-linejoin="round"/>
<path d="M532 393l1.3-1.4 1.2 1.2 1.3-.5 1.2-.2 1.3 .5 1.2-.6 1.3 .3 1.2 .5 1.3-.3 1.2-.7 1.3 .6 1.2 .2 1.3-.2 1.3-.9 1.2 .9 1.3-.2 1.2-1.4 1.3 .7 1.2 .6 1.3-.8 1.2 .7 1.3-.1 1.2 0 1.3-.1 1.3-.7 1.2 .4 1.3-.7 1.2-.5 1.3 .4 1.2 .7 1.3-1.7 1.2-.2 1.3 1.4 1.2 .6 1.3-.1 1.2-.5 1.3-.4 1.3-.9 1.2 1.2 1.3-.3 1.2 .1 1.3-.7 1.2 1.3 1.3-.8 1.2-.9 1.3 1 1.2 0 1.3-.4 1.2 .3 1.3 .9 1.3-1.3 0 7.1-1.3 .1-1.3-.1-1.2 0-1.3 .9-1.2-.3-1.3-.6-1.2 .1-1.3 .1-1.2-.1-1.3 .1-1.2-.2-1.3 .4-1.2 .9-1.3-.8-1.3 .8-1.2-.9-1.3 .1-1.2 1.1-1.3-1-1.2-.3-1.3 .2-1.2 .6-1.3-.4-1.2-.2-1.3 1.8-1.2-1.5-1.3 .6-1.3 .6-1.2-.7-1.3-.2-1.2 .8-1.3-.1-1.2-.5-1.3 .3-1.2-.8-1.3 1.6-1.2 0-1.3-1.1-1.3 .8-1.2 .5-1.3-.7-1.2 .8-1.3 .5-1.2-1.8-1.3 .9-1.2-.6-1.3 .4-1.2 0-1.3 .4-1.2-.7-1.3 .1z" fill="#0000ff"/>
<circle cx="594.70" cy="504.60" r="5.35" fill="#c8c8c8" stroke="#000" stroke-width="1.15"/>
<circle cx="594.70" cy="390.50" r="5.35" fill="#b00000" stroke="#000" stroke-width="1.15"/>
<circle cx="594.70" cy="392.50" r="5.35" fill="#b00000" stroke="#000" stroke-width="1.15"/>
<circle cx="594.70" cy="398.50" r="5.35" fill="#200000" stroke="#000" stroke-width="1.15"/>
<circle cx="594.70" cy="396.40" r="5.35" fill="#ff0000" stroke="#000" stroke-width="1.15"/>
</g>
<path d="M366.6 379.40V509.40H603.5V379.40" fill="none" stroke="#111" stroke-width="1.2"/>
<line x1="366.00" y1="380.00" x2="604.10" y2="380.00" stroke="#585858" stroke-width="2"/>
<line x1="406.60" y1="509.4" x2="406.60" y2="516.00" stroke="#000" stroke-width="1"/>
<text x="406.60" y="532.60" font-size="17.6" text-anchor="middle">50</text>
<line x1="469.30" y1="509.4" x2="469.30" y2="516.00" stroke="#000" stroke-width="1"/>
<text x="469.30" y="532.60" font-size="17.6" text-anchor="middle">100</text>
<line x1="532.00" y1="509.4" x2="532.00" y2="516.00" stroke="#000" stroke-width="1"/>
<text x="532.00" y="532.60" font-size="17.6" text-anchor="middle">150</text>
<line x1="594.70" y1="509.4" x2="594.70" y2="516.00" stroke="#000" stroke-width="1"/>
<text x="594.70" y="532.60" font-size="17.6" text-anchor="middle">200</text>
<line x1="359.90" y1="504.60" x2="366.6" y2="504.60" stroke="#000" stroke-width="1"/>
<text transform="translate(351.80,504.60) rotate(-90)" font-size="17.6" text-anchor="middle">0</text>
<line x1="359.90" y1="481.56" x2="366.6" y2="481.56" stroke="#000" stroke-width="1"/>
<line x1="359.90" y1="458.52" x2="366.6" y2="458.52" stroke="#000" stroke-width="1"/>
<text transform="translate(351.80,458.52) rotate(-90)" font-size="17.6" text-anchor="middle">10000</text>
<line x1="359.90" y1="435.48" x2="366.6" y2="435.48" stroke="#000" stroke-width="1"/>
<line x1="359.90" y1="412.44" x2="366.6" y2="412.44" stroke="#000" stroke-width="1"/>
<line x1="359.90" y1="389.40" x2="366.6" y2="389.40" stroke="#000" stroke-width="1"/>
<text transform="translate(351.80,389.40) rotate(-90)" font-size="17.6" text-anchor="middle">25000</text>
<text x="368.10" y="397.00" font-size="21.2">F</text>
<rect x="76.45" y="563.1" width="237.00" height="129.30" fill="#bebebe"/>
<g clip-path="url(#cp03)">
<line x1="141.58" y1="563.1" x2="141.58" y2="692.4" stroke="#7cd2d2" stroke-width="2.1"/>
<path d="M66.3 593.8l.7-.3 .6 0 .6-1.4 .6 2 .7-.7 .6 .1 .6-.3 .7-.2 .6-1.3 .6 2.1 .6-.3 .7 0 .6-.1 .6 .1 .6 .3 .7-.8 .6 .2 .6 .4 .7-.2 .6-.5 .6 .3 .6 .8 .7 0 .6-1.2 .6 .1 .6-1 .7 1.7 .6-.1 .6 0 .7 0 .6 .2 .6-.5 .6 .3 .7-.1 .6 .7 .6-.9 .6 .1 .7-.5 .6 .7 .6-.5 .6 .8 .7-1.6 .6 1.7 .6-.1 .7-1 .6 0 .6 .7 .6-1.3 .7 .1 .6 1 .6-1.8 .6 0 .7 1.9 .6-1 .6 .7 .7-.1 .6-1 .6 1.9 .6-1.4 .7 1 .6-.9 .6 .6 .6 .2 .7-.5 .6 .9 .6 0 .6-.8 .7 .5 .6-.4 .6 .8 .7-.5 .6 .3 .6-.9 .6 1.2 .7-.9 .6 .2 .6 .7 .6-.9 .7 .4 .6-.2 .6 9.7 .7 10.9 .6 8.1 .6 10.6 .6 9 .7 11.3 .6 1.4 .6 3.2 .6 3 .7 2.6 .6 0 .6 1.8 .7 .6 .6 1 .6 .4 .6 0 .7 .6 .6-1.9 .6 .6 .6 .7 .7 .6 .6 0 .6-3.7 .6 3.3 .7-.7 .6 .9 .6 .3 .7-.4 .6 .2 .6-.3 .6 .2 .7 .1 .6 .1 .6-.2 .6-1.2 .7 .6 .6 .4 .6 0 .7 .5 .6-.3 .6-.3 .6 .7 .7-.3 .6-1.6 .6 .8 .6-.5 .7 1.2 .6-.1 .6-.2 .6 .6 .7-.7 .6 .3 .6 .6 .7-.7 .6 .2 .6 .4 .6-.7 .7 .5 .6-.3 .6-.7 .6 .2 .7 .8 .6-1.2 .6 1.3 .7-.1 .6-.7 .6-.1 .6 .5 .7 .1 .6-.4 .6-.7 .6 1.7 .7-.5 .6 .2 .6-2 .7 1.4 .6 .2 .6-.4 .6-.6 .7 .5 .6 .1 .6-.8 .6 1.4 .7-.8 0 4.8-.7 1.6-.6-1.6-.6 0-.6 .2-.7 2.2-.6-3.1-.6 .5-.6 .5-.7 1.2-.6-1.4-.6-.4-.7 1.7-.6-1.8-.6-.1-.6 .1-.7 1-.6-1.5-.6 .2-.6 .7-.7-.1-.6 .5-.6-.5-.7 .3-.6 .5-.6 .3-.6-.9-.7-.5-.6 .2-.6-.7-.6 0-.7 1-.6 .2-.6-.9-.7 0-.6-.2-.6 .8-.6-.2-.7 .1-.6-.4-.6 .1-.6 .5-.7-.8-.6 .8-.6-.3-.6-.9-.7 .5-.6-.1-.6-.2-.7 2.4-.6-1.7-.6 .1-.6 0-.7 .2-.6-1-.6 1-.6 .3-.7-.9-.6-.6-.6 .8-.7 .4-.6-1-.6 .2-.6-.1-.7-.8-.6 .6-.6-.8-.6-.5-.7-.4-.6-.2-.6-1.2-.6-.4-.7-2-.6 .2-.6-2.8-.7-5.2-.6-3.3-.6-5.7-.6-8.2-.7-7.5-.6-6.7-.6-7.6-.6-7.7-.7-7-.6 .1-.6 .3-.7 0-.6-.2-.6 .1-.6-.4-.7 .4-.6 1-.6 1.3-.6-2.5-.7-.3-.6 2-.6-1.6-.7-.3-.6 0-.6 .8-.6-1.2-.7 .7-.6-.1-.6 .4-.6 .9-.7-1.5-.6-.1-.6 .1-.6 .1-.7 .9-.6-.7-.6 .5-.7-1-.6 1.3-.6 .3-.6-1.6-.7 0-.6 .3-.6 .3-.6 .2-.7-.7-.6 .6-.6-.3-.7 0-.6 .2-.6 .3-.6-.6-.7 .7-.6-.8-.6 .8-.6-.2-.7 .1-.6-.5-.6 .2-.6-.5-.7 0-.6 .6-.6 0-.7 0-.6-.2-.6 .3-.6-.6-.7 1.3-.6 .4-.6-1.1-.6-.3-.7-.1-.6 0-.6 1.5-.7-1.5-.6 0-.6 .9-.6-1.6-.7 .8-.6 .1-.6-.4-.6 .7-.7 .5-.6-.3-.6-1.3-.7 1.1-.6 .3-.6 .7-.6-1.3-.7 1z" fill="#0000ff"/>
<path d="M152.5 669l.8-.5 .7 1.8 .8-2.4 .7-2.7 .8-3.7 .8-4.4 .7-1.8 .8-4.2 .7-1.5 .8-4.6 .7-1.8 .8-4.6 .7-3.5 .8-4.2 .7-3.4 .8-2.9 .7-2.9 .8-4.9 .7-1.5 .8-.3 .7-4.4 .8-1 .7-1.2 .8-1.6 .7 2.3 .8-1.9 .8-.2 .7 1.2 .8 .2 .7-4.1 .8 1.7 .7-.8 .8-.6 .7-.2 .8-.8 .7 1.5 .8-1.3 .7-.5 .8 .8 .7-.6 .8-.6 .7-.3" fill="none" stroke="#0000ff" stroke-width="1.0" stroke-linejoin="round"/>
<path d="M153.5 667.6l.7 .5 .8-.8 .7 0 .8-2.6 .8-5.6 .7-1 .8-2.7 .7-4.1 .8-4.9 .7-1.4 .8-5.9 .7-4.4 .8-3.6 .7-2.6 .8-2.6 .7-3.3 .8-4.5 .7-4.8 .8-2.4 .7-3 .8-.5 .7-2.3 .8 1.5 .7 .1 .8-1.4 .8 .3 .7-1.9 .8-1 .7 .6 .8 1.7 .7-.4 .8-1.9 .7 1.6 .8-1.9 .7 1.8 .8-1.3 .7-1.2 .8 1.3 .7-1.9 .8-.3" fill="none" stroke="#0000ff" stroke-width="1.0" stroke-linejoin="round"/>
<path d="M152.5 668.4l.8-.4 .7 2.1 .8-3.3 .7-3 .8-.7 .7-2.9 .8-4.4 .7-5.7 .8-2.2 .7-2.2 .8-4.2 .7-1.9 .8-6.8 .7-1.3 .8-4.9 .7-1.2 .8-4.8 .7-1.8 .8-4.7 .7-3.4 .8-1.4 .8-.6 .7-1.5 .8 1.5 .7-.7 .8-2 .7-2.2 .8 .3 .7-1.3 .8 1.8 .7-1.8 .8-.3 .7-1.4 .8-2.2 .7 1 .8-.7 .7 1.3 .8-.6 .7-1.3 .8 .2 .7 2 .8-3" fill="none" stroke="#0000ff" stroke-width="1.0" stroke-linejoin="round"/>
<path d="M152.9 668l.8 1.1 .7 1.3 .8-5.1 .7-.6 .8-2.8 .7-3.2 .8-3.3 .7-3.5 .8-1.9 .7-5.1 .8-3.2 .7-3.4 .8-3.4 .7-3.7 .8-2.2 .8-4.4 .7-2.9 .8-3.3 .7-3.8 .8-2.4 .7-1.6 .8 .5 .7-1.8 .8-1.1 .7 .8 .8-.3 .7-3 .8 3.3 .7-2.3 .8-.6 .7 .9 .8-1.4 .7-1.1 .8 2.8 .7-3.9 .8 .8 .8 .8 .7-2.3 .8 .9 .7 .3 .8 2.1" fill="none" stroke="#0000ff" stroke-width="1.0" stroke-linejoin="round"/>
<path d="M153.1 668.6l.8-1.4 .7 1.7 .8-1.6 .8-2.6 .7-2.4 .8-3.5 .7-4.2 .8-3.8 .7-5.3 .8-2.8 .7-3.6 .8-4.6 .7-3.4 .8-4.8 .7-1.2 .8-3 .7-6.3 .8-2.5 .7-3.8 .8-1.2 .7-2 .8-.7 .7-.5 .8 .1 .8-1.4 .7 1.6 .8-1.7 .7 1.2 .8-.6 .7 .9 .8-1.3 .7 1 .8-2.2 .7 1.6 .8-1 .7 .3 .8-.2 .7 .9 .8-3.3 .7 2.5 .8-2" fill="none" stroke="#0000ff" stroke-width="1.0" stroke-linejoin="round"/>
<path d="M154.1 666.7l.8 3.6 .8-3.2 .7 .3 .8-3.3 .7-4.3 .8-1.4 .7-2.1 .8-4.3 .7-2.2 .8-5 .7-3.1 .8-4 .7-2.8 .8-1.8 .7-5.1 .8-3.5 .7-4.1 .8-3.2 .7-.4 .8-5.4 .7-1.3 .8 0 .8-1.2 .7 1.8 .8-5.5 .7 2.3 .8-.2 .7-2.6 .8 0 .7 .8 .8 .8 .7-3.2 .8-1.1 .7 2.5 .8 .3 .7-2.3 .8-2.3 .7 3.7 .8-2" fill="none" stroke="#0000ff" stroke-width="1.0" stroke-linejoin="round"/>
<path d="M154.3 668l.8 2.1 .7 0 .8-5.3 .7-1.5 .8-.1 .7-5.7 .8-4.6 .7-2.1 .8-3.9 .8-3.8 .7-4.3 .8-3.7 .7-4 .8-3 .7-5 .8-3 .7-3.3 .8-1.7 .7-4.1 .8-3.3 .7-.5 .8-.5 .7 .5 .8-1 .7 1.2 .8-.8 .7-1.7 .8-.7 .7 1.3 .8-.6 .8-.8 .7-1.7 .8-.5 .7 2.2 .8 .4 .7-.1 .8-2.4 .7 2.5 .8-1.8" fill="none" stroke="#0000ff" stroke-width="1.0" stroke-linejoin="round"/>
<path d="M154.3 667.8l.7-1.6 .8 1.3 .7-2.3 .8-.4 .7-3.5 .8-2.4 .7-4 .8-4.8 .7-2.6 .8-4.6 .7-2.8 .8-4.2 .7-5.2 .8-2.8 .8-3.6 .7-4 .8-2.1 .7-2.4 .8-5.3 .7-2.8 .8-3.3 .7 1.9 .8-.8 .7-2.2 .8 2.3 .7 0 .8-1.7 .7 .1 .8-.9 .7 1.7 .8-2.7 .7 1.1 .8 2.3 .8-2.2 .7 .3 .8-.8 .7-1.3 .8 1.1 .7 .4" fill="none" stroke="#0000ff" stroke-width="1.0" stroke-linejoin="round"/>
<path d="M154 669.7l.7-2.9 .8 .6 .7-2 .8 .2 .7-3.5 .8-3 .7-5.1 .8-3.8 .7-2.3 .8-3.6 .7-4.8 .8-2.7 .7-3.1 .8-4.1 .7-5 .8-4.7 .7-1.3 .8-2.7 .7-3.4 .8-2.9 .8-1.5 .7 1.1 .8-1.3 .7-.3 .8-1.6 .7 .1 .8 .5 .7-1.6 .8-.5 .7 .7 .8 1.5 .7-1.3 .8 1.2 .7-2 .8-.3 .7-1.4 .8 .8 .7 2.1 .8-1.4 .7 .4" fill="none" stroke="#0000ff" stroke-width="1.0" stroke-linejoin="round"/>
<path d="M154.8 668.3l.8 .3 .7 .6 .8-1.5 .7-2.9 .8-3.4 .7-4.4 .8-2.9 .7-4.4 .8-1.6 .7-7.2 .8-1.8 .7-1 .8-6.9 .8-4.7 .7-2.5 .8-2.2 .7-5 .8-2.4 .7-3.7 .8-3.3 .7 2.5 .8-4.1 .7-1.3 .8-.5 .7 .4 .8-.5 .7 0 .8-1.1 .7-2.1 .8 1.8 .7-1.3 .8-.2 .7-1.6 .8 .7 .8-.4 .7 .6 .8-1.8 .7 1.5 .8-.1" fill="none" stroke="#0000ff" stroke-width="1.0" stroke-linejoin="round"/>
<path d="M154.3 669.5l.8-3.8 .8 2.4 .7-2.7 .8-1.4 .7-1.5 .8-4.8 .7-2.5 .8-4.5 .7-.5 .8-4.8 .7-3.5 .8-6.4 .7-3.4 .8-1.2 .7-5 .8-3.5 .7-2.7 .8-4.8 .7-.7 .8-3.5 .7-.8 .8-1.8 .8 .9 .7-1.8 .8 1.4 .7-.2 .8-.6 .7-.7 .8-.2 .7-3.9 .8 3.6 .7-1.4 .8 .2 .7-.6 .8-1.4 .7 .7 .8 1.2 .7 .7 .8-2.4" fill="none" stroke="#0000ff" stroke-width="1.0" stroke-linejoin="round"/>
<path d="M154.6 670.8l.8-2.2 .7-1.1 .8 .8 .8-2 .7-6.5 .8 .1 .7-5.4 .8-1.6 .7-5.7 .8-5.1 .7-1.5 .8-3.3 .7-2.4 .8-4.2 .7-4.7 .8-4.6 .7-3.7 .8-2.9 .7-3.6 .8-2.1 .7-4 .8 2.2 .7-1 .8 2.2 .8-2.6 .7-2 .8 .7 .7-2.5 .8 .2 .7-1.8 .8 3.3 .7-1.3 .8-2.2 .7 .9 .8 .8 .7-.7 .8-.4 .7-1.5 .8 0" fill="none" stroke="#0000ff" stroke-width="1.0" stroke-linejoin="round"/>
<path d="M155.2 667.3l.8 2.5 .7-2.3 .8 .9 .7-3.6 .8-2.1 .7-2.2 .8-4.4 .8-3.3 .7-5.4 .8-3.3 .7-2.1 .8-2.7 .7-3.8 .8-2.5 .7-5.7 .8-3.5 .7-2.3 .8-4.2 .7-2.9 .8-3.8 .7 .7 .8-3.4 .7 .7 .8-3 .7 1.9 .8-3.1 .7 1.3 .8-3.3 .8 .7 .7 1.2 .8-2.7 .7 .5 .8-1 .7-2.4 .8 2.5 .7-.2 .8-2 .7 1.6" fill="none" stroke="#0000ff" stroke-width="1.0" stroke-linejoin="round"/>
<path d="M155.1 667.8l.8 0 .7 3.2 .8-5.5 .7-.2 .8-2.7 .7-6.5 .8-3.1 .7-.9 .8-4.8 .7-2.7 .8-2.9 .7-5.4 .8-4.5 .7-5.5 .8-.3 .8-4.7 .7-2 .8-3.3 .7-4.7 .8 .7 .7-2.1 .8-1 .7-3 .8 .2 .7-.7 .8-.4 .7-1.3 .8 1.2 .7-.6 .8-.2 .7-1.4 .8 1.7 .7-1.5 .8-3.5 .7 2 .8 .4 .8 .9 .7-1.5" fill="none" stroke="#0000ff" stroke-width="1.0" stroke-linejoin="round"/>
<path d="M155.5 668l.8-.2 .7-.1 .8 .1 .7-4.1 .8-4.3 .7-.8 .8-4.9 .8-2.5 .7-3.7 .8-2.9 .7-4 .8-5.7 .7-3.4 .8-5 .7-.4 .8-5 .7-2.4 .8-5.2 .7-4.9 .8 1.1 .7-3 .8-.8 .7-.8 .8 0 .7-.7 .8-2.9 .8 2.4 .7-2.2 .8-.4 .7 2 .8-1.2 .7-1.7 .8-2 .7 1.9 .8 .2 .7-.9 .8-1.5 .7 .3" fill="none" stroke="#0000ff" stroke-width="1.0" stroke-linejoin="round"/>
<path d="M155.4 669.6l.7-1.9 .8 1.1 .7-.9 .8-3.8 .7-2.4 .8-.6 .7-5.3 .8-2.5 .7-4.9 .8-3 .7-5.4 .8-1.7 .8-2.2 .7-2.5 .8-4.4 .7-3.9 .8-3.8 .7-3.8 .8-2.3 .7-1.7 .8-3.3 .7 .7 .8-3.3 .7-1.9 .8-.2 .7-1.6 .8-.5 .7 2 .8-2.2 .7-.1 .8 .4 .7-.4 .8-2.4 .8 1.5 .7-1.4 .8-.8 .7 .1 .8-2.4" fill="none" stroke="#0000ff" stroke-width="1.0" stroke-linejoin="round"/>
<path d="M155.8 668.1l.7 .3 .8 1.2 .7-.8 .8-3.4 .7-2.4 .8-4.9 .7-3.2 .8-2.8 .7-4.2 .8-3.8 .7-1.3 .8-5.7 .7-4.5 .8-2 .8-2 .7-5.3 .8-2 .7-5 .8-2.9 .7-2.9 .8-.6 .7 1.5 .8-3.8 .7 2.5 .8-3.4 .7 .5 .8 .7 .7-.6 .8-.7 .7-2.4 .8 1.9 .7-1.8 .8 3.8 .7-3.3 .8 .2 .8-1.6 .7 .5" fill="none" stroke="#0000ff" stroke-width="1.0" stroke-linejoin="round"/>
<path d="M155.8 669.1l.7-1.4 .8 .2 .7 .8 .8-5.2 .8-3.8 .7-.7 .8-5 .7-2.6 .8-2.1 .7-5.4 .8-1.8 .7-5.4 .8-1.2 .7-3.8 .8-5.4 .7-3.1 .8-4 .7-1.9 .8-1.8 .7-5.5 .8 .9 .7-3.5 .8-.5 .7-1.9 .8 3.4 .8-3 .7-.5 .8-1.7 .7 1.3 .8-4 .7 1.8 .8 1.9 .7-3.2 .8 0 .7 .4 .8-2 .7 .6" fill="none" stroke="#0000ff" stroke-width="1.0" stroke-linejoin="round"/>
<path d="M156.9 668.1l.7 .7 .8-.2 .7 .2 .8-3.7 .7-4.2 .8-5.7 .7 0 .8-3.6 .7-5.6 .8-5 .7-2.9 .8-1.6 .7-6.1 .8-3.1 .7-3 .8-2.5 .7-4.8 .8-3.4 .7-3.5 .8-.5 .8-1.8 .7-1.7 .8-1.8 .7 .3 .8 1.1 .7-1.7 .8 1.5 .7-.9 .8-.3 .7 .2 .8-.4 .7-1.7 .8 .4 .7 2.8 .8-4 .7 .6" fill="none" stroke="#0000ff" stroke-width="1.0" stroke-linejoin="round"/>
<path d="M157.1 667l.8 2.1 .7 .5 .8-.8 .7-4.3 .8-1.8 .7-5.5 .8-2 .7-4.4 .8-2.7 .7-3 .8-3.3 .7-6 .8-1.2 .7-5.6 .8-4.2 .7-2.5 .8-4.7 .8-1.6 .7-2.6 .8-3.2 .7-.5 .8-1.5 .7-.3 .8-2.1 .7 1.2 .8-1.4 .7 0 .8 0 .7 0 .8-2.3 .7-.2 .8 1.1 .7 .6 .8-.3 .7 .4 .8 .2" fill="none" stroke="#0000ff" stroke-width="1.0" stroke-linejoin="round"/>
<path d="M157.1 667.5l.8 .5 .7 .8 .8-1.3 .7-2.9 .8-3.1 .7-2.2 .8-3.7 .7-3.3 .8-3.4 .7-4.5 .8-4.1 .7-2 .8-3.7 .7-4.2 .8-3.7 .7-.4 .8-6.5 .8-2.5 .7-2.3 .8-4.2 .7-.2 .8 .8 .7-1.9 .8-1.2 .7-.8 .8-1.3 .7 .2 .8-1.8 .7-.9 .8 .1 .7 .4 .8-1.1 .7-.1 .8-3.3 .7 3.2 .8 .9" fill="none" stroke="#0000ff" stroke-width="1.0" stroke-linejoin="round"/>
<path d="M157.6 668.8l.8-1.4 .7 1.9 .8-2.7 .7-1.2 .8-2.6 .8-7 .7-.8 .8-4.7 .7-4.5 .8-2.9 .7-3.3 .8-2.5 .7-6.6 .8-.9 .7-2.6 .8-5.1 .7-3.5 .8-3.8 .7-4.3 .8-.9 .7-1.5 .8-.2 .7 1.4 .8-2.5 .7-.8 .8 .8 .8-3.6 .7-.2 .8 .5 .7-.6 .8 1.2 .7-1.4 .8 2.1 .7-.5 .8-1" fill="none" stroke="#0000ff" stroke-width="1.0" stroke-linejoin="round"/>
<path d="M157.2 667.3l.8 1.6 .7 .4 .8-1.8 .7-1.1 .8-3.3 .7-5.3 .8-2.1 .7-4.4 .8-1.9 .7-5.1 .8-1.6 .7-4.2 .8-2.9 .7-4.7 .8-4.9 .7 .2 .8-5.3 .7-1.3 .8-3.9 .8-2.3 .7-.3 .8-2.8 .7 .1 .8-4.2 .7 1.7 .8-2 .7-.7 .8-.5 .7-.3 .8 .9 .7-4.4 .8 1.6 .7-1.3 .8 1.7 .7-2.2" fill="none" stroke="#0000ff" stroke-width="1.0" stroke-linejoin="round"/>
<path d="M157.7 669.6l.8-1.5 .7 .5 .8-2.9 .7-.9 .8-2.4 .8-4.8 .7-1.5 .8-7 .7-3.4 .8-3.1 .7-2.8 .8-3.2 .7-3.8 .8-3.7 .7-2.7 .8-4.8 .7-4.2 .8-3.2 .7 .8 .8-7.7 .7 .9 .8 .7 .7-2 .8-2.3 .7 .2 .8 .2 .8-.3 .7-2.9 .8 1.3 .7-1.1 .8 .5 .7-.2 .8-2.3 .7-1.5 .8 1.7" fill="none" stroke="#0000ff" stroke-width="1.0" stroke-linejoin="round"/>
<path d="M158.5 671.1l.7-3.7 .8 2.1 .7-2.9 .8-2 .7-2.8 .8-1.6 .7-5.9 .8-3 .7-4.7 .8-1.3 .7-4.7 .8-2.6 .7-5.3 .8-2.8 .7-1.9 .8-4.8 .7-2.3 .8-3.2 .7-3.8 .8-4 .8 1.5 .7-1.6 .8 .3 .7-3.8 .8-.2 .7-1 .8 1 .7 1.7 .8-.9 .7-1 .8-.1 .7 .4 .8-1.4 .7 .5 .8-.5" fill="none" stroke="#0000ff" stroke-width="1.0" stroke-linejoin="round"/>
<path d="M157.2 668.1l.7 .2 .8-.5 .7-1 .8-.9 .7-4.3 .8-3.9 .7-5.5 .8-.5 .7-4.9 .8-3.4 .8-.6 .7-3.6 .8-6.4 .7-.5 .8-3.8 .7-4.7 .8-1.4 .7-5.6 .8-2.4 .7-2.8 .8-1.3 .7 1 .8-3.5 .7-.8 .8-.7 .7 .5 .8-1.4 .7 .6 .8-2.3 .7-1.3 .8 .3 .8 .1 .7-1.5 .8 .9 .7 1.3" fill="none" stroke="#0000ff" stroke-width="1.0" stroke-linejoin="round"/>
<path d="M158 667.8l.7-.2 .8-.3 .7 .3 .8-2.8 .8-3.9 .7-3.1 .8-2.2 .7-4.2 .8-6.3 .7-2.3 .8-3.8 .7-3.3 .8-4.9 .7-4.4 .8-3.5 .7-5.2 .8-1.5 .7-4 .8-1.9 .7-4.6 .8-.7 .7-1.4 .8-.8 .7 1.3 .8-1.8 .8 .5 .7-2.3 .8 .9 .7-2.3 .8 .9 .7-.4 .8 .9 .7-.7 .8-.7 .7 .9" fill="none" stroke="#0000ff" stroke-width="1.0" stroke-linejoin="round"/>
<path d="M158.5 668.4l.7-.3 .8 .7 .7-2.1 .8-2.1 .7-2.3 .8-3.6 .8-4.9 .7-4.7 .8-2.4 .7-3.9 .8-2.6 .7-5.6 .8-3.7 .7-2.8 .8-5.1 .7-3.3 .8-1.4 .7-3.6 .8-4 .7-3.3 .8-2.5 .7 1.3 .8-.8 .7-.2 .8-1.1 .7 .3 .8-.4 .8 .3 .7 1 .8-1.3 .7-2.4 .8 .6 .7-.8 .8 .7 .7 1.4" fill="none" stroke="#0000ff" stroke-width="1.0" stroke-linejoin="round"/>
<path d="M158.8 667.6l.7-.7 .8 0 .7-.6 .8-.2 .7-6 .8-.3 .7-3.2 .8-5 .7-3.4 .8-4.2 .8-3 .7-2.9 .8-4.4 .7-2.5 .8-3.3 .7-4.3 .8-3.3 .7-3.5 .8-2.5 .7-4.2 .8 .1 .7-1.3 .8-2.1 .7 2.4 .8-4.3 .7-.6 .8 .6 .7-3.1 .8 .7 .7-1.3 .8 .1 .8 .5 .7 0 .8 .5 .7-.6" fill="none" stroke="#0000ff" stroke-width="1.0" stroke-linejoin="round"/>
<path d="M159.3 669.7l.7-1.8 .8-.1 .7 1 .8-3.7 .7-3.7 .8-2.7 .8-3.3 .7-6.1 .8-2.3 .7-5 .8-2.4 .7-4.7 .8-1.6 .7-4.8 .8-5.1 .7-2.7 .8-4.8 .7-1.9 .8-2.5 .7-3.1 .8-3.7 .7 1.2 .8 .3 .7-.7 .8 .5 .7-3.1 .8 1.5 .8-1.6 .7 .6 .8-.1 .7 .1 .8-1.7 .7 .6 .8-1.7 .7-.5" fill="none" stroke="#0000ff" stroke-width="1.0" stroke-linejoin="round"/>
<path d="M159.3 667.5l.7 1 .8 1.6 .7-1.8 .8-3.1 .7-5.9 .8-1.4 .7-2.8 .8-3.7 .7-3.7 .8-4.4 .7-1.7 .8-4.1 .7-5.5 .8-4.8 .7-.3 .8-6.4 .8-1.5 .7-2.5 .8-6.1 .7-1.4 .8-2 .7 .4 .8-.7 .7 1.4 .8-1.9 .7-1.1 .8 .9 .7-1.8 .8-.4 .7 2.6 .8-3.6 .7 .1 .8 .4 .7-1.4 .8-1.3" fill="none" stroke="#0000ff" stroke-width="1.0" stroke-linejoin="round"/>
<path d="M159.7 668l.7-.6 .8-.1 .7 0 .8-.3 .7-4.9 .8-3.2 .7-5.9 .8-1.9 .7-4.9 .8-1.6 .7-4.9 .8-3.5 .7-3.9 .8-4.2 .8-4.7 .7-1.2 .8-5.5 .7-3 .8-2 .7-3.2 .8-.5 .7-.2 .8-1.7 .7-.9 .8-.9 .7 .2 .8-3.6 .7 1.9 .8-2 .7-.8 .8 .9 .7-.8 .8 .7 .7 .2 .8-4.1" fill="none" stroke="#0000ff" stroke-width="1.0" stroke-linejoin="round"/>
<path d="M159.5 670l.7-1.5 .8-1.6 .7-1 .8-.8 .7-2.7 .8-5.1 .7-2.9 .8-3 .7-5.8 .8-2.2 .7-1.6 .8-3.2 .7-6.3 .8-1.6 .7-6.2 .8-3.9 .7-4.9 .8 .3 .8-4.5 .7 .3 .8-3.6 .7-.9 .8-2.8 .7 3 .8-2.6 .7-.3 .8-2.7 .7 3 .8-.3 .7-2.1 .8 .4 .7 0 .8 .4 .7-1.2 .8 1.5" fill="none" stroke="#0000ff" stroke-width="1.0" stroke-linejoin="round"/>
<path d="M159.6 665.6l.8 2 .7 1.9 .8-2 .7-3.8 .8-1.6 .7-5.7 .8-1.3 .7-2.5 .8-3.2 .7-5.2 .8-1.7 .7-2.5 .8-6.1 .7-2.2 .8-6 .7-3.8 .8-.4 .8-3.6 .7-2.7 .8-3.4 .7-1.3 .8 .1 .7 .1 .8-3.1 .7-2.4 .8 2.5 .7-1.5 .8-.5 .7-1.2 .8 1.8 .7-2.9 .8 0 .7-3 .8 1 .7-.5" fill="none" stroke="#0000ff" stroke-width="1.0" stroke-linejoin="round"/>
<path d="M159.9 670.3l.8-3 .7 .6 .8-.4 .7-4.2 .8-.9 .7-2.9 .8-4.2 .7-.8 .8-5.5 .7-3.2 .8-4.9 .7-4.3 .8-2.4 .7-3.1 .8-3.5 .7-1.9 .8-6.7 .7-1.6 .8-3.5 .8 .9 .7-3.7 .8-1 .7-1.7 .8 1.3 .7-2.3 .8-.1 .7-3.3 .8 2.9 .7-1.5 .8-.4 .7 .3 .8-2.1 .7-.4 .8 .6 .7-.7" fill="none" stroke="#0000ff" stroke-width="1.0" stroke-linejoin="round"/>
<path d="M160 669.2l.8 .3 .7-1 .8 .8 .7-6.5 .8-1.5 .8-1 .7-5.6 .8-4.8 .7-.2 .8-4.5 .7-5.6 .8-1.5 .7-5.6 .8-4 .7-2.2 .8-3.8 .7-3.9 .8-2.3 .7-3.6 .8-1.5 .7-1.7 .8-.3 .7-2.3 .8-1.9 .8-.9 .7 .4 .8 1.3 .7-1.5 .8-2.2 .7 1.2 .8-2.9 .7 2 .8-2 .7 .9 .8-.6" fill="none" stroke="#0000ff" stroke-width="1.0" stroke-linejoin="round"/>
<path d="M160.2 668.4l.8 1.2 .7 3.4 .8-5.1 .8-3.5 .7-4.2 .8-1 .7-6.4 .8-2.6 .7-2.4 .8-5.5 .7-.8 .8-4.3 .7-5.6 .8-3.7 .7-4.5 .8-3.7 .7-1.3 .8-3 .7-3.3 .8-2.9 .7-2.4 .8 0 .7-2.8 .8 .8 .8 .9 .7-.8 .8-2.6 .7-.4 .8 1.3 .7 0 .8-4 .7 .7 .8 .4 .7 .8 .8-2.6" fill="none" stroke="#0000ff" stroke-width="1.0" stroke-linejoin="round"/>
<path d="M160.8 668.9l.8-.6 .7-.2 .8 .2 .7-3.2 .8-5 .7-1.8 .8-5.2 .7-2.9 .8-4.3 .7-3.8 .8-3.1 .7-4.1 .8-2.2 .7-3.4 .8-4.8 .7-4.6 .8-1.2 .8-6.4 .7-2.9 .8 .2 .7-1.3 .8 0 .7-1.7 .8-1.5 .7 .5 .8 .9 .7-1.7 .8-.2 .7-.9 .8 0 .7 2 .8-.6 .7-1.9 .8 0 .7 .4" fill="none" stroke="#0000ff" stroke-width="1.0" stroke-linejoin="round"/>
<path d="M161 666.1l.7 1 .8 1.8 .7-.8 .8-5.1 .7-2.6 .8-1.6 .8-4.7 .7-3.8 .8-2.5 .7-4.2 .8-2.8 .7-4.2 .8-5.3 .7-3.3 .8-3.6 .7-5 .8-3 .7-1.1 .8-5.9 .7 .1 .8-2 .7-1 .8 .3 .7-.4 .8 .4 .7-2.1 .8-.1 .8-.4 .7 2.1 .8-1.2 .7-2.3 .8 .4 .7-.6 .8 .6 .7 .1" fill="none" stroke="#0000ff" stroke-width="1.0" stroke-linejoin="round"/>
<path d="M161.9 668.9l.7-1.2 .8 .6 .7-1.7 .8-2.2 .7-1.9 .8-6 .7-.3 .8-5.4 .7-1.6 .8-4.9 .7-2.9 .8-4.5 .7-3.2 .8-4.8 .7-4.6 .8-1.9 .8-3.3 .7-1.6 .8-7.6 .7-.7 .8-.1 .7-3.4 .8 .4 .7 1.9 .8-1.5 .7-3.1 .8 2 .7-.8 .8-.9 .7-.8 .8-.6 .7-1.6 .8 .1 .7 1.1 .8-.9" fill="none" stroke="#0000ff" stroke-width="1.0" stroke-linejoin="round"/>
<path d="M161.9 668.7l.8-2.9 .7 2.3 .8-.6 .7-2.5 .8-3.2 .7-4.1 .8-.7 .7-5.7 .8-2 .7-4.6 .8-4.6 .7-.7 .8-7.9 .7-1.8 .8-2 .8-4.2 .7-2 .8-4 .7-3.2 .8 .2 .7-3.9 .8-.5 .7-1.7 .8-.1 .7 1 .8-.6 .7-1 .8-1.2 .7 1.2 .8-2.9 .7 1.2 .8-.2 .7-.9 .8 .8 .7-1.1" fill="none" stroke="#0000ff" stroke-width="1.0" stroke-linejoin="round"/>
<path d="M161.1 669.8l.8-1.3 .7 1 .8-1.5 .7-2.3 .8-1.8 .7-6.1 .8-2.9 .8-4 .7-7.5 .8-1.4 .7-2.3 .8-3.1 .7-5.2 .8-1.9 .7-3.5 .8-5.4 .7-1.4 .8-2.9 .7-4.4 .8-4.4 .7 1.3 .8-2.5 .7-.9 .8 0 .7-1.3 .8 1.3 .7-.8 .8 .1 .8-1.1 .7-1.9 .8 .4 .7 .8 .8-1.6 .7 3.4 .8-3.7" fill="none" stroke="#0000ff" stroke-width="1.0" stroke-linejoin="round"/>
<path d="M161.4 668.5l.8-.3 .7 .8 .8-.8 .7-2.7 .8-3.9 .8-2.2 .7-2.7 .8-3.4 .7-7.6 .8-1.1 .7-3.3 .8-3 .7-3 .8-2.6 .7-3.7 .8-4.1 .7-3 .8-1 .7-5.4 .8-1.6 .7-.3 .8-2.6 .7-3.8 .8 1.6 .7-1.9 .8-.6 .8 .5 .7-1.4 .8-1.5 .7 .6 .8-1.1 .7-.9 .8-.3 .7-.5 .8-1.1" fill="none" stroke="#0000ff" stroke-width="1.0" stroke-linejoin="round"/>
<path d="M161.7 667.1l.8 2.8 .7-1.7 .8-.9 .7-2.8 .8-2.7 .7-3 .8-3.1 .7-4.3 .8-1.5 .7-5.3 .8-1.7 .7-6.8 .8-2.6 .7-1.2 .8-4.7 .7-3.8 .8-2.1 .7-4.5 .8-1.6 .7-5.1 .8 .5 .8-1 .7 .6 .8-.4 .7-2.5 .8 2.1 .7-2.9 .8-2.1 .7-.9 .8 3.9 .7-2.1 .8-1 .7-.4 .8-.7 .7 2.4" fill="none" stroke="#0000ff" stroke-width="1.0" stroke-linejoin="round"/>
<path d="M162.1 665.9l.7 3.5 .8-1.3 .7-1.1 .8-.6 .7-4.9 .8-1.5 .7-4.5 .8-4.1 .7-2.1 .8-4.7 .7-1.5 .8-3.9 .7-4.5 .8-2.9 .7-3.5 .8-4.2 .7-1.9 .8-4.3 .8-1.9 .7-4.3 .8-.3 .7-.7 .8-2.2 .7-.4 .8-.9 .7 .7 .8-2.2 .7 .7 .8 .7 .7-1.8 .8-2.6 .7 1.5 .8 .6 .7-1.8 .8 1.2" fill="none" stroke="#0000ff" stroke-width="1.0" stroke-linejoin="round"/>
<path d="M162.5 667.9l.8 .3 .7 .4 .8-.8 .7-3 .8-3.9 .8-2.9 .7-3.1 .8-5.9 .7-2.7 .8-3.9 .7-3.2 .8-3.9 .7-3.9 .8-4.4 .7-2.1 .8-4 .7-5.6 .8-1.4 .7-4.3 .8 .3 .7-3.6 .8-.4 .7 .2 .8-.7 .7-.2 .8 1.4 .8-1.7 .7 .4 .8 .1 .7-2.6 .8 2.8 .7-1.3 .8 .1 .7-2.2 .8 1.8" fill="none" stroke="#0000ff" stroke-width="1.0" stroke-linejoin="round"/>
<path d="M162.7 669.1l.7-.8 .8 .4 .7-.4 .8-2.5 .7-3.5 .8-2.4 .7-3 .8-6.4 .8-2.7 .7-4.1 .8-2.5 .7-2.1 .8-4.5 .7-5.5 .8-2.6 .7-2 .8-4.9 .7-2.6 .8-2.5 .7-5 .8 1.4 .7-1.5 .8-.6 .7-2.6 .8-.5 .7-.5 .8 .3 .7-.8 .8-.4 .8 1.3 .7-1 .8-2.6 .7-.4 .8 2.3 .7-2.6" fill="none" stroke="#0000ff" stroke-width="1.0" stroke-linejoin="round"/>
<path d="M163.3 668.2l.7 .4 .8-1 .7-1.5 .8-2.2 .7-1.7 .8-4.7 .7-3.2 .8-3.9 .7-4.7 .8-.6 .7-8.1 .8-2 .7-2.5 .8-5.9 .7-1.5 .8-2.9 .8-5.7 .7-2.1 .8-4.5 .7-1 .8-1.8 .7-.6 .8 .7 .7-1.6 .8 .5 .7-1.3 .8-2.5 .7 1.2 .8-.1 .7-2.5 .8 2.8 .7-1.7 .8 0 .7-1.6 .8 .9" fill="none" stroke="#0000ff" stroke-width="1.0" stroke-linejoin="round"/>
<path d="M163.1 666.2l.7 3.8 .8-2.7 .7-2.4 .8-1.3 .7-2.7 .8-1.5 .7-4.8 .8-2 .7-4.7 .8-.1 .7-5.3 .8-2 .8-6.8 .7-1.6 .8-5.2 .7-1.6 .8-3.1 .7-5.5 .8-2.3 .7-2.6 .8-1.8 .7-.1 .8-1.1 .7-1.3 .8 .9 .7-.1 .8-2.7 .7 .3 .8 .1 .7-.7 .8-1 .7 1.3 .8-.3 .8-.6 .7-1.2" fill="none" stroke="#0000ff" stroke-width="1.0" stroke-linejoin="round"/>
<path d="M163.9 668.4l.8 1.4 .7-2.2 .8 .1 .7-3 .8-3.7 .7-2.5 .8-4.7 .7-2.2 .8-5 .7 1.2 .8-4.4 .7-3.9 .8-4.6 .8-2.7 .7-3.2 .8-3.6 .7-3.3 .8-5 .7-1.3 .8-3.7 .7-2.3 .8-1.1 .7 .7 .8-.3 .7-3.5 .8 2.6 .7-1 .8-2.8 .7-.7 .8-.1 .7 .6 .8-2 .7-1.2 .8 1.2 .8-3" fill="none" stroke="#0000ff" stroke-width="1.0" stroke-linejoin="round"/>
<path d="M163.4 669.4l.8-.4 .7 .3 .8-1.9 .7-3.8 .8-2.3 .7-3.1 .8-1.8 .8-3.1 .7-4.9 .8-5 .7-3.7 .8-3.1 .7-2 .8-4.8 .7-4 .8-4.2 .7-1.5 .8-3.8 .7-3.4 .8-2.5 .7 .5 .8-2.5 .7 1.5 .8-.9 .7-1.7 .8 .5 .7-1.4 .8-1.1 .8 .3 .7-.9 .8 1.3 .7-.8 .8 .4 .7 .1 .8-4.5" fill="none" stroke="#0000ff" stroke-width="1.0" stroke-linejoin="round"/>
<path d="M163.7 667.5l.8 1.1 .7 1.4 .8-4.6 .7-.5 .8-3.1 .7-4.9 .8-.4 .7-4 .8-3.9 .7-3.7 .8 .8 .7-7.4 .8-5.1 .7-2.4 .8-2.8 .8-3.3 .7-2.8 .8-4 .7-1 .8-3.7 .7-2.6 .8-.7 .7-.7 .8 .3 .7-1.4 .8-1.8 .7-.5 .8-.5 .7 1.3 .8-3.6 .7 .6 .8-.2 .7-2.4 .8 .8 .7-.4" fill="none" stroke="#0000ff" stroke-width="1.0" stroke-linejoin="round"/>
<path d="M163.6 669.7l.8-1.4 .7 .4 .8 1.1 .7-6.5 .8-1.5 .7-2.4 .8-4.2 .8-2.9 .7-4.1 .8-3 .7-3.1 .8-5.4 .7-3.2 .8-3.9 .7-3.9 .8-3 .7-4.6 .8-1 .7-1.9 .8-2.7 .7-1.8 .8-3 .7 2.1 .8-3 .7 .3 .8 1.6 .7-3.6 .8 1.7 .8-1 .7-.7 .8-1.1 .7 1.1 .8-1.2 .7 1.4 .8 0" fill="none" stroke="#0000ff" stroke-width="1.0" stroke-linejoin="round"/>
<path d="M163.5 667.2l.8 .1 .7 1.3 .8-1.7 .7-4.4 .8-1.9 .7-2.2 .8-5.4 .7-3.3 .8-1 .7-4.1 .8-7.1 .7-3.6 .8-2 .7-5.5 .8-2.7 .7-3.9 .8-2.3 .8-6.7 .7-2.7 .8-1.8 .7 1.1 .8-2.1 .7-2.4 .8 1.7 .7-.4 .8-1.6 .7-.6 .8 .4 .7 .4 .8-1.5 .7 0 .8-1 .7-.6 .8-.9 .7 1" fill="none" stroke="#0000ff" stroke-width="1.0" stroke-linejoin="round"/>
<path d="M180.5 599.4l1.2-.2 1.3-.2 1.2-.1 1.3-.9 1.2-1.1 1.3 0 1.2-.7 1.3-.4 1.2-1.6 1.3 1 1.2-2.6 1.3 2.3 1.3-1.1 1.2-.1 1.3 .4 1.2-1.1 1.3 1.3 1.2 .6 1.3-1.2 1.2 .6 1.3 0 1.2 .1 1.3-.6 1.3-.2 1.2-.3 1.3 .2 1.2-.1 1.3 .3 1.2-.1 1.3-.6 1.2-.1 1.3-.4 1.2-.2 1.3 1.2 1.2 .2 1.3-.2 1.3-1 1.2 0 1.3 1.2 1.2-.5 1.3-.2 1.2 .4 1.3-.2 1.2 .5 1.3-.4 1.2 .4 1.3-.4 1.2 .4 1.3-.1 1.3-.6 1.2 .6 1.3-.1 1.2-1.2 1.3 .1 1.2 1 1.3-.5 1.2 .7 1.3-.9 1.2-.6 1.3 1.7 1.2-1.5 1.3 1.1 1.3-1.6 1.2 1.2 1.3 .4 1.2-.1 1.3 .9 1.2-.5 1.3 .6 1.2-1.9 1.3 1.2 1.2-.4 1.3 .5 1.2-.9 1.3 1 1.3-1 1.2-.5 1.3 2.1 1.2-1.4 1.3-.5 1.2 1.1 1.3 0 1.2 .4 1.3-.5 1.2 .1 1.3-.9 1.3 1 1.2 .1 1.3-.8 1.2 .5 1.3 .2 1.2-.3 1.3 1 1.2-1.3 1.3-.3 1.2 1 1.3-.7 1.2-.8 1.3 .9 1.3 .5 0 7.3-1.3 .2-1.3 .4-1.2 .1-1.3-.2-1.2-.5-1.3 1.9-1.2-.9-1.3 .3-1.2-1.5-1.3 1.5-1.2 .3-1.3-1.4-1.2 .2-1.3 .3-1.3-.6-1.2 .6-1.3-.3-1.2 1.2-1.3-.4-1.2 .9-1.3-2-1.2 .6-1.3 .4-1.2 .1-1.3 0-1.3-.6-1.2 .4-1.3 0-1.2 .3-1.3 .6-1.2-1.5-1.3 .5-1.2 .8-1.3-.5-1.2 .5-1.3-.4-1.2 .3-1.3-.4-1.3 .2-1.2-.3-1.3 .5-1.2 .4-1.3-.5-1.2-.2-1.3-.3-1.2 .6-1.3 .3-1.2-.1-1.3-1.3-1.2 .5-1.3 .6-1.3 .4-1.2-1.2-1.3 .5-1.2-.3-1.3 .4-1.2 .4-1.3-.9-1.2 .6-1.3-.1-1.2 .6-1.3 1.1-1.2-.2-1.3 .2-1.3 1-1.2-2.8-1.3-.1-1.2 1-1.3-.8-1.2 .1-1.3 .9-1.2 .1-1.3 0-1.2-.6-1.3-.1-1.2 .4-1.3 1.2-1.3 .1-1.2 .6-1.3-.9-1.2 .1-1.3 .6-1.2 0-1.3-.4-1.2 .7-1.3 .5-1.2 .9-1.3-1.6-1.3 1-1.2-.1-1.3 1.4-1.2 .8-1.3-.3-1.2 0-1.3 1.1-1.2 .6-1.3 .1-1.2-.1-1.3 1.4-1.2 0z" fill="#0000ff"/>
<path d="M116.4 598.5l1.1 16.5 1.3 20 1.2 16 1.5 9 1.9 5.5 2.5 3" fill="none" stroke="#0000ff" stroke-width="2.4" stroke-linejoin="round"/>
<path d="M164.2 669.2l1.2 .1 1.3 .6 1.2-.3 1.3 .2 1.2-1.2 1.3 1.1 1.2-.6 1.3-.1 1.2 0 1.3 1 1.2-.2 1.3-.8 1.3-.2 1.2 .6 1.3-.2 1.2 1 1.3-1.5 1.2-.2 1.3 .8 1.2 .1 1.3 .1 1.2 .3 1.3 .6 1.2-1.2 1.3-.1 1.3-.6 1.2 1 1.3 .3 1.2-.5 1.3 .7 1.2-.6 1.3 .8 1.2-.6 1.3-.7 1.2 .2 1.3-.5 1.3-.1 1.2 1 1.3 .3 1.2 .6 1.3-1 1.2-.1 1.3-.5 1.2 1.1 1.3-.3 1.2-.5 1.3 .6 1.2 0 1.3-1.2 1.3 1.3 1.2-.3 1.3-.3 1.2 0 1.3 1.1 1.2-.1 1.3 .1 1.2-1.5 1.3 .3 1.2 .8 1.3-1.1 1.2 .2 1.3-.5 1.3 1.8 1.2-.4 1.3-.3 1.2-.1 1.3-.3 1.2 0 1.3 .5 1.2-.7 1.3 1 1.2-.8 1.3-.2 1.2 1 1.3-.7 1.3 .4 1.2-.5 1.3-.9 1.2 1.4 1.3-1 1.2 1.2 1.3-1.3 1.2-.1 1.3 1.1 1.2 0 1.3-.1 1.2-.7 1.3 1 1.3-1.1 1.2 .5 1.3-.2 1.2 .2 1.3 .6 1.2-.7 1.3 .6 1.2 0 1.3-1.2 1.2 .3 1.3 .4 1.3-.1 1.2 .5 1.3-1.2 1.2 1.4 1.3 0 1.2-.5 1.3-.6 1.2 .7 1.3-.3 1.2 .6 1.3-.3 1.2 .4 1.3-.6" fill="none" stroke="#1818c8" stroke-width="1.5" stroke-linejoin="round"/>
<circle cx="304.60" cy="670.00" r="5.35" fill="#c8c8c8" stroke="#000" stroke-width="1.15"/>
<circle cx="304.60" cy="603.00" r="5.35" fill="#b00000" stroke="#000" stroke-width="1.15"/>
<circle cx="304.60" cy="600.50" r="5.35" fill="#b00000" stroke="#000" stroke-width="1.15"/>
<circle cx="304.60" cy="598.50" r="5.35" fill="#ff0000" stroke="#000" stroke-width="1.15"/>
<circle cx="304.60" cy="595.70" r="5.35" fill="#ff0000" stroke="#000" stroke-width="1.15"/>
</g>
<path d="M76.45 562.50V692.40H313.45V562.50" fill="none" stroke="#111" stroke-width="1.2"/>
<line x1="75.85" y1="563.10" x2="314.05" y2="563.10" stroke="#585858" stroke-width="2"/>
<line x1="116.50" y1="692.4" x2="116.50" y2="699.00" stroke="#000" stroke-width="1"/>
<text x="116.50" y="715.60" font-size="17.6" text-anchor="middle">50</text>
<line x1="179.20" y1="692.4" x2="179.20" y2="699.00" stroke="#000" stroke-width="1"/>
<text x="179.20" y="715.60" font-size="17.6" text-anchor="middle">100</text>
<line x1="241.90" y1="692.4" x2="241.90" y2="699.00" stroke="#000" stroke-width="1"/>
<text x="241.90" y="715.60" font-size="17.6" text-anchor="middle">150</text>
<line x1="304.60" y1="692.4" x2="304.60" y2="699.00" stroke="#000" stroke-width="1"/>
<text x="304.60" y="715.60" font-size="17.6" text-anchor="middle">200</text>
<line x1="69.75" y1="687.60" x2="76.45" y2="687.60" stroke="#000" stroke-width="1"/>
<text transform="translate(61.00,687.60) rotate(-90)" font-size="17.6" text-anchor="middle">0</text>
<line x1="69.75" y1="670.45" x2="76.45" y2="670.45" stroke="#000" stroke-width="1"/>
<line x1="69.75" y1="653.30" x2="76.45" y2="653.30" stroke="#000" stroke-width="1"/>
<line x1="69.75" y1="636.15" x2="76.45" y2="636.15" stroke="#000" stroke-width="1"/>
<text transform="translate(61.00,636.15) rotate(-90)" font-size="17.6" text-anchor="middle">3000</text>
<line x1="69.75" y1="619.00" x2="76.45" y2="619.00" stroke="#000" stroke-width="1"/>
<line x1="69.75" y1="601.85" x2="76.45" y2="601.85" stroke="#000" stroke-width="1"/>
<line x1="69.75" y1="584.69" x2="76.45" y2="584.69" stroke="#000" stroke-width="1"/>
<line x1="69.75" y1="567.54" x2="76.45" y2="567.54" stroke="#000" stroke-width="1"/>
<text transform="translate(61.00,567.54) rotate(-90)" font-size="17.6" text-anchor="middle">7000</text>
<text x="77.95" y="580.10" font-size="21.2">G</text>
<rect x="366.6" y="563.1" width="236.90" height="129.30" fill="#bebebe"/>
<g clip-path="url(#cp13)">
<line x1="406.60" y1="563.1" x2="406.60" y2="692.4" stroke="#111" stroke-width="1.2"/>
<line x1="431.68" y1="563.1" x2="431.68" y2="692.4" stroke="#7cd2d2" stroke-width="2.1"/>
<path d="M356.4 687.6l239.6 0" fill="none" stroke="#2020b8" stroke-width="1.4" stroke-linejoin="round"/>
<path d="M429.8 687.6l.7 0 .8 0 .7 0 .8-.2 .7 .1 .8-.5 .7 .2 .8-.3 .7-.4 .8 0 .7-.6 .8-.7 .7-1 .8 .1 .8-2.3 .7-.5 .8-1 .7-2.2 .8-2.7 .7-2.4 .8-3.2 .7-2.8 .8-3.9 .7-4.9 .8-4.5 .7-2.3 .8-6.7 .7-4.6 .8-1.3 .7-7.8 .8-4.9 .7-3.7 .8-1.8 .7-5.2 .8-2.4 .8-5.5 .7-.5 .8-1.5 .7-2.1 .8 0 .7-2.9 .8-6.1 .7 .2 .8-.3 .7-.3 .8-.6 .7-.2 .8-4 .7-1.6 .8 3.5 .7-3.2 .8-2.6 .7 1.4 .8 .2 .7-1.6 .8-.5 .8 2.7 .7-3.4 .8 1.6 .7-.5 .8-1.1 .7 3.6 .8-5.7 .7 5.4 .8-5.4 .7 .8 .8 .6 .7 .9 .8-.8 .7-1.8 .8-.2 .7 2.1 .8 .3 .7-3.2 .8 2.4 .7-1.1 .8-.6 .8-2.2 .7-.3 .8 2.3 .7-4.8 .8 3.2 .7 1.2 .8-3.2 .7 4.8 .8-.1 .7-4.1 .8 1.3 .7-.1 .8-.8 .7 0 .8 1.4 .7 1.6 .8-2.4 .7 0 .8-.1 .7-1.3 .8 1.9 .8-1.7 .7-.8 .8 2.3 .7-3.8" fill="none" stroke="#0000ff" stroke-width="1.0" stroke-linejoin="round"/>
<path d="M430.5 687.6l.7 0 .8-.2 .7 0 .8 0 .7 0 .8-.2 .7-.2 .8-.2 .7-.2 .8-.8 .7 .2 .8-.5 .7-.9 .8-1.1 .7-.3 .8-2 .8-.8 .7-2.5 .8-2.4 .7-2.3 .8-3.2 .7-3.1 .8-3.2 .7-4.5 .8-4.5 .7-4.1 .8-4.2 .7-5.1 .8-4.1 .7-4.5 .8-4.6 .7-3.6 .8-4.5 .7-2.1 .8-4 .7-2.3 .8-3.8 .8-3.9 .7-.9 .8-1.3 .7-1.2 .8-2.1 .7 .6 .8-5 .7-1.8 .8 1.1 .7-1.6 .8 .1 .7 0 .8 2.1 .7-6.2 .8-.3 .7 .8 .8-2.5 .7 .5 .8 2.4 .8-2.4 .7-.3 .8 1.2 .7-4.4 .8 2.3 .7-.6 .8 .2 .7-2.1 .8 .5 .7 .3 .8 .9 .7-2.3 .8 1.7 .7-4.2 .8 3.5 .7 .3 .8-2.6 .7 .7 .8 .3 .7 .2 .8 1.2 .8-1.6 .7-.8 .8-.1 .7 .6 .8 .6 .7-.9 .8-1.3 .7 .2 .8-.8 .7-.2 .8 .5 .7-.3 .8 1.9 .7-2.9 .8 1.7 .7-1.9 .8 2.8 .7-.8 .8 1.3 .7-1.1 .8-2.4 .8 1.5 .7-1.1 .8 .1" fill="none" stroke="#0000ff" stroke-width="1.0" stroke-linejoin="round"/>
<path d="M430.5 687.6l.8 0 .7-.1 .8 .1 .7-.2 .8-.1 .7-.1 .8-.2 .7-.2 .8-.2 .7-.3 .8-.3 .7-.6 .8-1 .7-.6 .8-.9 .8-1.5 .7-1.6 .8-1.8 .7-1.9 .8-2.7 .7-3.3 .8-3.1 .7-2.8 .8-5.5 .7-3.1 .8-5.2 .7-1.1 .8-7.4 .7-5.2 .8-4.7 .7-5.9 .8-3 .7-.9 .8-5.3 .7-3.8 .8-2.5 .8-2.5 .7-3.6 .8-.8 .7-1.4 .8-4.2 .7 0 .8-4.6 .7 .1 .8 2.1 .7-.5 .8-.1 .7-5.1 .8 .8 .7-1.1 .8 1.2 .7-1.6 .8-.9 .7 .2 .8-2 .7 1.5 .8-2.2 .8 1.5 .7-1.6 .8-.3 .7-2.2 .8-.9 .7-.4 .8 2.6 .7-3.9 .8 4.6 .7-2.6 .8-1.6 .7 2.1 .8-2.4 .7 1.5 .8-.6 .7 1.9 .8-.6 .7-.1 .8-2.1 .7 2.2 .8-2 .8 .1 .7 .3 .8-.3 .7-2.4 .8 2.6 .7-3.2 .8 2.8 .7-.9 .8 .1 .7-1.8 .8 2.9 .7-1.7 .8 1.3 .7-2.3 .8-.1 .7 1 .8 1.3 .7-3.4 .8 1 .7 0 .8 .2 .8-.3 .7 2.1" fill="none" stroke="#0000ff" stroke-width="1.0" stroke-linejoin="round"/>
<path d="M431.4 687.6l.7 0 .8 0 .7-.2 .8 0 .7 0 .8 0 .7-.6 .8 0 .7-.1 .8-.5 .7-.2 .8-.6 .8-1 .7-.7 .8-.8 .7-1.7 .8-1.1 .7-1.9 .8-2.5 .7-2.2 .8-3.3 .7-3 .8-4.5 .7-2.3 .8-5.5 .7-3.3 .8-3.7 .7-5.1 .8-6.1 .7-4.4 .8-4.6 .7-3.7 .8-5 .8-4.5 .7-.7 .8-3.2 .7-.7 .8-2 .7-6 .8-1.4 .7 .5 .8-1 .7-2.8 .8-1.3 .7-3.7 .8 4.4 .7-4.9 .8 .8 .7-1.1 .8-2.4 .7 1.6 .8 .2 .7-2.6 .8-.3 .8 .2 .7 0 .8-.6 .7-2.8 .8-.4 .7 .1 .8-3.3 .7 1.6 .8 1.2 .7-.9 .8-.5 .7 2.1 .8-1 .7 .5 .8-1.6 .7-.6 .8-.8 .7 1.3 .8-3 .7 1.1 .8 1.9 .8 .2 .7-1.4 .8-1.7 .7 2.3 .8-2 .7 .7 .8-1.3 .7 3.8 .8-.6 .7-3.4 .8-.6 .7 1.5 .8 .9 .7 .7 .8-1.9 .7-1.8 .8 2.1 .7-.1 .8-2.7 .7 1.8 .8-.2 .8-1 .7 1.6 .8 1.1 .7-.1" fill="none" stroke="#0000ff" stroke-width="1.0" stroke-linejoin="round"/>
<path d="M431 687.6l.8 0 .7-.1 .8 0 .7 .1 .8-.5 .7 .1 .8-.2 .7-.1 .8 0 .8-.6 .7-.5 .8-.4 .7-.8 .8-.7 .7-.4 .8-2.3 .7-1.4 .8-1.8 .7-3.1 .8-1.3 .7-3.3 .8-4.5 .7-2.6 .8-3.7 .7-5.1 .8-2.9 .7-6 .8-5.6 .7-2.5 .8-5.4 .8-4.1 .7-6 .8-3.5 .7-3 .8-2.2 .7-2.8 .8-.7 .7-2.1 .8-3.8 .7-2.2 .8 .8 .7-3.9 .8-.2 .7-3.2 .8-.6 .7-1.3 .8-1.5 .7 .5 .8-2.4 .7 .2 .8 0 .8 1.7 .7-6 .8 2.1 .7 .3 .8-1.8 .7 1.2 .8-.9 .7-.4 .8-1.6 .7-.1 .8-.3 .7-1.4 .8 1.4 .7-2 .8-.1 .7-.9 .8 3.3 .7-2.6 .8-.6 .7 2.1 .8-1.9 .8 .9 .7-.9 .8 .6 .7-.4 .8-3.5 .7 5 .8-.8 .7-3.6 .8 3.1 .7-1.7 .8 .4 .7 1.5 .8-.5 .7-.1 .8 1.3 .7-1.4 .8-2.5 .7-1 .8 2.9 .7-3.7 .8 1.8 .8-.1 .7-.6 .8 2.9 .7-1.6 .8-.8 .7 1.5 .8-1.9" fill="none" stroke="#0000ff" stroke-width="1.0" stroke-linejoin="round"/>
<path d="M432 687.7l.8-.1 .7-.1 .8 0 .7-.2 .8-.1 .7-.1 .8-.2 .7 0 .8-.2 .7-.4 .8-.4 .7-.4 .8-.6 .7-.8 .8-1.4 .7-1.2 .8-1 .8-2.3 .7-1.7 .8-3.5 .7-2.7 .8-3.6 .7-3.3 .8-3.7 .7-4.9 .8-2.5 .7-7.6 .8-2.6 .7-6.5 .8-3.2 .7-5.5 .8-3.1 .7-3.8 .8-4.4 .7-3.6 .8-2.3 .7-1.7 .8-1.3 .8-1.1 .7-6.1 .8 1.1 .7-2.8 .8-.8 .7-.8 .8-.6 .7-1.5 .8-1.5 .7 1.2 .8-2.5 .7-1.1 .8 .8 .7-3.7 .8-.3 .7 2.7 .8-2.7 .7-2.7 .8 3.1 .7 .1 .8-3 .8-1.1 .7 1.3 .8 .3 .7-1.6 .8-.8 .7 1.8 .8-.3 .7-3.2 .8 .5 .7 .8 .8-.6 .7 1 .8 .2 .7 1.7 .8-2.3 .7 .6 .8-3.6 .7 1.1 .8 2.2 .7-3.6 .8 3.8 .8-1.3 .7-.7 .8-.5 .7-1.5 .8 0 .7 .6 .8 0 .7 2.3 .8-3.3 .7 .5 .8-1.7 .7 2.6 .8-.3 .7 1.4 .8 1.1 .7-2 .8-2.1 .7 1.5 .8 0" fill="none" stroke="#0000ff" stroke-width="1.0" stroke-linejoin="round"/>
<path d="M431.8 687.5l.7 .1 .8-.1 .7 0 .8-.1 .7-.3 .8 .2 .7 0 .8-.5 .8-.3 .7-.1 .8-.8 .7-.3 .8-.6 .7-1 .8-1 .7-1.5 .8-1.5 .7-1.4 .8-2.9 .7-2.4 .8-3 .7-2.7 .8-4.2 .7-4.3 .8-3.4 .7-6.4 .8-4.7 .7-2.7 .8-3.2 .8-6.8 .7-3.5 .8-5.9 .7-2.1 .8-3.4 .7-2.7 .8-4.3 .7 .6 .8-5.8 .7 .9 .8-5.1 .7 .7 .8-.9 .7-.3 .8-4.2 .7-3.2 .8 2.2 .7-3 .8-1.3 .7-.2 .8-1.2 .8 1.6 .7-1.4 .8 .1 .7-.3 .8-2.2 .7 1 .8 .3 .7 .4 .8-2.7 .7-.9 .8-1.3 .7 .5 .8 .2 .7 .1 .8-2.5 .7 1 .8 .1 .7-.8 .8-.3 .7 1.2 .8-2.1 .8 1.8 .7-2.3 .8 1.6 .7-2 .8 3 .7-.7 .8 .7 .7-3.2 .8-.8 .7-.2 .8 1.4 .7 1.7 .8-.6 .7-.2 .8-2.8 .7 3.2 .8-.6 .7-1.9 .8-2.9 .7 2.3 .8 .9 .8 2.3 .7-2 .8-.5 .7 2.3 .8-.2 .7-1.7 .8 .3" fill="none" stroke="#0000ff" stroke-width="1.0" stroke-linejoin="round"/>
<path d="M432.5 687.6l.7 0 .8-.1 .7-.1 .8 0 .7 0 .8 0 .7-.3 .8-.1 .8-.4 .7-.5 .8-.3 .7-.4 .8-.9 .7-.2 .8-1.2 .7-1.7 .8-.8 .7-2.3 .8-1.7 .7-3.4 .8-2.4 .7-3.9 .8-3.5 .7-3.2 .8-3.6 .7-5.9 .8-4.4 .7-5.8 .8-4 .8-3.9 .7-6.2 .8-3.2 .7-4.5 .8-1.9 .7-2.4 .8-3.4 .7-3.3 .8-3.3 .7-2.8 .8 .1 .7 .2 .8-3.8 .7-1.1 .8-1.8 .7-2.1 .8 1.9 .7-1.5 .8-3.7 .7-.5 .8 2.7 .8-3.7 .7 .5 .8-1.9 .7 1.3 .8-2 .7-.3 .8-1.1 .7 3.7 .8 .6 .7-3.6 .8 .3 .7-.5 .8-1.1 .7-.4 .8-.6 .7 1.3 .8-3 .7 .3 .8 1.9 .8-3.2 .7 4.1 .8-2.9 .7 .5 .8 1.4 .7-2.1 .8 .1 .7-1.2 .8 1.4 .7 .1 .8-2.3 .7 2 .8 .3 .7-.8 .8-1.8 .7 2.2 .8 .5 .7-2.7 .8-2 .7 1.5 .8 .9 .8 1.7 .7-.2 .8-.8 .7-2 .8 1.9 .7-1.1 .8-1.6 .7-1.1" fill="none" stroke="#0000ff" stroke-width="1.0" stroke-linejoin="round"/>
<path d="M432.6 687.5l.8 .1 .7 0 .8-.1 .7-.1 .8-.1 .7-.1 .8-.1 .8-.1 .7-.5 .8-.3 .7-.4 .8-.2 .7-.7 .8-1.3 .7-.9 .8-1.2 .7-2.3 .8-1.4 .7-1.9 .8-3.3 .7-2.1 .8-3.4 .7-4.1 .8-2.8 .7-5.8 .8-3.4 .7-5.2 .8-3.4 .8-6.5 .7-3.2 .8-4.3 .7-3.5 .8-3.1 .7-7 .8-1.5 .7-4 .8-.1 .7-1.8 .8-4.2 .7-1.2 .8-.3 .7-3 .8-1.8 .7-3.3 .8 .1 .7 1.2 .8-4.2 .7 1.4 .8-.9 .8-1 .7 .4 .8-2.8 .7 2.4 .8-3.1 .7 1.5 .8-2.6 .7 .7 .8-1.2 .7 2.4 .8-4.2 .7 .3 .8 2.6 .7-1.3 .8-1.4 .7-.6 .8-1.7 .7 1.2 .8 .6 .7 1 .8-.6 .8 .5 .7-1.7 .8-1.7 .7 .4 .8 2.4 .7-2.1 .8 1.7 .7-4.4 .8 1.4 .7-.6 .8 1.4 .7-1.7 .8-.8 .7 1.6 .8-3.3 .7 2.3 .8 1.4 .7-2.4 .8 1.5 .7-1.3 .8 .7 .8 .7 .7 .3 .8-.2 .7-1.7 .8 3.2 .7-1.8 .8-1.5" fill="none" stroke="#0000ff" stroke-width="1.0" stroke-linejoin="round"/>
<path d="M433 687.6l.7 0 .8 0 .7-.1 .8-.1 .8-.1 .7-.2 .8-.1 .7 0 .8-.4 .7-.3 .8-.3 .7-.7 .8-.9 .7-1 .8-.2 .7-1.8 .8-.9 .7-1.6 .8-2.9 .7-2.3 .8-3.5 .7-3.2 .8-3.5 .7-4.1 .8-3.1 .8-5.7 .7-3.8 .8-5.3 .7-4.2 .8-3.3 .7-7.9 .8-1.1 .7-5.7 .8-2.5 .7-3.8 .8-3 .7-3.7 .8-4 .7 4.1 .8-3.5 .7-3.2 .8-3.7 .7 2 .8-.1 .7-2.7 .8-3.9 .8 .6 .7 .2 .8-1.2 .7 .9 .8-3.6 .7-.2 .8-3.2 .7 4.6 .8-1.2 .7-2 .8-2.4 .7 3.4 .8-3.7 .7-.1 .8-1.3 .7 .4 .8 .4 .7-.5 .8 2.9 .7-.9 .8-1.1 .8-1.2 .7 .5 .8-2 .7 2.3 .8-2.2 .7 .5 .8 1 .7-1.9 .8-.9 .7 3.4 .8-4.2 .7 .5 .8 0 .7 .5 .8 .7 .7-4.6 .8 3.9 .7 2.7 .8-.5 .7-.5 .8-1.6 .8 .4 .7-1.3 .8-1.7 .7 2.9 .8 1 .7-1.2 .8-.6 .7 1.2 .8-.9 .7 1.2" fill="none" stroke="#0000ff" stroke-width="1.0" stroke-linejoin="round"/>
<path d="M432.6 687.5l.7 .1 .8 0 .7-.2 .8 0 .7 0 .8-.4 .7 .3 .8-.3 .7-.4 .8-.5 .7-.5 .8 .5 .7-1.5 .8-.6 .8-1.5 .7-1.1 .8-1.2 .7-2.6 .8-1.8 .7-2.6 .8-2.6 .7-3 .8-4.3 .7-2.8 .8-5.8 .7-4.4 .8-4.2 .7-5 .8-3.6 .7-8.5 .8-3.2 .7-4.6 .8 .4 .8-4.1 .7-5 .8-1.4 .7-5.4 .8-.4 .7 .3 .8-3 .7 .3 .8-5.1 .7 .8 .8-2.7 .7-.8 .8-1.2 .7-.2 .8-.1 .7-2.6 .8-.3 .7-1.3 .8-.1 .7-2.2 .8 2.1 .8-.9 .7-1 .8-1 .7-1.3 .8-.8 .7-.6 .8 .1 .7 2.2 .8-1 .7-3.1 .8 .4 .7 3.2 .8 .3 .7-1.5 .8 1.7 .7-4.4 .8 1.5 .7-1.8 .8 4.1 .7-2.9 .8-.2 .8-.2 .7-1.7 .8 .8 .7-3.5 .8 2.6 .7-1 .8 2.6 .7 .7 .8-1.7 .7-2.1 .8-.2 .7 2.7 .8-1.6 .7-.1 .8-1.4 .7 1.9 .8-.1 .7 .8 .8-2.7 .7 1.3 .8-2.2 .8 2.4 .7-.4" fill="none" stroke="#0000ff" stroke-width="1.0" stroke-linejoin="round"/>
<path d="M432.8 687.6l.8-.1 .7 .1 .8-.1 .8 0 .7-.1 .8-.2 .7-.2 .8 0 .7-.4 .8-.2 .7-.6 .8-.3 .7-.7 .8-1.3 .7-.1 .8-1.5 .7-1.6 .8-2.1 .7-2.3 .8-2.1 .7-1.8 .8-5 .8-4.3 .7-3.3 .8-4.1 .7-3.7 .8-6.7 .7-3.9 .8-4.6 .7-3.2 .8-4.1 .7-5.1 .8-2.7 .7-4.6 .8-3.1 .7-5.8 .8-.9 .7-2.6 .8 0 .7-2.4 .8-3.3 .7 0 .8-1.7 .8-.5 .7-2.5 .8-1.3 .7 1.8 .8-3 .7 1 .8-3.4 .7 .2 .8-.7 .7-1.6 .8 1.9 .7-3.5 .8 1.9 .7-3.9 .8 3.7 .7-1.4 .8 1.3 .7 .9 .8-4.2 .7 .7 .8-2.2 .8 .9 .7 .5 .8-.2 .7 .8 .8-.6 .7 .5 .8-2.7 .7 1.1 .8-2 .7 1.1 .8-3.9 .7 3.7 .8 .1 .7-.9 .8-.1 .7-2.1 .8 1.5 .7-.1 .8 1.1 .7 .2 .8-1.4 .8 .3 .7 .6 .8-1.9 .7 2.7 .8 1.4 .7-2.5 .8-1.4 .7 .9 .8 1.4 .7 0 .8-3.9 .7 2.4 .8-1.7" fill="none" stroke="#0000ff" stroke-width="1.0" stroke-linejoin="round"/>
<path d="M433 687.6l.8 0 .7-.1 .8-.1 .7 0 .8-.2 .7 .2 .8-.5 .7 .1 .8-.4 .8-.3 .7-.6 .8-.5 .7-.6 .8-.9 .7-1 .8-1.2 .7-1.8 .8-1.4 .7-2.1 .8-3.2 .7-2.2 .8-3.7 .7-4.1 .8-3.3 .7-3.7 .8-5.6 .7-6.1 .8-2.2 .7-4.4 .8-6.8 .8-3.3 .7-3.4 .8-7 .7 .3 .8-3.2 .7-2.7 .8-1.7 .7-5.6 .8 .5 .7-.1 .8-7.7 .7 .9 .8 .1 .7-3.2 .8-2.7 .7 1.9 .8-1.2 .7-2.1 .8 .5 .8 .2 .7-.5 .8-1.5 .7-2.9 .8 .8 .7-3.4 .8 1.3 .7 1.3 .8 .2 .7-1.2 .8-.4 .7-3.1 .8 .6 .7-.1 .8 .5 .7-.3 .8 3.8 .7-1.9 .8-3.2 .7 .3 .8-.1 .8-.2 .7-.1 .8-2.4 .7 4.5 .8-.9 .7-.2 .8-1 .7 .4 .8-1.3 .7-2.6 .8 3 .7-.3 .8-2.1 .7-1.5 .8 4.9 .7-3.3 .8 1.1 .7-.8 .8 3.4 .7-4.8 .8 3.7 .8-5.4 .7 5 .8-2.2 .7-2.7 .8 3.4 .7-.3 .8-2.4" fill="none" stroke="#0000ff" stroke-width="1.0" stroke-linejoin="round"/>
<path d="M433.5 687.6l.8 0 .7-.1 .8-.1 .7-.1 .8 0 .7-.1 .8-.2 .8 0 .7-.5 .8 0 .7-.5 .8-.8 .7-1 .8-.4 .7-.8 .8-1.1 .7-1.9 .8-1.8 .7-2.7 .8-2.6 .7-.7 .8-4.4 .7-5.4 .8-2.8 .7-4.1 .8-6.5 .7-3.3 .8-3.9 .8-3.5 .7-4.5 .8-6.5 .7-4 .8-4 .7-2.6 .8-2.3 .7-5.2 .8-1.5 .7-2.8 .8-2.4 .7-1.5 .8 1.4 .7-1.7 .8-1.7 .7-5.6 .8 1.6 .7 1.8 .8-3.7 .7-2.4 .8 1 .8-2 .7-.8 .8 .3 .7-.3 .8-1.5 .7-.3 .8-1.9 .7 1 .8 .7 .7-1.3 .8-.7 .7-2.2 .8 3.4 .7-3.7 .8 2.5 .7-1.8 .8 1.4 .7 .1 .8-2.2 .7-4.2 .8 1.2 .8 1.4 .7-.1 .8 1.6 .7 2.3 .8-2.1 .7-1.4 .8 2.1 .7-2.4 .8 1.4 .7-.9 .8-3.5 .7 4.1 .8 1.1 .7-3.3 .8 1.6 .7-.5 .8-1.3 .7-.2 .8 1.9 .7-2.5 .8 0 .8 2 .7 0 .8 .9 .7-3.3 .8-1.2 .7 3.6" fill="none" stroke="#0000ff" stroke-width="1.0" stroke-linejoin="round"/>
<path d="M433.1 687.6l.7-.1 .8 .1 .7-.1 .8-.2 .7 0 .8 0 .7-.4 .8-.2 .7 .1 .8-.5 .7-.6 .8-.4 .7-.6 .8-1.2 .7-.9 .8-.6 .7-2 .8-1.5 .8-2.7 .7-2.8 .8-2.5 .7-4.1 .8-2.8 .7-4.5 .8-4.2 .7-4.5 .8-5.3 .7-2.5 .8-7.5 .7-2.8 .8-6 .7-1.6 .8-5 .7-3 .8-2.8 .7-2.9 .8-2.8 .7-2.1 .8-2.1 .8-2.9 .7-1.5 .8-1.5 .7-2.1 .8-1 .7 1.4 .8-4.9 .7 3.4 .8-4 .7 .9 .8-1.7 .7-.9 .8 .4 .7 1.1 .8-3.2 .7-.3 .8-1.2 .7 3.2 .8-1.6 .7-.5 .8-1.9 .8-3.1 .7 3.1 .8-3.6 .7 1.4 .8 2 .7-2.5 .8-.4 .7-2.3 .8 3.9 .7-.6 .8-1.6 .7 1.1 .8-3.1 .7 .8 .8 1.5 .7 .9 .8-1.5 .7-1.9 .8 .9 .7 2.2 .8-2.6 .8 1.1 .7 .1 .8-1.5 .7 .7 .8-2.8 .7 1.7 .8 .8 .7 .8 .8 .9 .7-2.8 .8 1.3 .7-.9 .8-1.1 .7-.1 .8 1 .7 0 .8-1.2" fill="none" stroke="#0000ff" stroke-width="1.0" stroke-linejoin="round"/>
<path d="M434.9 687.6l.8 0 .7-.1 .8 .1 .7-.3 .8 0 .7-.1 .8 0 .7-.3 .8-.4 .7 0 .8-.5 .7-.7 .8-.7 .7-.9 .8-.9 .7-1.9 .8-.9 .7-2.2 .8-1.7 .8-2.6 .7-3.8 .8-1.8 .7-4 .8-5.2 .7-4.5 .8-4.2 .7-3.7 .8-3.8 .7-6.8 .8-4.5 .7-2.9 .8-4.7 .7-3.8 .8-3.5 .7-3.3 .8-.3 .7-3.5 .8-4 .7 0 .8-1.1 .8-3.5 .7-1.8 .8-2.5 .7-.4 .8-1 .7 .4 .8-4.1 .7-1.8 .8 .8 .7 .4 .8-4 .7 1.9 .8-1.4 .7-1 .8 1.3 .7 1 .8-4.1 .7 1.9 .8-1 .7 .8 .8-1.2 .8-1.3 .7 1.9 .8-.9 .7-2.4 .8-1.7 .7 1.7 .8 1 .7 .6 .8-2.1 .7 0 .8-2.2 .7 1.8 .8 .6 .7-1.2 .8 .6 .7-1.5 .8 0 .7 1.6 .8-2.8 .7 2.1 .8 1.6 .8-2.7 .7 0 .8-.6 .7-.8 .8 .9 .7-1.1 .8 1.4 .7-.5 .8-1 .7 1.6 .8 1.4 .7-.4 .8-1.7" fill="none" stroke="#0000ff" stroke-width="1.0" stroke-linejoin="round"/>
<path d="M434.1 687.5l.7 0 .8 .1 .7-.1 .8 0 .7-.3 .8 .2 .7-.3 .8 0 .7-.5 .8-.1 .7-.7 .8-.7 .8-.4 .7-1.1 .8-.9 .7-1.1 .8-1.4 .7-1.9 .8-2 .7-3.9 .8-1.4 .7-4.5 .8-3.1 .7-4.4 .8-4.9 .7-2.8 .8-6.3 .7-4.3 .8-2.7 .7-8.4 .8-3.8 .7-1.2 .8-5.2 .8-2.1 .7-4 .8-3.5 .7-1 .8-4.1 .7-2 .8-.8 .7-3.5 .8-2 .7-1.7 .8 2.2 .7 .2 .8-2.1 .7-3.4 .8-.7 .7-1.5 .8 .6 .7 .8 .8-2.2 .7-.5 .8-5.1 .8 4.5 .7-2.6 .8 .9 .7 .5 .8-.7 .7 .5 .8 .8 .7-5.8 .8 .7 .7 4.4 .8-2 .7-2 .8 .5 .7 .1 .8 1.3 .7-2.2 .8 .3 .7-2.2 .8 3.9 .7-1.6 .8-1.5 .8-1.5 .7 1.8 .8 1.2 .7 1.9 .8-.7 .7-3.5 .8-.2 .7-.9 .8 2 .7-1.9 .8 1.9 .7-.5 .8 0 .7-2.1 .8 3 .7-2.1 .8-1.6 .7 1.7 .8 .2 .7-.2 .8 1.2" fill="none" stroke="#0000ff" stroke-width="1.0" stroke-linejoin="round"/>
<path d="M434.8 687.7l.7-.1 .8 0 .7-.3 .8 .2 .7-.2 .8 0 .7-.3 .8-.1 .8-.2 .7-.5 .8-.4 .7-1.1 .8 .1 .7-1 .8-1.1 .7-.8 .8-1.9 .7-1.9 .8-3.2 .7-1.5 .8-3.2 .7-2.5 .8-4.7 .7-4.6 .8-3.5 .7-2.7 .8-7 .7-2.6 .8-6.1 .8-6.6 .7-1.5 .8-2.1 .7-5.9 .8-5.2 .7-2.1 .8-3.7 .7 2.2 .8-5.2 .7-6 .8 2.4 .7-2.2 .8-3.6 .7-.8 .8-.6 .7 1.4 .8-4.2 .7-1.3 .8 1.5 .7-3 .8-1.3 .8 .6 .7 .7 .8-1.6 .7-1.2 .8 2.1 .7-.6 .8-4.7 .7 .2 .8 0 .7 .6 .8 .2 .7-.6 .8-.1 .7 .2 .8-2.8 .7-1.5 .8 3.3 .7 1.2 .8-1.8 .7-1.1 .8 1.3 .8-1.5 .7-1.6 .8 1.1 .7 1.6 .8-.9 .7 .4 .8-1.9 .7 1.4 .8 1.2 .7-2.7 .8-.4 .7 2.4 .8-1.8 .7-2 .8 1 .7 2.5 .8-1.5 .7 2.1 .8-1.9 .7-.7 .8 1.1 .8-2.5 .7 2.4 .8-1.8" fill="none" stroke="#0000ff" stroke-width="1.0" stroke-linejoin="round"/>
<path d="M434.5 687.6l.7-.1 .8 0 .7-.1 .8 .1 .7-.1 .8-.2 .7-.1 .8-.3 .7-.2 .8 0 .8-.9 .7-.1 .8-1 .7-.6 .8-1.2 .7-1.4 .8-1.4 .7-1.5 .8-3 .7-2.7 .8-1.9 .7-4.1 .8-3.5 .7-4 .8-4.5 .7-5.7 .8-3.2 .7-5 .8-5.6 .7-3.8 .8-3.5 .8-2.4 .7-6.3 .8-1.2 .7-5.3 .8-1.7 .7-3.4 .8-1.1 .7-2.8 .8-2.6 .7-3.3 .8 1.9 .7-4.8 .8-.1 .7 2.1 .8-3.1 .7-1.2 .8-.8 .7-.6 .8-1.6 .7 .3 .8-1.4 .8-.8 .7 .6 .8-.3 .7-.8 .8 .4 .7 .9 .8-.6 .7-2.7 .8-2 .7 2.9 .8-1.8 .7 .7 .8-1.9 .7 1.5 .8-3.1 .7 1.6 .8-2.4 .7 4.6 .8-3.5 .7-2.8 .8 4.7 .8-.6 .7 .4 .8-3.8 .7 2 .8 1.3 .7-2.4 .8 .7 .7-1 .8-.2 .7 2.3 .8-3.3 .7 1.1 .8 .7 .7-.9 .8 1.1 .7-4.3 .8 4.5 .7-3.5 .8 1.3 .7-.2 .8 1.1 .8-1.1 .7-.4" fill="none" stroke="#0000ff" stroke-width="1.0" stroke-linejoin="round"/>
<path d="M435.1 687.7l.7-.2 .8 0 .7-.1 .8-.1 .7-.1 .8 0 .7 0 .8-.4 .7-.3 .8-.2 .8-.6 .7 .2 .8-.9 .7-1.2 .8-1.6 .7-.9 .8-1.7 .7-1.9 .8-2.9 .7-1.8 .8-3 .7-3.4 .8-4.1 .7-2.8 .8-5.2 .7-5.8 .8-3.6 .7-3 .8-4.2 .7-7 .8-3.3 .8-3.3 .7-3.3 .8-5 .7-2.2 .8-3.8 .7-4.2 .8 1.1 .7-3.4 .8-1.2 .7-2.6 .8-2.4 .7-.9 .8-.2 .7-3.3 .8 2.8 .7 0 .8-7.1 .7 3.6 .8-2.6 .7 .7 .8-1.2 .8-1.1 .7 1 .8-1.6 .7 1.5 .8-2.1 .7-2.9 .8 1.4 .7-.1 .8-1.2 .7-1.2 .8 4.2 .7-3.2 .8-.2 .7-2.5 .8 2.9 .7-1.2 .8 1.5 .7 .6 .8-3.5 .7-.3 .8 2.5 .8-.3 .7-1.3 .8 .5 .7-1.7 .8 .3 .7-.1 .8-3.2 .7 4 .8-.1 .7-2.6 .8 .5 .7 1.1 .8 .5 .7-1.2 .8-.8 .7 1.2 .8-.5 .7-1.7 .8 .9 .7-.2 .8 1.4 .8-2.9" fill="none" stroke="#0000ff" stroke-width="1.0" stroke-linejoin="round"/>
<path d="M434.7 687.6l.8 0 .7 0 .8-.1 .8 0 .7-.1 .8-.1 .7 0 .8-.4 .7-.4 .8-.3 .7 0 .8-.4 .7-.8 .8-.5 .7-1.5 .8-1.8 .7-1.2 .8-1.8 .7-1.9 .8-2.5 .7-3.9 .8-2.1 .8-4.8 .7-3.4 .8-3.9 .7-4.4 .8-4.8 .7-5.7 .8-4.2 .7-3.5 .8-5.8 .7-4.9 .8-5.3 .7-.5 .8-4.3 .7-1.7 .8-3.9 .7-1.5 .8-2.1 .7-.2 .8-4 .7-2 .8 .3 .8-.3 .7-3.5 .8 .9 .7-1.7 .8-.2 .7-4 .8 1.9 .7-1.1 .8 0 .7-1.9 .8 .3 .7-3.4 .8 2.5 .7 1.6 .8-2.1 .7-.6 .8 .1 .7 1.1 .8-3.2 .7-1.5 .8 .2 .8 .4 .7 .8 .8 .8 .7-2.4 .8-.7 .7 2.6 .8 0 .7-2.8 .8 2 .7-1.5 .8-.6 .7 .3 .8-1.2 .7-1.4 .8 .3 .7 .8 .8 1.4 .7 0 .8 .6 .7-2.6 .8 1 .8-2.1 .7 .5 .8 2.9 .7-1.8 .8 2.8 .7-1.8 .8-1.8 .7-.4 .8-2.1 .7 4.8" fill="none" stroke="#0000ff" stroke-width="1.0" stroke-linejoin="round"/>
<path d="M435.6 687.7l.8-.1 .7-.1 .8-.1 .7-.1 .8 0 .7-.1 .8-.3 .7 .1 .8-.2 .8-.7 .7-.3 .8-.8 .7-.1 .8-1.3 .7-1.2 .8-1.6 .7-1.3 .8-2.2 .7-.9 .8-2.8 .7-4 .8-3.1 .7-3.2 .8-3.8 .7-5.3 .8-2.4 .7-5.2 .8-3.3 .7-9.5 .8-3.4 .8-1.9 .7-4.6 .8-4.3 .7-4.5 .8-1.1 .7-4.1 .8-.2 .7-2.6 .8-2.3 .7-5.6 .8 1.2 .7 .4 .8-1.3 .7-2 .8-1.3 .7-3.7 .8 2.1 .7-.3 .8-2.8 .7-.6 .8-1.6 .8-.2 .7-1.3 .8 .6 .7-1.4 .8-2.4 .7 .8 .8 1.1 .7-.7 .8 1.5 .7-1.1 .8 .2 .7-2.3 .8 1.4 .7-2.9 .8-.2 .7 2.1 .8-1.2 .7-1.8 .8 2.4 .7 .5 .8-1.2 .8 .6 .7-.7 .8-.2 .7-2.7 .8-1.7 .7 2.1 .8-4.5 .7 3.9 .8-1 .7 1.7 .8-1.3 .7 .9 .8-1.5 .7 .9 .8 2.5 .7-3.9 .8-1.1 .7 4.6 .8-1.1 .7-1.3 .8-.6 .8 .9" fill="none" stroke="#0000ff" stroke-width="1.0" stroke-linejoin="round"/>
<path d="M435.3 687.6l.8-.1 .8 0 .7 0 .8-.1 .7 0 .8-.3 .7-.1 .8-.1 .7-.4 .8 0 .7-.7 .8-.4 .7-1.2 .8-.2 .7-1.2 .8-2 .7-.8 .8-1.8 .7-2.7 .8-2.8 .7-3.2 .8-2.4 .8-3.7 .7-4.2 .8-2.4 .7-6.2 .8-4.5 .7-6.3 .8-2.8 .7-3.9 .8-6.4 .7-.6 .8-6.8 .7-2.6 .8-3.8 .7-2.9 .8-5.7 .7 2.5 .8-6.1 .7 2.6 .8-4.8 .7-.8 .8 2.7 .8-6 .7-.1 .8-2.5 .7 .5 .8 0 .7 .8 .8-6.7 .7 2.9 .8 .4 .7-.2 .8-2.9 .7 .7 .8 2.1 .7-2.6 .8 2.1 .7-5.1 .8 .3 .7 .7 .8-1.8 .7 2.1 .8-2.8 .8 1.8 .7-2.9 .8 .7 .7 1.4 .8 .2 .7-2.5 .8-1 .7 2.9 .8-2.5 .7 1.9 .8 1.2 .7-1.2 .8-3.3 .7 3.9 .8-.3 .7-2.7 .8 .1 .7 2.6 .8-1.7 .8 0 .7 .9 .8-.9 .7 3.2 .8-2.2 .7-1.9 .8-.2 .7-.7 .8 2.2 .7-3.7 .8 3 .7-2.3" fill="none" stroke="#0000ff" stroke-width="1.0" stroke-linejoin="round"/>
<path d="M435 687.6l.8 0 .7-.1 .8 0 .7-.1 .8-.1 .7 0 .8-.1 .7-.3 .8-.3 .7-.3 .8-.3 .8-.6 .7-.9 .8-.8 .7-.8 .8-1.5 .7-1.6 .8-1.2 .7-2.5 .8-2.3 .7-4 .8-2.2 .7-4.2 .8-4.2 .7-4.6 .8-4.5 .7-4.5 .8-4.1 .7-4.9 .8-2.3 .8-6 .7-4.3 .8-4.1 .7-4.3 .8-3.2 .7-1.3 .8-5 .7 1.7 .8-2.1 .7-5.9 .8 1.9 .7-1.7 .8-1.4 .7-1.9 .8 .2 .7-4.4 .8-.5 .7 .6 .8-1.6 .7-2.8 .8 2.5 .8-.3 .7-2.4 .8 .3 .7 .4 .8-4.9 .7 1.8 .8-.9 .7 .7 .8-2 .7-.4 .8 1.9 .7 2 .8-4.7 .7 3.9 .8-1.2 .7-.2 .8 .2 .7-2.8 .8 2.1 .7-4.1 .8 .9 .8 1.5 .7 .4 .8-3.3 .7-.9 .8 3.2 .7-.3 .8 .4 .7-1.2 .8-2 .7 3.5 .8-.7 .7-1 .8 2.9 .7-3 .8 1.8 .7-2.6 .8-4.2 .7 2.5 .8-2.4 .7 3.6 .8 2 .8-4.4 .7 3.6" fill="none" stroke="#0000ff" stroke-width="1.0" stroke-linejoin="round"/>
<path d="M435.9 687.6l.7 0 .8-.1 .7 0 .8-.1 .7 0 .8 0 .7-.3 .8 0 .7-.5 .8-.2 .7-.5 .8-.7 .7-.5 .8-1 .8-.7 .7-1.9 .8-1.5 .7-1.1 .8-2.4 .7-2.5 .8-2.9 .7-2.9 .8-4 .7-3.7 .8-5.6 .7-3.4 .8-5.7 .7-5.2 .8-3.7 .7-3.7 .8-5 .7-2 .8-5 .7-3.7 .8-3.5 .8-4.6 .7-.9 .8-2.3 .7 .2 .8-5.3 .7-.8 .8-2.4 .7-.2 .8-3.8 .7 1.6 .8-1.4 .7-.8 .8 2.6 .7-4.6 .8 0 .7-1.4 .8 1 .7 1.1 .8-1.4 .7-2.4 .8-2.8 .8 2 .7-3.4 .8 .7 .7 .1 .8-1.1 .7 1.3 .8-.8 .7-.9 .8 1.4 .7-1.9 .8 2.7 .7-1.2 .8-1.8 .7 1.1 .8-1.8 .7-.2 .8 2.3 .7-4 .8 2.8 .7 2 .8-6.3 .8 6.7 .7-6.5 .8-.6 .7 0 .8 1.3 .7 .7 .8-2.1 .7 2.5 .8 1.4 .7-2.5 .8 1.2 .7 .7 .8 1.5 .7-2.8 .8 1.1 .7-.4 .8-.8" fill="none" stroke="#0000ff" stroke-width="1.0" stroke-linejoin="round"/>
<path d="M436.1 687.6l.7 0 .8-.1 .7 0 .8-.1 .7 0 .8-.1 .7 0 .8-.3 .7-.6 .8 .2 .7-.9 .8-.5 .7-.3 .8-1.2 .8-1.5 .7-.5 .8-1.6 .7-1.8 .8-3.1 .7-1.4 .8-3.8 .7-2.3 .8-5.2 .7-3.8 .8-5.2 .7-3.5 .8-3 .7-5.4 .8-5.5 .7-2.5 .8-5.6 .7-3.4 .8-4.2 .8-4 .7-2.8 .8-2.4 .7-1.7 .8-3 .7-1.7 .8-4.6 .7-2.7 .8 1.4 .7-1.6 .8-.9 .7-3.2 .8 .6 .7-2.7 .8 .8 .7-1.1 .8-.9 .7 .1 .8-1.8 .7 .1 .8 .5 .8 .7 .7-2.1 .8 .1 .7-.7 .8 1.2 .7 .3 .8-4.4 .7 1.7 .8-.9 .7 1.6 .8-6.2 .7 2.4 .8-1.9 .7 4.4 .8-1.9 .7 .4 .8-.6 .7-.4 .8 .1 .7-1.5 .8-2.6 .8 3.4 .7-.7 .8-.9 .7-.2 .8 2.7 .7-3.2 .8-.6 .7 2.5 .8 1 .7-4.2 .8 .3 .7-.2 .8 2.1 .7 .1 .8 1.2 .7-2.3 .8-.4 .7-.6 .8 2.5" fill="none" stroke="#0000ff" stroke-width="1.0" stroke-linejoin="round"/>
<path d="M436.2 687.6l.7 0 .8-.1 .7 0 .8-.1 .8 .1 .7-.1 .8-.5 .7 0 .8-.4 .7-.3 .8-.6 .7-.3 .8-.6 .7-.8 .8-1.6 .7-1.5 .8-1.6 .7-.6 .8-2.8 .7-2.5 .8-2.1 .7-4.8 .8-2.7 .7-4.8 .8-3.6 .8-6.3 .7-3.4 .8-4.3 .7-4.5 .8-6.3 .7-3 .8-2.8 .7-4.9 .8-2.2 .7-3.4 .8-3.3 .7-3.4 .8-1.7 .7-3.4 .8 .2 .7-2.2 .8-.3 .7 .1 .8-3.2 .7-1.6 .8-1.6 .8 0 .7-.1 .8-3.2 .7-2.1 .8-.9 .7 2.8 .8-1.3 .7-.5 .8-3.7 .7 1.1 .8-1.8 .7 .1 .8 .5 .7-.5 .8 3 .7-4.6 .8 .7 .7-.5 .8 1 .7 .7 .8-2.5 .8-1.6 .7 1.7 .8 1 .7-2.4 .8 2.9 .7-3.2 .8 .4 .7 .1 .8 3.4 .7-1.9 .8-.8 .7-2.2 .8-.3 .7 .5 .8 3.4 .7-.6 .8-1.9 .7-1.4 .8-1.7 .7 1.9 .8 1.4 .8-.1 .7-.3 .8-1.8 .7 1.8 .8-1.1 .7 1.4" fill="none" stroke="#0000ff" stroke-width="1.0" stroke-linejoin="round"/>
<path d="M436.7 687.6l.8 0 .7-.1 .8 .1 .8-.3 .7 .1 .8-.2 .7-.2 .8-.1 .7-.4 .8-.4 .7-.4 .8-.6 .7-.4 .8-.8 .7-1.2 .8-1.8 .7-.9 .8-1.5 .7-3.2 .8-2.5 .7-1.9 .8-4 .7-2.7 .8-5.1 .8-5.2 .7-3.3 .8-4.6 .7-4.4 .8-5.8 .7-4.2 .8-1.6 .7-7 .8-1.2 .7-6.7 .8-1.4 .7-2.7 .8-1.9 .7-3.4 .8-3 .7-.9 .8-3.8 .7-3 .8-.1 .7 3.1 .8-2.2 .8 .4 .7-2.9 .8-3.7 .7-.1 .8 1.1 .7-2.3 .8-.8 .7-.8 .8-.1 .7-2.1 .8 2.9 .7-2.1 .8 2.5 .7 .2 .8-2.9 .7 1.3 .8-.3 .7-1.6 .8-.8 .8 1.8 .7-1.1 .8-1.5 .7-.7 .8 .5 .7 1.2 .8-.6 .7-2.1 .8 .5 .7 .3 .8-1 .7 .3 .8-1.5 .7 .1 .8 1.5 .7-.2 .8-1 .7 3.6 .8-3.6 .7 1.2 .8-.8 .8-1.2 .7 1.6 .8 .5 .7-1.7 .8 .6 .7 3.4 .8-5.6 .7 .9" fill="none" stroke="#0000ff" stroke-width="1.0" stroke-linejoin="round"/>
<path d="M437.1 687.6l.7-.1 .8 0 .8 0 .7-.1 .8-.1 .7 .1 .8-.3 .7-.3 .8-.1 .7-.3 .8-.7 .7-.5 .8-.8 .7-.5 .8-.9 .7-1.6 .8-1 .7-2.6 .8-2.1 .7-2.4 .8-2.8 .7-2.4 .8-5.5 .8-2.8 .7-4.6 .8-3.5 .7-6.9 .8-4.6 .7-1.8 .8-4.9 .7-4.5 .8-5.4 .7-2.4 .8-4.6 .7-4.5 .8-1.7 .7-2.7 .8-3.3 .7-1.5 .8-2.1 .7-.1 .8-.9 .7-1.2 .8-1.3 .8-4.1 .7 1.2 .8-.6 .7-1.5 .8-2.7 .7-3.5 .8 3.6 .7-2 .8 1.9 .7-3.9 .8 2.3 .7-1.8 .8-1.8 .7 .9 .8 0 .7 1.1 .8-.4 .7 .3 .8-1 .7-2 .8-.3 .8 .7 .7-1 .8-2.2 .7-.8 .8 3.9 .7-1.1 .8 2.5 .7-3.8 .8 2.1 .7-1.5 .8 .3 .7-.7 .8 1.3 .7-1 .8-1.6 .7 .4 .8-.3 .7 .4 .8 .1 .8-1.1 .7-.4 .8 .8 .7-2.7 .8 3.1 .7-.2 .8-5.2 .7 2.9" fill="none" stroke="#0000ff" stroke-width="1.0" stroke-linejoin="round"/>
<path d="M437.1 687.5l.8 .1 .7 0 .8-.1 .7 0 .8-.2 .7 0 .8-.2 .7-.2 .8-.3 .7-.6 .8-.4 .7 0 .8-.7 .7-1.3 .8-1.3 .7-1.5 .8-.4 .7-2.2 .8-1.4 .7-2.8 .8-2.4 .8-4 .7-4.6 .8-3.9 .7-3.1 .8-6.6 .7-2.9 .8-5.6 .7-2.9 .8-6.5 .7-4.6 .8-2.1 .7-8.6 .8 1.6 .7-4 .8-4 .7-1 .8-3.7 .7-.7 .8-2.6 .7-.8 .8-3.8 .8-1.1 .7 2.2 .8-3.3 .7-1.7 .8-2 .7-.3 .8 .2 .7-2.7 .8 .9 .7-.9 .8-3 .7 2.2 .8 1.3 .7-2.9 .8-.1 .7 .3 .8-1.6 .7-2.1 .8 2.3 .8-1 .7-.6 .8 2.6 .7-2.1 .8-1.5 .7-.2 .8 3.1 .7-1.3 .8-4 .7 3.3 .8-1.8 .7-.4 .8 2.4 .7-.8 .8-2.5 .7 1.1 .8 .8 .7-1.2 .8 .6 .7-1.8 .8 2.9 .8 .1 .7-3.3 .8-1.2 .7 1.3 .8 1.9 .7-1.1 .8-.5 .7 .2 .8-2.5 .7 2" fill="none" stroke="#0000ff" stroke-width="1.0" stroke-linejoin="round"/>
<path d="M437.3 687.6l.7 0 .8-.1 .8-.1 .7 .1 .8-.1 .7-.2 .8-.1 .7-.2 .8-.2 .7-.6 .8-.1 .7-.2 .8-1.1 .7-1 .8-.6 .7-1.4 .8-2.1 .7-1.6 .8-2.4 .7-1.8 .8-4.2 .7-1.7 .8-5 .8-3.3 .7-4.8 .8-3.8 .7-3.9 .8-5.2 .7-6.5 .8-3.6 .7-3.9 .8-2.1 .7-6.5 .8-3.3 .7-3.6 .8-1.9 .7-1.7 .8-4.4 .7 1 .8-2 .7-2.3 .8-1.8 .7 1.1 .8-6.1 .8-.4 .7 2.6 .8-5.6 .7 1.3 .8-1.5 .7-1.9 .8-.7 .7 .5 .8 .1 .7-.3 .8-.3 .7-1.2 .8-.5 .7 .4 .8-2.2 .7-1.4 .8 2.8 .7-4.5 .8 3.5 .7 .8 .8-4 .8-1.7 .7 1.8 .8 1.5 .7-2.1 .8 2.7 .7-.8 .8-2.6 .7 2.4 .8-3.4 .7 1.3 .8 .8 .7 1.5 .8-.9 .7 .9 .8-4.5 .7 6.7 .8-6.2 .7 1.6 .8 1.8 .7-1.6 .8 .9 .8-3.8 .7 .1 .8 .9 .7-.3 .8 .9 .7-.7" fill="none" stroke="#0000ff" stroke-width="1.0" stroke-linejoin="round"/>
<path d="M437.1 687.6l.8-.1 .7 0 .8 0 .7-.1 .8-.1 .7 0 .8-.1 .7-.2 .8-.3 .7-.3 .8-.8 .8-.5 .7-.7 .8-.7 .7-1 .8-1.6 .7-1.4 .8-1.2 .7-2.9 .8-3.4 .7-2 .8-3.3 .7-3.8 .8-2.1 .7-5.1 .8-3.8 .7-6.7 .8-3.3 .7-5.2 .8-4.9 .7-5.2 .8-2.9 .8-6.3 .7 .1 .8-.9 .7-4.4 .8-7.1 .7 .6 .8-3.3 .7-1.7 .8-1.3 .7 .4 .8-2 .7-3.4 .8 .8 .7-1.7 .8 1.7 .7-5.8 .8 1.1 .7-1.9 .8 .6 .7-3.5 .8 1 .8 .6 .7-1.2 .8-.9 .7 .7 .8-1 .7-1 .8 .7 .7 0 .8 .1 .7-3.3 .8 1.7 .7 2 .8-4.1 .7 2.1 .8-1.1 .7 2 .8 0 .7-1.6 .8-1.3 .7-1.8 .8 1.4 .8-.6 .7 1.1 .8 2.1 .7 .4 .8-2.5 .7-.4 .8-.6 .7 .5 .8-.8 .7 2.8 .8-3.9 .7 1.2 .8-1.2 .7 2.2 .8 1.2 .7-1.8 .8-.8 .7-.3" fill="none" stroke="#0000ff" stroke-width="1.0" stroke-linejoin="round"/>
<path d="M438 687.6l.8 0 .7 0 .8-.1 .7 0 .8-.2 .7 .1 .8-.5 .7-.1 .8 .1 .7-.7 .8-.5 .7-.7 .8-.1 .7-.8 .8-1.3 .7-1.9 .8-1 .7-2.2 .8-1.4 .8-2.2 .7-3.5 .8-3.3 .7-2.8 .8-3.8 .7-6.5 .8-3.2 .7-6 .8-4.4 .7-2.8 .8-6.9 .7-3.3 .8-2.5 .7-4.6 .8-5.9 .7-1.3 .8-3 .7-3.4 .8 1.4 .7-4.6 .8-1.9 .8-.4 .7-2.7 .8-3.4 .7 .5 .8-.5 .7-1.5 .8 .3 .7-1.1 .8-1.3 .7-1.7 .8-.4 .7 2 .8-5.6 .7 3.4 .8-1.5 .7-2 .8 .5 .7 .5 .8-3.3 .7 1.9 .8 .3 .8-2.5 .7 1.2 .8 1.5 .7-2 .8-1.7 .7-1.3 .8-.5 .7 3.7 .8-1.9 .7-.1 .8-.3 .7-.9 .8 3.4 .7-1.7 .8 1 .7-4.1 .8 2.5 .7-.1 .8-2.7 .7 .2 .8 0 .8 2.5 .7-1.3 .8-1.4 .7 1.9 .8-2.1 .7 1.1 .8-.4 .7-1.3 .8 2.6" fill="none" stroke="#0000ff" stroke-width="1.0" stroke-linejoin="round"/>
<path d="M438.1 687.5l.7 .1 .8 0 .7-.2 .8 .1 .7-.1 .8-.3 .7 0 .8-.4 .7-.3 .8 0 .8-.5 .7-.9 .8-.5 .7-.7 .8-1.5 .7-.4 .8-2.2 .7-1.4 .8-2.1 .7-3.4 .8-2.2 .7-3.4 .8-3.5 .7-4.6 .8-3.1 .7-4.7 .8-3.8 .7-5.1 .8-7 .7-3.8 .8-3.3 .8-3.4 .7-5.7 .8-2.6 .7-2.7 .8-3.4 .7-1.2 .8-4.8 .7-.2 .8-3.5 .7-.2 .8-3.3 .7-.5 .8 .3 .7-3.7 .8 .4 .7-.2 .8-1.9 .7-1.1 .8-.3 .7-1.9 .8 1.6 .8-.6 .7 .9 .8-2.6 .7 .7 .8-2.7 .7 1 .8-2.4 .7 1.3 .8-1.1 .7 1.5 .8-4.6 .7 2.4 .8-.5 .7 1.1 .8-2.2 .7 .2 .8 2.2 .7-2.9 .8 .1 .7 2 .8-4.8 .8 3.4 .7-.2 .8-.3 .7-3.1 .8 .4 .7 .7 .8-.2 .7 2 .8-1.7 .7 2.6 .8-2.2 .7 .8 .8-2 .7 0 .8 1.4 .7 .5 .8-2.3 .7 2.7" fill="none" stroke="#0000ff" stroke-width="1.0" stroke-linejoin="round"/>
<path d="M438.2 687.6l.7-.1 .8 0 .8 0 .7-.1 .8-.1 .7 0 .8-.1 .7-.4 .8-.1 .7-.5 .8-.5 .7-.1 .8-1.1 .7-.8 .8-.7 .7-1.8 .8-1.6 .7-1.6 .8-2.1 .7-2.1 .8-3.5 .7-3.6 .8-4.1 .8-3.4 .7-4.4 .8-3.2 .7-7 .8-4.9 .7-4.8 .8-3 .7-3.6 .8-2.7 .7-7.4 .8-1.4 .7-4.1 .8-.1 .7-4.1 .8-.8 .7-4.1 .8-.4 .7-2.7 .8-2.8 .7 .7 .8-3 .8-3.7 .7 1.8 .8-2.5 .7 1.5 .8 .6 .7-2.4 .8-.4 .7-3.1 .8 .1 .7-.3 .8 3 .7-3.7 .8 .5 .7-3.4 .8 1.5 .7 .5 .8-.7 .7-.5 .8 .7 .7-.2 .8-2.7 .8-.4 .7 2.4 .8 .1 .7-3.3 .8 2.7 .7-3.1 .8 1.5 .7 1.9 .8-4.3 .7 2.1 .8-.4 .7-1.5 .8 2.6 .7-2.6 .8 .2 .7-.8 .8 2.1 .7 .1 .8 1 .8-2.4 .7-1 .8 3.3 .7-3.2 .8 1.8 .7 1.3 .8-1.3" fill="none" stroke="#0000ff" stroke-width="1.0" stroke-linejoin="round"/>
<path d="M437.8 687.5l.8 0 .7 .1 .8-.2 .7 .1 .8-.1 .7-.2 .8-.1 .7-.3 .8 0 .8-.5 .7-.1 .8-1.1 .7-.9 .8 0 .7-1.8 .8-.9 .7-1.7 .8-1.8 .7-2.3 .8-3 .7-3 .8-2.5 .7-4.3 .8-2.2 .7-5.5 .8-3.4 .7-6.2 .8-3.5 .7-6 .8-5 .8-3.6 .7-4 .8-.5 .7-8.1 .8-2.3 .7-1.2 .8-3.6 .7-1.9 .8-1.3 .7-3.1 .8-2.5 .7-2.4 .8 .3 .7-.4 .8-1.6 .7 .2 .8-3.1 .7 .1 .8-2.4 .7-2.2 .8 2.8 .8-2.1 .7 1 .8-2.4 .7-1.8 .8 .4 .7 .5 .8-1 .7 .2 .8 .8 .7-1.1 .8 .4 .7-1.2 .8-1.1 .7-.7 .8-2 .7 3.8 .8 .5 .7-3.3 .8-.1 .7-.1 .8 1.5 .8-.5 .7-.6 .8 0 .7-2.5 .8 2.1 .7-.2 .8 .8 .7-1.9 .8 .2 .7 .9 .8 3.5 .7-4.9 .8 3.7 .7-4.4 .8 1.3 .7-1.5 .8 3.2 .7-1.9 .8 0" fill="none" stroke="#0000ff" stroke-width="1.0" stroke-linejoin="round"/>
<path d="M439.1 687.6l.7-.1 .8 0 .7-.1 .8 .1 .8-.3 .7 .2 .8-.4 .7-.4 .8 .1 .7-.5 .8-.3 .7-.5 .8-.5 .7-1.6 .8-.4 .7-1 .8-2.5 .7-1 .8-2.2 .7-3.2 .8-3.8 .7-2.1 .8-4.1 .7-2.4 .8-5.7 .8-3.7 .7-4.9 .8-4.8 .7-6.1 .8-4.1 .7-3.5 .8-4.2 .7-3.8 .8-2.4 .7-4 .8-2 .7-3.3 .8-1.9 .7-3.3 .8-3.2 .7 1.4 .8-1.5 .7-1.7 .8-3.2 .7 1.4 .8-2.4 .8-.9 .7-2 .8-.6 .7-.9 .8 .7 .7-2.1 .8 .3 .7-1.3 .8-1.5 .7 1.4 .8-.3 .7-.5 .8-4.7 .7 5.3 .8-1.8 .7-1.7 .8 3.8 .7-3 .8 .8 .8-1.1 .7-3.8 .8 4.8 .7-3.6 .8 3 .7-1.9 .8-1.3 .7-2.5 .8 2.7 .7-.9 .8 1.3 .7-1.8 .8 2.5 .7-1.9 .8-.1 .7 3.5 .8-1.9 .7-2.2 .8 1.3 .7-3 .8 1.2 .8 .7 .7-.9 .8-.5 .7 2.3" fill="none" stroke="#0000ff" stroke-width="1.0" stroke-linejoin="round"/>
<path d="M438.7 687.6l.8-.1 .7 0 .8 0 .7-.1 .8-.2 .7 .1 .8-.1 .7-.4 .8-.3 .7-.2 .8-.5 .7-.4 .8-.8 .8-.4 .7-2 .8-.9 .7-1.3 .8-2.2 .7-2.2 .8-2.9 .7-1.2 .8-4.6 .7-3.1 .8-5 .7-4.1 .8-4.1 .7-3.1 .8-4.9 .7-3.9 .8-5 .7-4.4 .8-5.9 .7-4.3 .8-1.1 .8-5.5 .7-1.3 .8-4 .7-2.9 .8-.7 .7-3.1 .8-.9 .7 0 .8-2.8 .7 .3 .8-3.1 .7 0 .8-2.8 .7 2.3 .8-5.4 .7 2.4 .8-.3 .7-5 .8 .8 .7-.4 .8 1.5 .8-.7 .7-.6 .8 .9 .7 2 .8-5 .7 1.6 .8-.8 .7 1.2 .8-4.8 .7 .4 .8 .5 .7-.2 .8 1.6 .7-1.2 .8-2.4 .7 1.6 .8-1.5 .7 1.1 .8 .6 .7-1 .8 2.7 .8 1.3 .7-2.6 .8-3.1 .7 4.1 .8 .8 .7-3.4 .8 .7 .7 .9 .8-1.4 .7 1.4 .8-1.1 .7-1.8 .8 .1 .7 .3" fill="none" stroke="#0000ff" stroke-width="1.0" stroke-linejoin="round"/>
<path d="M438.9 687.6l.8 0 .7-.1 .8 0 .7-.1 .8 0 .7 0 .8-.3 .7-.3 .8-.4 .7 .2 .8-.7 .7-.7 .8-.6 .7-1.1 .8-.3 .8-1.6 .7-1.8 .8-2.4 .7-.6 .8-3.5 .7-4.2 .8-2.4 .7-3.4 .8-3.8 .7-5.3 .8-2.6 .7-5.1 .8-5.2 .7-5.3 .8-5.8 .7-3 .8-3.8 .7-4.9 .8-1.7 .7-2.5 .8-4.4 .8-2.5 .7-1.8 .8 .1 .7-2.2 .8-5.7 .7-.1 .8 2.7 .7-5.1 .8 1.6 .7-2.7 .8 .1 .7-3.1 .8-.2 .7-.1 .8-1.5 .7-.7 .8 1.5 .7-2.7 .8 1.5 .7-3.1 .8-.1 .8 1.1 .7-.7 .8 .3 .7-1.7 .8-.4 .7-.9 .8-1.9 .7 1.4 .8 1.8 .7-1.8 .8 .2 .7 1.2 .8-3.3 .7 1.6 .8-1.4 .7 2.2 .8-3.9 .7 1.4 .8-.4 .7 .1 .8-.4 .8 3.3 .7-3.1 .8-.1 .7-2 .8 .1 .7 .7 .8-.8 .7 2.4 .8-1.7 .7 .1 .8 .3 .7-1.2" fill="none" stroke="#0000ff" stroke-width="1.0" stroke-linejoin="round"/>
<path d="M438.9 687.6l.8 0 .7-.1 .8-.1 .7 .1 .8-.1 .7-.1 .8-.1 .8-.4 .7 0 .8-.5 .7-.4 .8-.9 .7-.5 .8-.7 .7-1.1 .8-.7 .7-2.2 .8-1.7 .7-2.4 .8-3.1 .7-2.5 .8-3 .7-2.6 .8-4.2 .7-5.6 .8-4.8 .7-3.9 .8-5.2 .8-1.7 .7-6.2 .8-5.2 .7-4.6 .8-4.4 .7-2.3 .8-6.1 .7-.2 .8-2.7 .7 .2 .8-6.3 .7 1.5 .8-3.3 .7-.1 .8-3.4 .7 .3 .8-.6 .7 1.3 .8-5.5 .8 0 .7-.7 .8-1.4 .7-.1 .8-.4 .7-1.1 .8-2.5 .7 2.3 .8-2.9 .7 1.5 .8 1.1 .7-3.6 .8 1.3 .7 .1 .8-.7 .7-.9 .8 .4 .7 .7 .8-2.6 .7 .9 .8 1 .8-2.1 .7-1 .8 2.6 .7-.3 .8 .2 .7-1.6 .8-1.1 .7 2.9 .8-.5 .7-.8 .8-2 .7 .8 .8-1.6 .7-.3 .8 1.5 .7 .2 .8 .2 .7-.8 .8 2.7 .7-4.4 .8 3.1 .8-2.5" fill="none" stroke="#0000ff" stroke-width="1.0" stroke-linejoin="round"/>
<path d="M440 687.6l.7 .1 .8-.1 .7-.2 .8 .1 .7-.2 .8 0 .7-.2 .8-.2 .7-.5 .8-.2 .8-.3 .7-.9 .8-.6 .7-.6 .8-.9 .7-1.6 .8-.8 .7-2.7 .8-1.6 .7-2.2 .8-4.1 .7-2.1 .8-4.5 .7-4.5 .8-2.4 .7-4.4 .8-6.2 .7-3.4 .8-4.7 .7-5.6 .8-2 .8-6.5 .7-4.4 .8-2.6 .7-3.3 .8-3.2 .7-2.4 .8-3.6 .7 .3 .8-4.4 .7 1.5 .8-2.1 .7-2.8 .8-1.3 .7-1.5 .8-.2 .7 1.4 .8-2.8 .7-1.8 .8 2.2 .8-3.6 .7-.6 .8 2.9 .7-2.6 .8 .3 .7-1.3 .8-.6 .7-.2 .8-.2 .7 1.6 .8-5 .7-2 .8 2.6 .7-2 .8 2.1 .7-2.2 .8 1.5 .7 1.3 .8-2.5 .7-.6 .8 2 .8-2.4 .7 .8 .8-.3 .7-1.8 .8 3 .7-3 .8 2.7 .7-.9 .8-2.2 .7 .9 .8 1.6 .7-1.8 .8 3.4 .7-4.6 .8 3 .7-4.2 .8 1.9" fill="none" stroke="#0000ff" stroke-width="1.0" stroke-linejoin="round"/>
<path d="M440.3 687.5l.7 .1 .8-.1 .7-.1 .8 0 .7-.1 .8-.1 .7-.2 .8-.2 .7-.5 .8 .2 .7-.2 .8-.9 .7-.8 .8-1 .7-.7 .8-1.3 .7-2 .8-1.6 .7-1.8 .8-2.7 .8-3.1 .7-3.2 .8-4.3 .7-3.5 .8-4.2 .7-5.2 .8-4.1 .7-3.7 .8-4.5 .7-7.8 .8-3.7 .7-1.4 .8-4.3 .7-3.4 .8-5.3 .7-1.1 .8-1.9 .7-2.5 .8-3.6 .7-1.7 .8-.6 .8-1.7 .7 .1 .8-6 .7 1.1 .8 1.4 .7-4.2 .8 .8 .7 1 .8-4.1 .7 1.2 .8 1.6 .7-5 .8-1.6 .7 3.7 .8-2.6 .7 .2 .8-.2 .7 1.2 .8-2.5 .7 1.5 .8-.7 .8-1.4 .7 1.3 .8-1.4 .7-.8 .8 4.2 .7-7.4 .8 1 .7 0 .8 .6 .7 .7 .8-.8 .7 3.4 .8-4.1 .7-1 .8 1.4 .7-.8 .8-.2 .7 1.9 .8-1 .8 1 .7-3.3 .8 2.3 .7-1 .8-1 .7-1.5 .8 2.1" fill="none" stroke="#0000ff" stroke-width="1.0" stroke-linejoin="round"/>
<path d="M439.7 687.6l.7 0 .8 0 .7 0 .8-.1 .7-.3 .8 .1 .7-.2 .8-.2 .7-.3 .8-.2 .8-1.1 .7-.2 .8-.3 .7-.9 .8-.9 .7-1.7 .8-1.6 .7-1.3 .8-2.5 .7-3.5 .8-1.5 .7-4.5 .8-2.4 .7-4.5 .8-3.9 .7-4.1 .8-6.4 .7-3.1 .8-5.4 .8-4.8 .7-4 .8-4.7 .7-3.1 .8-3.2 .7-4.2 .8-.7 .7-3.8 .8-3.8 .7-.1 .8-1.8 .7-4.3 .8 .7 .7-2.3 .8-.4 .7-1.7 .8-.3 .7-1.2 .8-4.3 .7 2.4 .8-.1 .8-.4 .7 .1 .8-1.8 .7 .8 .8-1.1 .7-2.4 .8-.7 .7 2.3 .8-1.2 .7-3.8 .8 .6 .7 2.9 .8-1.7 .7-3 .8 2.8 .7 .5 .8-.7 .7-1.2 .8-.5 .7-.7 .8-.1 .8 .9 .7 3.1 .8-.1 .7-4.2 .8-2 .7 1.8 .8-.4 .7-.1 .8-2.2 .7 2.2 .8-1 .7 .9 .8-2.4 .7 2.2 .8-2 .7 .5 .8 .1 .7 .1" fill="none" stroke="#0000ff" stroke-width="1.0" stroke-linejoin="round"/>
<path d="M440.1 687.6l.8-.1 .7 0 .8-.1 .7 0 .8 .1 .7-.2 .8-.3 .7-.3 .8 .1 .8-.5 .7-.4 .8-.3 .7-1.4 .8-.6 .7-.8 .8-.8 .7-2.1 .8-1.8 .7-2.3 .8-2.5 .7-2.8 .8-3.8 .7-3.8 .8-3.8 .7-3.5 .8-4 .7-5.5 .8-5 .7-3.2 .8-5.2 .8-4.2 .7-4.9 .8-4.1 .7-2.4 .8-3.9 .7-1.2 .8-5.1 .7-.8 .8-2.5 .7-3.2 .8-.9 .7-2.4 .8-.5 .7-1.2 .8 2.8 .7-6 .8 1.3 .7-2.4 .8 .3 .7-1.7 .8-1.3 .8 2.5 .7-1 .8-4.6 .7 1.7 .8-.7 .7-2.2 .8 2.1 .7 .1 .8-1 .7 .2 .8 1.5 .7-3.4 .8 2.1 .7 1.1 .8-7.5 .7 3.5 .8 2.1 .7-1.7 .8-1.6 .8 2.8 .7-1 .8-3.8 .7 3.3 .8-1.6 .7 .4 .8-2.1 .7 2.3 .8-.7 .7-1.7 .8 .7 .7 2.5 .8 0 .7-4.5 .8 2.8 .7-1.3 .8-.4 .7 1" fill="none" stroke="#0000ff" stroke-width="1.0" stroke-linejoin="round"/>
<path d="M441.1 687.6l.8-.1 .7 0 .8 0 .7 0 .8-.2 .7-.1 .8-.1 .8-.1 .7-.6 .8 .1 .7-.6 .8-.6 .7-.9 .8-.5 .7-.5 .8-2.1 .7-2 .8-1 .7-2.4 .8-2.6 .7-3.8 .8-2.2 .7-3.4 .8-7.7 .7-.9 .8-4 .7-6.1 .8-5.9 .8-2.5 .7-2.4 .8-6.2 .7-1.9 .8-5.9 .7-4.1 .8-3.8 .7-.1 .8-6 .7-1.5 .8-1.8 .7-1 .8-2 .7-3.6 .8-1 .7 2.6 .8-3.3 .7-1.2 .8-1.4 .7 0 .8-2.3 .8 1.9 .7-1.1 .8-1.8 .7 .7 .8-2 .7-.9 .8 1.5 .7-2 .8-1.4 .7 3.1 .8-2.9 .7 .5 .8 1.2 .7-4.3 .8 1.1 .7 1.6 .8-2.1 .7-.4 .8 .2 .7-.5 .8-.2 .8 .8 .7-.6 .8 2.2 .7-2.2 .8 1.8 .7-2.4 .8 2.1 .7-2.8 .8 1.8 .7-1.7 .8 2 .7-3.6 .8 .3 .7 1.2 .8-2.1 .7 3.4 .8-2.5" fill="none" stroke="#0000ff" stroke-width="1.0" stroke-linejoin="round"/>
<path d="M441 687.6l.8 0 .7-.1 .8-.1 .7-.1 .8 0 .7-.1 .8-.2 .7-.1 .8-.5 .7-.4 .8-.1 .7-.2 .8-1.3 .7-.6 .8-1 .7-.9 .8-1.6 .7-2.4 .8-1.6 .8-2.9 .7-2.5 .8-2.7 .7-6.3 .8-3.5 .7-4.3 .8-4.5 .7-3.5 .8-4.6 .7-3.1 .8-4.8 .7-5.5 .8-4.5 .7-2.8 .8-3.7 .7-4.2 .8-1.4 .7-4.1 .8-1.8 .8-2.2 .7-2.4 .8-1.8 .7-.6 .8-1.7 .7-2.8 .8 2.8 .7-1 .8-1 .7-1.5 .8-2.6 .7-1.9 .8-.8 .7-1.6 .8 1.3 .7-2.5 .8 2.1 .7-.2 .8-1.6 .7-.4 .8 .3 .8 .5 .7-1.6 .8 2.5 .7-3.9 .8 .1 .7-.1 .8 .1 .7 .4 .8 .2 .7-1.5 .8 2.6 .7-5.2 .8 2.9 .7-.5 .8-2.2 .7-.3 .8 2.1 .7 1.3 .8-1.2 .7-.9 .8-.5 .8-.3 .7 0 .8 1.3 .7 .5 .8-.8 .7-1.9 .8 1.7" fill="none" stroke="#0000ff" stroke-width="1.0" stroke-linejoin="round"/>
<path d="M441.4 687.5l.7 .1 .8-.1 .8 0 .7-.2 .8-.1 .7 0 .8-.2 .7-.2 .8-.3 .7-.1 .8-.3 .7-1 .8-.4 .7-1 .8-.9 .7-1 .8-1.8 .7-2 .8-2.7 .7-1.4 .8-2.6 .7-5.5 .8-2 .8-4.6 .7-5.1 .8-2 .7-5.6 .8-3.2 .7-7.4 .8-4.3 .7-5.5 .8-2.4 .7-5.7 .8-1.9 .7-1.4 .8-3.5 .7-2 .8-3.4 .7-1.3 .8-3 .7-3.2 .8 .7 .7-2.1 .8-2.2 .8-1.6 .7 2 .8-4.8 .7 .2 .8 .9 .7-.4 .8-1.2 .7-3.1 .8 3 .7-2.2 .8-2.4 .7 3.1 .8-2.1 .7-2.8 .8-1.5 .7 3.1 .8-1 .7 .9 .8-.4 .7-1.6 .8 1.4 .8-.5 .7-2.1 .8 2.4 .7-1.1 .8-.7 .7 .5 .8-1.8 .7-.2 .8 .8 .7-1.3 .8 3.3 .7-2 .8 .6 .7 1.4 .8-.7 .7 .8 .8-4.3 .7 3.5 .8-3.1 .7 .2 .8 .5 .8-.3" fill="none" stroke="#0000ff" stroke-width="1.0" stroke-linejoin="round"/>
<path d="M441.2 687.6l.8 0 .7-.2 .8 0 .7-.1 .8 .1 .8-.2 .7-.1 .8 0 .7-.5 .8-.5 .7-.2 .8-.2 .7-.6 .8-1.3 .7-1 .8-1.2 .7-1.5 .8-2.1 .7-2.4 .8-1.5 .7-2.9 .8-4.1 .7-4.1 .8-4.1 .7-4.7 .8-4.6 .8-3.8 .7-5.2 .8-3.7 .7-5.3 .8-4.8 .7-3.5 .8-6.2 .7-.2 .8-3.8 .7-.9 .8-4.8 .7-1.9 .8-3.1 .7 2 .8-4.1 .7-.3 .8-3.4 .7-.1 .8-3.2 .7-.6 .8-.5 .8-1.7 .7 1.4 .8-.6 .7-.2 .8-3.5 .7-.1 .8 .2 .7 .4 .8-3.1 .7 .9 .8 1.4 .7-1.7 .8-.6 .7-1.8 .8 .8 .7 1.2 .8 .1 .7-4 .8 2.6 .8-1.3 .7-1 .8 3.7 .7-1.9 .8-2.7 .7-.1 .8 1.5 .7-2.5 .8 1.6 .7 .9 .8-2.8 .7 2 .8 .2 .7-1.7 .8 1.3 .7 .3 .8-.4 .7-1.7 .8 2 .7-1.8 .8 .7" fill="none" stroke="#0000ff" stroke-width="1.0" stroke-linejoin="round"/>
<path d="M441.5 687.6l.7-.1 .8 .1 .7-.1 .8-.1 .7 0 .8-.2 .8-.2 .7-.1 .8-.6 .7-.1 .8-.5 .7-.4 .8-.8 .7-.9 .8-.8 .7-1.1 .8-1.6 .7-1.6 .8-2.4 .7-2.1 .8-2.8 .7-4.5 .8-3.9 .7-3.9 .8-4.1 .7-3.6 .8-4.8 .8-4.9 .7-5.6 .8-4.3 .7-4.1 .8-3.6 .7-7.4 .8 .2 .7-2.8 .8-4.3 .7 .1 .8-3.1 .7-2.2 .8-4.8 .7 1.3 .8-2.3 .7-1.4 .8-4.5 .7-.2 .8 .6 .7-2.4 .8 2.7 .8-4.1 .7 1.8 .8-1.2 .7 2.8 .8-4.4 .7 1.4 .8-3.2 .7-1.4 .8 1.6 .7 .9 .8-2.9 .7 1.9 .8-1 .7-1.1 .8-.1 .7-.3 .8-1.4 .7 .8 .8 .2 .7-1.9 .8-2.9 .8 4.4 .7-2 .8 1.5 .7-2.2 .8 1.6 .7-1 .8-.3 .7 .2 .8 .5 .7-3.2 .8 4.1 .7-.4 .8-1.1 .7-3 .8 3.5 .7-1.4 .8 2.3" fill="none" stroke="#0000ff" stroke-width="1.0" stroke-linejoin="round"/>
<path d="M441.5 687.6l.8 0 .7-.2 .8 .1 .7-.1 .8-.3 .7 0 .8 0 .7-.2 .8-.1 .8-.4 .7-.8 .8-.1 .7-.8 .8-.9 .7-1.4 .8-.3 .7-1.5 .8-2.4 .7-2.8 .8-2.7 .7-3 .8-2.1 .7-5.4 .8-2 .7-5.2 .8-4.1 .7-4.2 .8-3.1 .7-6.2 .8-5.5 .8-3.8 .7-4.3 .8-3.8 .7-3.4 .8-4.4 .7-1.3 .8-4.6 .7 .8 .8-4 .7-2.9 .8 .6 .7-1.5 .8-2.1 .7-3.5 .8-.9 .7 1.5 .8 1.3 .7-3.6 .8-.7 .7-.3 .8-2.7 .8 2.1 .7-3 .8 .4 .7-1.7 .8-1.1 .7 .2 .8-.6 .7 .3 .8 2.4 .7-2.1 .8-1.5 .7 1.1 .8-1.7 .7 2.1 .8-.7 .7-1.9 .8 .2 .7 0 .8-1.8 .7-.4 .8 1.3 .8-1.3 .7 1.1 .8 1.1 .7-1.7 .8 1 .7 1.5 .8-3.3 .7 2.6 .8-3.4 .7-.6 .8 1.8 .7-.6 .8-2 .7 3.8" fill="none" stroke="#0000ff" stroke-width="1.0" stroke-linejoin="round"/>
<path d="M496.9 575.2l1.2-1.1 1.3 .8 1.2 0 1.3-.5 1.3 .6 1.2-1.2 1.3 .4 1.2-.3 1.3 1.1 1.2-.4 1.3-.8 1.2-.5 1.3 0 1.2 .8 1.3 .1 1.3-.1 1.2 .4 1.3-.2 1.2-.8 1.3 .4 1.2 1 1.3-.3 1.2-.3 1.3-1.7 1.2-.5 1.3 .1 1.2 .4 1.3 1.6 1.3-1.1 1.2 .6 1.3-.5 1.2 .5 1.3-.6 1.2 .3 1.3-.1 1.2-.1 1.3 .4 1.2-1.1 1.3 .4 1.2-.3 1.3 .2 1.3 .1 1.2-.4 1.3 .6 1.2-.4 1.3-.1 1.2 0 1.3-1.1 1.2 1.3 1.3 0 1.2 .2 1.3-.9 1.3-.2 1.2 .4 1.3-.3 1.2 .3 1.3-1.1 1.2 1.3 1.3 0 1.2-1.6 1.3 .2 1.2 .5 1.3-.2 1.2 1.1 1.3-.1 1.3-1.2 1.2 .5 1.3 0 1.2-.1 1.3 .9 1.2-.6 1.3 .4 1.2-.6 1.3 .6 1.2-.5 1.3 .6 1.2-.2 1.3-2.8 1.3 2.5 0 9.5-1.3 .2-1.3 0-1.2-.6-1.3 1.1-1.2-.5-1.3-.7-1.2 .7-1.3-.8-1.2 1.6-1.3-1-1.2 .1-1.3 .9-1.2-.4-1.3-.7-1.3-.3-1.2-.1-1.3 1-1.2 .1-1.3 0-1.2-1.1-1.3 .8-1.2 1.5-1.3-1.2-1.2 .3-1.3 .3-1.2 0-1.3-.7-1.3 .1-1.2 .9-1.3-.1-1.2-1.2-1.3 0-1.2 1-1.3 0-1.2-.6-1.3 .3-1.2-.9-1.3 2-1.3-1.5-1.2 .5-1.3-.1-1.2 1-1.3-1.8-1.2 1.1-1.3-.8-1.2 .9-1.3 0-1.2 .2-1.3 .6-1.2-1.1-1.3 .5-1.3 0-1.2-.3-1.3 .7-1.2-.1-1.3 .8-1.2-.8-1.3 .3-1.2-.5-1.3 1.1-1.2-.5-1.3 1.2-1.2-1.5-1.3 .4-1.3 0-1.2 .5-1.3-.4-1.2 1-1.3-1.2-1.2 0-1.3 .3-1.2-1-1.3 .6-1.2 0-1.3 .4-1.3-.3-1.2 .8-1.3 0-1.2-.2z" fill="#0000ff"/>
<circle cx="594.70" cy="687.60" r="5.35" fill="#c8c8c8" stroke="#000" stroke-width="1.15"/>
<circle cx="594.70" cy="571.50" r="5.35" fill="#b00000" stroke="#000" stroke-width="1.15"/>
<circle cx="594.70" cy="573.50" r="5.35" fill="#b00000" stroke="#000" stroke-width="1.15"/>
<circle cx="594.70" cy="581.00" r="5.35" fill="#200000" stroke="#000" stroke-width="1.15"/>
<circle cx="594.70" cy="577.90" r="5.35" fill="#ff0000" stroke="#000" stroke-width="1.15"/>
</g>
<path d="M366.6 562.50V692.40H603.5V562.50" fill="none" stroke="#111" stroke-width="1.2"/>
<line x1="366.00" y1="563.10" x2="604.10" y2="563.10" stroke="#585858" stroke-width="2"/>
<line x1="406.60" y1="692.4" x2="406.60" y2="699.00" stroke="#000" stroke-width="1"/>
<text x="406.60" y="715.60" font-size="17.6" text-anchor="middle">50</text>
<line x1="469.30" y1="692.4" x2="469.30" y2="699.00" stroke="#000" stroke-width="1"/>
<text x="469.30" y="715.60" font-size="17.6" text-anchor="middle">100</text>
<line x1="532.00" y1="692.4" x2="532.00" y2="699.00" stroke="#000" stroke-width="1"/>
<text x="532.00" y="715.60" font-size="17.6" text-anchor="middle">150</text>
<line x1="594.70" y1="692.4" x2="594.70" y2="699.00" stroke="#000" stroke-width="1"/>
<text x="594.70" y="715.60" font-size="17.6" text-anchor="middle">200</text>
<line x1="359.90" y1="687.60" x2="366.6" y2="687.60" stroke="#000" stroke-width="1"/>
<text transform="translate(351.80,687.60) rotate(-90)" font-size="17.6" text-anchor="middle">0</text>
<line x1="359.90" y1="664.56" x2="366.6" y2="664.56" stroke="#000" stroke-width="1"/>
<line x1="359.90" y1="641.52" x2="366.6" y2="641.52" stroke="#000" stroke-width="1"/>
<text transform="translate(351.80,641.52) rotate(-90)" font-size="17.6" text-anchor="middle">10000</text>
<line x1="359.90" y1="618.48" x2="366.6" y2="618.48" stroke="#000" stroke-width="1"/>
<line x1="359.90" y1="595.44" x2="366.6" y2="595.44" stroke="#000" stroke-width="1"/>
<line x1="359.90" y1="572.40" x2="366.6" y2="572.40" stroke="#000" stroke-width="1"/>
<text transform="translate(351.80,572.40) rotate(-90)" font-size="17.6" text-anchor="middle">25000</text>
<text x="368.10" y="580.10" font-size="21.2">H</text>
<text transform="translate(21.7,516.2) rotate(-90)" font-size="29.5">Number of parasitic juveniles</text>
<text transform="translate(640.6,500.8) rotate(-90)" font-size="29.6">Number of resistant larvae</text>
<text x="283.1" y="767.8" font-size="29.6">Time (years)</text>
</svg>
</body></html>
